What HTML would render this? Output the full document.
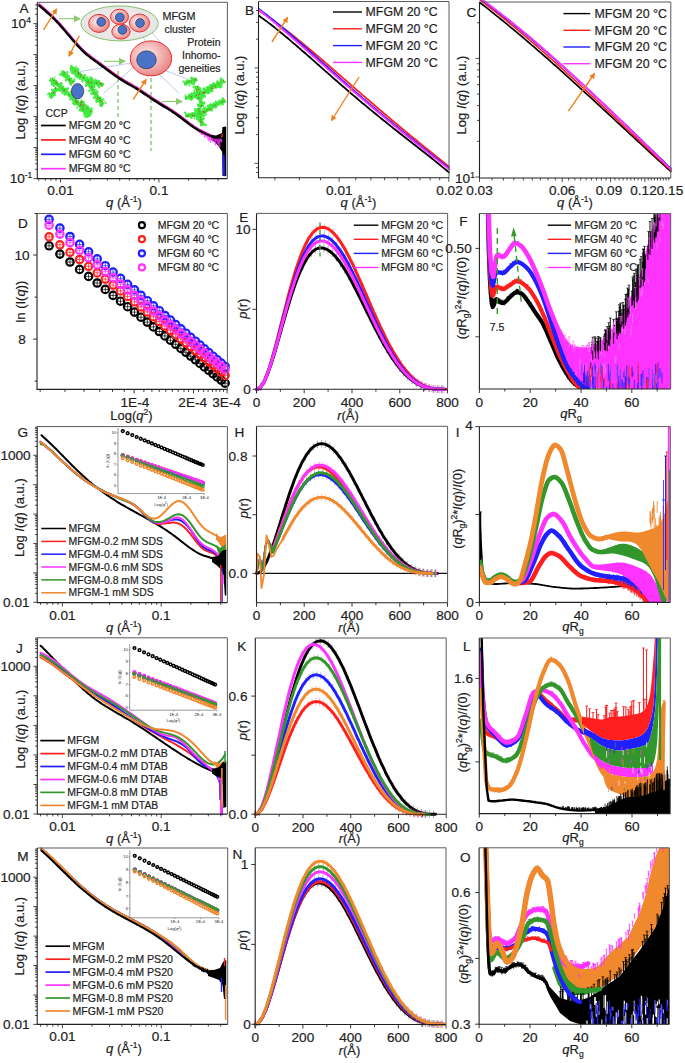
<!DOCTYPE html>
<html><head><meta charset="utf-8"><title>Figure</title>
<style>html,body{margin:0;padding:0;background:#fff;}svg{display:block;}
text{font-family:"Liberation Sans",sans-serif;stroke:#1e1e1e;stroke-width:0.2px;}</style></head>
<body><svg width="685" height="1063" viewBox="0 0 685 1063" font-family="Liberation Sans, sans-serif">
<rect width="685" height="1063" fill="#fff"/>
<defs>
<radialGradient id="cellg" cx="0.4" cy="0.4" r="0.65"><stop offset="0" stop-color="#fdf0f0"/><stop offset="0.5" stop-color="#f4b8b8"/><stop offset="1" stop-color="#e98080"/></radialGradient>
<radialGradient id="ellg" cx="0.5" cy="0.5" r="0.6"><stop offset="0" stop-color="#f4f4f4"/><stop offset="1" stop-color="#e2e2e2"/></radialGradient>
<marker id="ahO" markerWidth="6" markerHeight="6" refX="5" refY="3" orient="auto" markerUnits="userSpaceOnUse"><path d="M0,0 L6,3 L0,6 z" fill="#f0821e"/></marker>
<marker id="ahG" markerWidth="7" markerHeight="7" refX="6" refY="3.5" orient="auto" markerUnits="userSpaceOnUse"><path d="M0,0 L7,3.5 L0,7 z" fill="#8cc86e"/></marker>
</defs>
<line x1="140" y1="30" x2="147" y2="45" stroke="#8ea6d6" stroke-width="0.6"/>
<line x1="150" y1="31" x2="166" y2="48" stroke="#8ea6d6" stroke-width="0.6"/>
<line x1="80" y1="71.5" x2="137" y2="62" stroke="#8ea6d6" stroke-width="0.6"/>
<line x1="103.4" y1="93.4" x2="137" y2="64.2" stroke="#8ea6d6" stroke-width="0.6"/>
<line x1="164" y1="70" x2="186.6" y2="78.8" stroke="#8ea6d6" stroke-width="0.6"/>
<line x1="158" y1="73" x2="178.8" y2="93.2" stroke="#8ea6d6" stroke-width="0.6"/>
<ellipse cx="119.6" cy="23.4" rx="38.7" ry="17.5" fill="url(#ellg)" stroke="#86c06c" stroke-width="1"/>
<ellipse cx="99" cy="23.4" rx="10.4" ry="9" fill="url(#cellg)" stroke="#e83030" stroke-width="1"/>
<ellipse cx="101.2" cy="21.9" rx="4.4" ry="4.4" fill="#4a72c8" stroke="#223" stroke-width="0.6"/>
<ellipse cx="119.5" cy="16.8" rx="9" ry="7.6" fill="url(#cellg)" stroke="#e83030" stroke-width="1"/>
<ellipse cx="119.8" cy="17.3" rx="4.4" ry="4.4" fill="#4a72c8" stroke="#223" stroke-width="0.6"/>
<ellipse cx="121" cy="31.6" rx="9.2" ry="7.5" fill="url(#cellg)" stroke="#e83030" stroke-width="1"/>
<ellipse cx="122.4" cy="29.9" rx="4.4" ry="4.4" fill="#4a72c8" stroke="#223" stroke-width="0.6"/>
<ellipse cx="139.5" cy="23" rx="10" ry="9" fill="url(#cellg)" stroke="#e83030" stroke-width="1"/>
<ellipse cx="140" cy="23" rx="4.4" ry="4.4" fill="#4a72c8" stroke="#223" stroke-width="0.6"/>
<ellipse cx="151" cy="58.4" rx="20.7" ry="17.5" fill="url(#cellg)" stroke="#e83030" stroke-width="1"/>
<ellipse cx="146.5" cy="59.8" rx="9.8" ry="9" fill="#4a72c8" stroke="#223" stroke-width="0.6"/>
<path d="M50.6 82.6a1.3 1.3 0 1 0 2.6 0a1.3 1.3 0 1 0 -2.6 0M54.8 82.8a1.1 1.1 0 1 0 2.1 0a1.1 1.1 0 1 0 -2.1 0M61.2 91.1a0.8 0.8 0 1 0 1.6 0a0.8 0.8 0 1 0 -1.6 0M48.9 80.8a1 1 0 1 0 2.1 0a1 1 0 1 0 -2.1 0M66.8 88.8a1.1 1.1 0 1 0 2.1 0a1.1 1.1 0 1 0 -2.1 0M64.6 89.3a1.5 1.5 0 1 0 2.9 0a1.5 1.5 0 1 0 -2.9 0M69.7 91.3a0.7 0.7 0 1 0 1.4 0a0.7 0.7 0 1 0 -1.4 0M58.2 90.1a1 1 0 1 0 2 0a1 1 0 1 0 -2 0M54.8 81.8a0.7 0.7 0 1 0 1.4 0a0.7 0.7 0 1 0 -1.4 0M54.4 81.9a1.1 1.1 0 1 0 2.2 0a1.1 1.1 0 1 0 -2.2 0M55.8 81a0.9 0.9 0 1 0 1.8 0a0.9 0.9 0 1 0 -1.8 0M60 85.2a0.7 0.7 0 1 0 1.4 0a0.7 0.7 0 1 0 -1.4 0M65.4 93a1.2 1.2 0 1 0 2.4 0a1.2 1.2 0 1 0 -2.4 0M50.8 84.3a1.4 1.4 0 1 0 2.8 0a1.4 1.4 0 1 0 -2.8 0M52.8 79.7a1.3 1.3 0 1 0 2.6 0a1.3 1.3 0 1 0 -2.6 0M61.4 92.9a1 1 0 1 0 2.1 0a1 1 0 1 0 -2.1 0M65 93.5a0.9 0.9 0 1 0 1.9 0a0.9 0.9 0 1 0 -1.9 0M59 90.5a1.4 1.4 0 1 0 2.8 0a1.4 1.4 0 1 0 -2.8 0M59.4 87.6a0.7 0.7 0 1 0 1.5 0a0.7 0.7 0 1 0 -1.5 0M53.2 84.2a1 1 0 1 0 2.1 0a1 1 0 1 0 -2.1 0M52.8 81.7a1.3 1.3 0 1 0 2.5 0a1.3 1.3 0 1 0 -2.5 0M63.4 89.3a1.1 1.1 0 1 0 2.1 0a1.1 1.1 0 1 0 -2.1 0M58.2 88.6a1.1 1.1 0 1 0 2.2 0a1.1 1.1 0 1 0 -2.2 0M57.8 85.1a0.7 0.7 0 1 0 1.4 0a0.7 0.7 0 1 0 -1.4 0M49.4 80.3a1.5 1.5 0 1 0 3 0a1.5 1.5 0 1 0 -3 0M61.9 88a0.8 0.8 0 1 0 1.7 0a0.8 0.8 0 1 0 -1.7 0M56.9 89.6a1.3 1.3 0 1 0 2.6 0a1.3 1.3 0 1 0 -2.6 0M58.6 89.6a0.9 0.9 0 1 0 1.8 0a0.9 0.9 0 1 0 -1.8 0M57.4 89.7a1.2 1.2 0 1 0 2.3 0a1.2 1.2 0 1 0 -2.3 0M59.7 85.1a1.1 1.1 0 1 0 2.3 0a1.1 1.1 0 1 0 -2.3 0M70.2 92.1a1.3 1.3 0 1 0 2.7 0a1.3 1.3 0 1 0 -2.7 0M63.4 94.5a1.3 1.3 0 1 0 2.6 0a1.3 1.3 0 1 0 -2.6 0M65.1 92.4a1.1 1.1 0 1 0 2.3 0a1.1 1.1 0 1 0 -2.3 0M59.8 83.4a1.4 1.4 0 1 0 2.8 0a1.4 1.4 0 1 0 -2.8 0M62.2 86.6a1.1 1.1 0 1 0 2.2 0a1.1 1.1 0 1 0 -2.2 0M59.9 86a1 1 0 1 0 2 0a1 1 0 1 0 -2 0M59.4 88.3a1.2 1.2 0 1 0 2.4 0a1.2 1.2 0 1 0 -2.4 0M61.1 83.8a0.9 0.9 0 1 0 1.8 0a0.9 0.9 0 1 0 -1.8 0M52.6 82a1.4 1.4 0 1 0 2.8 0a1.4 1.4 0 1 0 -2.8 0M63.4 93.7a1.4 1.4 0 1 0 2.7 0a1.4 1.4 0 1 0 -2.7 0M53 84.7a1.2 1.2 0 1 0 2.5 0a1.2 1.2 0 1 0 -2.5 0M54.2 77.3a0.7 0.7 0 1 0 1.4 0a0.7 0.7 0 1 0 -1.4 0M86.9 116.5a1.1 1.1 0 1 0 2.2 0a1.1 1.1 0 1 0 -2.2 0M72.7 100.7a1 1 0 1 0 2 0a1 1 0 1 0 -2 0M81.2 106.1a1.2 1.2 0 1 0 2.4 0a1.2 1.2 0 1 0 -2.4 0M70.7 95.7a1.5 1.5 0 1 0 2.9 0a1.5 1.5 0 1 0 -2.9 0M87.1 112a1.4 1.4 0 1 0 2.8 0a1.4 1.4 0 1 0 -2.8 0M72.7 103.9a1.3 1.3 0 1 0 2.6 0a1.3 1.3 0 1 0 -2.6 0M78.9 102.6a0.7 0.7 0 1 0 1.4 0a0.7 0.7 0 1 0 -1.4 0M88.6 110.7a1.4 1.4 0 1 0 2.7 0a1.4 1.4 0 1 0 -2.7 0M88 115.1a0.8 0.8 0 1 0 1.7 0a0.8 0.8 0 1 0 -1.7 0M83.7 115.3a1.3 1.3 0 1 0 2.5 0a1.3 1.3 0 1 0 -2.5 0M79.8 105.1a1 1 0 1 0 2 0a1 1 0 1 0 -2 0M72.2 100.5a1 1 0 1 0 2.1 0a1 1 0 1 0 -2.1 0M74.7 97.4a1.2 1.2 0 1 0 2.5 0a1.2 1.2 0 1 0 -2.5 0M75 101.4a1 1 0 1 0 1.9 0a1 1 0 1 0 -1.9 0M84.7 115a0.7 0.7 0 1 0 1.4 0a0.7 0.7 0 1 0 -1.4 0M73.4 98.6a1.5 1.5 0 1 0 3 0a1.5 1.5 0 1 0 -3 0M85.6 110.3a0.9 0.9 0 1 0 1.7 0a0.9 0.9 0 1 0 -1.7 0M80.3 110.7a1.4 1.4 0 1 0 2.9 0a1.4 1.4 0 1 0 -2.9 0M73.7 104.3a1.2 1.2 0 1 0 2.5 0a1.2 1.2 0 1 0 -2.5 0M76.3 107.7a0.9 0.9 0 1 0 1.8 0a0.9 0.9 0 1 0 -1.8 0M85.8 107.9a0.8 0.8 0 1 0 1.7 0a0.8 0.8 0 1 0 -1.7 0M88.4 112.3a1.3 1.3 0 1 0 2.6 0a1.3 1.3 0 1 0 -2.6 0M79.3 109.2a1 1 0 1 0 2 0a1 1 0 1 0 -2 0M76.5 101.2a1.4 1.4 0 1 0 2.8 0a1.4 1.4 0 1 0 -2.8 0M78.4 109.9a1.4 1.4 0 1 0 2.8 0a1.4 1.4 0 1 0 -2.8 0M71.7 98.5a0.8 0.8 0 1 0 1.6 0a0.8 0.8 0 1 0 -1.6 0M71.6 94.1a1.4 1.4 0 1 0 2.8 0a1.4 1.4 0 1 0 -2.8 0M83.1 112.9a1 1 0 1 0 1.9 0a1 1 0 1 0 -1.9 0M79.9 109.2a1 1 0 1 0 2 0a1 1 0 1 0 -2 0M82.1 105.5a0.8 0.8 0 1 0 1.5 0a0.8 0.8 0 1 0 -1.5 0M72.2 102.8a1.2 1.2 0 1 0 2.3 0a1.2 1.2 0 1 0 -2.3 0M87.8 113.8a0.9 0.9 0 1 0 1.8 0a0.9 0.9 0 1 0 -1.8 0M83.4 112.9a0.7 0.7 0 1 0 1.4 0a0.7 0.7 0 1 0 -1.4 0M84.7 106.8a0.8 0.8 0 1 0 1.6 0a0.8 0.8 0 1 0 -1.6 0M89.2 110.9a0.9 0.9 0 1 0 1.8 0a0.9 0.9 0 1 0 -1.8 0M89.4 114.9a0.8 0.8 0 1 0 1.6 0a0.8 0.8 0 1 0 -1.6 0M73.4 97.5a1.3 1.3 0 1 0 2.6 0a1.3 1.3 0 1 0 -2.6 0M69 99.6a1 1 0 1 0 2 0a1 1 0 1 0 -2 0M86.4 117a0.9 0.9 0 1 0 1.9 0a0.9 0.9 0 1 0 -1.9 0M74.4 100.5a0.8 0.8 0 1 0 1.6 0a0.8 0.8 0 1 0 -1.6 0M84.7 106.2a0.7 0.7 0 1 0 1.4 0a0.7 0.7 0 1 0 -1.4 0M89.5 114.1a1.2 1.2 0 1 0 2.4 0a1.2 1.2 0 1 0 -2.4 0M79.2 103.5a0.8 0.8 0 1 0 1.5 0a0.8 0.8 0 1 0 -1.5 0M84.4 116.2a1.5 1.5 0 1 0 3 0a1.5 1.5 0 1 0 -3 0M72.5 96.3a1.2 1.2 0 1 0 2.4 0a1.2 1.2 0 1 0 -2.4 0M88.1 115.3a1.3 1.3 0 1 0 2.5 0a1.3 1.3 0 1 0 -2.5 0M83.3 107.5a1.1 1.1 0 1 0 2.3 0a1.1 1.1 0 1 0 -2.3 0M72.8 80.8a1.3 1.3 0 1 0 2.6 0a1.3 1.3 0 1 0 -2.6 0M70.2 84.4a1 1 0 1 0 1.9 0a1 1 0 1 0 -1.9 0M61.7 72.8a1.4 1.4 0 1 0 2.9 0a1.4 1.4 0 1 0 -2.9 0M62.4 76.8a0.8 0.8 0 1 0 1.6 0a0.8 0.8 0 1 0 -1.6 0M73.5 79.6a1 1 0 1 0 1.9 0a1 1 0 1 0 -1.9 0M68.9 83.4a1.4 1.4 0 1 0 2.9 0a1.4 1.4 0 1 0 -2.9 0M68.7 82.4a1.3 1.3 0 1 0 2.5 0a1.3 1.3 0 1 0 -2.5 0M63.5 73.2a0.8 0.8 0 1 0 1.7 0a0.8 0.8 0 1 0 -1.7 0M68.1 80.6a0.9 0.9 0 1 0 1.8 0a0.9 0.9 0 1 0 -1.8 0M59 74.5a1.3 1.3 0 1 0 2.7 0a1.3 1.3 0 1 0 -2.7 0M66.4 78a1.4 1.4 0 1 0 2.8 0a1.4 1.4 0 1 0 -2.8 0M66.6 76.2a1 1 0 1 0 1.9 0a1 1 0 1 0 -1.9 0M66.1 72.1a1.2 1.2 0 1 0 2.4 0a1.2 1.2 0 1 0 -2.4 0M65.5 76.6a0.7 0.7 0 1 0 1.5 0a0.7 0.7 0 1 0 -1.5 0M67 73.8a0.8 0.8 0 1 0 1.6 0a0.8 0.8 0 1 0 -1.6 0M62.1 76.1a1 1 0 1 0 2 0a1 1 0 1 0 -2 0M64.9 76.7a0.9 0.9 0 1 0 1.8 0a0.9 0.9 0 1 0 -1.8 0M60.8 71.7a1.1 1.1 0 1 0 2.2 0a1.1 1.1 0 1 0 -2.2 0M68.2 78.7a1.2 1.2 0 1 0 2.5 0a1.2 1.2 0 1 0 -2.5 0M70.3 78.6a1.1 1.1 0 1 0 2.2 0a1.1 1.1 0 1 0 -2.2 0M67.7 75.6a1 1 0 1 0 2.1 0a1 1 0 1 0 -2.1 0M64.6 80a1.4 1.4 0 1 0 2.9 0a1.4 1.4 0 1 0 -2.9 0M63.5 75.4a0.7 0.7 0 1 0 1.5 0a0.7 0.7 0 1 0 -1.5 0M61.3 72.4a1.4 1.4 0 1 0 2.8 0a1.4 1.4 0 1 0 -2.8 0M61 74.7a1.4 1.4 0 1 0 2.8 0a1.4 1.4 0 1 0 -2.8 0M63 76a1.4 1.4 0 1 0 2.8 0a1.4 1.4 0 1 0 -2.8 0M63.8 76.8a1.3 1.3 0 1 0 2.6 0a1.3 1.3 0 1 0 -2.6 0M71.2 72.5a1.5 1.5 0 1 0 2.9 0a1.5 1.5 0 1 0 -2.9 0M70 70.1a1.4 1.4 0 1 0 2.7 0a1.4 1.4 0 1 0 -2.7 0M78.7 76.6a1.1 1.1 0 1 0 2.1 0a1.1 1.1 0 1 0 -2.1 0M81.6 81.6a1 1 0 1 0 2 0a1 1 0 1 0 -2 0M82.4 77a0.8 0.8 0 1 0 1.7 0a0.8 0.8 0 1 0 -1.7 0M75.9 69a1.4 1.4 0 1 0 2.9 0a1.4 1.4 0 1 0 -2.9 0M86 77.4a1.2 1.2 0 1 0 2.4 0a1.2 1.2 0 1 0 -2.4 0M77.7 70a0.9 0.9 0 1 0 1.9 0a0.9 0.9 0 1 0 -1.9 0M72.5 71.4a0.7 0.7 0 1 0 1.4 0a0.7 0.7 0 1 0 -1.4 0M73 68.9a0.7 0.7 0 1 0 1.4 0a0.7 0.7 0 1 0 -1.4 0M78.4 75.6a1.4 1.4 0 1 0 2.7 0a1.4 1.4 0 1 0 -2.7 0M73.6 68.3a1.1 1.1 0 1 0 2.3 0a1.1 1.1 0 1 0 -2.3 0M73.4 70.8a0.9 0.9 0 1 0 1.8 0a0.9 0.9 0 1 0 -1.8 0M78.4 77.4a1.3 1.3 0 1 0 2.7 0a1.3 1.3 0 1 0 -2.7 0M84.3 79.9a1.1 1.1 0 1 0 2.2 0a1.1 1.1 0 1 0 -2.2 0M81.3 79.6a1.2 1.2 0 1 0 2.3 0a1.2 1.2 0 1 0 -2.3 0M76.7 70.6a0.8 0.8 0 1 0 1.6 0a0.8 0.8 0 1 0 -1.6 0M83.5 75.4a1.3 1.3 0 1 0 2.6 0a1.3 1.3 0 1 0 -2.6 0M75.5 76.5a1.3 1.3 0 1 0 2.6 0a1.3 1.3 0 1 0 -2.6 0M86.2 77.7a1.1 1.1 0 1 0 2.2 0a1.1 1.1 0 1 0 -2.2 0M79.2 73.3a1.1 1.1 0 1 0 2.2 0a1.1 1.1 0 1 0 -2.2 0M75.2 71.6a0.7 0.7 0 1 0 1.4 0a0.7 0.7 0 1 0 -1.4 0M76.6 72.3a0.9 0.9 0 1 0 1.9 0a0.9 0.9 0 1 0 -1.9 0M74.1 73.6a1.2 1.2 0 1 0 2.5 0a1.2 1.2 0 1 0 -2.5 0M76.4 74.1a1 1 0 1 0 2 0a1 1 0 1 0 -2 0M75.1 66.7a0.9 0.9 0 1 0 1.8 0a0.9 0.9 0 1 0 -1.8 0M76.6 76.7a1.4 1.4 0 1 0 2.7 0a1.4 1.4 0 1 0 -2.7 0M75.1 76.2a1.1 1.1 0 1 0 2.1 0a1.1 1.1 0 1 0 -2.1 0M82.6 77.3a1.3 1.3 0 1 0 2.6 0a1.3 1.3 0 1 0 -2.6 0M85.9 78.8a0.8 0.8 0 1 0 1.7 0a0.8 0.8 0 1 0 -1.7 0M79 75.1a1 1 0 1 0 2 0a1 1 0 1 0 -2 0M70 66.1a1 1 0 1 0 2.1 0a1 1 0 1 0 -2.1 0M73.9 74.1a1.2 1.2 0 1 0 2.3 0a1.2 1.2 0 1 0 -2.3 0M78.7 78.6a1.3 1.3 0 1 0 2.6 0a1.3 1.3 0 1 0 -2.6 0M91 82.9a0.7 0.7 0 1 0 1.4 0a0.7 0.7 0 1 0 -1.4 0M92.5 85.6a1.3 1.3 0 1 0 2.5 0a1.3 1.3 0 1 0 -2.5 0M91.3 83.3a1.2 1.2 0 1 0 2.4 0a1.2 1.2 0 1 0 -2.4 0M88.7 79a1.4 1.4 0 1 0 2.8 0a1.4 1.4 0 1 0 -2.8 0M90.1 78.4a1.4 1.4 0 1 0 2.7 0a1.4 1.4 0 1 0 -2.7 0M94.1 81.7a1.1 1.1 0 1 0 2.2 0a1.1 1.1 0 1 0 -2.2 0M98 81.4a1.2 1.2 0 1 0 2.4 0a1.2 1.2 0 1 0 -2.4 0M96.6 85.7a0.9 0.9 0 1 0 1.8 0a0.9 0.9 0 1 0 -1.8 0M95.8 81.2a1.1 1.1 0 1 0 2.3 0a1.1 1.1 0 1 0 -2.3 0M86.9 82.9a1.4 1.4 0 1 0 2.8 0a1.4 1.4 0 1 0 -2.8 0M90.7 79.7a1.5 1.5 0 1 0 2.9 0a1.5 1.5 0 1 0 -2.9 0M96.6 85.9a0.7 0.7 0 1 0 1.4 0a0.7 0.7 0 1 0 -1.4 0M100.1 85.3a1 1 0 1 0 1.9 0a1 1 0 1 0 -1.9 0M91.5 84a1.3 1.3 0 1 0 2.7 0a1.3 1.3 0 1 0 -2.7 0M88.1 81.8a0.8 0.8 0 1 0 1.7 0a0.8 0.8 0 1 0 -1.7 0M101.2 84.5a1.4 1.4 0 1 0 2.9 0a1.4 1.4 0 1 0 -2.9 0M97.3 84.4a0.9 0.9 0 1 0 1.8 0a0.9 0.9 0 1 0 -1.8 0M94.9 80.1a0.8 0.8 0 1 0 1.6 0a0.8 0.8 0 1 0 -1.6 0M97.1 82.6a1.3 1.3 0 1 0 2.6 0a1.3 1.3 0 1 0 -2.6 0M88.4 82.7a1.3 1.3 0 1 0 2.5 0a1.3 1.3 0 1 0 -2.5 0M91 78.8a1 1 0 1 0 2 0a1 1 0 1 0 -2 0M94.3 79.7a0.8 0.8 0 1 0 1.7 0a0.8 0.8 0 1 0 -1.7 0M85.3 81a1.4 1.4 0 1 0 2.8 0a1.4 1.4 0 1 0 -2.8 0M89.4 77.9a1.3 1.3 0 1 0 2.5 0a1.3 1.3 0 1 0 -2.5 0M97.7 87.3a1.2 1.2 0 1 0 2.4 0a1.2 1.2 0 1 0 -2.4 0M90.3 84a0.8 0.8 0 1 0 1.6 0a0.8 0.8 0 1 0 -1.6 0M97.6 80.7a1 1 0 1 0 2 0a1 1 0 1 0 -2 0M93.8 81.6a0.8 0.8 0 1 0 1.7 0a0.8 0.8 0 1 0 -1.7 0M88.2 83.4a1.1 1.1 0 1 0 2.1 0a1.1 1.1 0 1 0 -2.1 0M95.2 80.9a1.3 1.3 0 1 0 2.5 0a1.3 1.3 0 1 0 -2.5 0M103.4 100.8a0.7 0.7 0 1 0 1.5 0a0.7 0.7 0 1 0 -1.5 0M102.1 99.2a0.9 0.9 0 1 0 1.8 0a0.9 0.9 0 1 0 -1.8 0M89.7 81.3a0.7 0.7 0 1 0 1.4 0a0.7 0.7 0 1 0 -1.4 0M94.1 96.9a1.2 1.2 0 1 0 2.5 0a1.2 1.2 0 1 0 -2.5 0M98.4 101.8a1 1 0 1 0 2 0a1 1 0 1 0 -2 0M92.7 97.7a1.2 1.2 0 1 0 2.4 0a1.2 1.2 0 1 0 -2.4 0M91.3 84.3a1.4 1.4 0 1 0 2.9 0a1.4 1.4 0 1 0 -2.9 0M95.7 94.2a1.2 1.2 0 1 0 2.4 0a1.2 1.2 0 1 0 -2.4 0M94.6 94.1a0.7 0.7 0 1 0 1.5 0a0.7 0.7 0 1 0 -1.5 0M91.7 88.5a0.9 0.9 0 1 0 1.7 0a0.9 0.9 0 1 0 -1.7 0M100.2 101.7a1.2 1.2 0 1 0 2.5 0a1.2 1.2 0 1 0 -2.5 0M95.4 98.8a1.3 1.3 0 1 0 2.6 0a1.3 1.3 0 1 0 -2.6 0M98.8 97.8a1.5 1.5 0 1 0 3 0a1.5 1.5 0 1 0 -3 0M84.7 85.5a1.4 1.4 0 1 0 2.8 0a1.4 1.4 0 1 0 -2.8 0M102.4 99.5a0.8 0.8 0 1 0 1.5 0a0.8 0.8 0 1 0 -1.5 0M99 100.2a1 1 0 1 0 2 0a1 1 0 1 0 -2 0M104.4 102.8a1.1 1.1 0 1 0 2.3 0a1.1 1.1 0 1 0 -2.3 0M94.7 89.6a1 1 0 1 0 2 0a1 1 0 1 0 -2 0M95 99.2a0.7 0.7 0 1 0 1.4 0a0.7 0.7 0 1 0 -1.4 0M96 91.5a1.3 1.3 0 1 0 2.7 0a1.3 1.3 0 1 0 -2.7 0M89.2 80.3a1 1 0 1 0 2 0a1 1 0 1 0 -2 0M98.8 97.6a0.8 0.8 0 1 0 1.6 0a0.8 0.8 0 1 0 -1.6 0M96.3 101.1a1.4 1.4 0 1 0 2.8 0a1.4 1.4 0 1 0 -2.8 0M90.7 87.3a0.9 0.9 0 1 0 1.8 0a0.9 0.9 0 1 0 -1.8 0M95.5 93.2a1 1 0 1 0 1.9 0a1 1 0 1 0 -1.9 0M95.4 101.4a1.2 1.2 0 1 0 2.3 0a1.2 1.2 0 1 0 -2.3 0M85.8 83.2a1.1 1.1 0 1 0 2.1 0a1.1 1.1 0 1 0 -2.1 0M100.1 105.6a1.4 1.4 0 1 0 2.7 0a1.4 1.4 0 1 0 -2.7 0M96.3 97.7a1.4 1.4 0 1 0 2.8 0a1.4 1.4 0 1 0 -2.8 0M100.6 99.9a0.8 0.8 0 1 0 1.7 0a0.8 0.8 0 1 0 -1.7 0M91.4 89.3a0.8 0.8 0 1 0 1.6 0a0.8 0.8 0 1 0 -1.6 0M90.7 88.9a0.7 0.7 0 1 0 1.5 0a0.7 0.7 0 1 0 -1.5 0M98 101a1 1 0 1 0 1.9 0a1 1 0 1 0 -1.9 0M91 86.9a1 1 0 1 0 1.9 0a1 1 0 1 0 -1.9 0M97.6 98.7a1.1 1.1 0 1 0 2.2 0a1.1 1.1 0 1 0 -2.2 0M85.1 85.4a1 1 0 1 0 1.9 0a1 1 0 1 0 -1.9 0M92.7 86.4a1.5 1.5 0 1 0 3 0a1.5 1.5 0 1 0 -3 0M90.3 93.7a1.4 1.4 0 1 0 2.9 0a1.4 1.4 0 1 0 -2.9 0M99.2 105.5a1.4 1.4 0 1 0 2.9 0a1.4 1.4 0 1 0 -2.9 0M99.1 104.3a0.8 0.8 0 1 0 1.6 0a0.8 0.8 0 1 0 -1.6 0M93 93.4a1.5 1.5 0 1 0 3 0a1.5 1.5 0 1 0 -3 0M96.8 100.4a1.3 1.3 0 1 0 2.6 0a1.3 1.3 0 1 0 -2.6 0M88.3 90.8a1.2 1.2 0 1 0 2.4 0a1.2 1.2 0 1 0 -2.4 0M91.6 89.9a1.5 1.5 0 1 0 3 0a1.5 1.5 0 1 0 -3 0M96.2 92a0.8 0.8 0 1 0 1.6 0a0.8 0.8 0 1 0 -1.6 0M95.9 97.4a1.4 1.4 0 1 0 2.9 0a1.4 1.4 0 1 0 -2.9 0M88.4 84.3a1.3 1.3 0 1 0 2.6 0a1.3 1.3 0 1 0 -2.6 0M88.1 79.6a1.1 1.1 0 1 0 2.3 0a1.1 1.1 0 1 0 -2.3 0M91.9 85.1a0.9 0.9 0 1 0 1.8 0a0.9 0.9 0 1 0 -1.8 0M95.8 95.9a0.8 0.8 0 1 0 1.5 0a0.8 0.8 0 1 0 -1.5 0M81 101.8a1.4 1.4 0 1 0 2.8 0a1.4 1.4 0 1 0 -2.8 0M85.1 112.2a1.1 1.1 0 1 0 2.3 0a1.1 1.1 0 1 0 -2.3 0M85.2 108.1a1.1 1.1 0 1 0 2.2 0a1.1 1.1 0 1 0 -2.2 0M83.2 109.1a1.5 1.5 0 1 0 2.9 0a1.5 1.5 0 1 0 -2.9 0M83.1 106.7a0.9 0.9 0 1 0 1.9 0a0.9 0.9 0 1 0 -1.9 0M82.3 104.9a1.2 1.2 0 1 0 2.3 0a1.2 1.2 0 1 0 -2.3 0M83.1 110a0.8 0.8 0 1 0 1.7 0a0.8 0.8 0 1 0 -1.7 0M83.6 111.1a1.3 1.3 0 1 0 2.6 0a1.3 1.3 0 1 0 -2.6 0M86.1 107a1 1 0 1 0 2 0a1 1 0 1 0 -2 0M87.6 113.9a1.2 1.2 0 1 0 2.5 0a1.2 1.2 0 1 0 -2.5 0M86.8 113.6a1.4 1.4 0 1 0 2.8 0a1.4 1.4 0 1 0 -2.8 0M83.2 105.5a1.3 1.3 0 1 0 2.7 0a1.3 1.3 0 1 0 -2.7 0M82 106.9a1.1 1.1 0 1 0 2.2 0a1.1 1.1 0 1 0 -2.2 0M83.3 105a0.8 0.8 0 1 0 1.6 0a0.8 0.8 0 1 0 -1.6 0M83.8 105a0.7 0.7 0 1 0 1.4 0a0.7 0.7 0 1 0 -1.4 0M81.8 102.1a1.4 1.4 0 1 0 2.8 0a1.4 1.4 0 1 0 -2.8 0M86.3 106.9a1.5 1.5 0 1 0 3 0a1.5 1.5 0 1 0 -3 0M81.6 104.4a1.3 1.3 0 1 0 2.6 0a1.3 1.3 0 1 0 -2.6 0M87 108.8a1.3 1.3 0 1 0 2.6 0a1.3 1.3 0 1 0 -2.6 0M83.4 108a1.1 1.1 0 1 0 2.2 0a1.1 1.1 0 1 0 -2.2 0M89.3 113.3a0.8 0.8 0 1 0 1.5 0a0.8 0.8 0 1 0 -1.5 0M78.3 105.4a0.9 0.9 0 1 0 1.8 0a0.9 0.9 0 1 0 -1.8 0M80.4 100.5a1.1 1.1 0 1 0 2.2 0a1.1 1.1 0 1 0 -2.2 0M90.2 111.4a1.3 1.3 0 1 0 2.6 0a1.3 1.3 0 1 0 -2.6 0M90.5 108.5a1.2 1.2 0 1 0 2.4 0a1.2 1.2 0 1 0 -2.4 0M90.1 112.7a1.1 1.1 0 1 0 2.3 0a1.1 1.1 0 1 0 -2.3 0M80.3 107.6a1.5 1.5 0 1 0 3 0a1.5 1.5 0 1 0 -3 0M51.1 89.7a0.9 0.9 0 1 0 1.7 0a0.9 0.9 0 1 0 -1.7 0M52.4 93.1a1.4 1.4 0 1 0 2.8 0a1.4 1.4 0 1 0 -2.8 0M50.2 97.9a1.1 1.1 0 1 0 2.2 0a1.1 1.1 0 1 0 -2.2 0M49.6 95.9a0.9 0.9 0 1 0 1.7 0a0.9 0.9 0 1 0 -1.7 0M51.5 95.6a1.1 1.1 0 1 0 2.2 0a1.1 1.1 0 1 0 -2.2 0M52.9 85.9a1.2 1.2 0 1 0 2.5 0a1.2 1.2 0 1 0 -2.5 0M46.9 94.3a0.9 0.9 0 1 0 1.8 0a0.9 0.9 0 1 0 -1.8 0M52.2 93.1a1.3 1.3 0 1 0 2.6 0a1.3 1.3 0 1 0 -2.6 0M51.7 96.8a0.9 0.9 0 1 0 1.8 0a0.9 0.9 0 1 0 -1.8 0M51.8 94.7a0.8 0.8 0 1 0 1.6 0a0.8 0.8 0 1 0 -1.6 0M54.1 89.5a1.2 1.2 0 1 0 2.4 0a1.2 1.2 0 1 0 -2.4 0M48.9 96.5a1.2 1.2 0 1 0 2.4 0a1.2 1.2 0 1 0 -2.4 0M55.5 89.7a0.9 0.9 0 1 0 1.8 0a0.9 0.9 0 1 0 -1.8 0M52.6 95.3a0.9 0.9 0 1 0 1.7 0a0.9 0.9 0 1 0 -1.7 0M53.6 91.4a1 1 0 1 0 1.9 0a1 1 0 1 0 -1.9 0M53.2 94.9a1.4 1.4 0 1 0 2.8 0a1.4 1.4 0 1 0 -2.8 0M51.2 94.1a0.7 0.7 0 1 0 1.5 0a0.7 0.7 0 1 0 -1.5 0M52.4 90.1a1.2 1.2 0 1 0 2.4 0a1.2 1.2 0 1 0 -2.4 0M48.1 93.6a1 1 0 1 0 1.9 0a1 1 0 1 0 -1.9 0M53.7 93.2a0.8 0.8 0 1 0 1.6 0a0.8 0.8 0 1 0 -1.6 0" fill="#3ef03e"/>
<path d="M51 78.5L70 95.5M70 95.5L90 115.5M62 71.5L73 83M70.5 66.7L86 80M86 80L103 85M86 80L103 105M80 101.5L91.5 112.5M57 88L50 97" stroke="#3ee83e" stroke-width="4.0" fill="none"/>
<path d="M64.3 90.4L65.2 90.4M62 88.1L62.9 88.1M53.6 80.4L54.5 80.4M56.2 83L57.1 83M56.6 82.8L57.5 82.8M57.7 84.3L58.6 84.3M53.6 80.4L54.5 80.4M54.8 82.8L55.7 82.8M49.8 78L50.7 78M63.4 91.2L64.3 91.2M63.5 89.4L64.4 89.4M75.1 100.6L76 100.6M76.3 101L77.2 101M82.9 109.6L83.8 109.6M76.9 102.9L77.8 102.9M76.7 102.8L77.6 102.8M75.2 101.7L76.1 101.7M81.4 106.5L82.3 106.5M69.3 94.9L70.2 94.9M79.5 105.5L80.4 105.5M81.8 108.9L82.7 108.9M80.3 104.5L81.2 104.5M80.3 104.5L81.2 104.5M68.9 79.3L69.8 79.3M72.3 81.8L73.2 81.8M63.6 74.5L64.5 74.5M68.8 80.7L69.7 80.7M69.1 79.8L70 79.8M63.9 72.3L64.8 72.3M73.1 83.1L74 83.1M78.3 73.6L79.2 73.6M80.4 75.1L81.3 75.1M80.1 76.1L81 76.1M83 77.7L83.9 77.7M82.9 77.2L83.8 77.2M74.7 71.1L75.6 71.1M77.7 74.7L78.6 74.7M77.5 72.1L78.4 72.1M78.5 73.3L79.4 73.3M91.4 82.6L92.3 82.6M101.4 85.7L102.3 85.7M99.7 84L100.6 84M96.4 82.7L97.3 82.7M101.1 83.6L102 83.6M99.9 83.7L100.8 83.7M95.8 83L96.7 83M87.7 81.5L88.6 81.5M87.6 82.2L88.5 82.2M89.4 83.2L90.3 83.2M92.6 89.7L93.5 89.7M91.3 87.3L92.2 87.3M101.2 101.5L102.1 101.5M97.1 98L98 98M99.7 100.7L100.6 100.7M101.9 104.2L102.8 104.2M98.9 98.7L99.8 98.7M93.6 93.1L94.5 93.1M99.3 98.8L100.2 98.8M99.9 100.5L100.8 100.5M91.1 86.3L92 86.3M80.9 102.4L81.8 102.4M86.4 108.3L87.3 108.3M82.7 105.3L83.6 105.3M90.1 111.4L91 111.4M80.3 102.9L81.2 102.9M83 105.7L83.9 105.7M81.7 101.8L82.6 101.8M55 88.3L55.9 88.3M53.3 93L54.2 93M51.1 93.4L52 93.4M53.5 92.9L54.4 92.9M55.4 87.6L56.3 87.6" stroke="#b8401c" stroke-width="0.9" fill="none"/>
<ellipse cx="77.6" cy="91.2" rx="6.2" ry="7.7" fill="#4a72c8" stroke="#223" stroke-width="0.6"/>
<path d="M190 78.1a0.9 0.9 0 1 0 1.8 0a0.9 0.9 0 1 0 -1.8 0M193.1 83.9a1 1 0 1 0 1.9 0a1 1 0 1 0 -1.9 0M191.1 81.1a0.7 0.7 0 1 0 1.4 0a0.7 0.7 0 1 0 -1.4 0M186.5 79.9a0.9 0.9 0 1 0 1.8 0a0.9 0.9 0 1 0 -1.8 0M193.7 81.4a0.7 0.7 0 1 0 1.5 0a0.7 0.7 0 1 0 -1.5 0M184.8 85.1a0.8 0.8 0 1 0 1.6 0a0.8 0.8 0 1 0 -1.6 0M186.8 80.9a0.7 0.7 0 1 0 1.5 0a0.7 0.7 0 1 0 -1.5 0M182.5 81.4a1 1 0 1 0 2 0a1 1 0 1 0 -2 0M195.6 80.3a0.9 0.9 0 1 0 1.8 0a0.9 0.9 0 1 0 -1.8 0M191.1 79.1a1.1 1.1 0 1 0 2.2 0a1.1 1.1 0 1 0 -2.2 0M188.4 85.4a1 1 0 1 0 2 0a1 1 0 1 0 -2 0M193.4 80.9a1.4 1.4 0 1 0 2.7 0a1.4 1.4 0 1 0 -2.7 0M191.8 83.5a1 1 0 1 0 2 0a1 1 0 1 0 -2 0M192 81.4a1.1 1.1 0 1 0 2.2 0a1.1 1.1 0 1 0 -2.2 0M190.4 81.4a1 1 0 1 0 2 0a1 1 0 1 0 -2 0M194.9 80.4a1.1 1.1 0 1 0 2.3 0a1.1 1.1 0 1 0 -2.3 0M183.9 83.8a0.8 0.8 0 1 0 1.7 0a0.8 0.8 0 1 0 -1.7 0M185.5 82.5a1.1 1.1 0 1 0 2.3 0a1.1 1.1 0 1 0 -2.3 0M185.5 81.2a1.1 1.1 0 1 0 2.2 0a1.1 1.1 0 1 0 -2.2 0M189.1 81a0.8 0.8 0 1 0 1.6 0a0.8 0.8 0 1 0 -1.6 0M188.1 83.2a1.1 1.1 0 1 0 2.3 0a1.1 1.1 0 1 0 -2.3 0M190.7 83.6a1.3 1.3 0 1 0 2.6 0a1.3 1.3 0 1 0 -2.6 0M190.7 77.4a0.9 0.9 0 1 0 1.9 0a0.9 0.9 0 1 0 -1.9 0M190.6 78.3a1.4 1.4 0 1 0 2.9 0a1.4 1.4 0 1 0 -2.9 0M197.7 98.5a1.2 1.2 0 1 0 2.4 0a1.2 1.2 0 1 0 -2.4 0M189 97.5a1.4 1.4 0 1 0 2.8 0a1.4 1.4 0 1 0 -2.8 0M190.6 98.8a1.2 1.2 0 1 0 2.4 0a1.2 1.2 0 1 0 -2.4 0M190.5 100a1 1 0 1 0 2.1 0a1 1 0 1 0 -2.1 0M191.8 93.3a1.1 1.1 0 1 0 2.2 0a1.1 1.1 0 1 0 -2.2 0M185.1 99.3a0.7 0.7 0 1 0 1.4 0a0.7 0.7 0 1 0 -1.4 0M184.3 95.1a0.8 0.8 0 1 0 1.6 0a0.8 0.8 0 1 0 -1.6 0M191 95.7a0.9 0.9 0 1 0 1.8 0a0.9 0.9 0 1 0 -1.8 0M198.1 98.3a1.2 1.2 0 1 0 2.4 0a1.2 1.2 0 1 0 -2.4 0M195.8 98.2a0.9 0.9 0 1 0 1.8 0a0.9 0.9 0 1 0 -1.8 0M194.8 94.1a1.1 1.1 0 1 0 2.3 0a1.1 1.1 0 1 0 -2.3 0M188.2 94.7a1.3 1.3 0 1 0 2.6 0a1.3 1.3 0 1 0 -2.6 0M196.2 94.3a1.4 1.4 0 1 0 2.8 0a1.4 1.4 0 1 0 -2.8 0M188.6 98.2a1.5 1.5 0 1 0 3 0a1.5 1.5 0 1 0 -3 0M194.2 92.8a1 1 0 1 0 2.1 0a1 1 0 1 0 -2.1 0M188.6 95.6a1.4 1.4 0 1 0 2.7 0a1.4 1.4 0 1 0 -2.7 0M190.2 98.3a1.2 1.2 0 1 0 2.4 0a1.2 1.2 0 1 0 -2.4 0M190.4 93.5a1.2 1.2 0 1 0 2.5 0a1.2 1.2 0 1 0 -2.5 0M195.8 93.4a1.2 1.2 0 1 0 2.4 0a1.2 1.2 0 1 0 -2.4 0M190.3 95.6a1.3 1.3 0 1 0 2.5 0a1.3 1.3 0 1 0 -2.5 0M196.6 92.1a1.4 1.4 0 1 0 2.8 0a1.4 1.4 0 1 0 -2.8 0M190 99.4a0.8 0.8 0 1 0 1.7 0a0.8 0.8 0 1 0 -1.7 0M193.5 93.3a1 1 0 1 0 1.9 0a1 1 0 1 0 -1.9 0M197.5 96.6a1.3 1.3 0 1 0 2.7 0a1.3 1.3 0 1 0 -2.7 0M216 87.3a0.9 0.9 0 1 0 1.9 0a0.9 0.9 0 1 0 -1.9 0M203.3 96a1.4 1.4 0 1 0 2.7 0a1.4 1.4 0 1 0 -2.7 0M220.2 78.3a1 1 0 1 0 2 0a1 1 0 1 0 -2 0M214.5 87.4a1.4 1.4 0 1 0 2.9 0a1.4 1.4 0 1 0 -2.9 0M211.5 86.7a0.7 0.7 0 1 0 1.4 0a0.7 0.7 0 1 0 -1.4 0M219.7 86.4a1.4 1.4 0 1 0 2.9 0a1.4 1.4 0 1 0 -2.9 0M214.3 84.6a0.9 0.9 0 1 0 1.8 0a0.9 0.9 0 1 0 -1.8 0M218.7 86.6a1.5 1.5 0 1 0 2.9 0a1.5 1.5 0 1 0 -2.9 0M202.6 93.3a1.1 1.1 0 1 0 2.2 0a1.1 1.1 0 1 0 -2.2 0M209.4 90.9a1.4 1.4 0 1 0 2.9 0a1.4 1.4 0 1 0 -2.9 0M216.8 85.8a1.3 1.3 0 1 0 2.5 0a1.3 1.3 0 1 0 -2.5 0M214.8 85.9a0.9 0.9 0 1 0 1.8 0a0.9 0.9 0 1 0 -1.8 0M216.1 81.4a1.2 1.2 0 1 0 2.4 0a1.2 1.2 0 1 0 -2.4 0M207.8 90a1.2 1.2 0 1 0 2.4 0a1.2 1.2 0 1 0 -2.4 0M212 91.2a0.9 0.9 0 1 0 1.8 0a0.9 0.9 0 1 0 -1.8 0M200 98a0.9 0.9 0 1 0 1.9 0a0.9 0.9 0 1 0 -1.9 0M204.6 90.7a1.2 1.2 0 1 0 2.4 0a1.2 1.2 0 1 0 -2.4 0M223.8 82a1 1 0 1 0 1.9 0a1 1 0 1 0 -1.9 0M211.2 87.1a1.1 1.1 0 1 0 2.2 0a1.1 1.1 0 1 0 -2.2 0M207.3 87.1a1 1 0 1 0 2 0a1 1 0 1 0 -2 0M206.4 87.7a1.4 1.4 0 1 0 2.7 0a1.4 1.4 0 1 0 -2.7 0M205.7 87.9a1.2 1.2 0 1 0 2.3 0a1.2 1.2 0 1 0 -2.3 0M220.2 84.6a1.2 1.2 0 1 0 2.4 0a1.2 1.2 0 1 0 -2.4 0M216.1 83.5a0.8 0.8 0 1 0 1.6 0a0.8 0.8 0 1 0 -1.6 0M204 90.7a0.9 0.9 0 1 0 1.8 0a0.9 0.9 0 1 0 -1.8 0M208.7 86.3a0.8 0.8 0 1 0 1.6 0a0.8 0.8 0 1 0 -1.6 0M202.9 89.8a1.3 1.3 0 1 0 2.7 0a1.3 1.3 0 1 0 -2.7 0M210.5 85.5a1 1 0 1 0 2.1 0a1 1 0 1 0 -2.1 0M220.2 82.9a1.1 1.1 0 1 0 2.3 0a1.1 1.1 0 1 0 -2.3 0M206.6 87.7a1.2 1.2 0 1 0 2.4 0a1.2 1.2 0 1 0 -2.4 0M201.3 96a0.7 0.7 0 1 0 1.5 0a0.7 0.7 0 1 0 -1.5 0M216.2 83.6a1.2 1.2 0 1 0 2.5 0a1.2 1.2 0 1 0 -2.5 0M211.5 84.3a1.1 1.1 0 1 0 2.3 0a1.1 1.1 0 1 0 -2.3 0M198.9 92.7a1 1 0 1 0 2 0a1 1 0 1 0 -2 0M205.3 92.1a1.5 1.5 0 1 0 3 0a1.5 1.5 0 1 0 -3 0M208.4 92.2a0.9 0.9 0 1 0 1.8 0a0.9 0.9 0 1 0 -1.8 0M215.3 83.9a1.1 1.1 0 1 0 2.3 0a1.1 1.1 0 1 0 -2.3 0M201.6 96.1a0.9 0.9 0 1 0 1.7 0a0.9 0.9 0 1 0 -1.7 0M208.6 87.2a1.3 1.3 0 1 0 2.7 0a1.3 1.3 0 1 0 -2.7 0M213.1 87.3a1.3 1.3 0 1 0 2.6 0a1.3 1.3 0 1 0 -2.6 0M202.5 88.9a1.4 1.4 0 1 0 2.7 0a1.4 1.4 0 1 0 -2.7 0M206.7 92.6a1.5 1.5 0 1 0 2.9 0a1.5 1.5 0 1 0 -2.9 0M212.1 83.6a1.4 1.4 0 1 0 2.8 0a1.4 1.4 0 1 0 -2.8 0M213.2 84.4a0.9 0.9 0 1 0 1.7 0a0.9 0.9 0 1 0 -1.7 0M209 85.5a1.4 1.4 0 1 0 2.8 0a1.4 1.4 0 1 0 -2.8 0M217.1 86.8a1 1 0 1 0 2 0a1 1 0 1 0 -2 0M219.7 79.4a1.3 1.3 0 1 0 2.5 0a1.3 1.3 0 1 0 -2.5 0M202.8 88.5a0.8 0.8 0 1 0 1.6 0a0.8 0.8 0 1 0 -1.6 0M199.6 107.2a0.8 0.8 0 1 0 1.5 0a0.8 0.8 0 1 0 -1.5 0M200.7 104.9a1.4 1.4 0 1 0 2.7 0a1.4 1.4 0 1 0 -2.7 0M198.4 89a1.4 1.4 0 1 0 2.9 0a1.4 1.4 0 1 0 -2.9 0M200.1 91.1a1.1 1.1 0 1 0 2.2 0a1.1 1.1 0 1 0 -2.2 0M199 107.5a1 1 0 1 0 2 0a1 1 0 1 0 -2 0M198.9 107.5a1.4 1.4 0 1 0 2.7 0a1.4 1.4 0 1 0 -2.7 0M199.5 99.4a1.4 1.4 0 1 0 2.8 0a1.4 1.4 0 1 0 -2.8 0M195 96.8a1.1 1.1 0 1 0 2.3 0a1.1 1.1 0 1 0 -2.3 0M201 105.1a1 1 0 1 0 2.1 0a1 1 0 1 0 -2.1 0M200.3 98a0.8 0.8 0 1 0 1.6 0a0.8 0.8 0 1 0 -1.6 0M196.5 99.1a0.9 0.9 0 1 0 1.8 0a0.9 0.9 0 1 0 -1.8 0M198.3 104.7a1.3 1.3 0 1 0 2.6 0a1.3 1.3 0 1 0 -2.6 0M194.1 95.7a1.3 1.3 0 1 0 2.7 0a1.3 1.3 0 1 0 -2.7 0M201.3 97.3a1.2 1.2 0 1 0 2.3 0a1.2 1.2 0 1 0 -2.3 0M192.6 87.1a1 1 0 1 0 1.9 0a1 1 0 1 0 -1.9 0M197 93.8a1.2 1.2 0 1 0 2.4 0a1.2 1.2 0 1 0 -2.4 0M198.8 98.2a1.2 1.2 0 1 0 2.4 0a1.2 1.2 0 1 0 -2.4 0M200.7 103.7a1.1 1.1 0 1 0 2.2 0a1.1 1.1 0 1 0 -2.2 0M203.8 102a0.8 0.8 0 1 0 1.7 0a0.8 0.8 0 1 0 -1.7 0M198.8 92.3a1.4 1.4 0 1 0 2.8 0a1.4 1.4 0 1 0 -2.8 0M199 88.3a1 1 0 1 0 1.9 0a1 1 0 1 0 -1.9 0M195.7 97.3a1.5 1.5 0 1 0 3 0a1.5 1.5 0 1 0 -3 0M200 104.1a0.7 0.7 0 1 0 1.5 0a0.7 0.7 0 1 0 -1.5 0M194.4 87.6a1.4 1.4 0 1 0 2.7 0a1.4 1.4 0 1 0 -2.7 0M193.5 92.5a1.1 1.1 0 1 0 2.3 0a1.1 1.1 0 1 0 -2.3 0M198.2 98.3a0.8 0.8 0 1 0 1.5 0a0.8 0.8 0 1 0 -1.5 0M193.4 90.5a0.9 0.9 0 1 0 1.8 0a0.9 0.9 0 1 0 -1.8 0M197 87.3a1.3 1.3 0 1 0 2.6 0a1.3 1.3 0 1 0 -2.6 0M199 90.9a0.9 0.9 0 1 0 1.8 0a0.9 0.9 0 1 0 -1.8 0M196.6 96.6a0.9 0.9 0 1 0 1.9 0a0.9 0.9 0 1 0 -1.9 0M197 105.3a1.4 1.4 0 1 0 2.7 0a1.4 1.4 0 1 0 -2.7 0M196.6 87.2a1.4 1.4 0 1 0 2.9 0a1.4 1.4 0 1 0 -2.9 0M203 103.3a1.1 1.1 0 1 0 2.1 0a1.1 1.1 0 1 0 -2.1 0M196.1 94.1a0.7 0.7 0 1 0 1.4 0a0.7 0.7 0 1 0 -1.4 0M195.1 93.1a1.4 1.4 0 1 0 2.8 0a1.4 1.4 0 1 0 -2.8 0M194.7 87a1.2 1.2 0 1 0 2.5 0a1.2 1.2 0 1 0 -2.5 0M191.3 113a0.9 0.9 0 1 0 1.9 0a0.9 0.9 0 1 0 -1.9 0M190.8 114.2a1 1 0 1 0 2 0a1 1 0 1 0 -2 0M193.2 112.8a0.8 0.8 0 1 0 1.7 0a0.8 0.8 0 1 0 -1.7 0M193.1 113.5a1.4 1.4 0 1 0 2.9 0a1.4 1.4 0 1 0 -2.9 0M190.2 115a0.7 0.7 0 1 0 1.4 0a0.7 0.7 0 1 0 -1.4 0M183.9 112.6a1.2 1.2 0 1 0 2.4 0a1.2 1.2 0 1 0 -2.4 0M193.4 118.2a1 1 0 1 0 2.1 0a1 1 0 1 0 -2.1 0M194.1 113.8a0.8 0.8 0 1 0 1.5 0a0.8 0.8 0 1 0 -1.5 0M189.6 116.6a1.3 1.3 0 1 0 2.7 0a1.3 1.3 0 1 0 -2.7 0M197.3 117.1a1.2 1.2 0 1 0 2.3 0a1.2 1.2 0 1 0 -2.3 0M191.6 115.1a1.1 1.1 0 1 0 2.2 0a1.1 1.1 0 1 0 -2.2 0M193.2 115.5a1.4 1.4 0 1 0 2.8 0a1.4 1.4 0 1 0 -2.8 0M189.9 114.9a1.4 1.4 0 1 0 2.7 0a1.4 1.4 0 1 0 -2.7 0M193.3 115.1a1.2 1.2 0 1 0 2.3 0a1.2 1.2 0 1 0 -2.3 0M195.4 115.6a0.9 0.9 0 1 0 1.8 0a0.9 0.9 0 1 0 -1.8 0M188.6 116a0.7 0.7 0 1 0 1.5 0a0.7 0.7 0 1 0 -1.5 0M190.7 118a0.9 0.9 0 1 0 1.8 0a0.9 0.9 0 1 0 -1.8 0M189.9 116.6a1.4 1.4 0 1 0 2.9 0a1.4 1.4 0 1 0 -2.9 0M193.8 115.8a1 1 0 1 0 2 0a1 1 0 1 0 -2 0M190.2 116.2a1 1 0 1 0 2 0a1 1 0 1 0 -2 0M194.5 111.3a1.3 1.3 0 1 0 2.6 0a1.3 1.3 0 1 0 -2.6 0M194.6 113.5a0.7 0.7 0 1 0 1.4 0a0.7 0.7 0 1 0 -1.4 0M188.4 115.9a1.3 1.3 0 1 0 2.7 0a1.3 1.3 0 1 0 -2.7 0M196.3 112.7a0.8 0.8 0 1 0 1.5 0a0.8 0.8 0 1 0 -1.5 0M211.3 110.1a0.8 0.8 0 1 0 1.5 0a0.8 0.8 0 1 0 -1.5 0M204.4 114.4a1.2 1.2 0 1 0 2.4 0a1.2 1.2 0 1 0 -2.4 0M214.2 106.3a0.9 0.9 0 1 0 1.8 0a0.9 0.9 0 1 0 -1.8 0M207.1 107a0.8 0.8 0 1 0 1.6 0a0.8 0.8 0 1 0 -1.6 0M223.5 101.5a1.4 1.4 0 1 0 2.8 0a1.4 1.4 0 1 0 -2.8 0M198.8 115.9a0.9 0.9 0 1 0 1.9 0a0.9 0.9 0 1 0 -1.9 0M211.5 108.4a0.7 0.7 0 1 0 1.4 0a0.7 0.7 0 1 0 -1.4 0M207.2 109.5a1.4 1.4 0 1 0 2.8 0a1.4 1.4 0 1 0 -2.8 0M210.1 105.9a1.2 1.2 0 1 0 2.4 0a1.2 1.2 0 1 0 -2.4 0M211.9 104.7a1.1 1.1 0 1 0 2.3 0a1.1 1.1 0 1 0 -2.3 0M203.3 107.6a0.9 0.9 0 1 0 1.9 0a0.9 0.9 0 1 0 -1.9 0M200.1 113.4a1.1 1.1 0 1 0 2.2 0a1.1 1.1 0 1 0 -2.2 0M220.6 103.3a1.3 1.3 0 1 0 2.6 0a1.3 1.3 0 1 0 -2.6 0M222.2 98.5a1 1 0 1 0 2 0a1 1 0 1 0 -2 0M202.3 108.8a1.1 1.1 0 1 0 2.2 0a1.1 1.1 0 1 0 -2.2 0M209.1 104.8a1.4 1.4 0 1 0 2.9 0a1.4 1.4 0 1 0 -2.9 0M221.5 97.4a0.7 0.7 0 1 0 1.4 0a0.7 0.7 0 1 0 -1.4 0M200 115.2a1.4 1.4 0 1 0 2.8 0a1.4 1.4 0 1 0 -2.8 0M197.7 110.7a1.1 1.1 0 1 0 2.3 0a1.1 1.1 0 1 0 -2.3 0M205 106.8a0.7 0.7 0 1 0 1.4 0a0.7 0.7 0 1 0 -1.4 0M202.3 109.7a0.9 0.9 0 1 0 1.9 0a0.9 0.9 0 1 0 -1.9 0M211.1 105a0.9 0.9 0 1 0 1.8 0a0.9 0.9 0 1 0 -1.8 0M204.9 114a0.9 0.9 0 1 0 1.8 0a0.9 0.9 0 1 0 -1.8 0M211.9 106.1a1 1 0 1 0 1.9 0a1 1 0 1 0 -1.9 0M206.7 105.6a0.8 0.8 0 1 0 1.7 0a0.8 0.8 0 1 0 -1.7 0M215.3 106.8a0.9 0.9 0 1 0 1.7 0a0.9 0.9 0 1 0 -1.7 0M204.2 114.6a0.8 0.8 0 1 0 1.6 0a0.8 0.8 0 1 0 -1.6 0M219.7 105.2a0.8 0.8 0 1 0 1.6 0a0.8 0.8 0 1 0 -1.6 0M218.1 100.1a0.7 0.7 0 1 0 1.5 0a0.7 0.7 0 1 0 -1.5 0M204.5 109.5a1.2 1.2 0 1 0 2.3 0a1.2 1.2 0 1 0 -2.3 0M210 109.9a1.2 1.2 0 1 0 2.5 0a1.2 1.2 0 1 0 -2.5 0M199.6 111.1a1.3 1.3 0 1 0 2.6 0a1.3 1.3 0 1 0 -2.6 0M202.2 115.8a1.3 1.3 0 1 0 2.7 0a1.3 1.3 0 1 0 -2.7 0M202.9 110.1a0.9 0.9 0 1 0 1.8 0a0.9 0.9 0 1 0 -1.8 0M208.1 106.8a0.7 0.7 0 1 0 1.5 0a0.7 0.7 0 1 0 -1.5 0M203.3 109.1a1 1 0 1 0 2 0a1 1 0 1 0 -2 0M210.6 110.3a1.2 1.2 0 1 0 2.5 0a1.2 1.2 0 1 0 -2.5 0M214.9 107.8a1 1 0 1 0 2 0a1 1 0 1 0 -2 0M207.5 106.8a1.4 1.4 0 1 0 2.7 0a1.4 1.4 0 1 0 -2.7 0M221.5 104.2a1.2 1.2 0 1 0 2.4 0a1.2 1.2 0 1 0 -2.4 0M199 110.4a1.3 1.3 0 1 0 2.7 0a1.3 1.3 0 1 0 -2.7 0M220.1 101.7a1.4 1.4 0 1 0 2.9 0a1.4 1.4 0 1 0 -2.9 0M222.5 102.4a1 1 0 1 0 2 0a1 1 0 1 0 -2 0M209 107a1 1 0 1 0 2 0a1 1 0 1 0 -2 0M208.4 104.7a0.8 0.8 0 1 0 1.6 0a0.8 0.8 0 1 0 -1.6 0M202.1 112.6a1.4 1.4 0 1 0 2.8 0a1.4 1.4 0 1 0 -2.8 0M214.7 101.9a1.1 1.1 0 1 0 2.1 0a1.1 1.1 0 1 0 -2.1 0M212.8 103.1a0.8 0.8 0 1 0 1.5 0a0.8 0.8 0 1 0 -1.5 0M193.9 109.6a1.3 1.3 0 1 0 2.5 0a1.3 1.3 0 1 0 -2.5 0M200 107.4a0.8 0.8 0 1 0 1.6 0a0.8 0.8 0 1 0 -1.6 0M196.1 115.3a0.8 0.8 0 1 0 1.6 0a0.8 0.8 0 1 0 -1.6 0M199.2 111.8a1.1 1.1 0 1 0 2.2 0a1.1 1.1 0 1 0 -2.2 0M200.3 124.3a1.4 1.4 0 1 0 2.8 0a1.4 1.4 0 1 0 -2.8 0M199.5 117.6a1.4 1.4 0 1 0 2.8 0a1.4 1.4 0 1 0 -2.8 0M199.6 118.4a1.1 1.1 0 1 0 2.2 0a1.1 1.1 0 1 0 -2.2 0M199.3 114.3a0.8 0.8 0 1 0 1.5 0a0.8 0.8 0 1 0 -1.5 0M196.3 112.1a0.8 0.8 0 1 0 1.6 0a0.8 0.8 0 1 0 -1.6 0M200.3 111.2a1 1 0 1 0 2 0a1 1 0 1 0 -2 0M198 108.6a1.2 1.2 0 1 0 2.4 0a1.2 1.2 0 1 0 -2.4 0M197.6 120.8a0.8 0.8 0 1 0 1.5 0a0.8 0.8 0 1 0 -1.5 0M202 119.1a1 1 0 1 0 1.9 0a1 1 0 1 0 -1.9 0M196.9 118.9a1.2 1.2 0 1 0 2.5 0a1.2 1.2 0 1 0 -2.5 0M204.8 124.9a1 1 0 1 0 1.9 0a1 1 0 1 0 -1.9 0M202.6 115.9a0.7 0.7 0 1 0 1.5 0a0.7 0.7 0 1 0 -1.5 0M198.4 114.7a0.8 0.8 0 1 0 1.6 0a0.8 0.8 0 1 0 -1.6 0M198.3 108.9a1.3 1.3 0 1 0 2.6 0a1.3 1.3 0 1 0 -2.6 0M195.8 119.1a1.2 1.2 0 1 0 2.4 0a1.2 1.2 0 1 0 -2.4 0M200.3 124.2a1.1 1.1 0 1 0 2.2 0a1.1 1.1 0 1 0 -2.2 0M202.1 114.7a0.8 0.8 0 1 0 1.5 0a0.8 0.8 0 1 0 -1.5 0M197.7 120.5a0.7 0.7 0 1 0 1.4 0a0.7 0.7 0 1 0 -1.4 0M199 110.9a1 1 0 1 0 1.9 0a1 1 0 1 0 -1.9 0M202.5 122.6a0.9 0.9 0 1 0 1.9 0a0.9 0.9 0 1 0 -1.9 0M196.1 117.5a0.9 0.9 0 1 0 1.9 0a0.9 0.9 0 1 0 -1.9 0M202.9 118.6a1 1 0 1 0 2.1 0a1 1 0 1 0 -2.1 0M203.1 124.2a1 1 0 1 0 2 0a1 1 0 1 0 -2 0M199.3 119.9a1.2 1.2 0 1 0 2.3 0a1.2 1.2 0 1 0 -2.3 0M198.5 119.3a1 1 0 1 0 1.9 0a1 1 0 1 0 -1.9 0M199.2 114.2a1.1 1.1 0 1 0 2.2 0a1.1 1.1 0 1 0 -2.2 0M196.9 118.8a1 1 0 1 0 2 0a1 1 0 1 0 -2 0" fill="#3ef03e"/>
<path d="M184 84L197 79M185 98L199 95.4M199 95.4L224.3 80.5M196.3 86L202.4 107M185 115.5L199 114.7M199 114.7L224.3 99.8M198 108L202.4 126" stroke="#3ee83e" stroke-width="4.0" fill="none"/>
<path d="M186.3 82.6L187.2 82.6M195.3 79.4L196.2 79.4M194.3 80.4L195.2 80.4M188.4 81.2L189.3 81.2M190.8 81.4L191.7 81.4M194.2 78.8L195.1 78.8M190.9 96.8L191.8 96.8M195.9 95.3L196.8 95.3M190.8 97L191.7 97M198.3 94.8L199.2 94.8M188.9 95.9L189.8 95.9M184.8 98.4L185.7 98.4M204.3 92.1L205.2 92.1M211 87.7L211.9 87.7M215.1 86.9L216 86.9M212.1 89L213 89M217.8 83.4L218.7 83.4M201.8 93.1L202.7 93.1M212.6 86L213.5 86M204.7 92.3L205.6 92.3M222.9 80.7L223.8 80.7M214.6 85.1L215.5 85.1M210.8 89L211.7 89M203.4 92.6L204.3 92.6M203.2 93.4L204.1 93.4M201 105.5L201.9 105.5M196.1 89.3L197 89.3M198.5 97.8L199.4 97.8M196 91.2L196.9 91.2M199 93.6L199.9 93.6M198.2 89.4L199.1 89.4M200.7 106L201.6 106M198 98.2L198.9 98.2M197.1 86.7L198 86.7M187.4 115.8L188.3 115.8M186.8 116.5L187.7 116.5M192.4 116.1L193.3 116.1M193.6 115.6L194.5 115.6M191.8 114.8L192.7 114.8M188.5 115.3L189.4 115.3M213.4 105.9L214.3 105.9M203.7 111.7L204.6 111.7M209.5 109.2L210.4 109.2M222.6 101.5L223.5 101.5M199.5 113.8L200.4 113.8M224 99.3L224.9 99.3M208.7 109.4L209.6 109.4M221.4 102.4L222.3 102.4M214.8 105L215.7 105M202.7 111.8L203.6 111.8M205.7 111.8L206.6 111.8M203.3 112.4L204.2 112.4M206.6 109.5L207.5 109.5M200.3 117.2L201.2 117.2M199.2 111.8L200.1 111.8M199.7 121.4L200.6 121.4M200.5 119.3L201.4 119.3M201.2 122.3L202.1 122.3M197.7 108.4L198.6 108.4M200 121.6L200.9 121.6M198.3 109.7L199.2 109.7" stroke="#b8401c" stroke-width="0.9" fill="none"/>
<line x1="118" y1="71" x2="118" y2="118" stroke="#7ab85a" stroke-width="1.2" stroke-dasharray="4,3"/>
<line x1="151" y1="78" x2="151" y2="151" stroke="#7ab85a" stroke-width="1.2" stroke-dasharray="4,3"/>
<line x1="59" y1="18.7" x2="80" y2="18.7" stroke="#8cc86e" stroke-width="1.1" marker-end="url(#ahG)"/>
<line x1="104" y1="61.3" x2="125" y2="61.3" stroke="#8cc86e" stroke-width="1.1" marker-end="url(#ahG)"/>
<line x1="162" y1="101.5" x2="182" y2="101.5" stroke="#8cc86e" stroke-width="1.1" marker-end="url(#ahG)"/>
<polyline points="39.2,4.2 40.8,5.6 42.4,6.9 44,8.3 45.6,9.7 47.2,11.2 48.8,12.6 50.5,14.1 52.1,15.6 53.7,17.2 55.3,18.9 56.9,20.5 58.5,22.2 60.1,24 61.7,25.8 63.3,27.6 64.9,29.5 66.5,31.4 68.1,33.3 69.8,35.2 71.4,37.2 73,39.1 74.6,40.9 76.2,42.7 77.8,44.5 79.4,46.2 81,47.9 82.6,49.5 84.2,51 85.8,52.4 87.4,53.8 89.1,55.1 90.7,56.4 92.3,57.6 93.9,58.7 95.5,59.9 97.1,61 98.7,62.2 100.3,63.4 101.9,64.6 103.5,65.8 105.1,67 106.7,68.2 108.4,69.4 110,70.6 111.6,71.8 113.2,72.9 114.8,74.1 116.4,75.2 118,76.3 119.6,77.4 121.2,78.4 122.8,79.4 124.4,80.4 126,81.3 127.7,82.3 129.3,83.2 130.9,84.1 132.5,85 134.1,86 135.7,86.9 137.3,87.9 138.9,88.9 140.5,89.9 142.1,91 143.7,92.1 145.3,93.1 147,94.2 148.6,95.3 150.2,96.4 151.8,97.5 153.4,98.6 155,99.6 156.6,100.6 158.2,101.6 159.8,102.6 161.4,103.6 163,104.6 164.6,105.6 166.3,106.5 167.9,107.5 169.5,108.5 171.1,109.5 172.7,110.6 174.3,111.7 175.9,112.8 177.5,113.9 179.1,115.1 180.7,116.3 182.3,117.5 183.9,118.8 185.6,120 187.2,121.2 188.8,122.5 190.4,123.7 192,124.8 193.6,126 195.2,127 196.8,128 198.4,129 200,129.9 201.6,130.7 203.2,131.5 204.9,132.3 206.5,133.1 208.1,133.8 209.7,134.6 211.3,135.3 212.9,136 214.5,136.7" fill="none" stroke="#ff33ff" stroke-width="2.0" stroke-linejoin="round" stroke-linecap="round"/>
<polyline points="39.2,4.6 40.8,6 42.4,7.3 44,8.7 45.6,10.1 47.2,11.6 48.8,13 50.5,14.5 52.1,16 53.7,17.6 55.3,19.3 56.9,20.9 58.5,22.6 60.1,24.4 61.7,26.2 63.3,28 64.9,29.9 66.5,31.8 68.1,33.7 69.8,35.6 71.4,37.6 73,39.5 74.6,41.3 76.2,43.1 77.8,44.9 79.4,46.6 81,48.3 82.6,49.9 84.2,51.4 85.8,52.8 87.4,54.2 89.1,55.5 90.7,56.8 92.3,58 93.9,59.1 95.5,60.3 97.1,61.4 98.7,62.6 100.3,63.8 101.9,65 103.5,66.2 105.1,67.4 106.7,68.6 108.4,69.8 110,71 111.6,72.2 113.2,73.3 114.8,74.5 116.4,75.6 118,76.7 119.6,77.8 121.2,78.8 122.8,79.8 124.4,80.8 126,81.7 127.7,82.7 129.3,83.6 130.9,84.5 132.5,85.4 134.1,86.4 135.7,87.3 137.3,88.3 138.9,89.3 140.5,90.3 142.1,91.4 143.7,92.5 145.3,93.5 147,94.6 148.6,95.7 150.2,96.8 151.8,97.9 153.4,99 155,100 156.6,101 158.2,102 159.8,103 161.4,104 163,105 164.6,106 166.3,106.9 167.9,107.9 169.5,108.9 171.1,109.9 172.7,111 174.3,112.1 175.9,113.2 177.5,114.3 179.1,115.5 180.7,116.7 182.3,117.9 183.9,119.2 185.6,120.4 187.2,121.6 188.8,122.9 190.4,124.1 192,125.2 193.6,126.4 195.2,127.4 196.8,128.4 198.4,129.4 200,130.3 201.6,131.1 203.2,131.9 204.9,132.7 206.5,133.5 208.1,134.2 209.7,135 211.3,135.7 212.9,136.4 214.5,137.1" fill="none" stroke="#1f1fff" stroke-width="1.6" stroke-linejoin="round" stroke-linecap="round"/>
<polyline points="39.2,4.8 40.8,6.2 42.4,7.5 44,8.9 45.6,10.3 47.2,11.8 48.8,13.2 50.5,14.7 52.1,16.2 53.7,17.8 55.3,19.5 56.9,21.1 58.5,22.8 60.1,24.6 61.7,26.4 63.3,28.2 64.9,30.1 66.5,32 68.1,33.9 69.8,35.8 71.4,37.8 73,39.7 74.6,41.5 76.2,43.3 77.8,45.1 79.4,46.8 81,48.5 82.6,50.1 84.2,51.6 85.8,53 87.4,54.4 89.1,55.7 90.7,57 92.3,58.2 93.9,59.3 95.5,60.5 97.1,61.6 98.7,62.8 100.3,64 101.9,65.2 103.5,66.4 105.1,67.6 106.7,68.8 108.4,70 110,71.2 111.6,72.4 113.2,73.5 114.8,74.7 116.4,75.8 118,76.9 119.6,78 121.2,79 122.8,80 124.4,81 126,81.9 127.7,82.9 129.3,83.8 130.9,84.7 132.5,85.6 134.1,86.6 135.7,87.5 137.3,88.5 138.9,89.5 140.5,90.5 142.1,91.6 143.7,92.7 145.3,93.7 147,94.8 148.6,95.9 150.2,97 151.8,98.1 153.4,99.2 155,100.2 156.6,101.2 158.2,102.2 159.8,103.2 161.4,104.2 163,105.2 164.6,106.2 166.3,107.1 167.9,108.1 169.5,109.1 171.1,110.1 172.7,111.2 174.3,112.3 175.9,113.4 177.5,114.5 179.1,115.7 180.7,116.9 182.3,118.1 183.9,119.4 185.6,120.6 187.2,121.8 188.8,123.1 190.4,124.3 192,125.4 193.6,126.6 195.2,127.6 196.8,128.6 198.4,129.6 200,130.5 201.6,131.3 203.2,132.1 204.9,132.9 206.5,133.7 208.1,134.4 209.7,135.2 211.3,135.9 212.9,136.6 214.5,137.3" fill="none" stroke="#ff1f1f" stroke-width="1.6" stroke-linejoin="round" stroke-linecap="round"/>
<polyline points="39.2,5.6 40.8,7 42.4,8.3 44,9.7 45.6,11.1 47.2,12.6 48.8,14 50.5,15.5 52.1,17 53.7,18.6 55.3,20.3 56.9,21.9 58.5,23.6 60.1,25.4 61.7,27.2 63.3,29 64.9,30.9 66.5,32.8 68.1,34.7 69.8,36.6 71.4,38.6 73,40.5 74.6,42.3 76.2,44.1 77.8,45.9 79.4,47.6 81,49.3 82.6,50.9 84.2,52.4 85.8,53.8 87.4,55.2 89.1,56.5 90.7,57.8 92.3,59 93.9,60.1 95.5,61.3 97.1,62.4 98.7,63.6 100.3,64.8 101.9,66 103.5,67.2 105.1,68.4 106.7,69.6 108.4,70.8 110,72 111.6,73.2 113.2,74.3 114.8,75.5 116.4,76.6 118,77.7 119.6,78.8 121.2,79.8 122.8,80.8 124.4,81.8 126,82.7 127.7,83.7 129.3,84.6 130.9,85.5 132.5,86.4 134.1,87.4 135.7,88.3 137.3,89.3 138.9,90.3 140.5,91.3 142.1,92.4 143.7,93.5 145.3,94.5 147,95.6 148.6,96.7 150.2,97.8 151.8,98.9 153.4,100 155,101 156.6,102 158.2,103 159.8,104 161.4,105 163,106 164.6,107 166.3,107.9 167.9,108.9 169.5,109.9 171.1,110.9 172.7,112 174.3,113.1 175.9,114.2 177.5,115.3 179.1,116.5 180.7,117.7 182.3,118.9 183.9,120.2 185.6,121.4 187.2,122.6 188.8,123.9 190.4,125.1 192,126.2 193.6,127.4 195.2,128.4 196.8,129.4 198.4,130.4 200,131.3 201.6,132.1 203.2,132.9 204.9,133.7 206.5,134.5 208.1,135.2 209.7,136 211.3,136.7 212.9,137.4 214.5,138.1" fill="none" stroke="#000" stroke-width="2.2" stroke-linejoin="round" stroke-linecap="round"/>
<polygon points="211,135 216,135.5 222,133 222.4,127 226.2,126.6 226.3,176.2 222.5,176 222.2,152 218.5,146 214,141.5 211,139.5" fill="#000"/>
<polygon points="222.4,155 224.6,155 225,175.5 222.8,175.5" fill="#1f1fff"/>
<polygon points="221.2,134.5 222.6,133.5 222.6,137 221,137.5" fill="#ff1f1f"/>
<path d="M200 132V133.3M200.9 132.4V134.5M201.8 132.9V135.1M202.7 133.4V134.9M203.6 133.8V134.8M204.5 134.3V137.4M205.4 134.7V136.7M206.3 135.1V136.6M207.2 135.5V138.2M208.1 135.9V140.3M209 136.4V141.5M209.9 136.8V140.4M210.8 137.2V142.9M211.7 137.6V139.7M212.6 138V141.8M213.5 138.4V139.7M214.4 138.8V141.5M215.3 138.8V145.4M216.2 138.8V140.7M217.1 138.8V144.5M218 138.8V143.7M218.9 138.8V147.1M219.8 138.8V147.4M220.7 138.8V141.5M221.6 138.8V142.6" stroke="#ff33ff" stroke-width="0.9" fill="none"/>
<line x1="43.6" y1="29.9" x2="56.5" y2="9" stroke="#f0821e" stroke-width="1.4" marker-end="url(#ahO)"/>
<line x1="79.3" y1="35.8" x2="69" y2="56" stroke="#f0821e" stroke-width="1.4" marker-end="url(#ahO)"/>
<line x1="133.3" y1="99.4" x2="146" y2="79.5" stroke="#f0821e" stroke-width="1.4" marker-end="url(#ahO)"/>
<text x="162.5" y="20" font-size="10.5" text-anchor="start" fill="#1e1e1e" textLength="33" lengthAdjust="spacingAndGlyphs">MFGM</text>
<text x="180" y="33" font-size="10.5" text-anchor="middle" fill="#1e1e1e">cluster</text>
<text x="220.5" y="45.5" font-size="10.5" text-anchor="end" fill="#1e1e1e">Protein</text>
<text x="220.5" y="59" font-size="10.5" text-anchor="end" fill="#1e1e1e">Inhomo-</text>
<text x="220.5" y="71.5" font-size="10.5" text-anchor="end" fill="#1e1e1e">geneities</text>
<text x="45.5" y="116.5" font-size="10.5" text-anchor="start" fill="#1e1e1e">CCP</text>
<line x1="41" y1="125.5" x2="65.7" y2="125.5" stroke="#000" stroke-width="1.7"/>
<text x="68.7" y="129.1" font-size="10.5" text-anchor="start" fill="#1e1e1e" textLength="62" lengthAdjust="spacingAndGlyphs">MFGM 20 °C</text>
<line x1="41" y1="139.9" x2="65.7" y2="139.9" stroke="#ff1f1f" stroke-width="1.7"/>
<text x="68.7" y="143.5" font-size="10.5" text-anchor="start" fill="#1e1e1e" textLength="62" lengthAdjust="spacingAndGlyphs">MFGM 40 °C</text>
<line x1="41" y1="154.3" x2="65.7" y2="154.3" stroke="#1f1fff" stroke-width="1.7"/>
<text x="68.7" y="157.9" font-size="10.5" text-anchor="start" fill="#1e1e1e" textLength="62" lengthAdjust="spacingAndGlyphs">MFGM 60 °C</text>
<line x1="41" y1="168.7" x2="65.7" y2="168.7" stroke="#ff33ff" stroke-width="1.7"/>
<text x="68.7" y="172.3" font-size="10.5" text-anchor="start" fill="#1e1e1e" textLength="62" lengthAdjust="spacingAndGlyphs">MFGM 80 °C</text>
<line x1="37.3" y1="2.3" x2="227.4" y2="2.3" stroke="#5a5a5a" stroke-width="1"/>
<line x1="227.4" y1="2.3" x2="227.4" y2="178.6" stroke="#5a5a5a" stroke-width="1"/>
<line x1="37.3" y1="2.3" x2="37.3" y2="178.6" stroke="#222" stroke-width="1.1"/>
<line x1="36.8" y1="178.6" x2="227.4" y2="178.6" stroke="#222" stroke-width="1.1"/>
<line x1="33.3" y1="178.6" x2="37.3" y2="178.6" stroke="#222" stroke-width="0.8"/>
<line x1="35.1" y1="169.3" x2="37.3" y2="169.3" stroke="#222" stroke-width="0.8"/>
<line x1="35.1" y1="163.8" x2="37.3" y2="163.8" stroke="#222" stroke-width="0.8"/>
<line x1="35.1" y1="159.9" x2="37.3" y2="159.9" stroke="#222" stroke-width="0.8"/>
<line x1="35.1" y1="156.9" x2="37.3" y2="156.9" stroke="#222" stroke-width="0.8"/>
<line x1="35.1" y1="154.5" x2="37.3" y2="154.5" stroke="#222" stroke-width="0.8"/>
<line x1="35.1" y1="152.4" x2="37.3" y2="152.4" stroke="#222" stroke-width="0.8"/>
<line x1="35.1" y1="150.6" x2="37.3" y2="150.6" stroke="#222" stroke-width="0.8"/>
<line x1="35.1" y1="149" x2="37.3" y2="149" stroke="#222" stroke-width="0.8"/>
<line x1="33.3" y1="147.6" x2="37.3" y2="147.6" stroke="#222" stroke-width="0.8"/>
<line x1="35.1" y1="138.3" x2="37.3" y2="138.3" stroke="#222" stroke-width="0.8"/>
<line x1="35.1" y1="132.8" x2="37.3" y2="132.8" stroke="#222" stroke-width="0.8"/>
<line x1="35.1" y1="128.9" x2="37.3" y2="128.9" stroke="#222" stroke-width="0.8"/>
<line x1="35.1" y1="125.9" x2="37.3" y2="125.9" stroke="#222" stroke-width="0.8"/>
<line x1="35.1" y1="123.5" x2="37.3" y2="123.5" stroke="#222" stroke-width="0.8"/>
<line x1="35.1" y1="121.4" x2="37.3" y2="121.4" stroke="#222" stroke-width="0.8"/>
<line x1="35.1" y1="119.6" x2="37.3" y2="119.6" stroke="#222" stroke-width="0.8"/>
<line x1="35.1" y1="118" x2="37.3" y2="118" stroke="#222" stroke-width="0.8"/>
<line x1="33.3" y1="116.6" x2="37.3" y2="116.6" stroke="#222" stroke-width="0.8"/>
<line x1="35.1" y1="107.3" x2="37.3" y2="107.3" stroke="#222" stroke-width="0.8"/>
<line x1="35.1" y1="101.8" x2="37.3" y2="101.8" stroke="#222" stroke-width="0.8"/>
<line x1="35.1" y1="97.9" x2="37.3" y2="97.9" stroke="#222" stroke-width="0.8"/>
<line x1="35.1" y1="94.9" x2="37.3" y2="94.9" stroke="#222" stroke-width="0.8"/>
<line x1="35.1" y1="92.5" x2="37.3" y2="92.5" stroke="#222" stroke-width="0.8"/>
<line x1="35.1" y1="90.4" x2="37.3" y2="90.4" stroke="#222" stroke-width="0.8"/>
<line x1="35.1" y1="88.6" x2="37.3" y2="88.6" stroke="#222" stroke-width="0.8"/>
<line x1="35.1" y1="87" x2="37.3" y2="87" stroke="#222" stroke-width="0.8"/>
<line x1="33.3" y1="85.6" x2="37.3" y2="85.6" stroke="#222" stroke-width="0.8"/>
<line x1="35.1" y1="76.3" x2="37.3" y2="76.3" stroke="#222" stroke-width="0.8"/>
<line x1="35.1" y1="70.8" x2="37.3" y2="70.8" stroke="#222" stroke-width="0.8"/>
<line x1="35.1" y1="66.9" x2="37.3" y2="66.9" stroke="#222" stroke-width="0.8"/>
<line x1="35.1" y1="63.9" x2="37.3" y2="63.9" stroke="#222" stroke-width="0.8"/>
<line x1="35.1" y1="61.5" x2="37.3" y2="61.5" stroke="#222" stroke-width="0.8"/>
<line x1="35.1" y1="59.4" x2="37.3" y2="59.4" stroke="#222" stroke-width="0.8"/>
<line x1="35.1" y1="57.6" x2="37.3" y2="57.6" stroke="#222" stroke-width="0.8"/>
<line x1="35.1" y1="56" x2="37.3" y2="56" stroke="#222" stroke-width="0.8"/>
<line x1="33.3" y1="54.6" x2="37.3" y2="54.6" stroke="#222" stroke-width="0.8"/>
<line x1="35.1" y1="45.3" x2="37.3" y2="45.3" stroke="#222" stroke-width="0.8"/>
<line x1="35.1" y1="39.8" x2="37.3" y2="39.8" stroke="#222" stroke-width="0.8"/>
<line x1="35.1" y1="35.9" x2="37.3" y2="35.9" stroke="#222" stroke-width="0.8"/>
<line x1="35.1" y1="32.9" x2="37.3" y2="32.9" stroke="#222" stroke-width="0.8"/>
<line x1="35.1" y1="30.5" x2="37.3" y2="30.5" stroke="#222" stroke-width="0.8"/>
<line x1="35.1" y1="28.4" x2="37.3" y2="28.4" stroke="#222" stroke-width="0.8"/>
<line x1="35.1" y1="26.6" x2="37.3" y2="26.6" stroke="#222" stroke-width="0.8"/>
<line x1="35.1" y1="25" x2="37.3" y2="25" stroke="#222" stroke-width="0.8"/>
<line x1="33.3" y1="23.6" x2="37.3" y2="23.6" stroke="#222" stroke-width="0.8"/>
<line x1="35.1" y1="14.3" x2="37.3" y2="14.3" stroke="#222" stroke-width="0.8"/>
<line x1="35.1" y1="8.8" x2="37.3" y2="8.8" stroke="#222" stroke-width="0.8"/>
<line x1="35.1" y1="4.9" x2="37.3" y2="4.9" stroke="#222" stroke-width="0.8"/>
<line x1="38.7" y1="178.6" x2="38.7" y2="180.8" stroke="#222" stroke-width="0.8"/>
<line x1="45.3" y1="178.6" x2="45.3" y2="180.8" stroke="#222" stroke-width="0.8"/>
<line x1="51" y1="178.6" x2="51" y2="180.8" stroke="#222" stroke-width="0.8"/>
<line x1="56" y1="178.6" x2="56" y2="180.8" stroke="#222" stroke-width="0.8"/>
<line x1="60.5" y1="178.6" x2="60.5" y2="182.6" stroke="#222" stroke-width="0.8"/>
<line x1="90.1" y1="178.6" x2="90.1" y2="180.8" stroke="#222" stroke-width="0.8"/>
<line x1="107.4" y1="178.6" x2="107.4" y2="180.8" stroke="#222" stroke-width="0.8"/>
<line x1="119.7" y1="178.6" x2="119.7" y2="180.8" stroke="#222" stroke-width="0.8"/>
<line x1="129.3" y1="178.6" x2="129.3" y2="180.8" stroke="#222" stroke-width="0.8"/>
<line x1="137.1" y1="178.6" x2="137.1" y2="180.8" stroke="#222" stroke-width="0.8"/>
<line x1="143.7" y1="178.6" x2="143.7" y2="180.8" stroke="#222" stroke-width="0.8"/>
<line x1="149.4" y1="178.6" x2="149.4" y2="180.8" stroke="#222" stroke-width="0.8"/>
<line x1="154.4" y1="178.6" x2="154.4" y2="180.8" stroke="#222" stroke-width="0.8"/>
<line x1="158.9" y1="178.6" x2="158.9" y2="182.6" stroke="#222" stroke-width="0.8"/>
<line x1="188.5" y1="178.6" x2="188.5" y2="180.8" stroke="#222" stroke-width="0.8"/>
<line x1="205.8" y1="178.6" x2="205.8" y2="180.8" stroke="#222" stroke-width="0.8"/>
<line x1="218.1" y1="178.6" x2="218.1" y2="180.8" stroke="#222" stroke-width="0.8"/>
<text x="24" y="13" font-size="13.6" text-anchor="middle" fill="#1e1e1e">A</text>
<text x="21" y="27.5" font-size="13.6" text-anchor="middle" fill="#1e1e1e">10<tspan dy="-5" font-size="8.5">4</tspan></text>
<text x="21" y="183" font-size="13.6" text-anchor="middle" fill="#1e1e1e">10<tspan dy="-5" font-size="8.5">-1</tspan></text>
<text x="60.5" y="195" font-size="13.6" text-anchor="middle" fill="#1e1e1e">0.01</text>
<text x="159" y="195" font-size="13.6" text-anchor="middle" fill="#1e1e1e">0.1</text>
<text x="24.5" y="100" font-size="13" text-anchor="middle" fill="#1e1e1e" transform="rotate(-90 24.5 100)">Log <tspan font-style="italic">I</tspan>(<tspan font-style="italic">q</tspan>) (a.u.)</text>
<text x="124" y="207" font-size="13" text-anchor="middle" fill="#1e1e1e"><tspan font-style="italic">q</tspan> (Å<tspan dy="-5" font-size="8.5">-1</tspan><tspan dy="5">)</tspan></text>
<polyline points="259,15.8 260.9,17.2 262.8,18.6 264.8,20 266.7,21.4 268.6,22.9 270.5,24.3 272.4,25.8 274.4,27.3 276.3,28.9 278.2,30.4 280.1,32 282,33.5 283.9,35.1 285.9,36.7 287.8,38.3 289.7,39.9 291.6,41.6 293.5,43.2 295.5,44.8 297.4,46.5 299.3,48.2 301.2,49.8 303.1,51.5 305.1,53.2 307,54.9 308.9,56.5 310.8,58.2 312.7,59.9 314.7,61.6 316.6,63.3 318.5,65 320.4,66.7 322.3,68.4 324.3,70.1 326.2,71.8 328.1,73.4 330,75.1 331.9,76.8 333.8,78.5 335.8,80.2 337.7,81.8 339.6,83.5 341.5,85.2 343.4,86.8 345.4,88.5 347.3,90.2 349.2,91.8 351.1,93.5 353,95.1 355,96.7 356.9,98.3 358.8,100 360.7,101.6 362.6,103.2 364.6,104.8 366.5,106.4 368.4,108 370.3,109.6 372.2,111.1 374.2,112.7 376.1,114.3 378,115.9 379.9,117.4 381.8,119 383.7,120.5 385.7,122 387.6,123.6 389.5,125.1 391.4,126.6 393.3,128.2 395.3,129.7 397.2,131.2 399.1,132.7 401,134.2 402.9,135.7 404.9,137.2 406.8,138.7 408.7,140.2 410.6,141.7 412.5,143.2 414.5,144.7 416.4,146.2 418.3,147.7 420.2,149.2 422.1,150.8 424.1,152.3 426,153.8 427.9,155.3 429.8,156.8 431.7,158.3 433.6,159.9 435.6,161.4 437.5,163 439.4,164.5 441.3,166.1 443.2,167.6 445.2,169.2 447.1,170.8 449,172.4" fill="none" stroke="#000" stroke-width="1.8" stroke-linejoin="round" stroke-linecap="round"/>
<polyline points="259,10.6 260.9,11.9 262.8,13.1 264.8,14.4 266.7,15.7 268.6,17.1 270.5,18.4 272.4,19.8 274.4,21.2 276.3,22.6 278.2,24 280.1,25.5 282,26.9 283.9,28.4 285.9,29.9 287.8,31.4 289.7,32.9 291.6,34.4 293.5,35.9 295.5,37.5 297.4,39.1 299.3,40.6 301.2,42.2 303.1,43.8 305.1,45.4 307,47 308.9,48.6 310.8,50.2 312.7,51.8 314.7,53.5 316.6,55.1 318.5,56.7 320.4,58.4 322.3,60 324.3,61.7 326.2,63.4 328.1,65 330,66.7 331.9,68.3 333.8,70 335.8,71.7 337.7,73.4 339.6,75 341.5,76.7 343.4,78.4 345.4,80 347.3,81.7 349.2,83.4 351.1,85.1 353,86.7 355,88.4 356.9,90.1 358.8,91.7 360.7,93.4 362.6,95.1 364.6,96.7 366.5,98.4 368.4,100 370.3,101.7 372.2,103.3 374.2,105 376.1,106.6 378,108.3 379.9,109.9 381.8,111.5 383.7,113.2 385.7,114.8 387.6,116.4 389.5,118 391.4,119.7 393.3,121.3 395.3,122.9 397.2,124.5 399.1,126.1 401,127.7 402.9,129.3 404.9,130.9 406.8,132.4 408.7,134 410.6,135.6 412.5,137.2 414.5,138.8 416.4,140.3 418.3,141.9 420.2,143.4 422.1,145 424.1,146.6 426,148.1 427.9,149.7 429.8,151.2 431.7,152.8 433.6,154.3 435.6,155.9 437.5,157.4 439.4,158.9 441.3,160.5 443.2,162 445.2,163.6 447.1,165.1 449,166.6" fill="none" stroke="#ff1f1f" stroke-width="1.8" stroke-linejoin="round" stroke-linecap="round"/>
<polyline points="259,9 260.9,10.4 262.8,11.9 264.8,13.4 266.7,14.8 268.6,16.4 270.5,17.9 272.4,19.4 274.4,21 276.3,22.6 278.2,24.1 280.1,25.7 282,27.3 283.9,28.9 285.9,30.6 287.8,32.2 289.7,33.8 291.6,35.5 293.5,37.1 295.5,38.8 297.4,40.5 299.3,42.2 301.2,43.8 303.1,45.5 305.1,47.2 307,48.9 308.9,50.6 310.8,52.3 312.7,54 314.7,55.7 316.6,57.4 318.5,59.1 320.4,60.8 322.3,62.5 324.3,64.3 326.2,66 328.1,67.7 330,69.4 331.9,71.1 333.8,72.8 335.8,74.5 337.7,76.2 339.6,77.9 341.5,79.6 343.4,81.3 345.4,83 347.3,84.7 349.2,86.4 351.1,88 353,89.7 355,91.4 356.9,93.1 358.8,94.7 360.7,96.4 362.6,98.1 364.6,99.7 366.5,101.4 368.4,103 370.3,104.6 372.2,106.3 374.2,107.9 376.1,109.5 378,111.1 379.9,112.8 381.8,114.4 383.7,116 385.7,117.6 387.6,119.2 389.5,120.7 391.4,122.3 393.3,123.9 395.3,125.5 397.2,127 399.1,128.6 401,130.2 402.9,131.7 404.9,133.3 406.8,134.8 408.7,136.4 410.6,137.9 412.5,139.4 414.5,141 416.4,142.5 418.3,144 420.2,145.6 422.1,147.1 424.1,148.6 426,150.1 427.9,151.6 429.8,153.2 431.7,154.7 433.6,156.2 435.6,157.7 437.5,159.2 439.4,160.7 441.3,162.2 443.2,163.8 445.2,165.3 447.1,166.8 449,168.3" fill="none" stroke="#1f1fff" stroke-width="1.8" stroke-linejoin="round" stroke-linecap="round"/>
<polyline points="259,9.8 260.9,11.4 262.8,12.9 264.8,14.5 266.7,16.1 268.6,17.7 270.5,19.3 272.4,20.9 274.4,22.5 276.3,24.1 278.2,25.8 280.1,27.4 282,29 283.9,30.7 285.9,32.3 287.8,34 289.7,35.6 291.6,37.3 293.5,39 295.5,40.6 297.4,42.3 299.3,44 301.2,45.7 303.1,47.4 305.1,49 307,50.7 308.9,52.4 310.8,54.1 312.7,55.8 314.7,57.5 316.6,59.2 318.5,60.8 320.4,62.5 322.3,64.2 324.3,65.9 326.2,67.6 328.1,69.3 330,71 331.9,72.6 333.8,74.3 335.8,76 337.7,77.7 339.6,79.4 341.5,81 343.4,82.7 345.4,84.4 347.3,86 349.2,87.7 351.1,89.4 353,91 355,92.7 356.9,94.3 358.8,96 360.7,97.6 362.6,99.2 364.6,100.9 366.5,102.5 368.4,104.1 370.3,105.8 372.2,107.4 374.2,109 376.1,110.6 378,112.2 379.9,113.8 381.8,115.4 383.7,117 385.7,118.6 387.6,120.2 389.5,121.8 391.4,123.4 393.3,125 395.3,126.5 397.2,128.1 399.1,129.7 401,131.2 402.9,132.8 404.9,134.3 406.8,135.9 408.7,137.4 410.6,139 412.5,140.5 414.5,142 416.4,143.6 418.3,145.1 420.2,146.6 422.1,148.1 424.1,149.6 426,151.1 427.9,152.6 429.8,154.2 431.7,155.7 433.6,157.2 435.6,158.6 437.5,160.1 439.4,161.6 441.3,163.1 443.2,164.6 445.2,166.1 447.1,167.6 449,169.1" fill="none" stroke="#ff33ff" stroke-width="1.8" stroke-linejoin="round" stroke-linecap="round"/>
<line x1="271.9" y1="42" x2="287.5" y2="17.5" stroke="#f0821e" stroke-width="1.4" marker-end="url(#ahO)"/>
<line x1="359" y1="77" x2="331.5" y2="120.5" stroke="#f0821e" stroke-width="1.4" marker-end="url(#ahO)"/>
<line x1="333" y1="12" x2="362" y2="12" stroke="#000" stroke-width="1.4"/>
<text x="365.6" y="16.3" font-size="12.3" text-anchor="start" fill="#1e1e1e" textLength="72" lengthAdjust="spacingAndGlyphs">MFGM 20 °C</text>
<line x1="333" y1="28.8" x2="362" y2="28.8" stroke="#ff1f1f" stroke-width="1.4"/>
<text x="365.6" y="33.1" font-size="12.3" text-anchor="start" fill="#1e1e1e" textLength="72" lengthAdjust="spacingAndGlyphs">MFGM 20 °C</text>
<line x1="333" y1="45.6" x2="362" y2="45.6" stroke="#1f1fff" stroke-width="1.4"/>
<text x="365.6" y="49.9" font-size="12.3" text-anchor="start" fill="#1e1e1e" textLength="72" lengthAdjust="spacingAndGlyphs">MFGM 20 °C</text>
<line x1="333" y1="62.4" x2="362" y2="62.4" stroke="#ff33ff" stroke-width="1.4"/>
<text x="365.6" y="66.7" font-size="12.3" text-anchor="start" fill="#1e1e1e" textLength="72" lengthAdjust="spacingAndGlyphs">MFGM 20 °C</text>
<line x1="258.5" y1="1.5" x2="449" y2="1.5" stroke="#5a5a5a" stroke-width="1"/>
<line x1="449" y1="1.5" x2="449" y2="177.8" stroke="#5a5a5a" stroke-width="1"/>
<line x1="258.5" y1="1.5" x2="258.5" y2="177.8" stroke="#222" stroke-width="1.1"/>
<line x1="258" y1="177.8" x2="449" y2="177.8" stroke="#222" stroke-width="1.1"/>
<line x1="256" y1="172.5" x2="258.5" y2="172.5" stroke="#222" stroke-width="0.8"/>
<line x1="256" y1="167.7" x2="258.5" y2="167.7" stroke="#222" stroke-width="0.8"/>
<line x1="254.5" y1="163.3" x2="258.5" y2="163.3" stroke="#222" stroke-width="0.8"/>
<line x1="256" y1="134.6" x2="258.5" y2="134.6" stroke="#222" stroke-width="0.8"/>
<line x1="256" y1="117.8" x2="258.5" y2="117.8" stroke="#222" stroke-width="0.8"/>
<line x1="256" y1="105.9" x2="258.5" y2="105.9" stroke="#222" stroke-width="0.8"/>
<line x1="256" y1="96.6" x2="258.5" y2="96.6" stroke="#222" stroke-width="0.8"/>
<line x1="256" y1="89.1" x2="258.5" y2="89.1" stroke="#222" stroke-width="0.8"/>
<line x1="256" y1="82.7" x2="258.5" y2="82.7" stroke="#222" stroke-width="0.8"/>
<line x1="256" y1="77.1" x2="258.5" y2="77.1" stroke="#222" stroke-width="0.8"/>
<line x1="256" y1="72.3" x2="258.5" y2="72.3" stroke="#222" stroke-width="0.8"/>
<line x1="254.5" y1="67.9" x2="258.5" y2="67.9" stroke="#222" stroke-width="0.8"/>
<line x1="256" y1="39.2" x2="258.5" y2="39.2" stroke="#222" stroke-width="0.8"/>
<line x1="256" y1="22.4" x2="258.5" y2="22.4" stroke="#222" stroke-width="0.8"/>
<line x1="256" y1="10.5" x2="258.5" y2="10.5" stroke="#222" stroke-width="0.8"/>
<line x1="274.9" y1="177.8" x2="274.9" y2="180.3" stroke="#222" stroke-width="0.8"/>
<line x1="299.3" y1="177.8" x2="299.3" y2="180.3" stroke="#222" stroke-width="0.8"/>
<line x1="320.5" y1="177.8" x2="320.5" y2="180.3" stroke="#222" stroke-width="0.8"/>
<line x1="339.1" y1="177.8" x2="339.1" y2="181.8" stroke="#222" stroke-width="0.8"/>
<line x1="355.8" y1="177.8" x2="355.8" y2="180.3" stroke="#222" stroke-width="0.8"/>
<line x1="370.9" y1="177.8" x2="370.9" y2="180.3" stroke="#222" stroke-width="0.8"/>
<line x1="384.6" y1="177.8" x2="384.6" y2="180.3" stroke="#222" stroke-width="0.8"/>
<line x1="397.3" y1="177.8" x2="397.3" y2="180.3" stroke="#222" stroke-width="0.8"/>
<line x1="409" y1="177.8" x2="409" y2="180.3" stroke="#222" stroke-width="0.8"/>
<line x1="419.9" y1="177.8" x2="419.9" y2="180.3" stroke="#222" stroke-width="0.8"/>
<line x1="430.2" y1="177.8" x2="430.2" y2="180.3" stroke="#222" stroke-width="0.8"/>
<line x1="439.7" y1="177.8" x2="439.7" y2="180.3" stroke="#222" stroke-width="0.8"/>
<line x1="448.8" y1="177.8" x2="448.8" y2="181.8" stroke="#222" stroke-width="0.8"/>
<text x="249.5" y="15" font-size="13.6" text-anchor="middle" fill="#1e1e1e">B</text>
<text x="339.3" y="195" font-size="13.6" text-anchor="middle" fill="#1e1e1e">0.01</text>
<text x="449.5" y="195" font-size="13.6" text-anchor="middle" fill="#1e1e1e">0.02</text>
<text x="243.5" y="95" font-size="13" text-anchor="middle" fill="#1e1e1e" transform="rotate(-90 243.5 95)">Log <tspan font-style="italic">I</tspan>(<tspan font-style="italic">q</tspan>) (a.u.)</text>
<text x="358.5" y="207" font-size="13" text-anchor="middle" fill="#1e1e1e"><tspan font-style="italic">q</tspan> (Å<tspan dy="-5" font-size="8.5">-1</tspan><tspan dy="5">)</tspan></text>
<polyline points="480,2.8 481.9,4.2 483.9,5.7 485.8,7.2 487.7,8.7 489.6,10.2 491.6,11.8 493.5,13.3 495.4,14.8 497.3,16.4 499.3,17.9 501.2,19.5 503.1,21 505.1,22.6 507,24.2 508.9,25.8 510.8,27.4 512.8,29 514.7,30.6 516.6,32.2 518.5,33.8 520.5,35.4 522.4,37 524.3,38.7 526.3,40.3 528.2,42 530.1,43.6 532,45.3 534,46.9 535.9,48.6 537.8,50.3 539.7,51.9 541.7,53.6 543.6,55.3 545.5,57 547.5,58.7 549.4,60.4 551.3,62.1 553.2,63.8 555.2,65.5 557.1,67.2 559,68.9 560.9,70.7 562.9,72.4 564.8,74.1 566.7,75.9 568.7,77.6 570.6,79.3 572.5,81.1 574.4,82.8 576.4,84.6 578.3,86.3 580.2,88.1 582.1,89.8 584.1,91.6 586,93.4 587.9,95.1 589.9,96.9 591.8,98.7 593.7,100.4 595.6,102.2 597.6,104 599.5,105.7 601.4,107.5 603.3,109.3 605.3,111.1 607.2,112.9 609.1,114.6 611.1,116.4 613,118.2 614.9,120 616.8,121.8 618.8,123.6 620.7,125.3 622.6,127.1 624.5,128.9 626.5,130.7 628.4,132.5 630.3,134.3 632.3,136 634.2,137.8 636.1,139.6 638,141.4 640,143.2 641.9,144.9 643.8,146.7 645.7,148.5 647.7,150.3 649.6,152.1 651.5,153.8 653.5,155.6 655.4,157.4 657.3,159.1 659.2,160.9 661.2,162.7 663.1,164.4 665,166.2 666.9,168 668.9,169.7 670.8,171.5" fill="none" stroke="#000" stroke-width="1.7" stroke-linejoin="round" stroke-linecap="round"/>
<polyline points="480,-0.1 481.9,1.4 483.9,2.9 485.8,4.3 487.7,5.8 489.6,7.3 491.6,8.8 493.5,10.3 495.4,11.8 497.3,13.4 499.3,14.9 501.2,16.4 503.1,18 505.1,19.5 507,21.1 508.9,22.7 510.8,24.3 512.8,25.8 514.7,27.4 516.6,29 518.5,30.6 520.5,32.3 522.4,33.9 524.3,35.5 526.3,37.2 528.2,38.8 530.1,40.5 532,42.1 534,43.8 535.9,45.4 537.8,47.1 539.7,48.8 541.7,50.5 543.6,52.2 545.5,53.9 547.5,55.6 549.4,57.3 551.3,59 553.2,60.7 555.2,62.4 557.1,64.2 559,65.9 560.9,67.6 562.9,69.4 564.8,71.1 566.7,72.9 568.7,74.6 570.6,76.4 572.5,78.1 574.4,79.9 576.4,81.7 578.3,83.4 580.2,85.2 582.1,87 584.1,88.8 586,90.6 587.9,92.4 589.9,94.1 591.8,95.9 593.7,97.7 595.6,99.5 597.6,101.3 599.5,103.1 601.4,104.9 603.3,106.7 605.3,108.6 607.2,110.4 609.1,112.2 611.1,114 613,115.8 614.9,117.6 616.8,119.4 618.8,121.2 620.7,123.1 622.6,124.9 624.5,126.7 626.5,128.5 628.4,130.3 630.3,132.2 632.3,134 634.2,135.8 636.1,137.6 638,139.4 640,141.3 641.9,143.1 643.8,144.9 645.7,146.7 647.7,148.5 649.6,150.3 651.5,152.2 653.5,154 655.4,155.8 657.3,157.6 659.2,159.4 661.2,161.2 663.1,163 665,164.8 666.9,166.6 668.9,168.4 670.8,170.2" fill="none" stroke="#ff1f1f" stroke-width="1.6" stroke-linejoin="round" stroke-linecap="round"/>
<polyline points="480,-1.5 481.9,-0.1 483.9,1.3 485.8,2.7 487.7,4.2 489.6,5.6 491.6,7.1 493.5,8.5 495.4,10 497.3,11.5 499.3,13 501.2,14.5 503.1,16 505.1,17.5 507,19 508.9,20.5 510.8,22.1 512.8,23.6 514.7,25.2 516.6,26.8 518.5,28.3 520.5,29.9 522.4,31.5 524.3,33.1 526.3,34.7 528.2,36.3 530.1,37.9 532,39.5 534,41.2 535.9,42.8 537.8,44.5 539.7,46.1 541.7,47.8 543.6,49.4 545.5,51.1 547.5,52.8 549.4,54.5 551.3,56.2 553.2,57.9 555.2,59.6 557.1,61.3 559,63 560.9,64.7 562.9,66.4 564.8,68.1 566.7,69.9 568.7,71.6 570.6,73.4 572.5,75.1 574.4,76.9 576.4,78.6 578.3,80.4 580.2,82.2 582.1,83.9 584.1,85.7 586,87.5 587.9,89.3 589.9,91.1 591.8,92.9 593.7,94.7 595.6,96.5 597.6,98.3 599.5,100.1 601.4,101.9 603.3,103.7 605.3,105.5 607.2,107.3 609.1,109.2 611.1,111 613,112.8 614.9,114.6 616.8,116.5 618.8,118.3 620.7,120.2 622.6,122 624.5,123.8 626.5,125.7 628.4,127.5 630.3,129.4 632.3,131.2 634.2,133.1 636.1,135 638,136.8 640,138.7 641.9,140.5 643.8,142.4 645.7,144.3 647.7,146.1 649.6,148 651.5,149.8 653.5,151.7 655.4,153.6 657.3,155.4 659.2,157.3 661.2,159.2 663.1,161 665,162.9 666.9,164.8 668.9,166.6 670.8,168.5" fill="none" stroke="#1f1fff" stroke-width="1.8" stroke-linejoin="round" stroke-linecap="round"/>
<polyline points="480,-1.9 481.9,-0.6 483.9,0.8 485.8,2.3 487.7,3.7 489.6,5.1 491.6,6.5 493.5,8 495.4,9.4 497.3,10.9 499.3,12.4 501.2,13.9 503.1,15.4 505.1,16.9 507,18.4 508.9,19.9 510.8,21.5 512.8,23 514.7,24.6 516.6,26.1 518.5,27.7 520.5,29.3 522.4,30.9 524.3,32.5 526.3,34.1 528.2,35.7 530.1,37.3 532,38.9 534,40.6 535.9,42.2 537.8,43.9 539.7,45.5 541.7,47.2 543.6,48.9 545.5,50.6 547.5,52.3 549.4,53.9 551.3,55.6 553.2,57.4 555.2,59.1 557.1,60.8 559,62.5 560.9,64.3 562.9,66 564.8,67.7 566.7,69.5 568.7,71.3 570.6,73 572.5,74.8 574.4,76.6 576.4,78.3 578.3,80.1 580.2,81.9 582.1,83.7 584.1,85.5 586,87.3 587.9,89.1 589.9,90.9 591.8,92.7 593.7,94.6 595.6,96.4 597.6,98.2 599.5,100 601.4,101.9 603.3,103.7 605.3,105.5 607.2,107.4 609.1,109.2 611.1,111.1 613,112.9 614.9,114.8 616.8,116.6 618.8,118.5 620.7,120.4 622.6,122.2 624.5,124.1 626.5,126 628.4,127.8 630.3,129.7 632.3,131.6 634.2,133.5 636.1,135.3 638,137.2 640,139.1 641.9,141 643.8,142.9 645.7,144.7 647.7,146.6 649.6,148.5 651.5,150.4 653.5,152.3 655.4,154.1 657.3,156 659.2,157.9 661.2,159.8 663.1,161.7 665,163.6 666.9,165.4 668.9,167.3 670.8,169.2" fill="none" stroke="#ff33ff" stroke-width="1.8" stroke-linejoin="round" stroke-linecap="round"/>
<line x1="568.4" y1="111.2" x2="594.5" y2="73.5" stroke="#f0821e" stroke-width="1.4" marker-end="url(#ahO)"/>
<line x1="563.4" y1="13.6" x2="590.2" y2="13.6" stroke="#000" stroke-width="1.4"/>
<text x="594.5" y="17.8" font-size="12.3" text-anchor="start" fill="#1e1e1e" textLength="72.5" lengthAdjust="spacingAndGlyphs">MFGM 20 °C</text>
<line x1="563.4" y1="30.3" x2="590.2" y2="30.3" stroke="#ff1f1f" stroke-width="1.4"/>
<text x="594.5" y="34.5" font-size="12.3" text-anchor="start" fill="#1e1e1e" textLength="72.5" lengthAdjust="spacingAndGlyphs">MFGM 20 °C</text>
<line x1="563.4" y1="47" x2="590.2" y2="47" stroke="#1f1fff" stroke-width="1.4"/>
<text x="594.5" y="51.2" font-size="12.3" text-anchor="start" fill="#1e1e1e" textLength="72.5" lengthAdjust="spacingAndGlyphs">MFGM 20 °C</text>
<line x1="563.4" y1="63.7" x2="590.2" y2="63.7" stroke="#ff33ff" stroke-width="1.4"/>
<text x="594.5" y="67.9" font-size="12.3" text-anchor="start" fill="#1e1e1e" textLength="72.5" lengthAdjust="spacingAndGlyphs">MFGM 20 °C</text>
<line x1="479.5" y1="2" x2="670.8" y2="2" stroke="#5a5a5a" stroke-width="1"/>
<line x1="670.8" y1="2" x2="670.8" y2="178" stroke="#5a5a5a" stroke-width="1"/>
<line x1="479.5" y1="2" x2="479.5" y2="178" stroke="#222" stroke-width="1.1"/>
<line x1="479" y1="178" x2="670.8" y2="178" stroke="#222" stroke-width="1.1"/>
<line x1="475.5" y1="177" x2="479.5" y2="177" stroke="#222" stroke-width="0.8"/>
<line x1="477" y1="141.3" x2="479.5" y2="141.3" stroke="#222" stroke-width="0.8"/>
<line x1="477" y1="120.4" x2="479.5" y2="120.4" stroke="#222" stroke-width="0.8"/>
<line x1="477" y1="105.6" x2="479.5" y2="105.6" stroke="#222" stroke-width="0.8"/>
<line x1="477" y1="94.1" x2="479.5" y2="94.1" stroke="#222" stroke-width="0.8"/>
<line x1="477" y1="84.7" x2="479.5" y2="84.7" stroke="#222" stroke-width="0.8"/>
<line x1="477" y1="76.8" x2="479.5" y2="76.8" stroke="#222" stroke-width="0.8"/>
<line x1="477" y1="69.9" x2="479.5" y2="69.9" stroke="#222" stroke-width="0.8"/>
<line x1="477" y1="63.8" x2="479.5" y2="63.8" stroke="#222" stroke-width="0.8"/>
<line x1="475.5" y1="58.4" x2="479.5" y2="58.4" stroke="#222" stroke-width="0.8"/>
<line x1="477" y1="22.7" x2="479.5" y2="22.7" stroke="#222" stroke-width="0.8"/>
<line x1="479.5" y1="178" x2="479.5" y2="182" stroke="#222" stroke-width="0.8"/>
<line x1="492.1" y1="178" x2="492.1" y2="180.5" stroke="#222" stroke-width="0.8"/>
<line x1="503.4" y1="178" x2="503.4" y2="180.5" stroke="#222" stroke-width="0.8"/>
<line x1="513.8" y1="178" x2="513.8" y2="180.5" stroke="#222" stroke-width="0.8"/>
<line x1="523.4" y1="178" x2="523.4" y2="180.5" stroke="#222" stroke-width="0.8"/>
<line x1="532.2" y1="178" x2="532.2" y2="180.5" stroke="#222" stroke-width="0.8"/>
<line x1="540.4" y1="178" x2="540.4" y2="180.5" stroke="#222" stroke-width="0.8"/>
<line x1="548.1" y1="178" x2="548.1" y2="180.5" stroke="#222" stroke-width="0.8"/>
<line x1="555.4" y1="178" x2="555.4" y2="180.5" stroke="#222" stroke-width="0.8"/>
<line x1="562.2" y1="178" x2="562.2" y2="182" stroke="#222" stroke-width="0.8"/>
<line x1="568.6" y1="178" x2="568.6" y2="180.5" stroke="#222" stroke-width="0.8"/>
<line x1="574.8" y1="178" x2="574.8" y2="180.5" stroke="#222" stroke-width="0.8"/>
<line x1="580.6" y1="178" x2="580.6" y2="180.5" stroke="#222" stroke-width="0.8"/>
<line x1="586.1" y1="178" x2="586.1" y2="180.5" stroke="#222" stroke-width="0.8"/>
<line x1="591.4" y1="178" x2="591.4" y2="180.5" stroke="#222" stroke-width="0.8"/>
<line x1="596.5" y1="178" x2="596.5" y2="180.5" stroke="#222" stroke-width="0.8"/>
<line x1="601.4" y1="178" x2="601.4" y2="180.5" stroke="#222" stroke-width="0.8"/>
<line x1="606.1" y1="178" x2="606.1" y2="180.5" stroke="#222" stroke-width="0.8"/>
<line x1="610.6" y1="178" x2="610.6" y2="182" stroke="#222" stroke-width="0.8"/>
<line x1="614.9" y1="178" x2="614.9" y2="180.5" stroke="#222" stroke-width="0.8"/>
<line x1="619.1" y1="178" x2="619.1" y2="180.5" stroke="#222" stroke-width="0.8"/>
<line x1="623.1" y1="178" x2="623.1" y2="180.5" stroke="#222" stroke-width="0.8"/>
<line x1="627" y1="178" x2="627" y2="180.5" stroke="#222" stroke-width="0.8"/>
<line x1="630.8" y1="178" x2="630.8" y2="180.5" stroke="#222" stroke-width="0.8"/>
<line x1="634.5" y1="178" x2="634.5" y2="180.5" stroke="#222" stroke-width="0.8"/>
<line x1="638.1" y1="178" x2="638.1" y2="180.5" stroke="#222" stroke-width="0.8"/>
<line x1="641.5" y1="178" x2="641.5" y2="180.5" stroke="#222" stroke-width="0.8"/>
<line x1="644.9" y1="178" x2="644.9" y2="182" stroke="#222" stroke-width="0.8"/>
<line x1="648.2" y1="178" x2="648.2" y2="180.5" stroke="#222" stroke-width="0.8"/>
<line x1="651.3" y1="178" x2="651.3" y2="180.5" stroke="#222" stroke-width="0.8"/>
<line x1="654.4" y1="178" x2="654.4" y2="180.5" stroke="#222" stroke-width="0.8"/>
<line x1="657.5" y1="178" x2="657.5" y2="180.5" stroke="#222" stroke-width="0.8"/>
<line x1="660.4" y1="178" x2="660.4" y2="180.5" stroke="#222" stroke-width="0.8"/>
<line x1="663.3" y1="178" x2="663.3" y2="180.5" stroke="#222" stroke-width="0.8"/>
<line x1="666.1" y1="178" x2="666.1" y2="180.5" stroke="#222" stroke-width="0.8"/>
<line x1="668.8" y1="178" x2="668.8" y2="180.5" stroke="#222" stroke-width="0.8"/>
<text x="471.5" y="16.5" font-size="13.6" text-anchor="middle" fill="#1e1e1e">C</text>
<text x="465" y="183" font-size="13.6" text-anchor="middle" fill="#1e1e1e">10<tspan dy="-5" font-size="8.5">1</tspan></text>
<text x="479.5" y="195" font-size="13.6" text-anchor="middle" fill="#1e1e1e">0.03</text>
<text x="562.2" y="195" font-size="13.6" text-anchor="middle" fill="#1e1e1e">0.06</text>
<text x="609" y="195" font-size="13.6" text-anchor="middle" fill="#1e1e1e">0.09</text>
<text x="643.5" y="195" font-size="13.6" text-anchor="middle" fill="#1e1e1e">0.12</text>
<text x="670" y="195" font-size="13.6" text-anchor="middle" fill="#1e1e1e">0.15</text>
<text x="466" y="95" font-size="13" text-anchor="middle" fill="#1e1e1e" transform="rotate(-90 466 95)">Log <tspan font-style="italic">I</tspan>(<tspan font-style="italic">q</tspan>) (a.u.)</text>
<text x="575" y="207" font-size="13" text-anchor="middle" fill="#1e1e1e"><tspan font-style="italic">q</tspan> (Å<tspan dy="-5" font-size="8.5">-1</tspan><tspan dy="5">)</tspan></text>
<circle cx="49.1" cy="245.8" r="3.7" fill="none" stroke="#000" stroke-width="2.2"/>
<path d="M46.2,245.8h5.8M49.1,242.9v5.8" stroke="#000" stroke-width="0.7"/>
<circle cx="59.9" cy="254.1" r="3.7" fill="none" stroke="#000" stroke-width="2.2"/>
<path d="M57.0,254.1h5.8M59.9,251.2v5.8" stroke="#000" stroke-width="0.7"/>
<circle cx="70.0" cy="262.0" r="3.7" fill="none" stroke="#000" stroke-width="2.2"/>
<path d="M67.1,262.0h5.8M70.0,259.1v5.8" stroke="#000" stroke-width="0.7"/>
<circle cx="79.6" cy="269.4" r="3.7" fill="none" stroke="#000" stroke-width="2.2"/>
<path d="M76.7,269.4h5.8M79.6,266.5v5.8" stroke="#000" stroke-width="0.7"/>
<circle cx="88.6" cy="276.4" r="3.7" fill="none" stroke="#000" stroke-width="2.2"/>
<path d="M85.7,276.4h5.8M88.6,273.5v5.8" stroke="#000" stroke-width="0.7"/>
<circle cx="97.2" cy="283.0" r="3.7" fill="none" stroke="#000" stroke-width="2.2"/>
<path d="M94.3,283.0h5.8M97.2,280.1v5.8" stroke="#000" stroke-width="0.7"/>
<circle cx="105.3" cy="289.4" r="3.7" fill="none" stroke="#000" stroke-width="2.2"/>
<path d="M102.4,289.4h5.8M105.3,286.5v5.8" stroke="#000" stroke-width="0.7"/>
<circle cx="113.1" cy="295.4" r="3.7" fill="none" stroke="#000" stroke-width="2.2"/>
<path d="M110.2,295.4h5.8M113.1,292.5v5.8" stroke="#000" stroke-width="0.7"/>
<circle cx="120.5" cy="301.2" r="3.7" fill="none" stroke="#000" stroke-width="2.2"/>
<path d="M117.6,301.2h5.8M120.5,298.3v5.8" stroke="#000" stroke-width="0.7"/>
<circle cx="127.6" cy="306.7" r="3.7" fill="none" stroke="#000" stroke-width="2.2"/>
<path d="M124.7,306.7h5.8M127.6,303.8v5.8" stroke="#000" stroke-width="0.7"/>
<circle cx="134.5" cy="312.1" r="3.7" fill="none" stroke="#000" stroke-width="2.2"/>
<path d="M131.6,312.1h5.8M134.5,309.2v5.8" stroke="#000" stroke-width="0.7"/>
<circle cx="141.0" cy="317.2" r="3.7" fill="none" stroke="#000" stroke-width="2.2"/>
<path d="M138.1,317.2h5.8M141.0,314.3v5.8" stroke="#000" stroke-width="0.7"/>
<circle cx="147.3" cy="322.1" r="3.7" fill="none" stroke="#000" stroke-width="2.2"/>
<path d="M144.4,322.1h5.8M147.3,319.2v5.8" stroke="#000" stroke-width="0.7"/>
<circle cx="153.4" cy="326.9" r="3.7" fill="none" stroke="#000" stroke-width="2.2"/>
<path d="M150.5,326.9h5.8M153.4,324.0v5.8" stroke="#000" stroke-width="0.7"/>
<circle cx="159.3" cy="331.5" r="3.7" fill="none" stroke="#000" stroke-width="2.2"/>
<path d="M156.4,331.5h5.8M159.3,328.6v5.8" stroke="#000" stroke-width="0.7"/>
<circle cx="164.9" cy="335.9" r="3.7" fill="none" stroke="#000" stroke-width="2.2"/>
<path d="M162.0,335.9h5.8M164.9,333.0v5.8" stroke="#000" stroke-width="0.7"/>
<circle cx="170.4" cy="340.2" r="3.7" fill="none" stroke="#000" stroke-width="2.2"/>
<path d="M167.5,340.2h5.8M170.4,337.3v5.8" stroke="#000" stroke-width="0.7"/>
<circle cx="175.7" cy="344.3" r="3.7" fill="none" stroke="#000" stroke-width="2.2"/>
<path d="M172.8,344.3h5.8M175.7,341.4v5.8" stroke="#000" stroke-width="0.7"/>
<circle cx="180.9" cy="348.4" r="3.7" fill="none" stroke="#000" stroke-width="2.2"/>
<path d="M178.0,348.4h5.8M180.9,345.5v5.8" stroke="#000" stroke-width="0.7"/>
<circle cx="185.9" cy="352.3" r="3.7" fill="none" stroke="#000" stroke-width="2.2"/>
<path d="M183.0,352.3h5.8M185.9,349.4v5.8" stroke="#000" stroke-width="0.7"/>
<circle cx="190.7" cy="356.1" r="3.7" fill="none" stroke="#000" stroke-width="2.2"/>
<path d="M187.8,356.1h5.8M190.7,353.2v5.8" stroke="#000" stroke-width="0.7"/>
<circle cx="195.4" cy="359.8" r="3.7" fill="none" stroke="#000" stroke-width="2.2"/>
<path d="M192.5,359.8h5.8M195.4,356.9v5.8" stroke="#000" stroke-width="0.7"/>
<circle cx="200.0" cy="363.4" r="3.7" fill="none" stroke="#000" stroke-width="2.2"/>
<path d="M197.1,363.4h5.8M200.0,360.5v5.8" stroke="#000" stroke-width="0.7"/>
<circle cx="204.4" cy="366.9" r="3.7" fill="none" stroke="#000" stroke-width="2.2"/>
<path d="M201.5,366.9h5.8M204.4,364.0v5.8" stroke="#000" stroke-width="0.7"/>
<circle cx="208.8" cy="370.3" r="3.7" fill="none" stroke="#000" stroke-width="2.2"/>
<path d="M205.9,370.3h5.8M208.8,367.4v5.8" stroke="#000" stroke-width="0.7"/>
<circle cx="213.0" cy="373.7" r="3.7" fill="none" stroke="#000" stroke-width="2.2"/>
<path d="M210.1,373.7h5.8M213.0,370.8v5.8" stroke="#000" stroke-width="0.7"/>
<circle cx="217.1" cy="376.9" r="3.7" fill="none" stroke="#000" stroke-width="2.2"/>
<path d="M214.2,376.9h5.8M217.1,374.0v5.8" stroke="#000" stroke-width="0.7"/>
<circle cx="221.2" cy="380.1" r="3.7" fill="none" stroke="#000" stroke-width="2.2"/>
<path d="M218.3,380.1h5.8M221.2,377.2v5.8" stroke="#000" stroke-width="0.7"/>
<circle cx="225.1" cy="383.2" r="3.7" fill="none" stroke="#000" stroke-width="2.2"/>
<path d="M222.2,383.2h5.8M225.1,380.3v5.8" stroke="#000" stroke-width="0.7"/>
<circle cx="49.1" cy="236.8" r="3.7" fill="none" stroke="#ff1f1f" stroke-width="2.2"/>
<path d="M46.2,236.8h5.8M49.1,233.9v5.8" stroke="#ff1f1f" stroke-width="0.7"/>
<circle cx="59.9" cy="244.8" r="3.7" fill="none" stroke="#ff1f1f" stroke-width="2.2"/>
<path d="M57.0,244.8h5.8M59.9,241.9v5.8" stroke="#ff1f1f" stroke-width="0.7"/>
<circle cx="70.0" cy="252.3" r="3.7" fill="none" stroke="#ff1f1f" stroke-width="2.2"/>
<path d="M67.1,252.3h5.8M70.0,249.4v5.8" stroke="#ff1f1f" stroke-width="0.7"/>
<circle cx="79.6" cy="259.5" r="3.7" fill="none" stroke="#ff1f1f" stroke-width="2.2"/>
<path d="M76.7,259.5h5.8M79.6,256.6v5.8" stroke="#ff1f1f" stroke-width="0.7"/>
<circle cx="88.6" cy="266.3" r="3.7" fill="none" stroke="#ff1f1f" stroke-width="2.2"/>
<path d="M85.7,266.3h5.8M88.6,263.4v5.8" stroke="#ff1f1f" stroke-width="0.7"/>
<circle cx="97.2" cy="272.9" r="3.7" fill="none" stroke="#ff1f1f" stroke-width="2.2"/>
<path d="M94.3,272.9h5.8M97.2,270.0v5.8" stroke="#ff1f1f" stroke-width="0.7"/>
<circle cx="105.3" cy="279.1" r="3.7" fill="none" stroke="#ff1f1f" stroke-width="2.2"/>
<path d="M102.4,279.1h5.8M105.3,276.2v5.8" stroke="#ff1f1f" stroke-width="0.7"/>
<circle cx="113.1" cy="285.1" r="3.7" fill="none" stroke="#ff1f1f" stroke-width="2.2"/>
<path d="M110.2,285.1h5.8M113.1,282.2v5.8" stroke="#ff1f1f" stroke-width="0.7"/>
<circle cx="120.5" cy="290.9" r="3.7" fill="none" stroke="#ff1f1f" stroke-width="2.2"/>
<path d="M117.6,290.9h5.8M120.5,288.0v5.8" stroke="#ff1f1f" stroke-width="0.7"/>
<circle cx="127.6" cy="296.4" r="3.7" fill="none" stroke="#ff1f1f" stroke-width="2.2"/>
<path d="M124.7,296.4h5.8M127.6,293.5v5.8" stroke="#ff1f1f" stroke-width="0.7"/>
<circle cx="134.5" cy="301.8" r="3.7" fill="none" stroke="#ff1f1f" stroke-width="2.2"/>
<path d="M131.6,301.8h5.8M134.5,298.9v5.8" stroke="#ff1f1f" stroke-width="0.7"/>
<circle cx="141.0" cy="306.9" r="3.7" fill="none" stroke="#ff1f1f" stroke-width="2.2"/>
<path d="M138.1,306.9h5.8M141.0,304.0v5.8" stroke="#ff1f1f" stroke-width="0.7"/>
<circle cx="147.3" cy="311.9" r="3.7" fill="none" stroke="#ff1f1f" stroke-width="2.2"/>
<path d="M144.4,311.9h5.8M147.3,309.0v5.8" stroke="#ff1f1f" stroke-width="0.7"/>
<circle cx="153.4" cy="316.8" r="3.7" fill="none" stroke="#ff1f1f" stroke-width="2.2"/>
<path d="M150.5,316.8h5.8M153.4,313.9v5.8" stroke="#ff1f1f" stroke-width="0.7"/>
<circle cx="159.3" cy="321.5" r="3.7" fill="none" stroke="#ff1f1f" stroke-width="2.2"/>
<path d="M156.4,321.5h5.8M159.3,318.6v5.8" stroke="#ff1f1f" stroke-width="0.7"/>
<circle cx="164.9" cy="326.0" r="3.7" fill="none" stroke="#ff1f1f" stroke-width="2.2"/>
<path d="M162.0,326.0h5.8M164.9,323.1v5.8" stroke="#ff1f1f" stroke-width="0.7"/>
<circle cx="170.4" cy="330.4" r="3.7" fill="none" stroke="#ff1f1f" stroke-width="2.2"/>
<path d="M167.5,330.4h5.8M170.4,327.5v5.8" stroke="#ff1f1f" stroke-width="0.7"/>
<circle cx="175.7" cy="334.7" r="3.7" fill="none" stroke="#ff1f1f" stroke-width="2.2"/>
<path d="M172.8,334.7h5.8M175.7,331.8v5.8" stroke="#ff1f1f" stroke-width="0.7"/>
<circle cx="180.9" cy="338.9" r="3.7" fill="none" stroke="#ff1f1f" stroke-width="2.2"/>
<path d="M178.0,338.9h5.8M180.9,336.0v5.8" stroke="#ff1f1f" stroke-width="0.7"/>
<circle cx="185.9" cy="342.9" r="3.7" fill="none" stroke="#ff1f1f" stroke-width="2.2"/>
<path d="M183.0,342.9h5.8M185.9,340.0v5.8" stroke="#ff1f1f" stroke-width="0.7"/>
<circle cx="190.7" cy="346.9" r="3.7" fill="none" stroke="#ff1f1f" stroke-width="2.2"/>
<path d="M187.8,346.9h5.8M190.7,344.0v5.8" stroke="#ff1f1f" stroke-width="0.7"/>
<circle cx="195.4" cy="350.8" r="3.7" fill="none" stroke="#ff1f1f" stroke-width="2.2"/>
<path d="M192.5,350.8h5.8M195.4,347.9v5.8" stroke="#ff1f1f" stroke-width="0.7"/>
<circle cx="200.0" cy="354.5" r="3.7" fill="none" stroke="#ff1f1f" stroke-width="2.2"/>
<path d="M197.1,354.5h5.8M200.0,351.6v5.8" stroke="#ff1f1f" stroke-width="0.7"/>
<circle cx="204.4" cy="358.2" r="3.7" fill="none" stroke="#ff1f1f" stroke-width="2.2"/>
<path d="M201.5,358.2h5.8M204.4,355.3v5.8" stroke="#ff1f1f" stroke-width="0.7"/>
<circle cx="208.8" cy="361.8" r="3.7" fill="none" stroke="#ff1f1f" stroke-width="2.2"/>
<path d="M205.9,361.8h5.8M208.8,358.9v5.8" stroke="#ff1f1f" stroke-width="0.7"/>
<circle cx="213.0" cy="365.3" r="3.7" fill="none" stroke="#ff1f1f" stroke-width="2.2"/>
<path d="M210.1,365.3h5.8M213.0,362.4v5.8" stroke="#ff1f1f" stroke-width="0.7"/>
<circle cx="217.1" cy="368.7" r="3.7" fill="none" stroke="#ff1f1f" stroke-width="2.2"/>
<path d="M214.2,368.7h5.8M217.1,365.8v5.8" stroke="#ff1f1f" stroke-width="0.7"/>
<circle cx="221.2" cy="372.1" r="3.7" fill="none" stroke="#ff1f1f" stroke-width="2.2"/>
<path d="M218.3,372.1h5.8M221.2,369.2v5.8" stroke="#ff1f1f" stroke-width="0.7"/>
<circle cx="225.1" cy="375.4" r="3.7" fill="none" stroke="#ff1f1f" stroke-width="2.2"/>
<path d="M222.2,375.4h5.8M225.1,372.5v5.8" stroke="#ff1f1f" stroke-width="0.7"/>
<circle cx="49.1" cy="219.3" r="3.7" fill="none" stroke="#1f1fff" stroke-width="2.2"/>
<path d="M46.2,219.3h5.8M49.1,216.4v5.8" stroke="#1f1fff" stroke-width="0.7"/>
<circle cx="59.9" cy="228.1" r="3.7" fill="none" stroke="#1f1fff" stroke-width="2.2"/>
<path d="M57.0,228.1h5.8M59.9,225.2v5.8" stroke="#1f1fff" stroke-width="0.7"/>
<circle cx="70.0" cy="236.5" r="3.7" fill="none" stroke="#1f1fff" stroke-width="2.2"/>
<path d="M67.1,236.5h5.8M70.0,233.6v5.8" stroke="#1f1fff" stroke-width="0.7"/>
<circle cx="79.6" cy="244.4" r="3.7" fill="none" stroke="#1f1fff" stroke-width="2.2"/>
<path d="M76.7,244.4h5.8M79.6,241.5v5.8" stroke="#1f1fff" stroke-width="0.7"/>
<circle cx="88.6" cy="251.8" r="3.7" fill="none" stroke="#1f1fff" stroke-width="2.2"/>
<path d="M85.7,251.8h5.8M88.6,248.9v5.8" stroke="#1f1fff" stroke-width="0.7"/>
<circle cx="97.2" cy="258.9" r="3.7" fill="none" stroke="#1f1fff" stroke-width="2.2"/>
<path d="M94.3,258.9h5.8M97.2,256.0v5.8" stroke="#1f1fff" stroke-width="0.7"/>
<circle cx="105.3" cy="265.7" r="3.7" fill="none" stroke="#1f1fff" stroke-width="2.2"/>
<path d="M102.4,265.7h5.8M105.3,262.8v5.8" stroke="#1f1fff" stroke-width="0.7"/>
<circle cx="113.1" cy="272.1" r="3.7" fill="none" stroke="#1f1fff" stroke-width="2.2"/>
<path d="M110.2,272.1h5.8M113.1,269.2v5.8" stroke="#1f1fff" stroke-width="0.7"/>
<circle cx="120.5" cy="278.3" r="3.7" fill="none" stroke="#1f1fff" stroke-width="2.2"/>
<path d="M117.6,278.3h5.8M120.5,275.4v5.8" stroke="#1f1fff" stroke-width="0.7"/>
<circle cx="127.6" cy="284.3" r="3.7" fill="none" stroke="#1f1fff" stroke-width="2.2"/>
<path d="M124.7,284.3h5.8M127.6,281.4v5.8" stroke="#1f1fff" stroke-width="0.7"/>
<circle cx="134.5" cy="289.9" r="3.7" fill="none" stroke="#1f1fff" stroke-width="2.2"/>
<path d="M131.6,289.9h5.8M134.5,287.0v5.8" stroke="#1f1fff" stroke-width="0.7"/>
<circle cx="141.0" cy="295.4" r="3.7" fill="none" stroke="#1f1fff" stroke-width="2.2"/>
<path d="M138.1,295.4h5.8M141.0,292.5v5.8" stroke="#1f1fff" stroke-width="0.7"/>
<circle cx="147.3" cy="300.7" r="3.7" fill="none" stroke="#1f1fff" stroke-width="2.2"/>
<path d="M144.4,300.7h5.8M147.3,297.8v5.8" stroke="#1f1fff" stroke-width="0.7"/>
<circle cx="153.4" cy="305.8" r="3.7" fill="none" stroke="#1f1fff" stroke-width="2.2"/>
<path d="M150.5,305.8h5.8M153.4,302.9v5.8" stroke="#1f1fff" stroke-width="0.7"/>
<circle cx="159.3" cy="310.7" r="3.7" fill="none" stroke="#1f1fff" stroke-width="2.2"/>
<path d="M156.4,310.7h5.8M159.3,307.8v5.8" stroke="#1f1fff" stroke-width="0.7"/>
<circle cx="164.9" cy="315.5" r="3.7" fill="none" stroke="#1f1fff" stroke-width="2.2"/>
<path d="M162.0,315.5h5.8M164.9,312.6v5.8" stroke="#1f1fff" stroke-width="0.7"/>
<circle cx="170.4" cy="320.1" r="3.7" fill="none" stroke="#1f1fff" stroke-width="2.2"/>
<path d="M167.5,320.1h5.8M170.4,317.2v5.8" stroke="#1f1fff" stroke-width="0.7"/>
<circle cx="175.7" cy="324.6" r="3.7" fill="none" stroke="#1f1fff" stroke-width="2.2"/>
<path d="M172.8,324.6h5.8M175.7,321.7v5.8" stroke="#1f1fff" stroke-width="0.7"/>
<circle cx="180.9" cy="328.9" r="3.7" fill="none" stroke="#1f1fff" stroke-width="2.2"/>
<path d="M178.0,328.9h5.8M180.9,326.0v5.8" stroke="#1f1fff" stroke-width="0.7"/>
<circle cx="185.9" cy="333.2" r="3.7" fill="none" stroke="#1f1fff" stroke-width="2.2"/>
<path d="M183.0,333.2h5.8M185.9,330.3v5.8" stroke="#1f1fff" stroke-width="0.7"/>
<circle cx="190.7" cy="337.3" r="3.7" fill="none" stroke="#1f1fff" stroke-width="2.2"/>
<path d="M187.8,337.3h5.8M190.7,334.4v5.8" stroke="#1f1fff" stroke-width="0.7"/>
<circle cx="195.4" cy="341.2" r="3.7" fill="none" stroke="#1f1fff" stroke-width="2.2"/>
<path d="M192.5,341.2h5.8M195.4,338.3v5.8" stroke="#1f1fff" stroke-width="0.7"/>
<circle cx="200.0" cy="345.1" r="3.7" fill="none" stroke="#1f1fff" stroke-width="2.2"/>
<path d="M197.1,345.1h5.8M200.0,342.2v5.8" stroke="#1f1fff" stroke-width="0.7"/>
<circle cx="204.4" cy="348.9" r="3.7" fill="none" stroke="#1f1fff" stroke-width="2.2"/>
<path d="M201.5,348.9h5.8M204.4,346.0v5.8" stroke="#1f1fff" stroke-width="0.7"/>
<circle cx="208.8" cy="352.6" r="3.7" fill="none" stroke="#1f1fff" stroke-width="2.2"/>
<path d="M205.9,352.6h5.8M208.8,349.7v5.8" stroke="#1f1fff" stroke-width="0.7"/>
<circle cx="213.0" cy="356.2" r="3.7" fill="none" stroke="#1f1fff" stroke-width="2.2"/>
<path d="M210.1,356.2h5.8M213.0,353.3v5.8" stroke="#1f1fff" stroke-width="0.7"/>
<circle cx="217.1" cy="359.7" r="3.7" fill="none" stroke="#1f1fff" stroke-width="2.2"/>
<path d="M214.2,359.7h5.8M217.1,356.8v5.8" stroke="#1f1fff" stroke-width="0.7"/>
<circle cx="221.2" cy="363.1" r="3.7" fill="none" stroke="#1f1fff" stroke-width="2.2"/>
<path d="M218.3,363.1h5.8M221.2,360.2v5.8" stroke="#1f1fff" stroke-width="0.7"/>
<circle cx="225.1" cy="366.5" r="3.7" fill="none" stroke="#1f1fff" stroke-width="2.2"/>
<path d="M222.2,366.5h5.8M225.1,363.6v5.8" stroke="#1f1fff" stroke-width="0.7"/>
<circle cx="49.1" cy="225.2" r="3.7" fill="none" stroke="#ff33ff" stroke-width="2.2"/>
<path d="M46.2,225.2h5.8M49.1,222.3v5.8" stroke="#ff33ff" stroke-width="0.7"/>
<circle cx="59.9" cy="234.1" r="3.7" fill="none" stroke="#ff33ff" stroke-width="2.2"/>
<path d="M57.0,234.1h5.8M59.9,231.2v5.8" stroke="#ff33ff" stroke-width="0.7"/>
<circle cx="70.0" cy="242.5" r="3.7" fill="none" stroke="#ff33ff" stroke-width="2.2"/>
<path d="M67.1,242.5h5.8M70.0,239.6v5.8" stroke="#ff33ff" stroke-width="0.7"/>
<circle cx="79.6" cy="250.3" r="3.7" fill="none" stroke="#ff33ff" stroke-width="2.2"/>
<path d="M76.7,250.3h5.8M79.6,247.4v5.8" stroke="#ff33ff" stroke-width="0.7"/>
<circle cx="88.6" cy="257.8" r="3.7" fill="none" stroke="#ff33ff" stroke-width="2.2"/>
<path d="M85.7,257.8h5.8M88.6,254.9v5.8" stroke="#ff33ff" stroke-width="0.7"/>
<circle cx="97.2" cy="264.8" r="3.7" fill="none" stroke="#ff33ff" stroke-width="2.2"/>
<path d="M94.3,264.8h5.8M97.2,261.9v5.8" stroke="#ff33ff" stroke-width="0.7"/>
<circle cx="105.3" cy="271.6" r="3.7" fill="none" stroke="#ff33ff" stroke-width="2.2"/>
<path d="M102.4,271.6h5.8M105.3,268.7v5.8" stroke="#ff33ff" stroke-width="0.7"/>
<circle cx="113.1" cy="277.9" r="3.7" fill="none" stroke="#ff33ff" stroke-width="2.2"/>
<path d="M110.2,277.9h5.8M113.1,275.0v5.8" stroke="#ff33ff" stroke-width="0.7"/>
<circle cx="120.5" cy="284.0" r="3.7" fill="none" stroke="#ff33ff" stroke-width="2.2"/>
<path d="M117.6,284.0h5.8M120.5,281.1v5.8" stroke="#ff33ff" stroke-width="0.7"/>
<circle cx="127.6" cy="289.9" r="3.7" fill="none" stroke="#ff33ff" stroke-width="2.2"/>
<path d="M124.7,289.9h5.8M127.6,287.0v5.8" stroke="#ff33ff" stroke-width="0.7"/>
<circle cx="134.5" cy="295.5" r="3.7" fill="none" stroke="#ff33ff" stroke-width="2.2"/>
<path d="M131.6,295.5h5.8M134.5,292.6v5.8" stroke="#ff33ff" stroke-width="0.7"/>
<circle cx="141.0" cy="300.9" r="3.7" fill="none" stroke="#ff33ff" stroke-width="2.2"/>
<path d="M138.1,300.9h5.8M141.0,298.0v5.8" stroke="#ff33ff" stroke-width="0.7"/>
<circle cx="147.3" cy="306.0" r="3.7" fill="none" stroke="#ff33ff" stroke-width="2.2"/>
<path d="M144.4,306.0h5.8M147.3,303.1v5.8" stroke="#ff33ff" stroke-width="0.7"/>
<circle cx="153.4" cy="311.0" r="3.7" fill="none" stroke="#ff33ff" stroke-width="2.2"/>
<path d="M150.5,311.0h5.8M153.4,308.1v5.8" stroke="#ff33ff" stroke-width="0.7"/>
<circle cx="159.3" cy="315.8" r="3.7" fill="none" stroke="#ff33ff" stroke-width="2.2"/>
<path d="M156.4,315.8h5.8M159.3,312.9v5.8" stroke="#ff33ff" stroke-width="0.7"/>
<circle cx="164.9" cy="320.5" r="3.7" fill="none" stroke="#ff33ff" stroke-width="2.2"/>
<path d="M162.0,320.5h5.8M164.9,317.6v5.8" stroke="#ff33ff" stroke-width="0.7"/>
<circle cx="170.4" cy="324.9" r="3.7" fill="none" stroke="#ff33ff" stroke-width="2.2"/>
<path d="M167.5,324.9h5.8M170.4,322.0v5.8" stroke="#ff33ff" stroke-width="0.7"/>
<circle cx="175.7" cy="329.3" r="3.7" fill="none" stroke="#ff33ff" stroke-width="2.2"/>
<path d="M172.8,329.3h5.8M175.7,326.4v5.8" stroke="#ff33ff" stroke-width="0.7"/>
<circle cx="180.9" cy="333.5" r="3.7" fill="none" stroke="#ff33ff" stroke-width="2.2"/>
<path d="M178.0,333.5h5.8M180.9,330.6v5.8" stroke="#ff33ff" stroke-width="0.7"/>
<circle cx="185.9" cy="337.6" r="3.7" fill="none" stroke="#ff33ff" stroke-width="2.2"/>
<path d="M183.0,337.6h5.8M185.9,334.7v5.8" stroke="#ff33ff" stroke-width="0.7"/>
<circle cx="190.7" cy="341.5" r="3.7" fill="none" stroke="#ff33ff" stroke-width="2.2"/>
<path d="M187.8,341.5h5.8M190.7,338.6v5.8" stroke="#ff33ff" stroke-width="0.7"/>
<circle cx="195.4" cy="345.4" r="3.7" fill="none" stroke="#ff33ff" stroke-width="2.2"/>
<path d="M192.5,345.4h5.8M195.4,342.5v5.8" stroke="#ff33ff" stroke-width="0.7"/>
<circle cx="200.0" cy="349.1" r="3.7" fill="none" stroke="#ff33ff" stroke-width="2.2"/>
<path d="M197.1,349.1h5.8M200.0,346.2v5.8" stroke="#ff33ff" stroke-width="0.7"/>
<circle cx="204.4" cy="352.8" r="3.7" fill="none" stroke="#ff33ff" stroke-width="2.2"/>
<path d="M201.5,352.8h5.8M204.4,349.9v5.8" stroke="#ff33ff" stroke-width="0.7"/>
<circle cx="208.8" cy="356.3" r="3.7" fill="none" stroke="#ff33ff" stroke-width="2.2"/>
<path d="M205.9,356.3h5.8M208.8,353.4v5.8" stroke="#ff33ff" stroke-width="0.7"/>
<circle cx="213.0" cy="359.7" r="3.7" fill="none" stroke="#ff33ff" stroke-width="2.2"/>
<path d="M210.1,359.7h5.8M213.0,356.8v5.8" stroke="#ff33ff" stroke-width="0.7"/>
<circle cx="217.1" cy="363.1" r="3.7" fill="none" stroke="#ff33ff" stroke-width="2.2"/>
<path d="M214.2,363.1h5.8M217.1,360.2v5.8" stroke="#ff33ff" stroke-width="0.7"/>
<circle cx="221.2" cy="366.4" r="3.7" fill="none" stroke="#ff33ff" stroke-width="2.2"/>
<path d="M218.3,366.4h5.8M221.2,363.5v5.8" stroke="#ff33ff" stroke-width="0.7"/>
<circle cx="225.1" cy="369.6" r="3.7" fill="none" stroke="#ff33ff" stroke-width="2.2"/>
<path d="M222.2,369.6h5.8M225.1,366.7v5.8" stroke="#ff33ff" stroke-width="0.7"/>
<circle cx="141.9" cy="225.2" r="3.0" fill="none" stroke="#000" stroke-width="2.2"/>
<text x="157.7" y="228.7" font-size="10" text-anchor="start" fill="#1e1e1e" textLength="61.5" lengthAdjust="spacingAndGlyphs">MFGM 20 °C</text>
<circle cx="141.9" cy="239.2" r="3.0" fill="none" stroke="#ff1f1f" stroke-width="2.2"/>
<text x="157.7" y="242.8" font-size="10" text-anchor="start" fill="#1e1e1e" textLength="61.5" lengthAdjust="spacingAndGlyphs">MFGM 40 °C</text>
<circle cx="141.9" cy="253.3" r="3.0" fill="none" stroke="#1f1fff" stroke-width="2.2"/>
<text x="157.7" y="256.8" font-size="10" text-anchor="start" fill="#1e1e1e" textLength="61.5" lengthAdjust="spacingAndGlyphs">MFGM 60 °C</text>
<circle cx="141.9" cy="267.4" r="3.0" fill="none" stroke="#ff33ff" stroke-width="2.2"/>
<text x="157.7" y="270.9" font-size="10" text-anchor="start" fill="#1e1e1e" textLength="61.5" lengthAdjust="spacingAndGlyphs">MFGM 80 °C</text>
<line x1="37" y1="213.5" x2="227.4" y2="213.5" stroke="#5a5a5a" stroke-width="1"/>
<line x1="227.4" y1="213.5" x2="227.4" y2="389.4" stroke="#5a5a5a" stroke-width="1"/>
<line x1="37" y1="213.5" x2="37" y2="389.4" stroke="#222" stroke-width="1.1"/>
<line x1="36.5" y1="389.4" x2="227.4" y2="389.4" stroke="#222" stroke-width="1.1"/>
<line x1="33" y1="255" x2="37" y2="255" stroke="#222" stroke-width="0.9"/>
<line x1="33" y1="339.1" x2="37" y2="339.1" stroke="#222" stroke-width="0.9"/>
<line x1="34.5" y1="213.5" x2="37" y2="213.5" stroke="#222" stroke-width="0.9"/>
<line x1="34.5" y1="297.1" x2="37" y2="297.1" stroke="#222" stroke-width="0.9"/>
<line x1="34.5" y1="381.1" x2="37" y2="381.1" stroke="#222" stroke-width="0.9"/>
<line x1="134.1" y1="389.4" x2="134.1" y2="393.4" stroke="#222" stroke-width="0.9"/>
<line x1="193.5" y1="389.4" x2="193.5" y2="393.4" stroke="#222" stroke-width="0.9"/>
<line x1="227.1" y1="389.4" x2="227.1" y2="393.4" stroke="#222" stroke-width="0.9"/>
<line x1="40.2" y1="389.4" x2="40.2" y2="391.9" stroke="#222" stroke-width="0.9"/>
<line x1="65" y1="389.4" x2="65" y2="391.9" stroke="#222" stroke-width="0.9"/>
<line x1="84" y1="389.4" x2="84" y2="391.9" stroke="#222" stroke-width="0.9"/>
<line x1="99.8" y1="389.4" x2="99.8" y2="391.9" stroke="#222" stroke-width="0.9"/>
<line x1="112.5" y1="389.4" x2="112.5" y2="391.9" stroke="#222" stroke-width="0.9"/>
<line x1="124.2" y1="389.4" x2="124.2" y2="391.9" stroke="#222" stroke-width="0.9"/>
<line x1="143.9" y1="389.4" x2="143.9" y2="391.9" stroke="#222" stroke-width="0.9"/>
<line x1="151.9" y1="389.4" x2="151.9" y2="391.9" stroke="#222" stroke-width="0.9"/>
<line x1="159.2" y1="389.4" x2="159.2" y2="391.9" stroke="#222" stroke-width="0.9"/>
<line x1="165.8" y1="389.4" x2="165.8" y2="391.9" stroke="#222" stroke-width="0.9"/>
<line x1="172.3" y1="389.4" x2="172.3" y2="391.9" stroke="#222" stroke-width="0.9"/>
<line x1="178.2" y1="389.4" x2="178.2" y2="391.9" stroke="#222" stroke-width="0.9"/>
<line x1="184" y1="389.4" x2="184" y2="391.9" stroke="#222" stroke-width="0.9"/>
<line x1="188.5" y1="389.4" x2="188.5" y2="391.9" stroke="#222" stroke-width="0.9"/>
<line x1="198.6" y1="389.4" x2="198.6" y2="391.9" stroke="#222" stroke-width="0.9"/>
<line x1="203.7" y1="389.4" x2="203.7" y2="391.9" stroke="#222" stroke-width="0.9"/>
<line x1="208.1" y1="389.4" x2="208.1" y2="391.9" stroke="#222" stroke-width="0.9"/>
<line x1="212.5" y1="389.4" x2="212.5" y2="391.9" stroke="#222" stroke-width="0.9"/>
<line x1="216.1" y1="389.4" x2="216.1" y2="391.9" stroke="#222" stroke-width="0.9"/>
<line x1="219.8" y1="389.4" x2="219.8" y2="391.9" stroke="#222" stroke-width="0.9"/>
<line x1="223.4" y1="389.4" x2="223.4" y2="391.9" stroke="#222" stroke-width="0.9"/>
<text x="22.8" y="227.5" font-size="13.6" text-anchor="middle" fill="#1e1e1e">D</text>
<text x="22" y="259.5" font-size="13.6" text-anchor="middle" fill="#1e1e1e">10</text>
<text x="22" y="343.6" font-size="13.6" text-anchor="middle" fill="#1e1e1e">8</text>
<text x="134.9" y="407" font-size="13.6" text-anchor="middle" fill="#1e1e1e">1E-4</text>
<text x="192.7" y="407" font-size="13.6" text-anchor="middle" fill="#1e1e1e">2E-4</text>
<text x="226.5" y="407" font-size="13.6" text-anchor="middle" fill="#1e1e1e">3E-4</text>
<text x="25" y="301.6" font-size="13" text-anchor="middle" fill="#1e1e1e" transform="rotate(-90 25 301.6)">ln (I(<tspan font-style="italic">q</tspan>))</text>
<text x="131.4" y="420" font-size="13" text-anchor="middle" fill="#1e1e1e">Log(<tspan font-style="italic">q</tspan><tspan dy="-5" font-size="8.5">2</tspan><tspan dy="5">)</tspan></text>
<path d="M256.6 385.4V393.2M260.8 383.1V390.9M265 376.3V384.1M269.2 365.9V373.7M273.4 353.1V360.9M277.6 338.8V346.6M281.8 324V331.8M286 309.3V317.1M290.2 295.4V303.2M294.4 282.7V290.5M298.6 271.5V279.3M302.8 262.1V269.9M307 254.6V262.4M311.2 249.1V256.9M315.4 245.6V253.4M319.6 244.1V251.9M323.8 244.4V252.2M328 246.1V253.9M332.2 249.3V257.1M336.4 253.8V261.6M340.6 259.3V267.1M344.8 265.7V273.5M349 272.9V280.7M353.2 280.6V288.4M357.4 288.8V296.6M361.6 297.2V305M365.8 305.7V313.5M370 314.3V322.1M374.2 322.6V330.4M378.4 330.7V338.5M382.6 338.4V346.2M386.8 345.6V353.4M391 352.4V360.2M395.2 358.5V366.3M399.4 364V371.8M403.6 368.8V376.6M407.8 373V380.8M412 376.4V384.2M416.2 379.3V387.1M420.4 381.5V389.3M424.6 383.1V390.9M428.8 384.3V392.1M433 385V392.8M437.2 385.3V393.1M441.4 385.4V393.2" stroke="#000" stroke-width="0.6" fill="none" opacity="0.55"/>
<polyline points="256.6,389.3 258.7,388.7 260.8,387 262.9,384.1 265,380.2 267.1,375.3 269.2,369.8 271.3,363.6 273.4,357 275.5,350 277.6,342.7 279.7,335.3 281.8,327.9 283.9,320.5 286,313.2 288.1,306.2 290.2,299.3 292.3,292.8 294.4,286.6 296.5,280.8 298.6,275.4 300.7,270.5 302.8,266 304.9,262 307,258.5 309.1,255.5 311.2,253 313.3,251 315.4,249.5 317.5,248.5 319.6,248 321.7,247.9 323.8,248.3 325.9,249 328,250 330.1,251.5 332.2,253.2 334.3,255.3 336.4,257.7 338.5,260.3 340.6,263.2 342.7,266.3 344.8,269.6 346.9,273.1 349,276.8 351.1,280.6 353.2,284.5 355.3,288.6 357.4,292.7 359.5,296.9 361.6,301.1 363.7,305.4 365.8,309.6 367.9,313.9 370,318.2 372.1,322.4 374.2,326.5 376.3,330.6 378.4,334.6 380.5,338.5 382.6,342.3 384.7,346 386.8,349.5 388.9,353 391,356.3 393.1,359.4 395.2,362.4 397.3,365.2 399.4,367.9 401.5,370.4 403.6,372.7 405.7,374.9 407.8,376.9 409.9,378.7 412,380.3 414.1,381.8 416.2,383.2 418.3,384.4 420.4,385.4 422.5,386.3 424.6,387 426.7,387.7 428.8,388.2 430.9,388.6 433,388.9 435.1,389.1 437.2,389.2 439.3,389.3 441.4,389.3 443.5,389.3" fill="none" stroke="#000" stroke-width="3.0" stroke-linejoin="round" stroke-linecap="round"/>
<path d="M256.6 385.4V393.2M260.9 382.8V390.6M265.1 375.1V382.9M269.4 363.4V371.2M273.6 349V356.8M277.9 332.9V340.7M282.1 316.1V323.9M286.4 299.4V307.2M290.6 283.5V291.3M294.9 268.9V276.7M299.2 256.1V263.9M303.4 245.2V253M307.7 236.4V244.2M311.9 229.9V237.7M316.2 225.7V233.5M320.4 223.6V231.4M324.7 223.6V231.4M329 225.5V233.3M333.2 228.9V236.7M337.5 233.8V241.6M341.7 240V247.8M346 247.3V255.1M350.2 255.5V263.3M354.5 264.3V272.1M358.7 273.7V281.5M363 283.4V291.2M367.3 293.2V301M371.5 303V310.8M375.8 312.7V320.5M380 322V329.8M384.3 330.9V338.7M388.5 339.3V347.1M392.8 347.1V354.9M397.1 354.2V362M401.3 360.5V368.3M405.6 366.1V373.9M409.8 371V378.8M414.1 375V382.8M418.3 378.3V386.1M422.6 380.9V388.7M426.8 382.8V390.6M431.1 384.1V391.9M435.4 384.9V392.7M439.6 385.3V393.1M443.9 385.4V393.2" stroke="#ff1f1f" stroke-width="0.6" fill="none" opacity="0.55"/>
<polyline points="256.6,389.3 258.7,388.7 260.9,386.7 263,383.4 265.1,379 267.2,373.6 269.4,367.3 271.5,360.4 273.6,352.9 275.8,345 277.9,336.8 280,328.4 282.1,320 284.3,311.6 286.4,303.3 288.5,295.2 290.6,287.4 292.8,279.9 294.9,272.8 297,266.2 299.2,260 301.3,254.3 303.4,249.1 305.5,244.4 307.7,240.3 309.8,236.8 311.9,233.8 314.1,231.4 316.2,229.6 318.3,228.3 320.4,227.5 322.6,227.3 324.7,227.5 326.8,228.2 329,229.4 331.1,230.9 333.2,232.8 335.3,235.1 337.5,237.7 339.6,240.7 341.7,243.9 343.9,247.4 346,251.2 348.1,255.2 350.2,259.4 352.4,263.7 354.5,268.2 356.6,272.9 358.7,277.6 360.9,282.4 363,287.3 365.1,292.2 367.3,297.1 369.4,302 371.5,306.9 373.6,311.8 375.8,316.6 377.9,321.3 380,325.9 382.2,330.4 384.3,334.8 386.4,339.1 388.5,343.2 390.7,347.2 392.8,351 394.9,354.6 397.1,358.1 399.2,361.3 401.3,364.4 403.4,367.3 405.6,370 407.7,372.5 409.8,374.9 412,377 414.1,378.9 416.2,380.6 418.3,382.2 420.5,383.6 422.6,384.8 424.7,385.8 426.8,386.7 429,387.4 431.1,388 433.2,388.4 435.4,388.8 437.5,389 439.6,389.2 441.7,389.3 443.9,389.3 446,389.3" fill="none" stroke="#ff1f1f" stroke-width="3.0" stroke-linejoin="round" stroke-linecap="round"/>
<path d="M256.6 385.4V393.2M260.8 382.9V390.7M265 375.7V383.5M269.3 364.6V372.4M273.5 350.9V358.7M277.7 335.7V343.5M281.9 319.8V327.6M286.2 304V311.8M290.4 288.9V296.7M294.6 275.2V283M298.8 263V270.8M303 252.7V260.5M307.3 244.4V252.2M311.5 238.2V246M315.7 234.2V242M319.9 232.2V240M324.2 232.2V240M328.4 233.9V241.7M332.6 237.2V245M336.8 241.9V249.7M341 247.7V255.5M345.3 254.6V262.4M349.5 262.3V270.1M353.7 270.7V278.5M357.9 279.6V287.4M362.2 288.8V296.6M366.4 298.1V305.9M370.6 307.4V315.2M374.8 316.5V324.3M379.1 325.3V333.1M383.3 333.8V341.6M387.5 341.7V349.5M391.7 349.1V356.9M395.9 355.8V363.6M400.2 361.8V369.6M404.4 367.1V374.9M408.6 371.7V379.5M412.8 375.5V383.3M417.1 378.7V386.5M421.3 381.1V388.9M425.5 382.9V390.7M429.7 384.1V391.9M433.9 384.9V392.7M438.2 385.3V393.1M442.4 385.4V393.2" stroke="#1f1fff" stroke-width="0.6" fill="none" opacity="0.55"/>
<polyline points="256.6,389.3 258.7,388.7 260.8,386.8 262.9,383.7 265,379.6 267.2,374.4 269.3,368.5 271.4,361.9 273.5,354.8 275.6,347.3 277.7,339.6 279.8,331.7 281.9,323.7 284,315.7 286.2,307.9 288.3,300.2 290.4,292.8 292.5,285.8 294.6,279.1 296.7,272.7 298.8,266.9 300.9,261.5 303,256.6 305.2,252.2 307.3,248.3 309.4,244.9 311.5,242.1 313.6,239.8 315.7,238.1 317.8,236.9 319.9,236.1 322,235.9 324.2,236.1 326.3,236.8 328.4,237.8 330.5,239.3 332.6,241.1 334.7,243.3 336.8,245.8 338.9,248.5 341,251.6 343.2,254.9 345.3,258.5 347.4,262.3 349.5,266.2 351.6,270.4 353.7,274.6 355.8,279 357.9,283.5 360.1,288.1 362.2,292.7 364.3,297.3 366.4,302 368.5,306.6 370.6,311.3 372.7,315.9 374.8,320.4 376.9,324.9 379.1,329.2 381.2,333.5 383.3,337.7 385.4,341.7 387.5,345.6 389.6,349.4 391.7,353 393.8,356.4 395.9,359.7 398.1,362.8 400.2,365.7 402.3,368.5 404.4,371 406.5,373.4 408.6,375.6 410.7,377.6 412.8,379.4 414.9,381.1 417.1,382.6 419.2,383.9 421.3,385 423.4,386 425.5,386.8 427.6,387.5 429.7,388 431.8,388.5 433.9,388.8 436.1,389 438.2,389.2 440.3,389.3 442.4,389.3 444.5,389.3" fill="none" stroke="#1f1fff" stroke-width="3.0" stroke-linejoin="round" stroke-linecap="round"/>
<path d="M256.6 385.4V393.2M260.8 383V390.8M265 375.9V383.7M269.2 365.1V372.9M273.4 351.8V359.6M277.7 336.9V344.7M281.9 321.4V329.2M286.1 306.1V313.9M290.3 291.5V299.3M294.5 278.2V286M298.7 266.4V274.2M302.9 256.5V264.3M307.1 248.6V256.4M311.3 242.7V250.5M315.6 238.9V246.7M319.8 237.2V245M324 237.3V245.1M328.2 239.1V246.9M332.4 242.3V250.1M336.6 246.9V254.7M340.8 252.6V260.4M345 259.3V267.1M349.2 266.8V274.6M353.5 274.9V282.7M357.7 283.5V291.3M361.9 292.4V300.2M366.1 301.4V309.2M370.3 310.3V318.1M374.5 319.1V326.9M378.7 327.6V335.4M382.9 335.8V343.6M387.1 343.4V351.2M391.4 350.5V358.3M395.6 357V364.8M399.8 362.8V370.6M404 367.9V375.7M408.2 372.3V380.1M412.4 375.9V383.7M416.6 378.9V386.7M420.8 381.3V389.1M425 383V390.8M429.3 384.2V392M433.5 384.9V392.7M437.7 385.3V393.1M441.9 385.4V393.2" stroke="#ff33ff" stroke-width="0.6" fill="none" opacity="0.55"/>
<polyline points="256.6,389.3 258.7,388.7 260.8,386.9 262.9,383.9 265,379.8 267.1,374.8 269.2,369 271.3,362.6 273.4,355.7 275.6,348.4 277.7,340.8 279.8,333.1 281.9,325.3 284,317.6 286.1,310 288.2,302.6 290.3,295.4 292.4,288.6 294.5,282.1 296.6,276 298.7,270.3 300.8,265.1 302.9,260.4 305,256.2 307.1,252.5 309.2,249.3 311.3,246.6 313.5,244.5 315.6,242.8 317.7,241.7 319.8,241.1 321.9,240.9 324,241.2 326.1,241.9 328.2,243 330.3,244.4 332.4,246.2 334.5,248.3 336.6,250.8 338.7,253.5 340.8,256.5 342.9,259.7 345,263.2 347.1,266.9 349.2,270.7 351.4,274.7 353.5,278.8 355.6,283.1 357.7,287.4 359.8,291.8 361.9,296.3 364,300.8 366.1,305.3 368.2,309.8 370.3,314.2 372.4,318.6 374.5,323 376.6,327.3 378.7,331.5 380.8,335.7 382.9,339.7 385,343.6 387.1,347.3 389.3,350.9 391.4,354.4 393.5,357.7 395.6,360.9 397.7,363.8 399.8,366.7 401.9,369.3 404,371.8 406.1,374 408.2,376.2 410.3,378.1 412.4,379.8 414.5,381.4 416.6,382.8 418.7,384.1 420.8,385.2 422.9,386.1 425,386.9 427.2,387.6 429.3,388.1 431.4,388.5 433.5,388.8 435.6,389 437.7,389.2 439.8,389.3 441.9,389.3 444,389.3" fill="none" stroke="#ff33ff" stroke-width="3.0" stroke-linejoin="round" stroke-linecap="round"/>
<line x1="320" y1="222.5" x2="320" y2="260" stroke="#3a9a2a" stroke-width="1.3" stroke-dasharray="4,3.5"/>
<line x1="353.8" y1="225.2" x2="378.4" y2="225.2" stroke="#000" stroke-width="1.4"/>
<text x="381.2" y="228.8" font-size="10.5" text-anchor="start" fill="#1e1e1e" textLength="62" lengthAdjust="spacingAndGlyphs">MFGM 20 °C</text>
<line x1="353.8" y1="239.3" x2="378.4" y2="239.3" stroke="#ff1f1f" stroke-width="1.4"/>
<text x="381.2" y="242.9" font-size="10.5" text-anchor="start" fill="#1e1e1e" textLength="62" lengthAdjust="spacingAndGlyphs">MFGM 40 °C</text>
<line x1="353.8" y1="253.4" x2="378.4" y2="253.4" stroke="#1f1fff" stroke-width="1.4"/>
<text x="381.2" y="257" font-size="10.5" text-anchor="start" fill="#1e1e1e" textLength="62" lengthAdjust="spacingAndGlyphs">MFGM 60 °C</text>
<line x1="353.8" y1="267.5" x2="378.4" y2="267.5" stroke="#ff33ff" stroke-width="1.4"/>
<text x="381.2" y="271.1" font-size="10.5" text-anchor="start" fill="#1e1e1e" textLength="62" lengthAdjust="spacingAndGlyphs">MFGM 80 °C</text>
<line x1="256.5" y1="213.4" x2="447.6" y2="213.4" stroke="#5a5a5a" stroke-width="1"/>
<line x1="447.6" y1="213.4" x2="447.6" y2="389.3" stroke="#5a5a5a" stroke-width="1"/>
<line x1="256.5" y1="213.4" x2="256.5" y2="389.3" stroke="#222" stroke-width="1.1"/>
<line x1="256" y1="389.3" x2="447.6" y2="389.3" stroke="#222" stroke-width="1.1"/>
<line x1="252.5" y1="229.4" x2="256.5" y2="229.4" stroke="#222" stroke-width="0.9"/>
<line x1="252.5" y1="309.3" x2="256.5" y2="309.3" stroke="#222" stroke-width="0.9"/>
<line x1="252.5" y1="389.3" x2="256.5" y2="389.3" stroke="#222" stroke-width="0.9"/>
<line x1="256.5" y1="389.3" x2="256.5" y2="393.3" stroke="#222" stroke-width="0.9"/>
<line x1="304.2" y1="389.3" x2="304.2" y2="393.3" stroke="#222" stroke-width="0.9"/>
<line x1="352" y1="389.3" x2="352" y2="393.3" stroke="#222" stroke-width="0.9"/>
<line x1="399.8" y1="389.3" x2="399.8" y2="393.3" stroke="#222" stroke-width="0.9"/>
<line x1="447.5" y1="389.3" x2="447.5" y2="393.3" stroke="#222" stroke-width="0.9"/>
<line x1="280.4" y1="389.3" x2="280.4" y2="391.8" stroke="#222" stroke-width="0.9"/>
<line x1="328.1" y1="389.3" x2="328.1" y2="391.8" stroke="#222" stroke-width="0.9"/>
<line x1="375.9" y1="389.3" x2="375.9" y2="391.8" stroke="#222" stroke-width="0.9"/>
<line x1="423.6" y1="389.3" x2="423.6" y2="391.8" stroke="#222" stroke-width="0.9"/>
<text x="243.8" y="222" font-size="13.6" text-anchor="middle" fill="#1e1e1e">E</text>
<text x="243" y="233.9" font-size="13.6" text-anchor="middle" fill="#1e1e1e">10</text>
<text x="247" y="393.8" font-size="13.6" text-anchor="middle" fill="#1e1e1e">0</text>
<text x="256.5" y="407" font-size="13.6" text-anchor="middle" fill="#1e1e1e">0</text>
<text x="304.2" y="407" font-size="13.6" text-anchor="middle" fill="#1e1e1e">200</text>
<text x="352" y="407" font-size="13.6" text-anchor="middle" fill="#1e1e1e">400</text>
<text x="399.8" y="407" font-size="13.6" text-anchor="middle" fill="#1e1e1e">600</text>
<text x="447.5" y="407" font-size="13.6" text-anchor="middle" fill="#1e1e1e">800</text>
<text x="247.5" y="308.6" font-size="13" text-anchor="middle" fill="#1e1e1e" transform="rotate(-90 247.5 308.6)"><tspan font-style="italic">p</tspan>(r)</text>
<text x="348" y="420" font-size="13" text-anchor="middle" fill="#1e1e1e"><tspan font-style="italic">r</tspan>(Å)</text>
<clipPath id="clipF"><rect x="479.4" y="213.5" width="191.30000000000007" height="175.5"/></clipPath>
<g clip-path="url(#clipF)">
<polygon points="541.6,284.7 543.2,289 544.8,293.3 546.4,297.9 548,302.4 549.6,306.9 551.2,311.1 552.8,315.2 554.5,319.3 556.1,323.2 557.7,326.8 559.3,330 560.9,333.1 562.5,336.1 564.1,338.8 565.7,341.1 567.3,342.8 569,344.4 570.6,345.8 572.2,347 573.8,347.7 575.4,348 577,348.1 578.6,348.2 580.2,348.3 581.8,348.4 583.4,348.4 585.1,348.5 586.7,348.5 588.3,348.5 589.9,348.3 591.5,347.8 593.1,347.1 594.7,346.3 596.3,345.4 597.9,344.5 599.6,343.5 601.2,342.2 602.8,340.8 604.4,339.2 606,337.5 607.6,335.9 609.2,334.3 610.8,332.7 612.4,331.1 614.1,329.4 615.7,327.5 617.3,325.5 618.9,323.2 620.5,320.5 622.1,317.5 623.7,314.2 625.3,310.9 626.9,307.6 628.6,304.4 630.2,301.4 631.8,298.4 633.4,295.3 635,292.1 636.6,288.7 638.2,285 639.8,281 641.4,276.6 643.1,271.7 644.7,265.9 646.3,258.4 647.9,250.9 649.5,244.8 651.1,239.1 652.7,233.7 654.3,228.4 655.9,223.5 657.6,218.8 659.2,214.1 660.8,209 662.4,203.8 664,198.5 672,200 672,392 585.3,387.4 584.4,386.7 583.5,385.9 582.5,385.1 581.6,384.2 580.7,383.2 579.7,382.2 578.8,381.2 577.9,380.1 576.9,378.9 576,377.8 575.1,376.6 574.1,375.4 573.2,374.1 572.3,372.9 571.3,371.6 570.4,370.2 569.5,368.7 568.5,367.2 567.6,365.6 566.7,363.8 565.7,361.9 564.8,359.8 563.8,357.5 562.9,355.1 562,352.7 561,350.1 560.1,347.6 559.2,345 558.2,342.4 557.3,339.7 556.4,337 555.4,334.1 554.5,331.3 553.6,328.4 552.6,325.5 551.7,322.6 550.8,319.8 549.8,317 548.9,314 548,311.1 547,308.2 546.1,305.3 545.2,302.5 544.2,299.8 543.3,297.3 542.4,294.9 541.4,292.5" fill="#ff33ff"/>
<path d="M667.2 212.6V216.8M596.8 369.1V375.3M601.3 351.6V354.7M632.5 313.9V322.6M663.1 222.5V228.9M659.9 237.5V241.7M665.7 218.3V224.4M644.5 279.3V285.1M622.2 327.1V333.8M595.9 372.2V376.8M635.4 300.8V308.7M579.9 357.8V363.4M662.2 220.3V226M603.1 364.5V372M604.1 364.5V368.7M624.9 325.6V334.4M642.3 287.8V295M605.5 368V373.4M575.8 370.5V380.3M641.1 290.7V296.7M645.1 273.3V279.3M615.1 355.7V363" stroke="#ff99ff" stroke-width="0.6" fill="none"/>
<path d="M590.8 369.5V379.2M586.1 363.9V371.5M608.8 345.6V349.1M584 364V370.1M619.2 341.8V348.9M591.8 373.4V380.3M616.1 355.6V359.3M657.2 241.4V250.4M604.7 353.4V357.4M591.7 357.2V360.9M605.1 361.9V370.7M590.4 367.6V376.6M579.8 362.1V369.5M630.8 328.5V337.7M648.2 277.6V282.6M604.2 370.8V376.5M631.2 325.2V334.1M596.8 372.1V377.3M583.7 364.5V368.6M662.6 214V218.1M664.7 207.8V213.9M630.3 307.2V315.6M596.9 363.6V370" stroke="#ff77ff" stroke-width="0.6" fill="none"/>
<path d="M590 374.7V389M657.9 381.4V388.7M643 370.2V378.5M584.5 364.9V381.7M661.9 372.4V383.3M595.6 365.9V373.7M638.3 374.3V388.2M582.9 384V389M582 385.1V389M589.6 386.8V389M609.4 384.7V389M617.3 366V370.3M586.3 376.7V388.7M587.4 371.6V389M660 368.3V377.2M629.6 377.1V387.4M647.7 387.6V389M621 379V387.9M667.4 375.3V389M626.8 365.4V385M603.5 379.5V389M586.2 375.5V385M594.9 363.5V369.4M588.6 376.3V389M592.6 366.1V383.9M602 365.6V378.9M584.3 378.1V383M617.3 383.8V389M609.9 371.6V389M584 374.1V389M587.6 380.5V389M637.6 383.3V389M641.1 373.8V386M614 388.2V389M634.3 387.5V389M583.5 372.5V383.4M623.8 382.7V389M628.5 376.5V384.7M618.9 382.3V389M614.6 388.2V389M647.8 377.1V387.4M623.8 372.2V377.1M633 371.4V376.1M652.5 377.8V387.5M626.4 378.8V389M632.3 388.7V389M656.6 383.2V389M655.5 364.3V374.7M592.8 376.9V389M606.5 386.5V389M608.3 363.9V381M625.1 381.3V389M632.1 366.5V377.4M588.3 380.2V385.9M595.5 386.5V389M593.6 376.4V389M590.5 362.4V368.6M625.7 376.4V384.9M646.4 377.2V383.3M625.3 376V389M652.9 385.7V389M595.2 376.1V388.6M658 362.4V379.2M641.7 373.6V389M622.4 379.8V389M612.8 383.7V389M584.8 373.3V386.7M666 374.4V380.2M618.9 375.8V389M634.3 379.9V387.4" stroke="#1f1fff" stroke-width="0.8" fill="none"/>
<path d="M610.4 365.7V384M638 365.9V375.8M599.8 388.9V389M617.4 363.8V377.3M617.4 369.3V389M652.4 369V386.4M654.6 374V389M649 368.2V387.3M620.5 369.1V385.8M589.9 385.1V389M596.1 369.3V382.9M628.5 381.8V387.4M600.5 363.1V374.3M657.9 371.6V384M606 388.8V389M642.3 377.9V389M618.1 372.8V378.6M595.3 368.6V376M659.8 369.1V378.7M581.8 364.1V375.3M624.6 369V379.4M589.8 373.1V383.3M664.2 386.6V389M654.2 374V389M594.3 385.4V389M602.9 377.9V389M643.7 375.2V385.3M588.8 369V382.1" stroke="#5050ff" stroke-width="0.8" fill="none"/>
<path d="M666.5 372.4V376.8M656 371V382.1M655.4 380.8V389M648.1 377.8V382.6M591.5 362.7V376.9M584 383.5V389M626.5 380.2V389M588 379.7V385.1M638.3 362.8V381.3M602.2 366.7V382M604.6 377.9V387.1M646.4 380V389M590.5 375.5V381.8M647.3 378.8V383.8M628.9 365V380M623.3 386.3V389M616.9 388.1V389M661.8 388.5V389M601.2 380.7V389M667.6 386.3V389M600.4 375.3V381.1M610.3 379.4V389M647.5 381.5V389M582.3 385.6V389M617.6 381.7V389M609.7 388.6V389M597.7 372.7V389M631.3 367.9V376.7M598.7 367.7V374.3M629 383.9V389M656.6 363.7V373.1M589.7 366.5V381.5" stroke="#ff1f1f" stroke-width="0.8" fill="none"/>
</g>
<g clip-path="url(#clipF)">
<path d="M488 203.7V206.7M489.4 264V268.4M490.6 287.8V292.5M492.1 303.8V305.7M493 304.5V308.7M493.5 302.9V307M494.4 300.7V305.8M495.4 298.3V303M496.4 297.9V300M497.5 298.6V302.5M499.1 299V304.3M500.5 300.1V304.6M501.5 301.2V304.3M502.1 300.2V305.3M503.1 300.3V304.9M504.2 301.4V305.6M505 300.5V304.5M506.1 299.6V302.8M507.6 297.1V300.9M508.8 296.7V300.9M510.4 294.1V298.1M511.8 294.3V296.6M512.5 293.7V296.8M513.8 292.5V294.6M515.1 291.2V294.7M516.6 289.3V294.9M517.2 289.4V293.9M518.2 289.8V294.6M519 291.2V293.4M520.6 292.1V295.3M521.7 290.9V295M523.1 293.8V296.3M523.9 293.6V298.6M525.2 296V300.2M526.2 296.9V301.2M526.7 298V300.9M527.7 298.9V302.8M529.3 300.4V304.2M530.6 302.4V307.3M531.3 305.4V307.2M532.6 306.6V310.3M534.2 307.9V312.2M534.8 309.9V313.1M535.6 310.6V313.9M536.8 313.1V317.2M538.3 314.4V318.6M539.7 317.1V321.4M540.9 318.1V321.6M541.9 319.8V324.4M543.2 321.7V327.4M544.7 324.9V329.6M545.6 327.6V330.3M547 330.6V334.7M547.7 332.1V336.6M549.3 336.5V340.3M550.2 337.3V341.9M550.9 340V344.7M552.4 342.8V347.1M553.5 344.9V349.6M554.8 348.3V353.3M556 352.2V355.1M556.5 353.6V357.1M557.2 353.3V358M557.7 356.3V359.9M558.2 356.2V359.5M559.6 360.1V363.9M561.2 361V368.2M562.3 362.2V370.4M563.8 366.2V371.8M565 368.5V374.9M566.4 371.6V374.5M567 372.4V378.1M567.8 372.9V379.4M569.2 374.3V378.8M569.9 374.8V382M571.4 375.8V382.6M572 378.2V384.3M572.9 378.2V383.9M573.6 380.6V385.9M575 381.5V385.7M575.9 381.4V386.5M576.8 382.4V387.3M578.2 384.2V388.8M579.8 383.5V389.1M580.4 383.8V389.8M581.4 386.4V391.6M582.6 384.9V390.6M584 387.1V393.2M584.7 387.8V394.1M585.8 389V391.8M587.2 387.4V393.1M587.8 387.7V394.7M589.2 389.8V396.1" stroke="#000" stroke-width="0.7" fill="none"/>
<path d="M488.2 264H490.6M490.9 303.8H493.3M493.2 300.7H495.6M494.2 298.3H496.6M496.3 298.6H498.7M497.9 299H500.3M499.3 300.1H501.7M500.9 300.2H503.3M506.4 297.1H508.8M507.6 296.7H510M509.2 294.1H511.6M510.6 294.3H513M512.6 292.5H515M513.9 291.2H516.3M515.4 289.3H517.8M516 289.4H518.4M517 289.8H519.4M524 296H526.4M525 296.9H527.4M529.4 302.4H531.8M530.1 305.4H532.5M531.4 306.6H533.8M533 307.9H535.4M540.7 319.8H543.1M542 321.7H544.4M549 337.3H551.4M552.3 344.9H554.7M553.6 348.3H556M554.8 352.2H557.2M556.5 356.3H558.9M557 356.2H559.4M560 361H562.4M561.1 362.2H563.5M565.8 372.4H568.2M570.8 378.2H573.2M572.4 380.6H574.8M574.7 381.4H577.1M575.6 382.4H578M579.2 383.8H581.6M581.4 384.9H583.8M586.6 387.7H589" stroke="#000" stroke-width="0.6" fill="none"/>
<polyline points="488,205 488.9,254.6 489.9,279.7 490.8,293.7 491.7,303.4 492.7,307 493.6,305.4 494.6,302.9 495.5,299.8 496.4,299.1 497.4,299.7 498.3,300.6 499.2,301.5 500.2,302.1 501.1,302.5 502,302.9 503,303 503.9,302.8 504.8,302.2 505.8,301.4 506.7,300.4 507.7,299.4 508.6,298.3 509.5,297.4 510.5,296.6 511.4,295.8 512.3,294.9 513.3,294 514.2,293.2 515.1,292.6 516.1,292.2 517,292 517.9,292.1 518.9,292.4 519.8,292.8 520.8,293.3 521.7,293.8 522.6,294.5 523.6,295.4 524.5,296.5 525.4,297.8 526.4,299.1 527.3,300.4 528.2,301.7 529.2,303.1 530.1,304.5 531,305.9 532,307.3 532.9,308.8 533.9,310.3 534.8,311.7 535.7,313.1 536.7,314.4 537.6,315.7 538.5,317 539.5,318.4 540.4,319.8 541.3,321.2 542.3,322.7 543.2,324.4 544.1,326.2 545.1,328.2 546,330.3 547,332.4 547.9,334.7 548.8,336.9 549.8,339.1 550.7,341.3 551.6,343.4 552.6,345.6 553.5,347.8 554.4,350 555.4,352.2 556.3,354.3 557.2,356.4 558.2,358.3 559.1,360.2 560.1,362.1 561,363.8 561.9,365.6 562.9,367.3 563.8,368.9 564.7,370.5 565.7,372 566.6,373.4 567.5,374.8 568.5,376.1 569.4,377.5 570.3,378.8 571.3,380 572.2,381.1 573.2,382.2 574.1,383.2 575,384 576,384.8 576.9,385.5 577.8,386.1 578.8,386.7 579.7,387.2 580.6,387.8 581.6,388.3 582.5,388.8 583.4,389.2 584.4,389.7 585.3,390.1 586.3,390.5 587.2,390.9 588.1,391.3 589.1,391.7 590,392" fill="none" stroke="#000" stroke-width="4.2" stroke-linejoin="round" stroke-linecap="round"/>
</g>
<g clip-path="url(#clipF)">
<path d="M488 203.4V207.6M489.1 251.5V256.7M490 269.7V272.4M491.4 288.7V291.9M492.2 293.9V297M492.9 292.9V297.9M494.3 289.7V293.7M495 286.8V291.6M496.5 285.1V288.8M498 284.6V289.7M498.9 285.7V288.7M500.2 286.9V290.6M500.9 287V290.1M501.7 286V290.9M502.5 287.4V291.5M503.2 287.3V291.3M504.6 286.7V289.9M505.1 286.2V291.3M506.2 286.2V289.5M507.4 284.5V288M508.1 284.6V288.1M509.2 284.5V286.4M509.9 282.5V287.5M511.1 283V286.9M511.8 282.8V285.5M513 280.6V284.6M514.5 278.8V283.4M515.6 280V283.3M516.9 279.3V283.3M517.7 278.2V284M518.3 278.9V283.5M519.6 280.1V283M520.8 279.7V284.6M521.6 281.7V284M522.4 282.2V284.9M523.4 283.1V285.7M524.1 282.2V285.6M525.3 283.3V287.6M526.1 284.5V287.2M527 284.8V290M527.6 284.7V289.3M528.3 287.2V290.1M529.7 287.7V291.3M531.1 290.5V293.4M532.7 293.1V296.5M534 294.4V297.7M535.1 297.2V299.5M535.9 298.3V301.8M536.9 299.8V303.5M538.2 301.1V306.2M539 302.8V307.2M540.2 306.4V309.4M541.2 308.9V312.3M541.8 309.9V313.9M543.3 313.6V316.2M544.5 315.3V320.1M546 319.4V322.9M547 322.5V325.7M548.5 326.6V330.1M550 329.5V333.9M551.5 334.2V337.4M552.2 334.8V338.9M553 338V340.7M554.4 340V344.4M555.5 344.3V347.5M556.8 347.8V351.9M557.3 348.6V352.8M558.2 349.8V353.3M559.3 353.3V357.3M560 352.5V359.5M561 354.3V360.2M562 358.5V364M562.7 358.6V366.3M564.3 360.5V368.7M565.2 365.1V369.7M566.3 366.1V371.9M567.4 366.5V373.9M568.9 369.8V376M570 372.9V378.9M570.6 372.2V380.9M571.6 374.7V381M572.3 377.3V382.1M573 377.1V382.6M573.6 379.2V383.9M575 380.1V384.6M576.3 382.1V386.7M576.8 381.2V387.4M577.4 382.7V389.3M578.9 385.7V390M580.1 385.3V392.3M581 384.4V391.8M582.2 385.2V393" stroke="#ff1f1f" stroke-width="0.7" fill="none"/>
<path d="M486.8 203.4H489.2M490.2 288.7H492.6M493.1 289.7H495.5M493.8 286.8H496.2M496.8 284.6H499.2M497.7 285.7H500.1M499 286.9H501.4M499.7 287H502.1M500.5 286H502.9M501.3 287.4H503.7M503.9 286.2H506.3M505 286.2H507.4M506.2 284.5H508.6M508 284.5H510.4M509.9 283H512.3M511.8 280.6H514.2M514.4 280H516.8M516.5 278.2H518.9M517.1 278.9H519.5M518.4 280.1H520.8M519.6 279.7H522M520.4 281.7H522.8M521.2 282.2H523.6M522.2 283.1H524.6M524.9 284.5H527.3M526.4 284.7H528.8M529.9 290.5H532.3M531.5 293.1H533.9M533.9 297.2H536.3M535.7 299.8H538.1M540 308.9H542.4M540.6 309.9H543M542.1 313.6H544.5M545.8 322.5H548.2M548.8 329.5H551.2M550.3 334.2H552.7M556.1 348.6H558.5M558.1 353.3H560.5M558.8 352.5H561.2M559.8 354.3H562.2M560.8 358.5H563.2M564 365.1H566.4M566.2 366.5H568.6M567.7 369.8H570.1M570.4 374.7H572.8M571.1 377.3H573.5M572.4 379.2H574.8M573.8 380.1H576.2M575.1 382.1H577.5M575.6 381.2H578M577.7 385.7H580.1M579.8 384.4H582.2M581 385.2H583.4" stroke="#ff1f1f" stroke-width="0.6" fill="none"/>
<polyline points="488,205 488.9,247.2 489.7,268.1 490.6,281.6 491.5,291.2 492.4,295.8 493.2,295.2 494.1,292.3 495,289 495.8,287.1 496.7,287.1 497.6,287.3 498.5,287.6 499.3,287.9 500.2,288.3 501.1,288.6 501.9,288.9 502.8,289 503.7,288.9 504.6,288.6 505.4,288.2 506.3,287.6 507.2,287 508,286.3 508.9,285.7 509.8,285.1 510.7,284.6 511.5,284 512.4,283.3 513.3,282.7 514.1,282.1 515,281.6 515.9,281.2 516.8,281 517.6,281 518.5,281.2 519.4,281.5 520.2,281.9 521.1,282.4 522,282.9 522.9,283.6 523.7,284.2 524.6,285 525.5,285.7 526.3,286.4 527.2,287.2 528.1,288 529,289 529.8,290.1 530.7,291.3 531.6,292.6 532.4,293.9 533.3,295.3 534.2,296.7 535.1,298.1 535.9,299.6 536.8,301.1 537.7,302.8 538.6,304.5 539.4,306.3 540.3,308.1 541.2,310 542,311.9 542.9,313.8 543.8,315.8 544.7,317.8 545.5,320 546.4,322.2 547.3,324.4 548.1,326.7 549,328.9 549.9,331.2 550.8,333.4 551.6,335.6 552.5,337.8 553.4,340.1 554.2,342.3 555.1,344.6 556,346.8 556.9,349 557.7,351.1 558.6,353.1 559.5,355 560.3,356.9 561.2,358.8 562.1,360.6 563,362.3 563.8,364.1 564.7,365.7 565.6,367.4 566.4,369 567.3,370.6 568.2,372.1 569.1,373.7 569.9,375.3 570.8,376.8 571.7,378.3 572.5,379.7 573.4,381 574.3,382.1 575.2,383.2 576,384.1 576.9,385.1 577.8,386 578.6,386.8 579.5,387.6 580.4,388.3 581.3,389 582.1,389.5 583,390" fill="none" stroke="#ff1f1f" stroke-width="4.2" stroke-linejoin="round" stroke-linecap="round"/>
</g>
<g clip-path="url(#clipF)">
<path d="M488.2 204V207.7M489.6 254V256.4M490.7 269.7V274M492.2 282V286.4M493.2 281.6V287.4M493.9 278.5V283.1M495.4 270.8V276.1M496.8 270.6V274.8M497.4 269.6V275.1M498.6 271.2V274.3M499.7 270.8V273.7M501.1 270.4V274M502.6 271.3V275.9M503.6 270.2V274M504.1 271.4V274.4M505.2 270.8V274.5M506.1 269.9V273.6M506.8 268.7V271.9M507.4 268.7V271M508.9 267V270.5M510.4 263.7V269.1M511.9 264.4V268.3M512.7 261.8V266.5M513.6 262V265.2M514.5 261.5V263.9M515.9 259.9V265.1M517.4 259.3V263.7M519 259.7V264.4M519.7 261.4V263.8M521.2 262.1V264.6M522.7 263.2V265.4M523.5 264.1V266.2M524.1 263.6V267.9M524.9 265V268M525.9 265.5V268.9M526.4 266.1V270.2M527.8 267.7V271.7M529.1 268.9V272.8M530.4 269.3V273.6M531.6 272.8V275.4M533.1 275V278.3M534.5 277V280.4M535.6 278.5V283.5M536.5 280V284.1M537.9 283.5V288.7M539.5 287.6V290.5M540.3 289.6V292.9M541.4 291.7V294.9M542.2 293.6V297.7M543.1 296.9V299.8M544.4 300.4V304.1M545 301.5V304.6M545.8 303.8V308.9M546.9 307.3V310.8M547.5 309.2V314.1M548.8 312.5V317.4M550.4 318.2V322M551.7 321.5V326.1M553 326.8V329.7M554.1 329.1V333.5M554.8 332.4V335.7M556 334.7V338.5M557.1 339.3V342.3M557.7 339.7V344.2M558.3 343V346.3M559.5 345.8V348.9M560.9 349V353.9M561.6 348.7V356.4M562.5 353.6V359M564 355.2V363.9M564.9 357.4V364.3M566.2 362.3V367.1M566.7 361V369M567.4 364.5V371M568.6 364.6V371.5M569.9 368.9V375.2M570.7 369.3V376.5M571.3 369.4V376.5M572.6 372.3V377.5M574 372.3V380.3M574.9 376.1V379.5M575.6 375.6V380.8M577.1 377.8V384.9M577.7 377.8V384.1M578.9 380V385.3M580.5 382.5V387.3M581.9 381.5V389.3M583.3 385.7V391.6M584.6 384.1V391.3M586 386.5V393.6M586.7 386.3V393.9M587.2 387.6V392.4M587.9 387.5V393.3M588.6 388V393.4M589.3 387.9V393.8" stroke="#1f1fff" stroke-width="0.7" fill="none"/>
<path d="M487 204H489.4M488.4 254H490.8M489.5 269.7H491.9M491 282H493.4M492 281.6H494.4M495.6 270.6H498M497.4 271.2H499.8M501.4 271.3H503.8M502.4 270.2H504.8M506.2 268.7H508.6M509.2 263.7H511.6M510.7 264.4H513.1M511.5 261.8H513.9M513.3 261.5H515.7M514.7 259.9H517.1M521.5 263.2H523.9M523.7 265H526.1M525.2 266.1H527.6M526.6 267.7H529M530.4 272.8H532.8M531.9 275H534.3M534.4 278.5H536.8M535.3 280H537.7M539.1 289.6H541.5M541 293.6H543.4M545.7 307.3H548.1M547.6 312.5H550M549.2 318.2H551.6M550.5 321.5H552.9M551.8 326.8H554.2M552.9 329.1H555.3M554.8 334.7H557.2M557.1 343H559.5M559.7 349H562.1M561.3 353.6H563.7M562.8 355.2H565.2M565 362.3H567.4M568.7 368.9H571.1M569.5 369.3H571.9M570.1 369.4H572.5M572.8 372.3H575.2M575.9 377.8H578.3M577.7 380H580.1M580.7 381.5H583.1M582.1 385.7H584.5M584.8 386.5H587.2M585.5 386.3H587.9M586 387.6H588.4M587.4 388H589.8" stroke="#1f1fff" stroke-width="0.6" fill="none"/>
<polyline points="488.2,205 489.1,246 490.1,263.6 491,276.5 491.9,284.2 492.9,285.7 493.8,282 494.7,276.4 495.7,272.4 496.6,272 497.5,272.1 498.5,272.3 499.4,272.5 500.3,272.7 501.3,272.8 502.2,273 503.1,273 504.1,272.7 505,272.1 505.9,271.3 506.9,270.3 507.8,269.2 508.7,268.2 509.7,267.3 510.6,266.5 511.5,265.6 512.5,264.8 513.4,263.9 514.4,263.1 515.3,262.5 516.2,262.1 517.2,262 518.1,262.1 519,262.4 520,262.7 520.9,263.2 521.8,263.8 522.8,264.5 523.7,265.2 524.6,265.9 525.6,266.7 526.5,267.6 527.4,268.4 528.4,269.4 529.3,270.6 530.2,271.9 531.2,273.3 532.1,274.9 533,276.5 534,278.1 534.9,279.8 535.8,281.5 536.8,283.4 537.7,285.3 538.6,287.4 539.6,289.5 540.5,291.8 541.4,294 542.4,296.4 543.3,298.8 544.2,301.3 545.2,304 546.1,306.8 547,309.7 548,312.6 548.9,315.5 549.8,318.5 550.8,321.3 551.7,324.1 552.6,327 553.6,329.9 554.5,332.8 555.4,335.6 556.4,338.5 557.3,341.2 558.2,343.9 559.2,346.5 560.1,349.1 561,351.6 562,354.2 562.9,356.6 563.8,359 564.8,361.3 565.7,363.4 566.7,365.3 567.6,367.1 568.5,368.7 569.5,370.2 570.4,371.7 571.3,373.1 572.3,374.4 573.2,375.6 574.1,376.9 575.1,378.1 576,379.3 576.9,380.4 577.9,381.6 578.8,382.7 579.7,383.7 580.7,384.7 581.6,385.7 582.5,386.6 583.5,387.4 584.4,388.2 585.3,388.9 586.3,389.6 587.2,390.3 588.1,390.9 589.1,391.5 590,392" fill="none" stroke="#1f1fff" stroke-width="4.2" stroke-linejoin="round" stroke-linecap="round"/>
</g>
<g clip-path="url(#clipF)">
<path d="M488.4 202.9V207.3M489 220.5V225M489.6 240.5V243.8M491.2 265.2V268.5M492.3 272.4V276.7M493.8 270.2V274.8M495.3 263V266.9M496.2 255.3V259.1M497.8 254.4V257.6M498.7 252.8V258.1M499.9 253.2V257.7M501 255.6V258.2M501.8 254.6V259.4M502.9 255.7V257.9M503.6 254.4V257.8M504.7 253.4V257M505.4 252.3V257.7M506.9 251.9V254.7M507.8 249.4V254.4M508.6 247.8V252.1M509.9 247.2V250.8M511.1 244.5V248.9M512.4 243.1V247M513.7 241.1V244.7M514.9 242V245.9M515.6 241.2V244.3M516.7 241.7V245.6M517.8 241.6V246.2M518.6 243.2V246.6M520.1 243.9V247.9M520.8 244.2V248.1M521.7 245.3V247.9M522.9 245.2V249.9M524.3 247.6V252.3M525.7 250.3V254.3M526.2 251.8V253.8M527.7 253.1V256.2M528.7 254.5V259.1M530.1 256.6V261.3M531 258.8V263.4M531.5 260.2V263.7M532.7 263.6V266M533.4 263.5V268.4M534.8 267.3V271.8M535.8 270.8V273M536.9 273.6V275.7M537.7 274.2V279.3M538.8 276.2V280.2M540 280.7V284.6M541.1 283.2V286.2M541.8 285.3V289.2M542.5 287V290.3M543.6 288.6V292.7M545.1 292.9V297.3M546.5 297.8V301.8M548 302.3V306.9M548.9 304.4V307.9M550.4 308.5V313.4M551.8 311.8V315.2M553.1 315V319.4M554.5 318V322M555.5 320.9V325.2M557 324.6V328.9M557.9 327.4V331.5M559.3 329.6V334M560.8 330.4V336.8M562.2 333.7V339.1M563.6 336.9V341.7M564.8 338.8V345.5M566.1 339V346.2M567.5 340.9V348.6M569 342.4V349.6M570 342.8V350.9M571.1 346.2V349.8M571.8 345.6V351.4M572.4 344.2V351.6M573.8 346.8V352.8M574.7 345.1V353.5M576.1 347V353.9M577.5 346.7V351.9M579 347.1V352.5M580.4 347.8V352.8M581.1 347.9V351.6M582.1 347.7V353.5M582.8 345.5V353.1M584.2 348.6V352.3M585.2 347.2V354.2M586.7 345.6V351.5M588.1 347.7V352.8M589 345.8V351.3M589.6 347.7V354.3M590.7 347.5V353.2M592 346.1V353.5M593.1 344.4V351.6M594.6 343.9V351.7M595.5 345.2V351.8M596.1 343.7V351.2M597.3 342.3V348.9M598.6 343.7V349.2M599.2 342.8V348.9M600.4 340.7V346.8M601.4 340.8V345.9M602.6 340.6V344.2M603.8 337.7V343.9M605 337.8V343.9M605.6 337.6V342.8M607.1 333.8V340M608.3 333.6V341.2M609.3 333.1V337.9M610.7 331.5V335.9M612 330.2V334.5M613.1 329.5V333.9M613.7 327.1V333.6M614.8 327.2V334.3M615.8 327V330.3M616.7 324V330.6M617.3 325.5V330.1M618.1 323.5V328.5M619.6 319.5V327.2M620.5 318V324M621.1 316.9V323M622.7 316.1V322M623.5 314.4V317.7M624.5 311.8V315.5M625.9 307.9V313M626.9 307.2V311.3M628.3 303V308.4M629.5 300.4V307.7M630.5 299.6V303.9M631.4 299.1V302.3M632.6 295.3V300.6M633.2 294.9V301.3M634.2 293.5V298.4M635.6 290.5V295.4M637.1 287.3V290.8M638.1 284.2V290.5M638.7 282.1V288.6M639.3 280.4V285.5M640.5 277.9V283.2M641.9 272.6V279.4M642.9 270.9V276.9M643.9 267.2V274.2M645.1 263.5V269.8M646.5 257.1V262.4M647.3 253.6V257.7M647.8 249.6V255.3M648.8 247.6V251.1M649.8 242.6V247.5M650.5 239.7V244.6M651.1 238.4V244.7M651.7 234.4V241.6M653 231.3V236.9M654 228.9V233.6M655.2 223.1V231.1M655.8 222.5V229.4M657.2 218.7V223.1M658.3 214.3V220.6M659.8 209.9V217.3M660.4 209.3V214.5M661.6 205.1V210.3M662.2 203.1V208.4M662.7 202.7V206.2M663.5 199V205.5" stroke="#ff33ff" stroke-width="0.7" fill="none"/>
<path d="M488.4 240.5H490.8M490 265.2H492.4M491.1 272.4H493.5M494.1 263H496.5M495 255.3H497.4M497.5 252.8H499.9M498.7 253.2H501.1M499.8 255.6H502.2M500.6 254.6H503M501.7 255.7H504.1M502.4 254.4H504.8M506.6 249.4H509M507.4 247.8H509.8M508.7 247.2H511.1M509.9 244.5H512.3M511.2 243.1H513.6M512.5 241.1H514.9M513.7 242H516.1M516.6 241.6H519M517.4 243.2H519.8M518.9 243.9H521.3M521.7 245.2H524.1M523.1 247.6H525.5M524.5 250.3H526.9M525 251.8H527.4M527.5 254.5H529.9M528.9 256.6H531.3M529.8 258.8H532.2M532.2 263.5H534.6M535.7 273.6H538.1M538.8 280.7H541.2M540.6 285.3H543M543.9 292.9H546.3M545.3 297.8H547.7M546.8 302.3H549.2M547.7 304.4H550.1M551.9 315H554.3M553.3 318H555.7M556.7 327.4H559.1M564.9 339H567.3M566.3 340.9H568.7M569.9 346.2H572.3M573.5 345.1H575.9M574.9 347H577.3M576.3 346.7H578.7M579.2 347.8H581.6M579.9 347.9H582.3M580.9 347.7H583.3M581.6 345.5H584M583 348.6H585.4M584 347.2H586.4M585.5 345.6H587.9M587.8 345.8H590.2M588.4 347.7H590.8M589.5 347.5H591.9M590.8 346.1H593.2M591.9 344.4H594.3M593.4 343.9H595.8M594.3 345.2H596.7M597.4 343.7H599.8M599.2 340.7H601.6M601.4 340.6H603.8M603.8 337.8H606.2M604.4 337.6H606.8M607.1 333.6H609.5M609.5 331.5H611.9M610.8 330.2H613.2M611.9 329.5H614.3M612.5 327.1H614.9M613.6 327.2H616M615.5 324H617.9M616.1 325.5H618.5M618.4 319.5H620.8M619.9 316.9H622.3M621.5 316.1H623.9M622.3 314.4H624.7M624.7 307.9H627.1M625.7 307.2H628.1M628.3 300.4H630.7M630.2 299.1H632.6M632 294.9H634.4M636.9 284.2H639.3M639.3 277.9H641.7M642.7 267.2H645.1M643.9 263.5H646.3M645.3 257.1H647.7M648.6 242.6H651M649.3 239.7H651.7M649.9 238.4H652.3M651.8 231.3H654.2M659.2 209.3H661.6M660.4 205.1H662.8M661 203.1H663.4M661.5 202.7H663.9M662.3 199H664.7" stroke="#ff33ff" stroke-width="0.6" fill="none"/>
<polyline points="488.4,205 490,252.9 491.6,271.4 493.2,276.8 494.8,267.3 496.5,256.1 498.1,255.2 499.7,255.8 501.3,256.6 502.9,257 504.5,256.2 506.1,254.2 507.7,251.7 509.3,249.6 511,247.2 512.6,244.8 514.2,243.2 515.8,243.1 517.4,243.6 519,244.6 520.6,245.7 522.2,247.1 523.8,249.1 525.5,251.5 527.1,254.1 528.7,256.9 530.3,259.9 531.9,263.2 533.5,266.7 535.1,270.3 536.7,274 538.3,277.9 540,282 541.6,286.2 543.2,290.5 544.8,294.8 546.4,299.4 548,303.9 549.6,308.4 551.2,312.6 552.8,316.7 554.5,320.8 556.1,324.7 557.7,328.3 559.3,331.5 560.9,334.6 562.5,337.6 564.1,340.3 565.7,342.6 567.3,344.3 569,345.9 570.6,347.3 572.2,348.5 573.8,349.2 575.4,349.5 577,349.6 578.6,349.7 580.2,349.8 581.8,349.9 583.4,349.9 585.1,350 586.7,350 588.3,350 589.9,349.8 591.5,349.3 593.1,348.6 594.7,347.8 596.3,346.9 597.9,346 599.6,345 601.2,343.7 602.8,342.3 604.4,340.7 606,339 607.6,337.4 609.2,335.8 610.8,334.2 612.4,332.6 614.1,330.9 615.7,329 617.3,327 618.9,324.7 620.5,322 622.1,319 623.7,315.7 625.3,312.4 626.9,309.1 628.6,305.9 630.2,302.9 631.8,299.9 633.4,296.8 635,293.6 636.6,290.2 638.2,286.5 639.8,282.5 641.4,278.1 643.1,273.2 644.7,267.4 646.3,259.9 647.9,252.4 649.5,246.3 651.1,240.6 652.7,235.2 654.3,229.9 655.9,225 657.6,220.3 659.2,215.6 660.8,210.5 662.4,205.3 664,200" fill="none" stroke="#ff33ff" stroke-width="4.6" stroke-linejoin="round" stroke-linecap="round"/>
</g>
<g clip-path="url(#clipF)">
<path d="M643.4 249V285.7M604.7 336.1V350.1M629 285.2V314.3M647.9 246.2V260M605.5 333.5V342.4M656.3 209.4V235.5M644.6 246.4V273.2M644.2 254.7V282.3M638.3 264.7V299.8M616.3 318.8V330.2M648.6 231.5V253.6M634.3 273.3V308M659.4 201.1V219.9M592.2 344.4V354.1M634.6 289V307.5M636.1 270.8V296.7M627.6 288.1V311.1M597.3 341.3V350.8M604.1 336.8V344.8M621.9 309.8V326.7M626.1 294.6V319.7M658 192.4V231.7M627.5 299.2V315.5M625.4 299.3V325.5M637.6 265.8V291.7M635.5 282.6V294.7M592.3 342V353.2M614.3 325.8V333M608.8 322.7V344M641.1 256.6V287.1M631.9 291.1V305.8M642.9 253.2V277.4M605.2 330.3V347.2M633.8 275.9V301M598.5 341.3V351.4M617.1 321V339.1M616.5 320V333.4M652.1 218.4V249M600.5 338.8V351.2M623.5 309.3V320.4M597.4 342.2V350.2M608.6 328.5V345.6M659.9 194.3V221M618.3 319.6V335.5M622.9 302.5V324.1M606.4 330.5V342.4M610.3 318V339.1M632.7 277.2V305M613.9 325.3V334.6M655.1 211.5V233.4M594.9 336.8V351.3M625.9 294.3V322.8M650.4 231.9V247M600.1 337.4V350.7M605.4 334.4V346.7M620.6 315.3V333.7M598 338.2V352.6M618.8 311.2V333M632.9 279.9V300.7M657.7 202.5V231.1M605.6 329.7V350.7M613.6 319.4V343.8M627.9 293.7V317.5M654.7 217.3V242.6M642.4 262.4V279.4M609.7 326V345.9M619.5 318.4V326.7M655.9 217.3V238.1M654.1 211.7V240.5M650 221.6V254.9M643.3 249.4V277.3M619.9 307.3V333.2M619.3 304.7V326.6M604.8 334.7V346.3M655.8 198.3V236.7M620.6 303.2V327.8M628.5 289.3V312.2M640.1 259.4V288M644.7 260.3V280.3M623.8 305.2V329M598.3 336.5V359.3M617.7 318.2V333.9M637.2 278.7V302.1M654.3 207.7V238.5M620.8 313.3V327.6M623.7 306V324.1M592.8 337.2V359.9M645.5 255.8V268.8M607.2 326.6V351.3M616.3 311.8V330.6M637.6 275.5V294.1M637 268.9V302.5M619.8 311.1V330.7M595.6 338V358.2M654.5 218.7V238" stroke="#000" stroke-width="0.9" fill="none"/>
<path d="M642.1 249H644.7M603.4 336.1H606M627.7 285.2H630.3M646.6 246.2H649.2M604.2 333.5H606.8M655 209.4H657.6M643.3 246.4H645.9M642.9 254.7H645.5M637 264.7H639.6M615 318.8H617.6M647.3 231.5H649.9M633 273.3H635.6M658.1 201.1H660.7M590.9 344.4H593.5M633.3 289H635.9M634.8 270.8H637.4M626.3 288.1H628.9M596 341.3H598.6M602.8 336.8H605.4M620.6 309.8H623.2M624.8 294.6H627.4M656.7 192.4H659.3M626.2 299.2H628.8M624.1 299.3H626.7M636.3 265.8H638.9M634.2 282.6H636.8M591 342H593.6M613 325.8H615.6M607.5 322.7H610.1M639.8 256.6H642.4M630.6 291.1H633.2M641.6 253.2H644.2M603.9 330.3H606.5M632.5 275.9H635.1M597.2 341.3H599.8M615.8 321H618.4M615.2 320H617.8M650.8 218.4H653.4M599.2 338.8H601.8M622.2 309.3H624.8M596.1 342.2H598.7M607.3 328.5H609.9M658.6 194.3H661.2M617 319.6H619.6M621.6 302.5H624.2M605.1 330.5H607.7M609 318H611.6M631.4 277.2H634M612.6 325.3H615.2M653.8 211.5H656.4M593.6 336.8H596.2M624.6 294.3H627.2M649.1 231.9H651.7M598.8 337.4H601.4M604.1 334.4H606.7M619.3 315.3H621.9M596.7 338.2H599.3M617.5 311.2H620.1M631.6 279.9H634.2M656.4 202.5H659M604.3 329.7H606.9M612.3 319.4H614.9M626.6 293.7H629.2M653.4 217.3H656M641.1 262.4H643.7M608.4 326H611M618.2 318.4H620.8M654.6 217.3H657.2M652.8 211.7H655.4M648.7 221.6H651.3M642 249.4H644.6M618.6 307.3H621.2M618 304.7H620.6M603.5 334.7H606.1M654.5 198.3H657.1M619.3 303.2H621.9M627.2 289.3H629.8M638.8 259.4H641.4M643.4 260.3H646M622.5 305.2H625.1M597 336.5H599.6M616.4 318.2H619M635.9 278.7H638.5M653 207.7H655.6M619.5 313.3H622.1M622.4 306H625M591.5 337.2H594.1M644.2 255.8H646.8M605.9 326.6H608.5M615 311.8H617.6M636.3 275.5H638.9M635.7 268.9H638.3M618.5 311.1H621.1M594.3 338H596.9M653.2 218.7H655.8" stroke="#000" stroke-width="0.7" fill="none"/>
<path d="M639.6 278.8V285.2M587.9 344.1V352M628 298V309M589.2 342.6V351.9M656.2 214.7V226.4M642.5 268.9V276.8M630 296.8V305.1M611.5 328.1V335.6M659.2 207.1V217.3M614.4 327.3V332.5M592.3 339.9V351M569.1 336.8V348M604.1 337.3V342.9M607.1 329.4V339.9M565 335.1V343.5M628.9 299.1V307.2M589.4 342.6V351.8M614.4 326.6V332.4M649.3 238.2V249.2M613.4 322.1V333.6M621.7 316.4V321.6M654.2 222.8V232.4M575.2 346.3V351.5M635.2 287.5V295.2M573.2 341.3V351M615.5 320.4V331.2M620.2 316.3V324.5M592.8 338.8V350.8M655.1 224V229.5M659.1 207.3V217.6" stroke="#ff66ff" stroke-width="0.7" fill="none"/>
<path d="M638.4 278.8H640.8M586.7 344.1H589.1M626.8 298H629.2M588 342.6H590.4M655 214.7H657.4M641.3 268.9H643.7M628.8 296.8H631.2M610.3 328.1H612.7M658 207.1H660.4M613.2 327.3H615.6M591.1 339.9H593.5M567.9 336.8H570.3M602.9 337.3H605.3M605.9 329.4H608.3M563.8 335.1H566.2M627.7 299.1H630.1M588.2 342.6H590.6M613.2 326.6H615.6M648.1 238.2H650.5M612.2 322.1H614.6M620.5 316.4H622.9M653 222.8H655.4M574 346.3H576.4M634 287.5H636.4M572 341.3H574.4M614.3 320.4H616.7M619 316.3H621.4M591.6 338.8H594M653.9 224H656.3M657.9 207.3H660.3" stroke="#ff66ff" stroke-width="0.6" fill="none"/>
<path d="M667 213V389" stroke="#ff33ff" stroke-width="5" fill="none"/>
</g>
<line x1="497.3" y1="228" x2="497.3" y2="316" stroke="#3a9a2a" stroke-width="1.4" stroke-dasharray="6,4"/>
<line x1="514.2" y1="236" x2="521.4" y2="303" stroke="#3a9a2a" stroke-width="1.4" stroke-dasharray="6,4"/>
<path d="M513.6,227.3 L511,236.6 L516.6,236 z" fill="#3a9a2a"/>
<text x="497" y="331" font-size="10.5" text-anchor="middle" fill="#1e1e1e">7.5</text>
<line x1="547.7" y1="225.2" x2="571.1" y2="225.2" stroke="#000" stroke-width="1.4"/>
<text x="574.6" y="228.8" font-size="10.5" text-anchor="start" fill="#1e1e1e" textLength="62.5" lengthAdjust="spacingAndGlyphs">MFGM 20 °C</text>
<line x1="547.7" y1="239.3" x2="571.1" y2="239.3" stroke="#ff1f1f" stroke-width="1.4"/>
<text x="574.6" y="242.9" font-size="10.5" text-anchor="start" fill="#1e1e1e" textLength="62.5" lengthAdjust="spacingAndGlyphs">MFGM 40 °C</text>
<line x1="547.7" y1="253.4" x2="571.1" y2="253.4" stroke="#1f1fff" stroke-width="1.4"/>
<text x="574.6" y="257" font-size="10.5" text-anchor="start" fill="#1e1e1e" textLength="62.5" lengthAdjust="spacingAndGlyphs">MFGM 60 °C</text>
<line x1="547.7" y1="267.5" x2="571.1" y2="267.5" stroke="#ff33ff" stroke-width="1.4"/>
<text x="574.6" y="271.1" font-size="10.5" text-anchor="start" fill="#1e1e1e" textLength="62.5" lengthAdjust="spacingAndGlyphs">MFGM 80 °C</text>
<line x1="479.4" y1="213.5" x2="670.7" y2="213.5" stroke="#5a5a5a" stroke-width="1"/>
<line x1="670.7" y1="213.5" x2="670.7" y2="389" stroke="#5a5a5a" stroke-width="1"/>
<line x1="479.4" y1="213.5" x2="479.4" y2="389" stroke="#222" stroke-width="1.1"/>
<line x1="478.9" y1="389" x2="670.7" y2="389" stroke="#222" stroke-width="1.1"/>
<line x1="475.4" y1="248.4" x2="479.4" y2="248.4" stroke="#222" stroke-width="0.9"/>
<line x1="475.4" y1="336.8" x2="479.4" y2="336.8" stroke="#222" stroke-width="0.9"/>
<line x1="479.4" y1="389" x2="479.4" y2="393" stroke="#222" stroke-width="0.9"/>
<line x1="530.2" y1="389" x2="530.2" y2="393" stroke="#222" stroke-width="0.9"/>
<line x1="581" y1="389" x2="581" y2="393" stroke="#222" stroke-width="0.9"/>
<line x1="631.8" y1="389" x2="631.8" y2="393" stroke="#222" stroke-width="0.9"/>
<line x1="504.8" y1="389" x2="504.8" y2="391.5" stroke="#222" stroke-width="0.9"/>
<line x1="555.6" y1="389" x2="555.6" y2="391.5" stroke="#222" stroke-width="0.9"/>
<line x1="606.4" y1="389" x2="606.4" y2="391.5" stroke="#222" stroke-width="0.9"/>
<line x1="657.2" y1="389" x2="657.2" y2="391.5" stroke="#222" stroke-width="0.9"/>
<text x="463.3" y="226" font-size="13.6" text-anchor="middle" fill="#1e1e1e">F</text>
<text x="458.5" y="252.5" font-size="13.6" text-anchor="middle" fill="#1e1e1e">0.50</text>
<text x="479.4" y="407" font-size="13.6" text-anchor="middle" fill="#1e1e1e">0</text>
<text x="530.2" y="407" font-size="13.6" text-anchor="middle" fill="#1e1e1e">20</text>
<text x="581" y="407" font-size="13.6" text-anchor="middle" fill="#1e1e1e">40</text>
<text x="631.8" y="407" font-size="13.6" text-anchor="middle" fill="#1e1e1e">60</text>
<text x="466" y="298" font-size="13" text-anchor="middle" fill="#1e1e1e" transform="rotate(-90 466 298)">(<tspan font-style="italic">q</tspan>R<tspan dy="3" font-size="8.5">g</tspan><tspan dy="-3">)</tspan><tspan dy="-5" font-size="8.5">2</tspan><tspan dy="5">*</tspan><tspan font-style="italic">I</tspan>(<tspan font-style="italic">q</tspan>)/<tspan font-style="italic">I</tspan>(0)</text>
<text x="571" y="418" font-size="13" text-anchor="middle" fill="#1e1e1e"><tspan font-style="italic">q</tspan>R<tspan dy="3" font-size="8.5">g</tspan></text>
<line x1="118" y1="428" x2="118" y2="493.6" stroke="#333" stroke-width="0.5"/>
<line x1="118" y1="493.6" x2="204.5" y2="493.6" stroke="#333" stroke-width="0.5"/>
<line x1="116.8" y1="432.6" x2="118" y2="432.6" stroke="#333" stroke-width="0.4"/>
<text x="116.2" y="434" font-size="4.2" text-anchor="end" fill="#1e1e1e" style="stroke:none">10</text>
<line x1="116.8" y1="443.2" x2="118" y2="443.2" stroke="#333" stroke-width="0.4"/>
<text x="116.2" y="444.6" font-size="4.2" text-anchor="end" fill="#1e1e1e" style="stroke:none">9</text>
<line x1="116.8" y1="454" x2="118" y2="454" stroke="#333" stroke-width="0.4"/>
<text x="116.2" y="455.4" font-size="4.2" text-anchor="end" fill="#1e1e1e" style="stroke:none">8</text>
<line x1="116.8" y1="464.7" x2="118" y2="464.7" stroke="#333" stroke-width="0.4"/>
<text x="116.2" y="466.1" font-size="4.2" text-anchor="end" fill="#1e1e1e" style="stroke:none">7</text>
<line x1="116.8" y1="474.9" x2="118" y2="474.9" stroke="#333" stroke-width="0.4"/>
<text x="116.2" y="476.3" font-size="4.2" text-anchor="end" fill="#1e1e1e" style="stroke:none">6</text>
<line x1="116.8" y1="485.6" x2="118" y2="485.6" stroke="#333" stroke-width="0.4"/>
<text x="116.2" y="487" font-size="4.2" text-anchor="end" fill="#1e1e1e" style="stroke:none">5</text>
<line x1="161.7" y1="493.6" x2="161.7" y2="494.8" stroke="#333" stroke-width="0.4"/>
<text x="161.7" y="499.2" font-size="4.2" text-anchor="middle" fill="#1e1e1e" style="stroke:none">1E-4</text>
<line x1="186.6" y1="493.6" x2="186.6" y2="494.8" stroke="#333" stroke-width="0.4"/>
<text x="186.6" y="499.2" font-size="4.2" text-anchor="middle" fill="#1e1e1e" style="stroke:none">2E-4</text>
<line x1="204.5" y1="493.6" x2="204.5" y2="494.8" stroke="#333" stroke-width="0.4"/>
<text x="204.5" y="499.2" font-size="4.2" text-anchor="middle" fill="#1e1e1e" style="stroke:none">3E-4</text>
<text x="161.2" y="505.8" font-size="4.2" text-anchor="middle" fill="#1e1e1e" style="stroke:none">Log(<tspan font-style="italic">q</tspan><tspan dy="-1.5" font-size="3">2</tspan><tspan dy="1.5">)</tspan></text>
<text x="109.5" y="460.8" font-size="4.2" text-anchor="middle" fill="#1e1e1e" transform="rotate(-90 109.5 460.8)" style="stroke:none">ln (I(<tspan font-style="italic">q</tspan>))</text>
<path d="M121.4 431.1a1.35 1.35 0 1 0 2.7 0a1.35 1.35 0 1 0-2.7 0M126.3 433.2a1.35 1.35 0 1 0 2.7 0a1.35 1.35 0 1 0-2.7 0M130.9 435.1a1.35 1.35 0 1 0 2.7 0a1.35 1.35 0 1 0-2.7 0M135.3 437a1.35 1.35 0 1 0 2.7 0a1.35 1.35 0 1 0-2.7 0M139.4 438.7a1.35 1.35 0 1 0 2.7 0a1.35 1.35 0 1 0-2.7 0M143.3 440.4a1.35 1.35 0 1 0 2.7 0a1.35 1.35 0 1 0-2.7 0M147 441.9a1.35 1.35 0 1 0 2.7 0a1.35 1.35 0 1 0-2.7 0M150.5 443.4a1.35 1.35 0 1 0 2.7 0a1.35 1.35 0 1 0-2.7 0M153.9 444.9a1.35 1.35 0 1 0 2.7 0a1.35 1.35 0 1 0-2.7 0M157.1 446.2a1.35 1.35 0 1 0 2.7 0a1.35 1.35 0 1 0-2.7 0M160.2 447.5a1.35 1.35 0 1 0 2.7 0a1.35 1.35 0 1 0-2.7 0M163.2 448.8a1.35 1.35 0 1 0 2.7 0a1.35 1.35 0 1 0-2.7 0M166.1 450a1.35 1.35 0 1 0 2.7 0a1.35 1.35 0 1 0-2.7 0M168.8 451.2a1.35 1.35 0 1 0 2.7 0a1.35 1.35 0 1 0-2.7 0M171.5 452.3a1.35 1.35 0 1 0 2.7 0a1.35 1.35 0 1 0-2.7 0M174.1 453.4a1.35 1.35 0 1 0 2.7 0a1.35 1.35 0 1 0-2.7 0M176.6 454.5a1.35 1.35 0 1 0 2.7 0a1.35 1.35 0 1 0-2.7 0M179 455.5a1.35 1.35 0 1 0 2.7 0a1.35 1.35 0 1 0-2.7 0M181.3 456.5a1.35 1.35 0 1 0 2.7 0a1.35 1.35 0 1 0-2.7 0M183.6 457.4a1.35 1.35 0 1 0 2.7 0a1.35 1.35 0 1 0-2.7 0M185.8 458.4a1.35 1.35 0 1 0 2.7 0a1.35 1.35 0 1 0-2.7 0M187.9 459.3a1.35 1.35 0 1 0 2.7 0a1.35 1.35 0 1 0-2.7 0M190 460.2a1.35 1.35 0 1 0 2.7 0a1.35 1.35 0 1 0-2.7 0M192 461a1.35 1.35 0 1 0 2.7 0a1.35 1.35 0 1 0-2.7 0M194 461.9a1.35 1.35 0 1 0 2.7 0a1.35 1.35 0 1 0-2.7 0M195.9 462.7a1.35 1.35 0 1 0 2.7 0a1.35 1.35 0 1 0-2.7 0M197.8 463.5a1.35 1.35 0 1 0 2.7 0a1.35 1.35 0 1 0-2.7 0M199.6 464.2a1.35 1.35 0 1 0 2.7 0a1.35 1.35 0 1 0-2.7 0M201.4 465a1.35 1.35 0 1 0 2.7 0a1.35 1.35 0 1 0-2.7 0" fill="none" stroke="#000" stroke-width="1.5"/>
<path d="M121.4 455a1.35 1.35 0 1 0 2.7 0a1.35 1.35 0 1 0-2.7 0M126.3 456.7a1.35 1.35 0 1 0 2.7 0a1.35 1.35 0 1 0-2.7 0M130.9 458.3a1.35 1.35 0 1 0 2.7 0a1.35 1.35 0 1 0-2.7 0M135.3 459.8a1.35 1.35 0 1 0 2.7 0a1.35 1.35 0 1 0-2.7 0M139.4 461.2a1.35 1.35 0 1 0 2.7 0a1.35 1.35 0 1 0-2.7 0M143.3 462.6a1.35 1.35 0 1 0 2.7 0a1.35 1.35 0 1 0-2.7 0M147 463.9a1.35 1.35 0 1 0 2.7 0a1.35 1.35 0 1 0-2.7 0M150.5 465.1a1.35 1.35 0 1 0 2.7 0a1.35 1.35 0 1 0-2.7 0M153.9 466.3a1.35 1.35 0 1 0 2.7 0a1.35 1.35 0 1 0-2.7 0M157.1 467.4a1.35 1.35 0 1 0 2.7 0a1.35 1.35 0 1 0-2.7 0M160.2 468.5a1.35 1.35 0 1 0 2.7 0a1.35 1.35 0 1 0-2.7 0M163.2 469.5a1.35 1.35 0 1 0 2.7 0a1.35 1.35 0 1 0-2.7 0M166.1 470.5a1.35 1.35 0 1 0 2.7 0a1.35 1.35 0 1 0-2.7 0M168.8 471.5a1.35 1.35 0 1 0 2.7 0a1.35 1.35 0 1 0-2.7 0M171.5 472.4a1.35 1.35 0 1 0 2.7 0a1.35 1.35 0 1 0-2.7 0M174.1 473.3a1.35 1.35 0 1 0 2.7 0a1.35 1.35 0 1 0-2.7 0M176.6 474.2a1.35 1.35 0 1 0 2.7 0a1.35 1.35 0 1 0-2.7 0M179 475a1.35 1.35 0 1 0 2.7 0a1.35 1.35 0 1 0-2.7 0M181.3 475.8a1.35 1.35 0 1 0 2.7 0a1.35 1.35 0 1 0-2.7 0M183.6 476.6a1.35 1.35 0 1 0 2.7 0a1.35 1.35 0 1 0-2.7 0M185.8 477.4a1.35 1.35 0 1 0 2.7 0a1.35 1.35 0 1 0-2.7 0M187.9 478.1a1.35 1.35 0 1 0 2.7 0a1.35 1.35 0 1 0-2.7 0M190 478.8a1.35 1.35 0 1 0 2.7 0a1.35 1.35 0 1 0-2.7 0M192 479.5a1.35 1.35 0 1 0 2.7 0a1.35 1.35 0 1 0-2.7 0M194 480.2a1.35 1.35 0 1 0 2.7 0a1.35 1.35 0 1 0-2.7 0M195.9 480.9a1.35 1.35 0 1 0 2.7 0a1.35 1.35 0 1 0-2.7 0M197.8 481.5a1.35 1.35 0 1 0 2.7 0a1.35 1.35 0 1 0-2.7 0M199.6 482.2a1.35 1.35 0 1 0 2.7 0a1.35 1.35 0 1 0-2.7 0M201.4 482.8a1.35 1.35 0 1 0 2.7 0a1.35 1.35 0 1 0-2.7 0" fill="none" stroke="#ff1f1f" stroke-width="1.5"/>
<path d="M121.4 455.5a1.35 1.35 0 1 0 2.7 0a1.35 1.35 0 1 0-2.7 0M126.3 457.2a1.35 1.35 0 1 0 2.7 0a1.35 1.35 0 1 0-2.7 0M130.9 458.8a1.35 1.35 0 1 0 2.7 0a1.35 1.35 0 1 0-2.7 0M135.3 460.3a1.35 1.35 0 1 0 2.7 0a1.35 1.35 0 1 0-2.7 0M139.4 461.8a1.35 1.35 0 1 0 2.7 0a1.35 1.35 0 1 0-2.7 0M143.3 463.1a1.35 1.35 0 1 0 2.7 0a1.35 1.35 0 1 0-2.7 0M147 464.4a1.35 1.35 0 1 0 2.7 0a1.35 1.35 0 1 0-2.7 0M150.5 465.7a1.35 1.35 0 1 0 2.7 0a1.35 1.35 0 1 0-2.7 0M153.9 466.9a1.35 1.35 0 1 0 2.7 0a1.35 1.35 0 1 0-2.7 0M157.1 468a1.35 1.35 0 1 0 2.7 0a1.35 1.35 0 1 0-2.7 0M160.2 469.1a1.35 1.35 0 1 0 2.7 0a1.35 1.35 0 1 0-2.7 0M163.2 470.1a1.35 1.35 0 1 0 2.7 0a1.35 1.35 0 1 0-2.7 0M166.1 471.1a1.35 1.35 0 1 0 2.7 0a1.35 1.35 0 1 0-2.7 0M168.8 472.1a1.35 1.35 0 1 0 2.7 0a1.35 1.35 0 1 0-2.7 0M171.5 473a1.35 1.35 0 1 0 2.7 0a1.35 1.35 0 1 0-2.7 0M174.1 473.9a1.35 1.35 0 1 0 2.7 0a1.35 1.35 0 1 0-2.7 0M176.6 474.8a1.35 1.35 0 1 0 2.7 0a1.35 1.35 0 1 0-2.7 0M179 475.6a1.35 1.35 0 1 0 2.7 0a1.35 1.35 0 1 0-2.7 0M181.3 476.5a1.35 1.35 0 1 0 2.7 0a1.35 1.35 0 1 0-2.7 0M183.6 477.3a1.35 1.35 0 1 0 2.7 0a1.35 1.35 0 1 0-2.7 0M185.8 478a1.35 1.35 0 1 0 2.7 0a1.35 1.35 0 1 0-2.7 0M187.9 478.8a1.35 1.35 0 1 0 2.7 0a1.35 1.35 0 1 0-2.7 0M190 479.5a1.35 1.35 0 1 0 2.7 0a1.35 1.35 0 1 0-2.7 0M192 480.2a1.35 1.35 0 1 0 2.7 0a1.35 1.35 0 1 0-2.7 0M194 480.9a1.35 1.35 0 1 0 2.7 0a1.35 1.35 0 1 0-2.7 0M195.9 481.6a1.35 1.35 0 1 0 2.7 0a1.35 1.35 0 1 0-2.7 0M197.8 482.2a1.35 1.35 0 1 0 2.7 0a1.35 1.35 0 1 0-2.7 0M199.6 482.9a1.35 1.35 0 1 0 2.7 0a1.35 1.35 0 1 0-2.7 0M201.4 483.5a1.35 1.35 0 1 0 2.7 0a1.35 1.35 0 1 0-2.7 0" fill="none" stroke="#1f1fff" stroke-width="1.5"/>
<path d="M121.4 455.3a1.35 1.35 0 1 0 2.7 0a1.35 1.35 0 1 0-2.7 0M126.3 457a1.35 1.35 0 1 0 2.7 0a1.35 1.35 0 1 0-2.7 0M130.9 458.5a1.35 1.35 0 1 0 2.7 0a1.35 1.35 0 1 0-2.7 0M135.3 460a1.35 1.35 0 1 0 2.7 0a1.35 1.35 0 1 0-2.7 0M139.4 461.4a1.35 1.35 0 1 0 2.7 0a1.35 1.35 0 1 0-2.7 0M143.3 462.7a1.35 1.35 0 1 0 2.7 0a1.35 1.35 0 1 0-2.7 0M147 464a1.35 1.35 0 1 0 2.7 0a1.35 1.35 0 1 0-2.7 0M150.5 465.2a1.35 1.35 0 1 0 2.7 0a1.35 1.35 0 1 0-2.7 0M153.9 466.3a1.35 1.35 0 1 0 2.7 0a1.35 1.35 0 1 0-2.7 0M157.1 467.4a1.35 1.35 0 1 0 2.7 0a1.35 1.35 0 1 0-2.7 0M160.2 468.5a1.35 1.35 0 1 0 2.7 0a1.35 1.35 0 1 0-2.7 0M163.2 469.5a1.35 1.35 0 1 0 2.7 0a1.35 1.35 0 1 0-2.7 0M166.1 470.5a1.35 1.35 0 1 0 2.7 0a1.35 1.35 0 1 0-2.7 0M168.8 471.4a1.35 1.35 0 1 0 2.7 0a1.35 1.35 0 1 0-2.7 0M171.5 472.3a1.35 1.35 0 1 0 2.7 0a1.35 1.35 0 1 0-2.7 0M174.1 473.2a1.35 1.35 0 1 0 2.7 0a1.35 1.35 0 1 0-2.7 0M176.6 474a1.35 1.35 0 1 0 2.7 0a1.35 1.35 0 1 0-2.7 0M179 474.9a1.35 1.35 0 1 0 2.7 0a1.35 1.35 0 1 0-2.7 0M181.3 475.7a1.35 1.35 0 1 0 2.7 0a1.35 1.35 0 1 0-2.7 0M183.6 476.4a1.35 1.35 0 1 0 2.7 0a1.35 1.35 0 1 0-2.7 0M185.8 477.2a1.35 1.35 0 1 0 2.7 0a1.35 1.35 0 1 0-2.7 0M187.9 477.9a1.35 1.35 0 1 0 2.7 0a1.35 1.35 0 1 0-2.7 0M190 478.6a1.35 1.35 0 1 0 2.7 0a1.35 1.35 0 1 0-2.7 0M192 479.3a1.35 1.35 0 1 0 2.7 0a1.35 1.35 0 1 0-2.7 0M194 480a1.35 1.35 0 1 0 2.7 0a1.35 1.35 0 1 0-2.7 0M195.9 480.6a1.35 1.35 0 1 0 2.7 0a1.35 1.35 0 1 0-2.7 0M197.8 481.3a1.35 1.35 0 1 0 2.7 0a1.35 1.35 0 1 0-2.7 0M199.6 481.9a1.35 1.35 0 1 0 2.7 0a1.35 1.35 0 1 0-2.7 0M201.4 482.5a1.35 1.35 0 1 0 2.7 0a1.35 1.35 0 1 0-2.7 0" fill="none" stroke="#ff33ff" stroke-width="1.5"/>
<path d="M121.4 455.8a1.35 1.35 0 1 0 2.7 0a1.35 1.35 0 1 0-2.7 0M126.3 457.7a1.35 1.35 0 1 0 2.7 0a1.35 1.35 0 1 0-2.7 0M130.9 459.4a1.35 1.35 0 1 0 2.7 0a1.35 1.35 0 1 0-2.7 0M135.3 461.1a1.35 1.35 0 1 0 2.7 0a1.35 1.35 0 1 0-2.7 0M139.4 462.6a1.35 1.35 0 1 0 2.7 0a1.35 1.35 0 1 0-2.7 0M143.3 464.1a1.35 1.35 0 1 0 2.7 0a1.35 1.35 0 1 0-2.7 0M147 465.5a1.35 1.35 0 1 0 2.7 0a1.35 1.35 0 1 0-2.7 0M150.5 466.9a1.35 1.35 0 1 0 2.7 0a1.35 1.35 0 1 0-2.7 0M153.9 468.2a1.35 1.35 0 1 0 2.7 0a1.35 1.35 0 1 0-2.7 0M157.1 469.4a1.35 1.35 0 1 0 2.7 0a1.35 1.35 0 1 0-2.7 0M160.2 470.6a1.35 1.35 0 1 0 2.7 0a1.35 1.35 0 1 0-2.7 0M163.2 471.7a1.35 1.35 0 1 0 2.7 0a1.35 1.35 0 1 0-2.7 0M166.1 472.8a1.35 1.35 0 1 0 2.7 0a1.35 1.35 0 1 0-2.7 0M168.8 473.9a1.35 1.35 0 1 0 2.7 0a1.35 1.35 0 1 0-2.7 0M171.5 474.9a1.35 1.35 0 1 0 2.7 0a1.35 1.35 0 1 0-2.7 0M174.1 475.9a1.35 1.35 0 1 0 2.7 0a1.35 1.35 0 1 0-2.7 0M176.6 476.8a1.35 1.35 0 1 0 2.7 0a1.35 1.35 0 1 0-2.7 0M179 477.7a1.35 1.35 0 1 0 2.7 0a1.35 1.35 0 1 0-2.7 0M181.3 478.6a1.35 1.35 0 1 0 2.7 0a1.35 1.35 0 1 0-2.7 0M183.6 479.5a1.35 1.35 0 1 0 2.7 0a1.35 1.35 0 1 0-2.7 0M185.8 480.3a1.35 1.35 0 1 0 2.7 0a1.35 1.35 0 1 0-2.7 0M187.9 481.2a1.35 1.35 0 1 0 2.7 0a1.35 1.35 0 1 0-2.7 0M190 481.9a1.35 1.35 0 1 0 2.7 0a1.35 1.35 0 1 0-2.7 0M192 482.7a1.35 1.35 0 1 0 2.7 0a1.35 1.35 0 1 0-2.7 0M194 483.5a1.35 1.35 0 1 0 2.7 0a1.35 1.35 0 1 0-2.7 0M195.9 484.2a1.35 1.35 0 1 0 2.7 0a1.35 1.35 0 1 0-2.7 0M197.8 484.9a1.35 1.35 0 1 0 2.7 0a1.35 1.35 0 1 0-2.7 0M199.6 485.6a1.35 1.35 0 1 0 2.7 0a1.35 1.35 0 1 0-2.7 0M201.4 486.3a1.35 1.35 0 1 0 2.7 0a1.35 1.35 0 1 0-2.7 0" fill="none" stroke="#33962d" stroke-width="1.5"/>
<path d="M121.4 458.3a1.35 1.35 0 1 0 2.7 0a1.35 1.35 0 1 0-2.7 0M126.3 460.2a1.35 1.35 0 1 0 2.7 0a1.35 1.35 0 1 0-2.7 0M130.9 462a1.35 1.35 0 1 0 2.7 0a1.35 1.35 0 1 0-2.7 0M135.3 463.8a1.35 1.35 0 1 0 2.7 0a1.35 1.35 0 1 0-2.7 0M139.4 465.4a1.35 1.35 0 1 0 2.7 0a1.35 1.35 0 1 0-2.7 0M143.3 466.9a1.35 1.35 0 1 0 2.7 0a1.35 1.35 0 1 0-2.7 0M147 468.4a1.35 1.35 0 1 0 2.7 0a1.35 1.35 0 1 0-2.7 0M150.5 469.8a1.35 1.35 0 1 0 2.7 0a1.35 1.35 0 1 0-2.7 0M153.9 471.1a1.35 1.35 0 1 0 2.7 0a1.35 1.35 0 1 0-2.7 0M157.1 472.4a1.35 1.35 0 1 0 2.7 0a1.35 1.35 0 1 0-2.7 0M160.2 473.6a1.35 1.35 0 1 0 2.7 0a1.35 1.35 0 1 0-2.7 0M163.2 474.8a1.35 1.35 0 1 0 2.7 0a1.35 1.35 0 1 0-2.7 0M166.1 475.9a1.35 1.35 0 1 0 2.7 0a1.35 1.35 0 1 0-2.7 0M168.8 477a1.35 1.35 0 1 0 2.7 0a1.35 1.35 0 1 0-2.7 0M171.5 478a1.35 1.35 0 1 0 2.7 0a1.35 1.35 0 1 0-2.7 0M174.1 479a1.35 1.35 0 1 0 2.7 0a1.35 1.35 0 1 0-2.7 0M176.6 480a1.35 1.35 0 1 0 2.7 0a1.35 1.35 0 1 0-2.7 0M179 481a1.35 1.35 0 1 0 2.7 0a1.35 1.35 0 1 0-2.7 0M181.3 481.9a1.35 1.35 0 1 0 2.7 0a1.35 1.35 0 1 0-2.7 0M183.6 482.8a1.35 1.35 0 1 0 2.7 0a1.35 1.35 0 1 0-2.7 0M185.8 483.6a1.35 1.35 0 1 0 2.7 0a1.35 1.35 0 1 0-2.7 0M187.9 484.5a1.35 1.35 0 1 0 2.7 0a1.35 1.35 0 1 0-2.7 0M190 485.3a1.35 1.35 0 1 0 2.7 0a1.35 1.35 0 1 0-2.7 0M192 486.1a1.35 1.35 0 1 0 2.7 0a1.35 1.35 0 1 0-2.7 0M194 486.9a1.35 1.35 0 1 0 2.7 0a1.35 1.35 0 1 0-2.7 0M195.9 487.6a1.35 1.35 0 1 0 2.7 0a1.35 1.35 0 1 0-2.7 0M197.8 488.4a1.35 1.35 0 1 0 2.7 0a1.35 1.35 0 1 0-2.7 0M199.6 489.1a1.35 1.35 0 1 0 2.7 0a1.35 1.35 0 1 0-2.7 0M201.4 489.8a1.35 1.35 0 1 0 2.7 0a1.35 1.35 0 1 0-2.7 0" fill="none" stroke="#f0882e" stroke-width="1.5"/>
<polyline points="41.5,435.3 43.1,436.8 44.8,438.2 46.4,439.7 48,441.2 49.6,442.7 51.3,444.3 52.9,445.9 54.5,447.5 56.2,449.1 57.8,450.8 59.4,452.4 61,454.1 62.7,455.7 64.3,457.4 65.9,459.1 67.6,460.7 69.2,462.4 70.8,464 72.4,465.7 74.1,467.3 75.7,468.9 77.3,470.5 79,472.1 80.6,473.6 82.2,475.1 83.8,476.6 85.5,478.1 87.1,479.5 88.7,480.9 90.4,482.3 92,483.7 93.6,485 95.2,486.3 96.9,487.6 98.5,488.8 100.1,490.1 101.8,491.3 103.4,492.5 105,493.7 106.6,494.8 108.3,495.9 109.9,497 111.5,498.1 113.2,499.2 114.8,500.2 116.4,501.3 118,502.3 119.7,503.3 121.3,504.3 122.9,505.2 124.6,506.2 126.2,507.1 127.8,508 129.4,508.9 131.1,509.8 132.7,510.7 134.3,511.6 135.9,512.5 137.6,513.4 139.2,514.3 140.8,515.2 142.5,516.1 144.1,517 145.7,517.9 147.3,518.8 149,519.7 150.6,520.6 152.2,521.5 153.9,522.5 155.5,523.4 157.1,524.4 158.7,525.4 160.4,526.4 162,527.4 163.6,528.5 165.3,529.5 166.9,530.6 168.5,531.7 170.1,532.9 171.8,534 173.4,535.2 175,536.4 176.7,537.7 178.3,538.9 179.9,540.2 181.5,541.5 183.2,542.8 184.8,544 186.4,545.3 188.1,546.5 189.7,547.7 191.3,548.8 192.9,549.9 194.6,551 196.2,552 197.8,552.9 199.5,553.8 201.1,554.5 202.7,555.2 204.3,555.8 206,556.3 207.6,556.8 209.2,557.3 210.9,557.8 212.5,558.3 214.1,559 215.7,559.7 217.4,560.6 219,561.7" fill="none" stroke="#000" stroke-width="2.0" stroke-linejoin="round" stroke-linecap="round"/>
<polyline points="40.5,441.9 42.1,443.2 43.8,444.6 45.4,446 47.1,447.4 48.7,448.8 50.4,450.3 52,451.8 53.7,453.3 55.3,454.8 56.9,456.3 58.6,457.8 60.2,459.3 61.9,460.9 63.5,462.4 65.2,463.9 66.8,465.4 68.5,466.9 70.1,468.4 71.8,469.8 73.4,471.3 75,472.7 76.7,474 78.3,475.4 80,476.7 81.6,477.9 83.3,479.1 84.9,480.3 86.6,481.4 88.2,482.5 89.8,483.6 91.5,484.6 93.1,485.6 94.8,486.5 96.4,487.5 98.1,488.4 99.7,489.2 101.4,490.1 103,490.9 104.7,491.7 106.3,492.5 107.9,493.3 109.6,494 111.2,494.7 112.9,495.5 114.5,496.2 116.2,496.9 117.8,497.5 119.5,498.2 121.1,498.9 122.7,499.6 124.4,500.2 126,500.9 127.7,501.6 129.3,502.3 131,503.2 132.6,504.1 134.3,505.1 135.9,506.3 137.6,507.7 139.2,509.2 140.8,510.9 142.5,512.7 144.1,514.5 145.8,516.3 147.4,518 149.1,519.5 150.7,520.9 152.4,522 154,522.8 155.6,523.4 157.3,523.7 158.9,523.9 160.6,523.9 162.2,523.8 163.9,523.6 165.5,523.4 167.2,523.1 168.8,522.9 170.5,522.7 172.1,522.6 173.7,522.6 175.4,522.7 177,523.1 178.7,523.6 180.3,524.4 182,525.5 183.6,526.8 185.3,528.2 186.9,529.9 188.5,531.8 190.2,533.7 191.8,535.8 193.5,538 195.1,540.2 196.8,542.3 198.4,544.3 200.1,546.2 201.7,547.8 203.4,549.1 205,550.1 206.6,550.9 208.3,551.5 209.9,552.1 211.6,552.7 213.2,553.4 214.9,554.3 216.5,555.6 218.2,557.3 219.8,559.4" fill="none" stroke="#ff1f1f" stroke-width="2.0" stroke-linejoin="round" stroke-linecap="round"/>
<polyline points="40.5,441.9 42.2,443.2 43.8,444.6 45.5,446 47.1,447.4 48.8,448.9 50.4,450.3 52.1,451.8 53.7,453.3 55.4,454.8 57,456.4 58.7,457.9 60.3,459.4 62,461 63.6,462.5 65.3,464 66.9,465.5 68.6,467 70.2,468.5 71.9,469.9 73.5,471.4 75.2,472.8 76.8,474.1 78.5,475.5 80.1,476.8 81.8,478 83.4,479.2 85.1,480.4 86.7,481.5 88.4,482.6 90,483.7 91.7,484.7 93.3,485.7 95,486.7 96.6,487.6 98.3,488.5 99.9,489.4 101.6,490.2 103.3,491.1 104.9,491.9 106.6,492.7 108.2,493.4 109.9,494.2 111.5,494.9 113.2,495.6 114.8,496.3 116.5,497 118.1,497.7 119.8,498.3 121.4,499 123.1,499.7 124.7,500.3 126.4,501 128,501.6 129.7,502.4 131.3,503.2 133,504.1 134.6,505.2 136.3,506.4 137.9,507.9 139.6,509.5 141.2,511.2 142.9,513.1 144.5,514.9 146.2,516.7 147.8,518.3 149.5,519.8 151.1,521 152.8,522 154.4,522.6 156.1,523 157.7,523.1 159.4,523 161.1,522.8 162.7,522.4 164.4,522 166,521.5 167.7,521 169.3,520.5 171,520 172.6,519.7 174.3,519.5 175.9,519.4 177.6,519.6 179.2,520 180.9,520.7 182.5,521.6 184.2,522.9 185.8,524.3 187.5,526.1 189.1,528 190.8,530.2 192.4,532.7 194.1,535.2 195.7,537.8 197.4,540.2 199,542.4 200.7,544.4 202.3,546 204,547.4 205.6,548.4 207.3,549.3 208.9,550 210.6,550.7 212.2,551.4 213.9,552.3 215.5,553.4 217.2,554.7 218.8,556.5 220.5,558.7" fill="none" stroke="#1f1fff" stroke-width="2.0" stroke-linejoin="round" stroke-linecap="round"/>
<polyline points="40.5,441.9 42.2,443.2 43.8,444.6 45.5,446 47.1,447.4 48.8,448.8 50.4,450.3 52.1,451.8 53.7,453.3 55.4,454.8 57,456.3 58.7,457.9 60.3,459.4 62,460.9 63.6,462.5 65.3,464 66.9,465.5 68.6,467 70.2,468.5 71.9,470 73.5,471.4 75.2,472.8 76.8,474.2 78.5,475.5 80.1,476.8 81.8,478.1 83.4,479.3 85.1,480.4 86.7,481.6 88.4,482.7 90,483.7 91.7,484.7 93.3,485.7 95,486.6 96.6,487.6 98.3,488.5 99.9,489.3 101.6,490.2 103.3,491 104.9,491.8 106.6,492.6 108.2,493.3 109.9,494.1 111.5,494.8 113.2,495.5 114.8,496.2 116.5,496.9 118.1,497.6 119.8,498.3 121.4,499 123.1,499.7 124.7,500.4 126.4,501.1 128,501.9 129.7,502.7 131.3,503.5 133,504.4 134.6,505.5 136.3,506.7 137.9,508 139.6,509.5 141.2,511.1 142.9,512.7 144.5,514.4 146.2,516 147.8,517.6 149.5,519 151.1,520.2 152.8,521.2 154.4,522 156.1,522.6 157.7,522.9 159.4,523.1 161.1,523 162.7,522.8 164.4,522.4 166,521.8 167.7,521.1 169.3,520.2 171,519.4 172.6,518.6 174.3,518 175.9,517.6 177.6,517.4 179.2,517.7 180.9,518.4 182.5,519.5 184.2,521.1 185.8,522.9 187.5,524.9 189.1,527.2 190.8,529.5 192.4,531.9 194.1,534.4 195.7,536.7 197.4,539 199,541 200.7,542.8 202.3,544.3 204,545.5 205.6,546.5 207.3,547.4 208.9,548.1 210.6,548.9 212.2,549.8 213.9,550.9 215.5,552.2 217.2,553.8 218.8,555.8 220.5,558.3" fill="none" stroke="#ff33ff" stroke-width="2.0" stroke-linejoin="round" stroke-linecap="round"/>
<polyline points="40.6,444 42.3,444.5 43.9,445.2 45.6,446.1 47.3,447.2 48.9,448.5 50.6,449.9 52.2,451.5 53.9,453.1 55.6,454.7 57.2,456.4 58.9,458.1 60.6,459.8 62.2,461.4 63.9,463 65.6,464.6 67.2,466.2 68.9,467.6 70.6,469.1 72.2,470.5 73.9,471.9 75.5,473.2 77.2,474.6 78.9,475.8 80.5,477.1 82.2,478.3 83.9,479.4 85.5,480.6 87.2,481.7 88.9,482.8 90.5,483.8 92.2,484.8 93.9,485.8 95.5,486.8 97.2,487.7 98.8,488.6 100.5,489.5 102.2,490.4 103.8,491.3 105.5,492.1 107.2,492.9 108.8,493.7 110.5,494.4 112.2,495.2 113.8,495.9 115.5,496.7 117.2,497.4 118.8,498.1 120.5,498.8 122.1,499.5 123.8,500.1 125.5,500.8 127.1,501.5 128.8,502.2 130.5,502.9 132.1,503.8 133.8,504.7 135.5,505.8 137.1,507.1 138.8,508.6 140.5,510.2 142.1,511.8 143.8,513.5 145.4,515.2 147.1,516.8 148.8,518.3 150.4,519.6 152.1,520.6 153.8,521.4 155.4,521.9 157.1,522.1 158.8,522.1 160.4,521.9 162.1,521.4 163.8,520.9 165.4,520.1 167.1,519.2 168.7,518.3 170.4,517.3 172.1,516.3 173.7,515.5 175.4,514.8 177.1,514.4 178.7,514.3 180.4,514.5 182.1,515.2 183.7,516.2 185.4,517.6 187.1,519.2 188.7,521.1 190.4,523.2 192,525.4 193.7,527.8 195.4,530.3 197,532.6 198.7,534.9 200.4,536.9 202,538.6 203.7,540 205.4,541.2 207,542.1 208.7,542.9 210.4,543.6 212,544.3 213.7,545 215.3,545.9 217,546.9 218.7,548.1 220.3,549.7 222,551.6" fill="none" stroke="#33962d" stroke-width="2.0" stroke-linejoin="round" stroke-linecap="round"/>
<polyline points="40.5,441.7 42.2,443.2 43.8,444.6 45.5,446.1 47.2,447.6 48.8,449.1 50.5,450.6 52.2,452.1 53.8,453.6 55.5,455.1 57.2,456.6 58.8,458.1 60.5,459.7 62.1,461.2 63.8,462.7 65.5,464.1 67.1,465.6 68.8,467.1 70.5,468.5 72.1,470 73.8,471.4 75.5,472.8 77.1,474.1 78.8,475.5 80.5,476.8 82.1,478.1 83.8,479.3 85.5,480.6 87.1,481.7 88.8,482.9 90.5,484 92.1,485.1 93.8,486.1 95.4,487.1 97.1,488.1 98.8,489 100.4,489.9 102.1,490.8 103.8,491.6 105.4,492.4 107.1,493.1 108.8,493.8 110.4,494.5 112.1,495.1 113.8,495.7 115.4,496.3 117.1,496.9 118.8,497.5 120.4,498.1 122.1,498.7 123.8,499.4 125.4,500.1 127.1,500.8 128.8,501.6 130.4,502.5 132.1,503.5 133.7,504.6 135.4,505.8 137.1,507.1 138.7,508.5 140.4,510 142.1,511.5 143.7,513 145.4,514.4 147.1,515.7 148.7,516.9 150.4,517.8 152.1,518.4 153.7,518.6 155.4,518.5 157.1,518 158.7,517.1 160.4,515.9 162.1,514.4 163.7,512.8 165.4,511.1 167.1,509.3 168.7,507.6 170.4,505.9 172,504.4 173.7,503.1 175.4,502 177,501.3 178.7,501 180.4,501.2 182,501.8 183.7,502.8 185.4,504.2 187,505.9 188.7,507.8 190.4,510 192,512.4 193.7,514.8 195.4,517.3 197,519.8 198.7,522.2 200.4,524.3 202,526.2 203.7,527.9 205.3,529.3 207,530.5 208.7,531.5 210.3,532.4 212,533.3 213.7,534.2 215.3,535.1 217,536.1 218.7,537.2 220.3,538.5 222,540" fill="none" stroke="#f0882e" stroke-width="2.0" stroke-linejoin="round" stroke-linecap="round"/>
<polygon points="216,533 220,537.5 226,534.5 226.4,551 222,548 219,543 216,539.5" fill="#f0882e"/>
<polygon points="216,545 220,548 224,545.5 225.5,543.5 225.5,557 222,558.5 218,552.5" fill="#33962d"/>
<polygon points="212,557 218,556 222,551 226.3,549.6 226.3,595.5 224.8,595.5 223.5,575 221,569.5 217,565.5 212,562" fill="#000"/>
<path d="M220.8 565V602.5" stroke="#ff1f1f" stroke-width="1.5" fill="none"/>
<path d="M222.2 568V602.5" stroke="#1f1fff" stroke-width="1.2" fill="none"/>
<path d="M223 575V584" stroke="#ff33ff" stroke-width="1.3" fill="none"/>
<line x1="41.3" y1="528.5" x2="66" y2="528.5" stroke="#000" stroke-width="1.5"/>
<text x="68.6" y="532.1" font-size="10.4" text-anchor="start" fill="#1e1e1e" textLength="32" lengthAdjust="spacingAndGlyphs">MFGM</text>
<line x1="41.3" y1="541.4" x2="66" y2="541.4" stroke="#ff1f1f" stroke-width="1.5"/>
<text x="68.6" y="545" font-size="10.4" text-anchor="start" fill="#1e1e1e" textLength="94.5" lengthAdjust="spacingAndGlyphs">MFGM-0.2 mM SDS</text>
<line x1="41.3" y1="554.2" x2="66" y2="554.2" stroke="#1f1fff" stroke-width="1.5"/>
<text x="68.6" y="557.8" font-size="10.4" text-anchor="start" fill="#1e1e1e" textLength="94.5" lengthAdjust="spacingAndGlyphs">MFGM-0.4 mM SDS</text>
<line x1="41.3" y1="567" x2="66" y2="567" stroke="#ff33ff" stroke-width="1.5"/>
<text x="68.6" y="570.6" font-size="10.4" text-anchor="start" fill="#1e1e1e" textLength="94.5" lengthAdjust="spacingAndGlyphs">MFGM-0.6 mM SDS</text>
<line x1="41.3" y1="579.9" x2="66" y2="579.9" stroke="#33962d" stroke-width="1.5"/>
<text x="68.6" y="583.5" font-size="10.4" text-anchor="start" fill="#1e1e1e" textLength="94.5" lengthAdjust="spacingAndGlyphs">MFGM-0.8 mM SDS</text>
<line x1="41.3" y1="592.8" x2="66" y2="592.8" stroke="#f0882e" stroke-width="1.5"/>
<text x="68.6" y="596.4" font-size="10.4" text-anchor="start" fill="#1e1e1e" textLength="85" lengthAdjust="spacingAndGlyphs">MFGM-1 mM SDS</text>
<line x1="37.2" y1="426.6" x2="227.4" y2="426.6" stroke="#5a5a5a" stroke-width="1"/>
<line x1="227.4" y1="426.6" x2="227.4" y2="602.6" stroke="#5a5a5a" stroke-width="1"/>
<line x1="37.2" y1="426.6" x2="37.2" y2="602.6" stroke="#222" stroke-width="1.1"/>
<line x1="36.7" y1="602.6" x2="227.4" y2="602.6" stroke="#222" stroke-width="1.1"/>
<line x1="33.2" y1="602.3" x2="37.2" y2="602.3" stroke="#222" stroke-width="0.8"/>
<line x1="34.9" y1="593.4" x2="37.2" y2="593.4" stroke="#222" stroke-width="0.8"/>
<line x1="34.9" y1="588.3" x2="37.2" y2="588.3" stroke="#222" stroke-width="0.8"/>
<line x1="34.9" y1="584.6" x2="37.2" y2="584.6" stroke="#222" stroke-width="0.8"/>
<line x1="34.9" y1="581.8" x2="37.2" y2="581.8" stroke="#222" stroke-width="0.8"/>
<line x1="34.9" y1="579.4" x2="37.2" y2="579.4" stroke="#222" stroke-width="0.8"/>
<line x1="34.9" y1="577.5" x2="37.2" y2="577.5" stroke="#222" stroke-width="0.8"/>
<line x1="34.9" y1="575.7" x2="37.2" y2="575.7" stroke="#222" stroke-width="0.8"/>
<line x1="34.9" y1="574.2" x2="37.2" y2="574.2" stroke="#222" stroke-width="0.8"/>
<line x1="33.2" y1="572.9" x2="37.2" y2="572.9" stroke="#222" stroke-width="0.8"/>
<line x1="34.9" y1="564" x2="37.2" y2="564" stroke="#222" stroke-width="0.8"/>
<line x1="34.9" y1="558.9" x2="37.2" y2="558.9" stroke="#222" stroke-width="0.8"/>
<line x1="34.9" y1="555.2" x2="37.2" y2="555.2" stroke="#222" stroke-width="0.8"/>
<line x1="34.9" y1="552.4" x2="37.2" y2="552.4" stroke="#222" stroke-width="0.8"/>
<line x1="34.9" y1="550" x2="37.2" y2="550" stroke="#222" stroke-width="0.8"/>
<line x1="34.9" y1="548.1" x2="37.2" y2="548.1" stroke="#222" stroke-width="0.8"/>
<line x1="34.9" y1="546.3" x2="37.2" y2="546.3" stroke="#222" stroke-width="0.8"/>
<line x1="34.9" y1="544.8" x2="37.2" y2="544.8" stroke="#222" stroke-width="0.8"/>
<line x1="33.2" y1="543.5" x2="37.2" y2="543.5" stroke="#222" stroke-width="0.8"/>
<line x1="34.9" y1="534.6" x2="37.2" y2="534.6" stroke="#222" stroke-width="0.8"/>
<line x1="34.9" y1="529.5" x2="37.2" y2="529.5" stroke="#222" stroke-width="0.8"/>
<line x1="34.9" y1="525.8" x2="37.2" y2="525.8" stroke="#222" stroke-width="0.8"/>
<line x1="34.9" y1="523" x2="37.2" y2="523" stroke="#222" stroke-width="0.8"/>
<line x1="34.9" y1="520.6" x2="37.2" y2="520.6" stroke="#222" stroke-width="0.8"/>
<line x1="34.9" y1="518.7" x2="37.2" y2="518.7" stroke="#222" stroke-width="0.8"/>
<line x1="34.9" y1="516.9" x2="37.2" y2="516.9" stroke="#222" stroke-width="0.8"/>
<line x1="34.9" y1="515.4" x2="37.2" y2="515.4" stroke="#222" stroke-width="0.8"/>
<line x1="33.2" y1="514.1" x2="37.2" y2="514.1" stroke="#222" stroke-width="0.8"/>
<line x1="34.9" y1="505.2" x2="37.2" y2="505.2" stroke="#222" stroke-width="0.8"/>
<line x1="34.9" y1="500.1" x2="37.2" y2="500.1" stroke="#222" stroke-width="0.8"/>
<line x1="34.9" y1="496.4" x2="37.2" y2="496.4" stroke="#222" stroke-width="0.8"/>
<line x1="34.9" y1="493.6" x2="37.2" y2="493.6" stroke="#222" stroke-width="0.8"/>
<line x1="34.9" y1="491.2" x2="37.2" y2="491.2" stroke="#222" stroke-width="0.8"/>
<line x1="34.9" y1="489.3" x2="37.2" y2="489.3" stroke="#222" stroke-width="0.8"/>
<line x1="34.9" y1="487.5" x2="37.2" y2="487.5" stroke="#222" stroke-width="0.8"/>
<line x1="34.9" y1="486" x2="37.2" y2="486" stroke="#222" stroke-width="0.8"/>
<line x1="33.2" y1="484.7" x2="37.2" y2="484.7" stroke="#222" stroke-width="0.8"/>
<line x1="34.9" y1="475.8" x2="37.2" y2="475.8" stroke="#222" stroke-width="0.8"/>
<line x1="34.9" y1="470.7" x2="37.2" y2="470.7" stroke="#222" stroke-width="0.8"/>
<line x1="34.9" y1="467" x2="37.2" y2="467" stroke="#222" stroke-width="0.8"/>
<line x1="34.9" y1="464.2" x2="37.2" y2="464.2" stroke="#222" stroke-width="0.8"/>
<line x1="34.9" y1="461.8" x2="37.2" y2="461.8" stroke="#222" stroke-width="0.8"/>
<line x1="34.9" y1="459.9" x2="37.2" y2="459.9" stroke="#222" stroke-width="0.8"/>
<line x1="34.9" y1="458.1" x2="37.2" y2="458.1" stroke="#222" stroke-width="0.8"/>
<line x1="34.9" y1="456.6" x2="37.2" y2="456.6" stroke="#222" stroke-width="0.8"/>
<line x1="33.2" y1="455.3" x2="37.2" y2="455.3" stroke="#222" stroke-width="0.8"/>
<line x1="34.9" y1="446.4" x2="37.2" y2="446.4" stroke="#222" stroke-width="0.8"/>
<line x1="34.9" y1="441.3" x2="37.2" y2="441.3" stroke="#222" stroke-width="0.8"/>
<line x1="34.9" y1="437.6" x2="37.2" y2="437.6" stroke="#222" stroke-width="0.8"/>
<line x1="34.9" y1="434.8" x2="37.2" y2="434.8" stroke="#222" stroke-width="0.8"/>
<line x1="34.9" y1="432.4" x2="37.2" y2="432.4" stroke="#222" stroke-width="0.8"/>
<line x1="34.9" y1="430.5" x2="37.2" y2="430.5" stroke="#222" stroke-width="0.8"/>
<line x1="34.9" y1="428.7" x2="37.2" y2="428.7" stroke="#222" stroke-width="0.8"/>
<line x1="34.9" y1="427.2" x2="37.2" y2="427.2" stroke="#222" stroke-width="0.8"/>
<line x1="40.5" y1="602.6" x2="40.5" y2="604.9" stroke="#222" stroke-width="0.8"/>
<line x1="47.1" y1="602.6" x2="47.1" y2="604.9" stroke="#222" stroke-width="0.8"/>
<line x1="52.8" y1="602.6" x2="52.8" y2="604.9" stroke="#222" stroke-width="0.8"/>
<line x1="57.9" y1="602.6" x2="57.9" y2="604.9" stroke="#222" stroke-width="0.8"/>
<line x1="62.4" y1="602.6" x2="62.4" y2="606.6" stroke="#222" stroke-width="0.8"/>
<line x1="92.1" y1="602.6" x2="92.1" y2="604.9" stroke="#222" stroke-width="0.8"/>
<line x1="109.5" y1="602.6" x2="109.5" y2="604.9" stroke="#222" stroke-width="0.8"/>
<line x1="121.9" y1="602.6" x2="121.9" y2="604.9" stroke="#222" stroke-width="0.8"/>
<line x1="131.5" y1="602.6" x2="131.5" y2="604.9" stroke="#222" stroke-width="0.8"/>
<line x1="139.3" y1="602.6" x2="139.3" y2="604.9" stroke="#222" stroke-width="0.8"/>
<line x1="145.9" y1="602.6" x2="145.9" y2="604.9" stroke="#222" stroke-width="0.8"/>
<line x1="151.6" y1="602.6" x2="151.6" y2="604.9" stroke="#222" stroke-width="0.8"/>
<line x1="156.7" y1="602.6" x2="156.7" y2="604.9" stroke="#222" stroke-width="0.8"/>
<line x1="161.2" y1="602.6" x2="161.2" y2="606.6" stroke="#222" stroke-width="0.8"/>
<line x1="190.9" y1="602.6" x2="190.9" y2="604.9" stroke="#222" stroke-width="0.8"/>
<line x1="208.3" y1="602.6" x2="208.3" y2="604.9" stroke="#222" stroke-width="0.8"/>
<line x1="220.7" y1="602.6" x2="220.7" y2="604.9" stroke="#222" stroke-width="0.8"/>
<text x="22.8" y="436.5" font-size="13.6" text-anchor="middle" fill="#1e1e1e">G</text>
<text x="15.5" y="459.9" font-size="13.6" text-anchor="middle" fill="#1e1e1e">1000</text>
<text x="16.3" y="607.2" font-size="13.6" text-anchor="middle" fill="#1e1e1e">0.01</text>
<text x="62.4" y="619.6" font-size="13.6" text-anchor="middle" fill="#1e1e1e">0.01</text>
<text x="161.2" y="619.6" font-size="13.6" text-anchor="middle" fill="#1e1e1e">0.1</text>
<text x="24.5" y="517.6" font-size="13" text-anchor="middle" fill="#1e1e1e" transform="rotate(-90 24.5 517.6)">Log <tspan font-style="italic">I</tspan>(<tspan font-style="italic">q</tspan>) (a.u.)</text>
<text x="124" y="631.6" font-size="13" text-anchor="middle" fill="#1e1e1e"><tspan font-style="italic">q</tspan> (Å<tspan dy="-5" font-size="8.5">-1</tspan><tspan dy="5">)</tspan></text>
<line x1="256.5" y1="573.4" x2="447.6" y2="573.4" stroke="#111" stroke-width="1.1"/>
<path d="M256.5 569.6V577.1M260.6 567.7V575.2M264.6 561.9V569.4M268.7 553.1V560.6M272.8 542.1V549.6M276.8 529.7V537.2M280.9 516.8V524.3M285 503.8V511.3M289 491.3V498.8M293.1 479.7V487.2M297.2 469.3V476.8M301.2 460.3V467.8M305.3 452.9V460.4M309.4 447.2V454.7M313.4 443.1V450.6M317.5 440.7V448.2M321.6 439.9V447.4M325.6 440.7V448.2M329.7 442.9V450.4M333.8 446.3V453.8M337.8 450.9V458.4M341.9 456.5V464M346 462.9V470.4M350.1 469.9V477.4M354.1 477.4V484.9M358.2 485.2V492.7M362.3 493.2V500.7M366.3 501.2V508.7M370.4 509.1V516.6M374.5 516.8V524.3M378.5 524.2V531.7M382.6 531.1V538.6M386.7 537.6V545.1M390.7 543.5V551M394.8 548.8V556.3M398.9 553.5V561M402.9 557.5V565M407 560.9V568.4M411.1 563.7V571.2M415.1 565.8V573.3M419.2 567.4V574.9M423.3 568.5V576M427.3 569.2V576.7M431.4 569.5V577M435.5 569.6V577.1" stroke="#000" stroke-width="0.6" fill="none" opacity="0.55"/>
<polyline points="256.5,573.4 258.5,572.9 260.6,571.4 262.6,569 264.6,565.7 266.7,561.6 268.7,556.8 270.7,551.6 272.8,545.8 274.8,539.8 276.8,533.5 278.9,527 280.9,520.5 282.9,514 285,507.5 287,501.2 289,495 291.1,489.1 293.1,483.4 295.1,478.1 297.2,473 299.2,468.4 301.2,464.1 303.3,460.2 305.3,456.7 307.3,453.6 309.4,450.9 311.4,448.7 313.4,446.9 315.5,445.5 317.5,444.5 319.5,443.9 321.6,443.7 323.6,443.9 325.6,444.4 327.7,445.4 329.7,446.6 331.7,448.2 333.8,450.1 335.8,452.2 337.8,454.7 339.9,457.3 341.9,460.2 343.9,463.3 346,466.6 348,470 350.1,473.6 352.1,477.3 354.1,481.1 356.2,485 358.2,488.9 360.2,492.9 362.3,496.9 364.3,500.9 366.3,504.9 368.4,508.9 370.4,512.9 372.4,516.7 374.5,520.5 376.5,524.3 378.5,527.9 380.6,531.4 382.6,534.9 384.6,538.2 386.7,541.3 388.7,544.4 390.7,547.2 392.8,550 394.8,552.6 396.8,555 398.9,557.2 400.9,559.3 402.9,561.3 405,563.1 407,564.7 409,566.1 411.1,567.4 413.1,568.6 415.1,569.6 417.2,570.5 419.2,571.2 421.2,571.8 423.3,572.3 425.3,572.7 427.3,573 429.4,573.2 431.4,573.3 433.4,573.4 435.5,573.4 437.5,573.4" fill="none" stroke="#000" stroke-width="2.9" stroke-linejoin="round" stroke-linecap="round"/>
<polyline points="256.6,571.7 259.9,558.5 262.4,570 265.6,545.3 268.1,540 271.4,547.5" fill="none" stroke="#ff1f1f" stroke-width="1.8" stroke-linejoin="round" stroke-linecap="round"/>
<path d="M271.4 543.8V551.2M274.7 540.2V547.7M278.7 529.2V536.7M282.7 518V525.5M286.8 507.2V514.7M290.8 497.1V504.6M294.8 488.1V495.6M298.9 480.3V487.8M302.9 473.9V481.4M306.9 469V476.5M311 465.6V473.1M315 463.7V471.2M319 463.2V470.7M323.1 463.9V471.4M327.1 465.8V473.3M331.1 468.6V476.1M335.2 472.3V479.8M339.2 476.8V484.3M343.2 482V489.5M347.3 487.6V495.1M351.3 493.6V501.1M355.3 499.9V507.4M359.4 506.3V513.8M363.4 512.7V520.2M367.4 519.1V526.6M371.5 525.3V532.8M375.5 531.3V538.8M379.5 536.9V544.4M383.6 542.2V549.7M387.6 547.1V554.6M391.6 551.4V558.9M395.7 555.3V562.8M399.7 558.7V566.2M403.7 561.6V569.1M407.8 564V571.5M411.8 565.9V573.4M415.8 567.4V574.9M419.9 568.4V575.9M423.9 569.1V576.6M427.9 569.5V577M432 569.6V577.1M436 569.6V577.1" stroke="#ff1f1f" stroke-width="0.6" fill="none" opacity="0.55"/>
<polyline points="271.4,547.5 272.6,549.2 274.7,543.9 276.7,538.5 278.7,532.9 280.7,527.3 282.7,521.8 284.7,516.3 286.8,511 288.8,505.8 290.8,500.9 292.8,496.2 294.8,491.9 296.8,487.8 298.9,484.1 300.9,480.7 302.9,477.7 304.9,475 306.9,472.8 308.9,470.9 311,469.4 313,468.2 315,467.4 317,467 319,466.9 321,467.1 323.1,467.7 325.1,468.5 327.1,469.5 329.1,470.8 331.1,472.4 333.1,474.1 335.2,476.1 337.2,478.3 339.2,480.6 341.2,483.1 343.2,485.7 345.2,488.5 347.3,491.3 349.3,494.3 351.3,497.4 353.3,500.5 355.3,503.6 357.3,506.8 359.4,510 361.4,513.3 363.4,516.5 365.4,519.7 367.4,522.8 369.4,526 371.5,529.1 373.5,532.1 375.5,535 377.5,537.9 379.5,540.7 381.5,543.4 383.6,546 385.6,548.4 387.6,550.8 389.6,553.1 391.6,555.2 393.6,557.2 395.7,559.1 397.7,560.9 399.7,562.5 401.7,564 403.7,565.4 405.7,566.6 407.8,567.8 409.8,568.8 411.8,569.7 413.8,570.5 415.8,571.1 417.8,571.7 419.9,572.2 421.9,572.5 423.9,572.8 425.9,573.1 427.9,573.2 429.9,573.3 432,573.4 434,573.4 436,573.4" fill="none" stroke="#ff1f1f" stroke-width="2.9" stroke-linejoin="round" stroke-linecap="round"/>
<polyline points="256.6,571.7 259.9,558.5 262.4,570 265.6,545.3 268.1,540 271.4,547.5" fill="none" stroke="#1f1fff" stroke-width="1.8" stroke-linejoin="round" stroke-linecap="round"/>
<path d="M271.4 543.8V551.2M274.6 543.6V551.1M278.6 533.7V541.2M282.6 523.7V531.2M286.6 513.9V521.4M290.6 504.6V512.1M294.6 496.2V503.7M298.6 488.9V496.4M302.6 482.7V490.2M306.6 477.8V485.3M310.7 474.2V481.7M314.7 471.9V479.4M318.7 470.9V478.4M322.7 471.1V478.6M326.7 472.4V479.9M330.7 474.7V482.2M334.7 477.9V485.4M338.7 481.9V489.4M342.7 486.5V494M346.8 491.6V499.1M350.8 497.2V504.7M354.8 503V510.5M358.8 509V516.5M362.8 515.1V522.6M366.8 521.2V528.7M370.8 527.1V534.6M374.8 532.7V540.2M378.8 538.1V545.6M382.9 543.2V550.7M386.9 547.9V555.4M390.9 552.1V559.6M394.9 555.8V563.3M398.9 559.1V566.6M402.9 561.9V569.4M406.9 564.2V571.7M410.9 566V573.5M414.9 567.4V574.9M419 568.4V575.9M423 569.1V576.6M427 569.5V577M431 569.6V577.1M435 569.6V577.1" stroke="#1f1fff" stroke-width="0.6" fill="none" opacity="0.55"/>
<polyline points="271.4,547.5 272.5,552 274.6,547.3 276.6,542.5 278.6,537.5 280.6,532.5 282.6,527.4 284.6,522.5 286.6,517.6 288.6,512.9 290.6,508.4 292.6,504 294.6,500 296.6,496.1 298.6,492.6 300.6,489.4 302.6,486.4 304.6,483.8 306.6,481.5 308.6,479.6 310.7,478 312.7,476.7 314.7,475.7 316.7,475 318.7,474.7 320.7,474.6 322.7,474.9 324.7,475.4 326.7,476.2 328.7,477.2 330.7,478.5 332.7,479.9 334.7,481.6 336.7,483.5 338.7,485.6 340.7,487.9 342.7,490.2 344.7,492.8 346.8,495.4 348.8,498.1 350.8,500.9 352.8,503.8 354.8,506.8 356.8,509.8 358.8,512.8 360.8,515.8 362.8,518.9 364.8,521.9 366.8,524.9 368.8,527.9 370.8,530.8 372.8,533.7 374.8,536.5 376.8,539.2 378.8,541.9 380.8,544.5 382.9,546.9 384.9,549.3 386.9,551.6 388.9,553.8 390.9,555.8 392.9,557.8 394.9,559.6 396.9,561.3 398.9,562.9 400.9,564.3 402.9,565.6 404.9,566.9 406.9,567.9 408.9,568.9 410.9,569.8 412.9,570.5 414.9,571.2 416.9,571.7 419,572.2 421,572.6 423,572.9 425,573.1 427,573.2 429,573.3 431,573.4 433,573.4 435,573.4" fill="none" stroke="#1f1fff" stroke-width="2.9" stroke-linejoin="round" stroke-linecap="round"/>
<polyline points="256.6,571.7 259.9,558.5 262.4,570 265.6,545.3 268.1,540 271.4,547.5" fill="none" stroke="#ff33ff" stroke-width="1.8" stroke-linejoin="round" stroke-linecap="round"/>
<path d="M271.4 543.8V551.2M274.7 540.8V548.3M278.7 529.9V537.4M282.7 518.9V526.4M286.8 508.1V515.6M290.8 497.9V505.4M294.8 488.7V496.2M298.9 480.7V488.2M302.9 473.9V481.4M306.9 468.6V476.1M311 464.8V472.3M315 462.4V469.9M319 461.4V468.9M323.1 461.7V469.2M327.1 463.2V470.7M331.1 465.8V473.3M335.2 469.4V476.9M339.2 473.8V481.3M343.2 478.9V486.4M347.3 484.5V492M351.3 490.6V498.1M355.3 497V504.5M359.4 503.6V511.1M363.4 510.2V517.7M367.4 516.8V524.3M371.5 523.3V530.8M375.5 529.5V537M379.5 535.4V542.9M383.6 540.9V548.4M387.6 545.9V553.4M391.6 550.5V558M395.7 554.6V562.1M399.7 558.2V565.7M403.7 561.2V568.7M407.8 563.7V571.2M411.8 565.7V573.2M415.8 567.3V574.8M419.9 568.3V575.8M423.9 569.1V576.6M427.9 569.5V577M432 569.6V577.1M436 569.6V577.1" stroke="#ff33ff" stroke-width="0.6" fill="none" opacity="0.55"/>
<polyline points="271.4,547.5 272.6,549.7 274.7,544.6 276.7,539.2 278.7,533.7 280.7,528.2 282.7,522.6 284.7,517.2 286.8,511.8 288.8,506.6 290.8,501.7 292.8,496.9 294.8,492.4 296.8,488.3 298.9,484.4 300.9,480.9 302.9,477.7 304.9,474.9 306.9,472.4 308.9,470.3 311,468.5 313,467.2 315,466.1 317,465.5 319,465.1 321,465.1 323.1,465.5 325.1,466.1 327.1,467 329.1,468.1 331.1,469.6 333.1,471.2 335.2,473.1 337.2,475.2 339.2,477.5 341.2,480 343.2,482.6 345.2,485.4 347.3,488.3 349.3,491.3 351.3,494.4 353.3,497.5 355.3,500.8 357.3,504.1 359.4,507.4 361.4,510.7 363.4,514 365.4,517.3 367.4,520.6 369.4,523.8 371.5,527 373.5,530.2 375.5,533.2 377.5,536.2 379.5,539.1 381.5,541.9 383.6,544.6 385.6,547.2 387.6,549.7 389.6,552 391.6,554.3 393.6,556.4 395.7,558.4 397.7,560.2 399.7,561.9 401.7,563.5 403.7,565 405.7,566.3 407.8,567.5 409.8,568.5 411.8,569.5 413.8,570.3 415.8,571 417.8,571.6 419.9,572.1 421.9,572.5 423.9,572.8 425.9,573 427.9,573.2 429.9,573.3 432,573.4 434,573.4 436,573.4" fill="none" stroke="#ff33ff" stroke-width="2.9" stroke-linejoin="round" stroke-linecap="round"/>
<polyline points="256.6,571.7 259.9,558.5 262.4,570 265.6,545.3 268.1,540 271.4,547.5" fill="none" stroke="#33962d" stroke-width="1.8" stroke-linejoin="round" stroke-linecap="round"/>
<path d="M271.4 543.8V551.2M274.5 543.9V551.4M278.5 534.1V541.6M282.5 524.1V531.6M286.5 514.2V521.7M290.5 504.8V512.3M294.5 496.3V503.8M298.5 488.7V496.2M302.5 482.3V489.8M306.5 477.1V484.6M310.5 473.2V480.7M314.5 470.6V478.1M318.5 469.3V476.8M322.5 469.1V476.6M326.5 470.2V477.7M330.5 472.2V479.7M334.5 475.3V482.8M338.5 479.2V486.7M342.5 483.8V491.3M346.5 489V496.5M350.5 494.6V502.1M354.5 500.6V508.1M358.5 506.7V514.2M362.5 513V520.5M366.5 519.2V526.7M370.5 525.3V532.8M374.5 531.2V538.7M378.5 536.8V544.3M382.5 542V549.5M386.5 546.9V554.4M390.5 551.3V558.8M394.5 555.2V562.7M398.5 558.6V566.1M402.5 561.5V569M406.5 563.9V571.4M410.5 565.9V573.4M414.5 567.3V574.8M418.5 568.4V575.9M422.5 569.1V576.6M426.5 569.5V577M430.5 569.6V577.1M434.5 569.6V577.1" stroke="#33962d" stroke-width="0.6" fill="none" opacity="0.55"/>
<polyline points="271.4,547.5 272.5,552.3 274.5,547.7 276.5,542.8 278.5,537.9 280.5,532.8 282.5,527.8 284.5,522.8 286.5,517.9 288.5,513.2 290.5,508.6 292.5,504.2 294.5,500 296.5,496.1 298.5,492.5 300.5,489.1 302.5,486.1 304.5,483.3 306.5,480.9 308.5,478.8 310.5,477 312.5,475.5 314.5,474.4 316.5,473.5 318.5,473 320.5,472.8 322.5,472.9 324.5,473.3 326.5,473.9 328.5,474.8 330.5,476 332.5,477.4 334.5,479.1 336.5,480.9 338.5,482.9 340.5,485.2 342.5,487.5 344.5,490.1 346.5,492.7 348.5,495.5 350.5,498.4 352.5,501.3 354.5,504.3 356.5,507.4 358.5,510.5 360.5,513.6 362.5,516.7 364.5,519.8 366.5,522.9 368.5,526 370.5,529 372.5,532 374.5,534.9 376.5,537.8 378.5,540.5 380.5,543.2 382.5,545.8 384.5,548.3 386.5,550.6 388.5,552.9 390.5,555 392.5,557.1 394.5,559 396.5,560.7 398.5,562.4 400.5,563.9 402.5,565.3 404.5,566.6 406.5,567.7 408.5,568.7 410.5,569.6 412.5,570.4 414.5,571.1 416.5,571.7 418.5,572.1 420.5,572.5 422.5,572.8 424.5,573.1 426.5,573.2 428.5,573.3 430.5,573.4 432.5,573.4 434.5,573.4" fill="none" stroke="#33962d" stroke-width="2.9" stroke-linejoin="round" stroke-linecap="round"/>
<polyline points="256.6,572.5 257.4,553.6 259.9,556.9 261.5,588.2 264,575 266.5,535.4 269,545.3 271.4,556.9 273.9,555.2 276.4,549.5 283,539" fill="none" stroke="#f0882e" stroke-width="1.8" stroke-linejoin="round" stroke-linecap="round"/>
<path d="M283 535.2V542.8M286.1 529V536.5M290 522V529.5M294 515.5V523M297.9 509.7V517.2M301.9 504.8V512.3M305.8 500.7V508.2M309.7 497.5V505M313.7 495.3V502.8M317.6 494V501.5M321.6 493.5V501M325.5 494V501.5M329.5 495.3V502.8M333.4 497.4V504.9M337.3 500.2V507.7M341.3 503.6V511.1M345.2 507.4V514.9M349.2 511.6V519.1M353.1 516.1V523.6M357.1 520.8V528.3M361 525.6V533.1M365 530.4V537.9M368.9 535.1V542.6M372.8 539.7V547.2M376.8 544V551.5M380.7 548.1V555.6M384.7 551.9V559.4M388.6 555.3V562.8M392.6 558.3V565.8M396.5 561V568.5M400.4 563.3V570.8M404.4 565.2V572.7M408.3 566.7V574.2M412.3 567.8V575.3M416.2 568.7V576.2M420.2 569.2V576.7M424.1 569.5V577M428.1 569.6V577.1M432 569.6V577.1" stroke="#f0882e" stroke-width="0.6" fill="none" opacity="0.55"/>
<polyline points="283,539 284.1,536.4 286.1,532.7 288.1,529.2 290,525.7 292,522.4 294,519.3 295.9,516.3 297.9,513.5 299.9,510.9 301.9,508.5 303.8,506.4 305.8,504.5 307.8,502.8 309.7,501.3 311.7,500.1 313.7,499 315.7,498.3 317.6,497.7 319.6,497.4 321.6,497.3 323.5,497.4 325.5,497.8 327.5,498.3 329.5,499.1 331.4,500 333.4,501.2 335.4,502.5 337.3,503.9 339.3,505.6 341.3,507.3 343.3,509.2 345.2,511.2 347.2,513.2 349.2,515.4 351.2,517.6 353.1,519.9 355.1,522.2 357.1,524.6 359,527 361,529.4 363,531.8 365,534.1 366.9,536.5 368.9,538.8 370.9,541.2 372.8,543.4 374.8,545.6 376.8,547.8 378.8,549.8 380.7,551.8 382.7,553.8 384.7,555.6 386.6,557.4 388.6,559 390.6,560.6 392.6,562.1 394.5,563.5 396.5,564.8 398.5,565.9 400.4,567 402.4,568 404.4,568.9 406.4,569.7 408.3,570.4 410.3,571.1 412.3,571.6 414.3,572 416.2,572.4 418.2,572.7 420.2,573 422.1,573.1 424.1,573.3 426.1,573.3 428.1,573.4 430,573.4 432,573.4" fill="none" stroke="#f0882e" stroke-width="2.9" stroke-linejoin="round" stroke-linecap="round"/>
<line x1="256.5" y1="426.3" x2="447.6" y2="426.3" stroke="#5a5a5a" stroke-width="1"/>
<line x1="447.6" y1="426.3" x2="447.6" y2="602.8" stroke="#5a5a5a" stroke-width="1"/>
<line x1="256.5" y1="426.3" x2="256.5" y2="602.8" stroke="#222" stroke-width="1.1"/>
<line x1="256" y1="602.8" x2="447.6" y2="602.8" stroke="#222" stroke-width="1.1"/>
<line x1="252.5" y1="456" x2="256.5" y2="456" stroke="#222" stroke-width="0.9"/>
<line x1="252.5" y1="514.7" x2="256.5" y2="514.7" stroke="#222" stroke-width="0.9"/>
<line x1="252.5" y1="573.4" x2="256.5" y2="573.4" stroke="#222" stroke-width="0.9"/>
<line x1="256.5" y1="602.8" x2="256.5" y2="606.8" stroke="#222" stroke-width="0.9"/>
<line x1="304.2" y1="602.8" x2="304.2" y2="606.8" stroke="#222" stroke-width="0.9"/>
<line x1="352" y1="602.8" x2="352" y2="606.8" stroke="#222" stroke-width="0.9"/>
<line x1="399.8" y1="602.8" x2="399.8" y2="606.8" stroke="#222" stroke-width="0.9"/>
<line x1="447.5" y1="602.8" x2="447.5" y2="606.8" stroke="#222" stroke-width="0.9"/>
<line x1="280.4" y1="602.8" x2="280.4" y2="605.3" stroke="#222" stroke-width="0.9"/>
<line x1="328.1" y1="602.8" x2="328.1" y2="605.3" stroke="#222" stroke-width="0.9"/>
<line x1="375.9" y1="602.8" x2="375.9" y2="605.3" stroke="#222" stroke-width="0.9"/>
<line x1="423.6" y1="602.8" x2="423.6" y2="605.3" stroke="#222" stroke-width="0.9"/>
<text x="239.3" y="437" font-size="13.6" text-anchor="middle" fill="#1e1e1e">H</text>
<text x="238" y="460.5" font-size="13.6" text-anchor="middle" fill="#1e1e1e">0.8</text>
<text x="238" y="577.9" font-size="13.6" text-anchor="middle" fill="#1e1e1e">0.0</text>
<text x="256.5" y="620" font-size="13.6" text-anchor="middle" fill="#1e1e1e">0</text>
<text x="304.2" y="620" font-size="13.6" text-anchor="middle" fill="#1e1e1e">200</text>
<text x="352" y="620" font-size="13.6" text-anchor="middle" fill="#1e1e1e">400</text>
<text x="399.8" y="620" font-size="13.6" text-anchor="middle" fill="#1e1e1e">600</text>
<text x="447.5" y="620" font-size="13.6" text-anchor="middle" fill="#1e1e1e">800</text>
<text x="247.5" y="508" font-size="13" text-anchor="middle" fill="#1e1e1e" transform="rotate(-90 247.5 508)"><tspan font-style="italic">p</tspan>(r)</text>
<text x="349" y="632" font-size="13" text-anchor="middle" fill="#1e1e1e"><tspan font-style="italic">r</tspan>(Å)</text>
<clipPath id="clipI"><rect x="479.4" y="426.6" width="190.9" height="175.8"/></clipPath>
<g clip-path="url(#clipI)">
<polyline points="479.6,512 481.1,545.3 482.5,568.4 484,577 485.5,581 487,583 488.4,583.4 489.9,583.6 491.4,583.8 492.8,583.9 494.3,584 495.8,584 497.3,584 498.7,583.9 500.2,583.8 501.7,583.7 503.1,583.6 504.6,583.5 506.1,583.4 507.6,583.3 509,583.2 510.5,583.1 512,583.1 513.4,583 514.9,583 516.4,583 517.9,583 519.3,583.1 520.8,583.1 522.3,583.2 523.7,583.2 525.2,583.3 526.7,583.4 528.2,583.5 529.6,583.6 531.1,583.7 532.6,583.8 534,583.9 535.5,584 537,584.2 538.5,584.4 539.9,584.6 541.4,584.8 542.9,585.1 544.3,585.3 545.8,585.6 547.3,585.8 548.8,586.1 550.2,586.3 551.7,586.6 553.2,586.8 554.6,587 556.1,587.1 557.6,587.3 559.1,587.4 560.5,587.6 562,587.8 563.5,587.9 565,588.1 566.4,588.2 567.9,588.3 569.4,588.4 570.8,588.5 572.3,588.6 573.8,588.6 575.3,588.6 576.7,588.6 578.2,588.6 579.7,588.6 581.1,588.5 582.6,588.5 584.1,588.4 585.6,588.4 587,588.3 588.5,588.3 590,588.2 591.4,588.1 592.9,588.1 594.4,588 595.9,588 597.3,587.9 598.8,587.8 600.3,587.7 601.7,587.7 603.2,587.6 604.7,587.5 606.2,587.4 607.6,587.3 609.1,587.2 610.6,587.1 612,587 613.5,586.9 615,586.8 616.5,586.7 617.9,586.5 619.4,586.4 620.9,586.3 622.3,586.2 623.8,586.1 625.3,586.1 626.8,586 628.2,586 629.7,586 631.2,586 632.6,586 634.1,586 635.6,586 637.1,586 638.5,586 640,586" fill="none" stroke="#000" stroke-width="1.8" stroke-linejoin="round" stroke-linecap="round"/>
<path d="M480 571V573.9M481 571.5V575.1M481.7 572V575.5M482.5 573V575.9M483.4 574.9V577.6M484.6 578.3V581.3M485.3 578.7V581.4M486.2 580.3V583M486.8 580V582.2M487.8 579.9V582.4M488.5 580.2V583.4M489.8 579.9V583.3M490.6 579.3V583.5M491.9 578.9V581.3M492.5 579.1V581.7M493.3 578.1V581.2M493.8 578.2V579.9M494.8 577.2V580.3M495.7 576.1V579.1M496.1 575.7V578.9M497.2 575.6V578.8M498 574.5V577M499 573.9V576.9M499.4 575.1V577M500.6 574.6V577.3M501.7 574.5V577.6M502.7 574.5V577.1M503.2 574.1V577.9M503.8 575.5V577.2M504.6 575.4V578.8M505.7 576.4V579.3M507 575.9V579.5M508 576.7V579.7M509.4 578.9V581.2M510 578.8V582.3M510.6 580.1V583.3M511.8 580.8V583.7M512.9 581V584.4M513.9 581.6V584.7M514.7 581V584.2M515.5 582V584.4M516.4 581.8V584M517.3 581.7V584.5M518.4 580.9V584.4M519.4 582.2V584M520.2 581.5V584M521.1 581.2V584.8M522.3 581.4V584.8M523.3 582.1V584.5M524.3 581.7V584.7M525 580.7V584.7M525.8 580.7V583.6M526.4 580.5V583.3M527.5 580.5V583.7M528.1 581.5V583.4M528.9 580.6V583M529.6 580.7V582.6M530.3 579.1V583.1M531.2 578.5V581.8M532.2 577.5V580.6M532.9 576.4V578.6M533.7 574.4V576.9M534.9 572V575.6M535.9 571V573.1M536.4 569.3V572.1M537.2 567V570.5M538.4 565.8V568M539.2 564.4V567.1M539.7 563.2V567M540.2 562.1V565.3M540.7 561.3V565.3M541.8 559.5V563.3M543 558.1V560.9M543.5 557V560.9M544.8 555.1V558.6M545.9 554.9V558.2M546.5 554.9V556.6M547.1 554.1V556.5M548.2 552.7V556.2M548.8 553.1V554.9M549.8 552.4V554M550.5 551.1V554.2M551.1 551.9V554.5M552.2 551.4V555.1M553.1 552.3V554.3M553.5 551.8V554.6M554.3 552.4V554.4M555.1 553.1V554.9M556.3 553.6V556.3M557.1 553.8V557.2M558 553.4V556.5M558.9 555V557.9M559.4 555.3V558.4M560.3 555.5V558.1M561.6 555.9V559.4M562.5 558V560.2M563.1 558V560.8M564.3 559.2V562.8M565.4 561.1V563.5M566.1 561.6V563.7M567.3 562.1V566.4M567.8 564.1V566.3M569 564.4V567.7M569.5 565.8V568.6M570.4 565.9V568.7M571.2 566.8V568.9M571.8 567.7V569.5M572.7 567.8V571.6M573.8 568.7V571.7M574.8 570.6V572.6M575.5 570.6V574.3M575.9 571.6V573.9M577 571.5V574.4M577.4 571.7V574.6M578.2 573.3V575.2M579.3 573.6V576.3M580 573.4V577.5M580.5 573.8V576.7M581.1 574.6V577.6M582 575.6V578.6M583.1 575.3V579M584.5 575.8V578.7M585.5 575.9V578.4M586.5 576.7V579.7M587.1 577.5V579.7M587.8 576.6V580.6M588.7 576.7V579.8M589.4 577.8V580.2M589.9 577.7V580.5M591.2 578.1V580.4M592.5 577.8V580.4M593.1 578.6V581.6M593.8 577.8V581.6M595 578V581.7M595.9 578V581.1M596.9 578.7V581.3M597.8 579.3V581.9M598.4 578.5V581.9M599.7 578.8V582.2M600.6 578.5V582.2M601.9 578.3V582.6M602.4 579.7V582.7M603.6 579.5V583M604.1 579.1V581.9M605.3 579.7V582.3M606.5 578.7V583.5M607.4 579.8V582.6M608.4 579V584.2M609.3 579.2V583.6M610.1 579.4V583M610.9 578V583.3M612 579.5V583.8M613.3 578.8V583.8M613.9 578.3V583.9M615 578.5V584.4M615.7 580.9V585.7M616.3 579.3V583.8M616.8 579.1V584.6M617.3 581V584.7M618.6 581V584.8M619.2 580.6V585.5M620.1 580.6V586.7M621.2 580.2V585.3M621.8 580.2V587.1M622.4 579.6V587.6M623.3 581.1V589.1M624.4 580.6V588.7M625.3 581.8V588.7M626.5 581.7V587.5M627.2 581.1V588.3M627.8 583.6V590.5M628.9 581.2V590.6M630.1 584.2V591.3M631 582.7V592.9M631.5 581.8V592.1M632.1 584.2V592.6M633.3 583.4V593.3M634.5 586.4V595.3M635 585.2V592.1M636.3 588.3V596.5M637.3 587V594.9M638.3 587.6V597.4M639 590.1V597.3M640.1 590.9V599.7M641.1 592.6V597.3M642 588.9V598.1M643.2 591.5V602M644 592.8V605.4M644.5 594.4V601.2M645 595.9V604.4M645.9 596.9V606.2M647.2 596.9V606.2" stroke="#ff1f1f" stroke-width="0.8" fill="none"/>
<polyline points="480,572 481.5,573.7 483.1,576.1 484.6,579.7 486.2,581.5 487.7,581.5 489.2,581.5 490.8,581.3 492.3,580.2 493.9,578.8 495.4,577.8 497,576.9 498.5,576.1 500,575.6 501.6,575.5 503.1,575.9 504.7,576.7 506.2,577.5 507.7,578.5 509.3,579.9 510.8,581.3 512.4,582.1 513.9,582.7 515.4,583 517,583 518.5,583 520.1,583 521.6,583 523.2,582.9 524.7,582.8 526.2,582.5 527.8,582.3 529.3,581.9 530.9,580.7 532.4,578.5 533.9,575.8 535.5,572.6 537,569.5 538.6,566.7 540.1,564.2 541.7,561.6 543.2,559.2 544.7,557.3 546.3,555.8 547.8,554.5 549.4,553.4 550.9,553 552.4,553.1 554,553.6 555.5,554.2 557.1,555 558.6,555.8 560.1,556.7 561.7,558.1 563.2,559.7 564.8,561.4 566.3,563.2 567.9,564.9 569.4,566.4 570.9,567.8 572.5,569.3 574,570.8 575.6,572.2 577.1,573.5 578.6,574.7 580.2,575.6 581.7,576.3 583.3,576.9 584.8,577.5 586.3,578 587.9,578.5 589.4,578.9 591,579.3 592.5,579.6 594.1,579.9 595.6,580.1 597.1,580.2 598.7,580.3 600.2,580.4 601.8,580.5 603.3,580.6 604.8,580.7 606.4,580.8 607.9,581 609.5,581.2 611,581.4 612.6,581.7 614.1,582 615.6,582.3 617.2,582.7 618.7,583 620.3,583.5 621.8,583.9 623.3,584.4 624.9,584.9 626.4,585.4 628,586 629.5,586.6 631,587.4 632.6,588.2 634.1,589.2 635.7,590.3 637.2,591.4 638.8,592.6 640.3,594 641.8,595.5 643.4,597.2 644.9,599 646.5,601 648,603" fill="none" stroke="#ff1f1f" stroke-width="4.6" stroke-linejoin="round" stroke-linecap="round"/>
<path d="M480 567.9V571.4M480.5 569V572.5M481.1 570.1V573M481.8 571.6V575.2M482.7 574.1V577.1M483.7 576.3V579.5M484.5 577.7V581M485.4 579.6V581.8M486.6 579.6V583.7M487.1 579.5V583.3M487.9 579.4V583.4M489 579.7V583.2M490.3 579.8V582.7M491 579.7V581.9M492 579.4V582.2M493.1 578.3V581.6M493.9 578V581M494.6 577V579.1M495.5 575.6V579M496.3 575.7V579.1M497.3 574.9V577.6M498.5 574V576.8M499.5 575V577.1M500.2 573.7V576.8M501.4 573.8V577.7M502.5 574.1V576.7M503.1 574.7V577.8M504.1 575.3V577.3M505.2 575.1V578.6M505.7 575.6V578.8M506.6 576.7V579.2M507.4 576.8V579.1M508.7 578.2V581.1M509.5 579.1V580.9M510.3 580V582.7M511.6 580.7V583.2M512.3 581.4V583.7M513.4 581.2V583.8M514.2 581.4V584.1M514.9 581.1V584.7M515.8 582.2V583.8M516.6 582.1V584M517.8 582.1V584M518.6 581V584.8M519.7 580.9V584.2M520.5 581.2V584M521.2 581.4V583.8M522.1 581V583M522.7 579.7V583.6M523.9 579.6V582.2M524.7 579.8V581.6M525.9 577.7V580.5M527 576.4V578.3M527.8 574.9V578.1M529 571.7V574.5M529.6 569.8V573.1M530.6 568V570.2M531.5 566.3V568.8M532.8 562.7V566.3M533.9 560.7V563.7M534.8 557.9V561.6M535.6 556.6V559.7M536.3 554.6V556.8M537.6 550.3V553.1M538.1 549.7V552.4M539.5 546.1V548.7M540.4 544.3V546.8M541.3 541.3V544.7M542.1 539.8V542.6M543.3 538.1V541.2M544 536.5V540.4M545.2 534.7V537.4M546 534.3V536.8M547.1 532.8V535.9M547.9 531.2V534.5M549.2 529.8V533.5M549.8 530.5V533.3M550.5 529.2V532.5M551.1 528.9V531.7M552.3 530V532M553.5 529.6V532.4M554 530.2V533.7M555.1 531.4V533.8M556.2 531.6V534.8M557.3 533.2V535.3M558.3 533.9V537.2M559.5 534.7V537.8M560.1 535.1V538.4M561.4 537.5V540.5M562.2 538.1V541.5M563.2 540.6V542.8M564.5 541.7V544.5M565 543.3V544.6M565.6 544.1V546.1M566.5 545V547.6M567.4 546.3V548.8M568.3 548V550.6M569.6 549.2V551.6M570.9 551.8V553.7M571.6 551.7V555.8M572 552.8V555.1M573.1 555.3V558M573.9 556.3V558.5M574.5 556.8V559.6M575 556.9V560.4M575.7 558.5V561.6M576.3 559.2V562M577.5 561.5V563.3M578.5 562.5V564.5M579.1 562.2V565.4M580 563.5V566M580.4 564.7V566.8M581.6 564.6V567.9M582.3 566.3V567.9M583.4 566.2V569.2M584.3 567.4V570.3M585.6 567.5V570.8M586.3 568.8V571.3M587 568.7V572.1M587.8 569.2V572.3M589 569.6V572.9M589.5 570.3V572.6M590 570.6V573.6M591.2 571.1V574M592.3 571.7V574.7M592.9 571.4V574.9M593.9 572V575.6M594.4 571.9V575.5M595.1 572.1V575.5M595.8 572.7V576.1M596.7 573.1V575.7M597.5 573.9V575.4M598.2 573.1V576.2M599.1 574.3V577.2M599.7 574V577.2M600.4 573.2V577.1M601 573.6V576.4M602.3 573.9V577.6M603.5 574.4V576.9M604.5 574.5V577.7M605.7 575V577.5M606.7 574.2V578.3M607.2 574.7V579.3M608.3 575.3V579.1M609.2 573.6V578.6M610.2 574.6V579.9M611.1 575.4V579M612.1 575.4V578.7M613.4 574.1V579M614.1 575.7V581.3M614.8 575.9V581M615.8 576.3V579.6M616.4 574.7V580.7M617.3 576.1V581M617.9 574.7V581.6M619 574.8V579.9M620 576.2V582.7M621.2 576.6V581.8M622.5 576.3V580.1M623.5 574.9V583.5M624.2 575.6V582M624.9 577.2V584M625.9 577.4V582.9M626.6 577.8V583.1M627.2 577.7V585.3M628.4 575.7V585.1M629.1 577.7V585.3M630.1 576.2V586.2M631 577.4V587M631.8 579.4V586.3M633.1 578.4V585.9M634.1 578.2V588.4M635.2 582.1V589.6M636.5 579.1V590.3M637 580.3V587.6M638.3 584V589.9M639.5 584V589.9M640.1 581.2V592.6M640.5 582.5V592.8M641.5 581.8V593.9M642.4 583.6V593.9M643 582.2V592.9M643.6 585.9V593M644.8 585.9V595.2M645.5 584.3V595.7M646.4 587.4V598.6M646.9 590.2V599.1M647.6 588.1V596.2M648.2 590.8V601.3M649.2 590.4V599.2M649.7 590.3V599.6M650.5 591.7V605.1M650.9 595.4V604.3M651.4 592.4V603.9M652.6 594V608M653.8 598.9V606.8" stroke="#1f1fff" stroke-width="0.8" fill="none"/>
<polyline points="480,570 481.6,573.2 483.2,576.5 484.8,580.2 486.4,581.5 488,581.5 489.6,581.5 491.2,581.1 492.8,579.8 494.4,578.4 496,577.5 497.6,576.6 499.2,575.9 500.8,575.5 502.3,575.7 503.9,576.3 505.5,577.2 507.1,578.1 508.7,579.4 510.3,580.9 511.9,582 513.5,582.5 515.1,582.9 516.7,583 518.3,582.8 519.9,582.5 521.5,582 523.1,581.4 524.7,580.6 526.3,578.6 527.9,575.7 529.5,572.2 531.1,568.4 532.7,564.7 534.3,561 535.9,556.9 537.5,552.6 539.1,548.4 540.7,544.7 542.3,541.5 543.9,538.5 545.4,536 547,534 548.6,532.3 550.2,531 551.8,530.6 553.4,531.2 555,532.3 556.6,533.7 558.2,535.3 559.8,536.8 561.4,538.7 563,541 564.6,543.4 566.2,545.9 567.8,548.3 569.4,550.5 571,552.8 572.6,555.2 574.2,557.6 575.8,560 577.4,562.1 579,564 580.6,565.6 582.2,566.9 583.8,568.1 585.4,569.2 587,570.2 588.6,571.2 590.1,572 591.7,572.8 593.3,573.4 594.9,574 596.5,574.4 598.1,574.8 599.7,575.2 601.3,575.5 602.9,575.8 604.5,576.1 606.1,576.4 607.7,576.6 609.3,576.8 610.9,577 612.5,577.2 614.1,577.4 615.7,577.6 617.3,577.8 618.9,578 620.5,578.3 622.1,578.6 623.7,578.9 625.3,579.3 626.9,579.9 628.5,580.6 630.1,581.3 631.7,582.2 633.2,583.1 634.8,584 636.4,585 638,586 639.6,587 641.2,588.1 642.8,589.3 644.4,590.5 646,592 647.6,593.6 649.2,595.5 650.8,598 652.4,600.9 654,604" fill="none" stroke="#1f1fff" stroke-width="4.6" stroke-linejoin="round" stroke-linecap="round"/>
<polygon points="596,564.8 596.9,564.7 597.8,564.7 598.7,564.6 599.6,564.5 600.6,564.5 601.5,564.4 602.4,564.3 603.3,564.3 604.2,564.2 605.1,564.1 606,564 606.9,563.9 607.8,563.8 608.8,563.7 609.7,563.5 610.6,563.4 611.5,563.3 612.4,563.1 613.3,563 614.2,562.9 615.1,562.7 616.1,562.6 617,562.5 617.9,562.5 618.8,562.4 619.7,562.4 620.6,562.4 621.5,562.5 622.4,562.5 623.3,562.7 624.3,562.8 625.2,563 626.1,563.2 627,563.4 627.9,563.6 628.8,563.9 629.7,564.2 630.6,564.5 631.5,564.8 632.5,565.1 633.4,565.4 634.3,565.8 635.2,566.2 636.1,566.5 637,566.9 637.9,567.3 638.8,567.7 639.7,568.1 640.7,568.5 641.6,568.9 642.5,569.3 643.4,569.7 644.3,570.2 645.2,570.7 646.1,571.3 647,572 647.9,572.7 648.9,573.5 649.8,574.3 650.7,575.3 651.6,576.4 652.5,577.6 653.4,578.9 654.3,580.4 655.2,582 656.2,583.8 657.1,585.7 658,587.6 658.9,589.6 659.8,591.7 660.7,593.7 661.6,595.6 662.5,597.5 663.4,599.3 664.4,600.9 665.3,602.4 666.2,603.7 667.1,604.9 668,606 652,606 651.3,604.9 650.6,603.9 649.9,602.8 649.2,601.8 648.5,600.8 647.7,599.8 647,598.8 646.3,597.8 645.6,596.9 644.9,596 644.2,595.1 643.5,594.2 642.8,593.3 642.1,592.4 641.4,591.6 640.7,590.8 639.9,589.9 639.2,589.1 638.5,588.4 637.8,587.6 637.1,586.8 636.4,586.1 635.7,585.4 635,584.7 634.3,584 633.6,583.3 632.9,582.6 632.2,582 631.4,581.4 630.7,580.8 630,580.2 629.3,579.6 628.6,579.1 627.9,578.5 627.2,578 626.5,577.5 625.8,577.1 625.1,576.6 624.4,576.2 623.6,575.8 622.9,575.4 622.2,575 621.5,574.7 620.8,574.3 620.1,574 619.4,573.8 618.7,573.5 618,573.3 617.3,573 616.6,572.8 615.8,572.7 615.1,572.5 614.4,572.3 613.7,572.2 613,572 612.3,571.9 611.6,571.8 610.9,571.6 610.2,571.5 609.5,571.4 608.8,571.3 608.1,571.2 607.3,571.1 606.6,571 605.9,570.9 605.2,570.8 604.5,570.7 603.8,570.6 603.1,570.5 602.4,570.4 601.7,570.3 601,570.2 600.3,570.1 599.5,570 598.8,569.9 598.1,569.8 597.4,569.7 596.7,569.6 596,569.5" fill="#ff33ff"/>
<path d="M480 562.7V565.7M480.6 564.6V569.3M481.7 569.7V573.2M482.4 572.8V575.6M482.9 574.6V577.8M483.9 576.1V579.8M484.8 578.5V582M486.1 580.1V582.5M487 579.4V582.5M488.1 579.2V583.1M489 580V583.4M490.1 578.8V582.2M491.4 579.5V581.3M491.9 578.4V581.4M493.1 578.1V581.2M493.6 577.3V580.1M494.7 576.2V578.6M495.6 576.2V578.9M496.9 575.6V577.9M497.8 575.1V577.3M499.1 574.4V577.1M500 573.3V577.3M500.8 573V577.3M501.9 573.6V576.2M503.1 574.4V576.3M503.7 575V577.2M504.6 574.3V577.2M505.8 575.6V577.7M507 575.9V579.3M507.5 576.9V579M508.3 577.4V580.6M508.9 577.4V581.3M509.6 577.7V582M510.8 578.7V581.8M511.7 580.5V582.5M512.8 580.4V582.5M513.2 580.1V583.7M514.4 580.8V584.2M515.7 581.5V583.8M516.9 580.4V584.1M518 579.8V583.8M518.7 580.3V583.1M519.4 579.9V582.4M519.9 580V582.2M520.7 579.6V582.7M521.2 578.1V581.8M521.9 578V582.4M522.8 577.2V580M523.6 576.7V580.3M524.4 575.3V578.3M525.3 574.1V576.5M526 572.2V575M526.5 571.1V574.5M527.2 568.1V572.6M528.4 564.9V567.8M529.6 562.5V566M530.1 560.6V563.9M530.7 559.4V562.6M531.2 557.4V560.5M532 554.9V559.6M533.2 551.6V555M534.2 548.6V551.7M535.3 546.2V549M536.6 540.7V545.2M537.1 539.5V542.4M537.9 536.9V539.9M539 534.6V538.2M539.9 531.3V535.8M541.1 528.5V531.3M541.7 528V530.5M542.3 525.9V528.6M542.9 524.5V526.9M544.1 521.7V523.7M545.4 519.3V522.5M546.1 517.4V520.8M547.4 516.1V518.5M548.2 515.6V518.5M549.1 513.7V517.7M549.8 514V516.8M550.3 514.3V517M550.9 513.7V516.1M551.7 512.2V515.6M552.7 512.3V516.3M553.7 511.8V515.5M554.1 512.5V514.8M555.4 513.4V516.2M556.4 514.4V516.7M557.2 513.7V517M558.4 515.3V519.1M559.5 516.8V520.7M560.4 518.1V520.2M561 518.4V521.8M561.5 519.7V522.5M561.9 520.5V522.9M563.3 521.4V525.5M563.9 522.3V525.9M564.7 524V527.6M565.2 524.9V528.9M565.7 526.9V530M566.7 528.3V530.6M567.8 529.9V533.3M568.8 531.9V534.7M569.7 534.7V537.4M570.4 536V538.6M571 536.2V539.4M572.1 538.6V542M573 539.2V543.1M573.5 541.1V543.5M574.4 542.2V545.5M575.4 544.5V547.5M576.5 545.3V549.1M576.9 546V549.6M578.2 548.3V551.9M579.2 548.6V552.7M580.4 551.1V554.3M581.6 552.5V556M582.5 553.9V556.7M583.3 554.5V557.2M584.5 555.6V558.8M585.5 557.3V560.7M586 557.2V560.6M587.2 558.6V563.1M588 561.1V562.7M589.1 560.9V565.3M590.2 563V566.4M591.1 563.2V565.9M592.3 564.6V567.4M593.4 565.1V568.4M594.7 564.6V567.7M595.8 564.7V569.3M596.8 566.2V568.1M597.8 565.3V569M598.2 566.3V569.5M598.7 566V568.6M599.5 565.2V569.7M600.3 566.7V568.6M600.7 566.1V569.7M601.6 566.6V568.7M602.1 565.8V569M603.3 565.9V569.3M604.3 567.1V569M605 567.1V570.2M605.8 566.5V569.7M607 566.4V569.8M608.1 567V569.9M609.2 565.8V569M609.9 566.5V569.9M611 567.2V568.9M611.8 565.7V570.1" stroke="#ff33ff" stroke-width="0.8" fill="none"/>
<polyline points="480,564 481.2,569.9 482.4,574.3 483.6,577.5 484.8,580 486.1,581 487.3,581 488.5,581 489.7,581 490.9,580.8 492.1,579.9 493.3,578.8 494.5,577.8 495.7,577.1 497,576.4 498.2,575.8 499.4,575.3 500.6,575 501.8,575.1 503,575.4 504.2,575.9 505.4,576.6 506.6,577.3 507.9,578.1 509.1,579.2 510.3,580.3 511.5,581.3 512.7,581.8 513.9,582.2 515.1,582.4 516.3,582.5 517.5,582.3 518.8,581.9 520,581.3 521.2,580.5 522.4,579.7 523.6,578.2 524.8,576 526,573.3 527.2,570.2 528.4,566.9 529.7,563.6 530.9,560.4 532.1,557.1 533.3,553.5 534.5,549.6 535.7,545.7 536.9,541.9 538.1,538.4 539.3,535.1 540.6,531.9 541.8,528.6 543,525.5 544.2,522.6 545.4,520.2 546.6,518.4 547.8,517.2 549,516.1 550.2,515.2 551.4,514.5 552.7,514.1 553.9,514 555.1,514.4 556.3,515.2 557.5,516.3 558.7,517.5 559.9,518.8 561.1,520.2 562.3,521.7 563.6,523.7 564.8,525.9 566,528.3 567.2,530.7 568.4,533.2 569.6,535.6 570.8,537.7 572,539.7 573.2,541.7 574.5,543.7 575.7,545.7 576.9,547.6 578.1,549.4 579.3,551.2 580.5,552.9 581.7,554.5 582.9,555.9 584.1,557.3 585.4,558.8 586.6,560.3 587.8,561.7 589,563 590.2,564.2 591.4,565.3 592.6,566.1 593.8,566.7 595,567 596.3,567.1 597.5,567.3 598.7,567.4 599.9,567.5 601.1,567.6 602.3,567.7 603.5,567.7 604.7,567.8 605.9,567.9 607.2,567.9 608.4,568 609.6,568 610.8,568 612,568" fill="none" stroke="#ff33ff" stroke-width="4.6" stroke-linejoin="round" stroke-linecap="round"/>
<polygon points="603,549.6 603.9,549.3 604.7,549 605.6,548.7 606.5,548.4 607.4,548.1 608.2,547.8 609.1,547.5 610,547.2 610.9,546.9 611.7,546.6 612.6,546.3 613.5,546 614.4,545.6 615.2,545.3 616.1,545 617,544.7 617.8,544.5 618.7,544.3 619.6,544.1 620.5,543.9 621.3,543.8 622.2,543.8 623.1,543.7 624,543.8 624.8,543.8 625.7,543.9 626.6,544.1 627.5,544.2 628.3,544.4 629.2,544.7 630.1,544.9 630.9,545.2 631.8,545.6 632.7,545.9 633.6,546.3 634.4,546.7 635.3,547.1 636.2,547.6 637.1,548.1 637.9,548.6 638.8,549.1 639.7,549.6 640.6,550.2 641.4,550.7 642.3,551.3 643.2,551.9 644.1,552.6 644.9,553.3 645.8,554 646.7,554.8 647.5,555.6 648.4,556.4 649.3,557.3 650.2,558.3 651,559.3 651.9,560.4 652.8,561.6 653.7,562.8 654.5,564.2 655.4,565.6 656.3,567 657.2,568.6 658,570.1 658.9,571.7 659.8,573.4 660.6,575 661.5,576.6 662.4,578.2 663.3,579.7 664.1,581.2 665,582.6 665.9,583.9 666.8,585.1 667.6,586.2 668.5,587.1 669.4,588 670.3,588.7 671.1,589.4 672,590 664,606 663.2,604.6 662.5,603 661.7,601.2 660.9,599.2 660.1,596.9 659.4,594.4 658.6,591.8 657.8,589.2 657.1,586.6 656.3,584 655.5,581.5 654.7,579.2 654,577.1 653.2,575.2 652.4,573.5 651.6,571.9 650.9,570.5 650.1,569.2 649.3,568.1 648.6,567.1 647.8,566.2 647,565.5 646.2,564.8 645.5,564.2 644.7,563.7 643.9,563.2 643.2,562.8 642.4,562.5 641.6,562.1 640.8,561.8 640.1,561.5 639.3,561.2 638.5,560.9 637.7,560.6 637,560.4 636.2,560.1 635.4,559.8 634.7,559.5 633.9,559.2 633.1,558.9 632.3,558.7 631.6,558.4 630.8,558.1 630,557.8 629.3,557.6 628.5,557.3 627.7,557.1 626.9,556.8 626.2,556.6 625.4,556.3 624.6,556.1 623.8,555.8 623.1,555.6 622.3,555.4 621.5,555.2 620.8,555 620,554.8 619.2,554.6 618.4,554.4 617.7,554.3 616.9,554.1 616.1,554 615.4,553.8 614.6,553.7 613.8,553.6 613,553.6 612.3,553.5 611.5,553.5 610.7,553.5 609.9,553.5 609.2,553.5 608.4,553.6 607.6,553.6 606.9,553.7 606.1,553.8 605.3,553.9 604.5,554 603.8,554.1 603,554.2" fill="#33962d"/>
<path d="M480 559.1V561.2M480.8 564.5V567.2M481.7 569.5V572.9M482.4 572.1V575.5M483.2 573.6V577.8M484 576.2V579.2M484.7 577.9V581.3M485.2 578.3V581.1M486.4 579.6V582M487.2 579.1V582.6M488.2 579.6V582.9M489.4 579.7V581.5M490.4 578V581.4M490.9 578.9V581.3M491.7 578.4V581.5M492.2 577.9V581.6M492.9 576.8V580.1M493.8 577.1V579.9M494.9 575.9V579.1M495.6 574.4V577.8M496.7 575.3V578.1M497.2 573.9V576.6M498.2 573.7V576.8M499.2 573.8V576.7M500 573.8V577M501.3 573.7V576.1M502.3 573.6V576.5M502.8 573.8V575.6M503.8 572.9V576.7M504.6 574.4V576.6M505.3 574.2V577.8M506 575V578.6M506.6 574.5V578.7M507.4 575V579.5M508 576V579.2M509.2 577.9V580.4M509.7 577.3V580.3M510.6 578.2V582.2M511.4 579.4V582.9M512.6 579.8V583.5M513.9 580.5V583.8M514.3 580.3V582.6M515.3 579.9V583.8M516.2 581.2V582.9M517.5 579.8V583.1M517.9 579.8V583.6M518.5 579.4V582.6M519.5 578.6V582.4M520.8 577.1V581M521.7 576.5V579.7M522.3 575.4V578.3M523.6 572.7V574.9M524 571.4V574.7M524.5 569.1V573.1M525.2 567.9V570.2M526.1 565.4V567.4M527 562.8V564.7M527.9 560.3V563.4M528.9 556.1V559.3M529.7 553V555.6M530.7 548.2V552M531.8 543.8V547.6M532.5 540.9V544.1M533.6 536.6V539.4M534.5 532.3V534.9M535 529.8V533.2M536.3 524.3V527.4M537.3 519.6V523.9M538.5 513.4V518M539.6 508.8V511.4M540.8 503.6V506.2M541.8 499.4V501.4M542.9 494.9V498.3M544 490.3V494M544.5 489.6V493.2M545.1 487V490.5M546.2 483.4V487.1M547.2 481.9V484M547.7 480.8V483.1M549 479.2V482.2M549.4 477.3V481.5M550.1 477.3V481M551.3 477.2V480.5M552.4 475.3V478.4M553.7 475.1V478.1M554.8 475.1V478.5M555.9 476.2V478.3M556.6 475.6V478.8M557.3 476.7V479.9M558.5 477.6V480.5M559.3 478.2V482.3M560.5 479.8V482.7M561.7 482V485.3M562.4 483.1V484.8M563.2 484.3V487.6M564.4 486.9V490.6M565.7 490.2V492.6M566.2 491.6V494.1M567.6 495V497.3M568.8 497.9V501.4M570 501.1V504.6M571 504.4V506M572.1 507.7V510.4M572.9 508.3V511.4M573.3 509.7V513M574.4 514.1V516.8M575 515.2V518.7M576 517.2V520.6M576.9 519.9V524M577.9 523.5V525.8M578.3 524.1V527.6M579.1 525.8V529.5M580.1 528.9V532.2M581.2 530V534.3M582.5 534.2V536M582.9 534.6V536.9M584 537.4V540.3M584.7 538V540.4M585.3 539.7V542.2M585.7 540.3V542.6M587 541.7V545M587.7 543.6V545.1M588.6 543.3V547.5M589.3 545.3V548.9M589.9 545.1V548.8M591 547V549.3M591.5 546.9V550.8M592.5 547.4V551.9M593.3 547.8V551.7M594.3 549.5V552.4M594.9 549.9V552.4M595.4 548.6V553.3M596.5 550.3V552.8M597.3 549.3V553.5M598 549.5V552.7M598.7 551V552.9M599.8 551.1V553.1M600.9 551.1V554.3M601.5 550V553.3M602.4 550.7V553.6M603.2 550.5V553.5M603.7 550.2V553M604.6 550.5V552.7M605.3 550V552.5M605.9 549.4V553.1M606.3 549.6V553.5M607.3 550.6V553.8M607.7 549.5V552.8M608.9 549.4V552.5M610 549.8V552.6M611.2 548.8V551.8M612 548.5V551.7M613 547.6V551.3M613.5 547.2V550.9" stroke="#33962d" stroke-width="0.8" fill="none"/>
<polyline points="480,560 481.2,568.2 482.5,573.9 483.7,577.2 484.9,579.7 486.1,580.5 487.4,580.5 488.6,580.5 489.8,580.5 491.1,580.2 492.3,579.3 493.5,578.1 494.8,577.1 496,576.5 497.2,575.8 498.4,575.1 499.7,574.7 500.9,574.5 502.1,574.6 503.4,575 504.6,575.6 505.8,576.3 507,577 508.3,577.9 509.5,579.1 510.7,580.2 512,581 513.2,581.4 514.4,581.8 515.7,582 516.9,581.9 518.1,581.3 519.3,580.5 520.6,579.5 521.8,577.6 523,575 524.3,571.9 525.5,568.4 526.7,564.8 527.9,561.1 529.2,556.7 530.4,551.8 531.6,546.6 532.9,541.3 534.1,535.9 535.3,530.6 536.6,525 537.8,519.1 539,513 540.2,507.2 541.5,501.8 542.7,497 543.9,492.9 545.2,488.8 546.4,485.1 547.6,482.1 548.8,480.1 550.1,479.1 551.3,478.2 552.5,477.5 553.8,477.1 555,477 556.2,477.5 557.4,478.3 558.7,479.4 559.9,480.8 561.1,482.2 562.4,484 563.6,486.4 564.8,489.2 566.1,492.3 567.3,495.6 568.5,498.8 569.7,501.9 571,505.2 572.2,508.7 573.4,512.2 574.7,515.8 575.9,519.1 577.1,522.3 578.3,525.4 579.6,528.4 580.8,531.4 582,534.2 583.3,536.8 584.5,539.2 585.7,541.2 587,543.1 588.2,545 589.4,546.7 590.6,548.2 591.9,549.3 593.1,550 594.3,550.5 595.6,551 596.8,551.4 598,551.7 599.2,551.9 600.5,552 601.7,552 602.9,551.9 604.2,551.9 605.4,551.7 606.6,551.5 607.9,551.3 609.1,551 610.3,550.6 611.5,550.1 612.8,549.6 614,549" fill="none" stroke="#33962d" stroke-width="4.6" stroke-linejoin="round" stroke-linecap="round"/>
<polygon points="610,534 610.8,533.8 611.6,533.6 612.4,533.4 613.1,533.2 613.9,533 614.7,532.8 615.5,532.6 616.3,532.4 617.1,532.3 617.8,532.1 618.6,532 619.4,531.8 620.2,531.7 621,531.7 621.8,531.6 622.6,531.5 623.3,531.5 624.1,531.5 624.9,531.5 625.7,531.5 626.5,531.6 627.3,531.7 628.1,531.7 628.8,531.8 629.6,531.9 630.4,532 631.2,532.1 632,532.2 632.8,532.3 633.5,532.3 634.3,532.4 635.1,532.5 635.9,532.5 636.7,532.5 637.5,532.5 638.3,532.5 639,532.4 639.8,532.3 640.6,532.2 641.4,532.1 642.2,531.9 643,531.7 643.7,531.5 644.5,531.3 645.3,531 646.1,530.8 646.9,530.5 647.7,530.3 648.5,530 649.2,529.7 650,529.5 650.8,529.2 651.6,529 652.4,528.7 653.2,528.5 653.9,528.1 654.7,527.8 655.5,527.3 656.3,526.8 657.1,526.3 657.9,525.6 658.7,524.8 659.4,523.9 660.2,522.8 661,521.5 661.8,520.1 662.6,518.5 663.4,516.6 664.2,514.4 664.9,511.9 665.7,509.1 666.5,505.9 667.3,502.6 668.1,499.6 668.9,497.4 669.6,496.2 670.4,495.7 671.2,495.7 672,496 672,606 671.2,605.4 670.4,604.7 669.6,604 668.9,603.1 668.1,602.1 667.3,600.9 666.5,599.5 665.7,598 664.9,596.3 664.2,594.6 663.4,592.8 662.6,590.9 661.8,589.1 661,587.3 660.2,585.5 659.4,583.8 658.7,582.2 657.9,580.6 657.1,579.2 656.3,577.7 655.5,576.3 654.7,575 653.9,573.6 653.2,572.2 652.4,570.9 651.6,569.5 650.8,568.1 650,566.6 649.2,565.2 648.5,563.6 647.7,562.1 646.9,560.5 646.1,558.9 645.3,557.4 644.5,555.8 643.7,554.4 643,552.9 642.2,551.6 641.4,550.3 640.6,549.1 639.8,548 639,547 638.3,546.1 637.5,545.3 636.7,544.6 635.9,544 635.1,543.5 634.3,543.1 633.5,542.7 632.8,542.4 632,542.2 631.2,542 630.4,541.8 629.6,541.7 628.8,541.6 628.1,541.6 627.3,541.6 626.5,541.5 625.7,541.5 624.9,541.5 624.1,541.5 623.3,541.5 622.6,541.5 621.8,541.4 621,541.3 620.2,541.3 619.4,541.2 618.6,541.1 617.8,541 617.1,540.8 616.3,540.7 615.5,540.6 614.7,540.4 613.9,540.3 613.1,540.1 612.4,540 611.6,539.8 610.8,539.7 610,539.5" fill="#f0882e"/>
<path d="M480 564.8V568.3M481.1 570.3V573.7M482.1 574V576.7M483.1 576.1V580.1M483.6 577V579.8M484.4 579.7V583M485.2 580.7V583.1M486.1 581.5V584.5M487 581.8V583.7M487.6 581.9V584.7M488.5 580.8V584.5M489.6 580.8V585.1M490.7 580.4V584.2M491.2 580.6V583.5M492 579.9V582.7M492.7 578.9V583.3M493.8 579V581.5M495 576.9V581.1M496.3 576.2V580.6M497.5 576.3V580.1M498.1 575.8V579.4M498.9 575.9V579M499.8 575.1V578.9M500.7 575.2V578.8M501.9 574.8V579.1M503 574.7V578.3M503.5 576.3V579.3M504 576.7V579.9M505 577.2V579.7M505.8 577.7V580.1M506.5 576.9V580.5M507.7 578.4V581.5M508.9 578.3V581.9M510.2 581.1V584.4M511.3 581.6V584.9M511.8 581V584M512.5 582.4V585.4M513.8 582.9V586.3M514.4 582.8V585.8M514.9 582.8V586.4M515.7 582.8V586M516.7 581.9V585.5M517.8 581.9V585.4M518.2 581.1V583.8M518.6 580.1V583.5M519.7 578.4V582.8M520.8 576.2V580.6M522.1 573.4V577.2M523 569.1V572.6M523.6 567.9V571.3M524.7 562.9V566.3M525.5 560.9V564.4M526.1 558.2V561.7M526.7 556.7V559.4M527.3 554.2V557.8M528.6 548.3V552.1M529.8 543.6V547.3M530.6 540.3V544.2M531.6 535.8V539.3M532.1 533.5V536M533.4 526.1V529.6M534 524.3V526.6M534.8 518.9V522.4M535.7 515.3V517.9M536.8 508.7V511.6M537.3 504.8V508.5M538.2 499.1V502.4M538.8 496.5V500.6M539.5 493.2V496.1M540.3 487.5V490.7M540.9 484.9V488.7M542.1 478V481.3M542.9 475V478.5M543.7 472.3V474.1M544.4 468.9V470.7M545.3 465.2V468.2M546 461.6V465.1M546.6 459.1V463.6M547.5 456.4V459.3M548.8 453.5V455.3M549.9 450V453.9M550.5 449.8V451.8M551.1 448.2V451.4M551.5 447.1V451.1M552.6 444.6V449M553.3 445.3V448.2M554.1 443.1V446.5M555.4 442.6V445.9M556.2 443V447M557.1 444.8V446.7M558.1 444.4V448.6M558.7 445.5V447.9M559.8 446.1V450.6M560.7 448.6V451.3M561.5 449.3V453.1M562.8 453V456M563.7 456.3V458.5M564.7 460.1V462.2M565.5 463.2V465.6M566.3 465V468.5M567.3 470.2V472.9M568.3 473.2V476.3M569.4 478.1V480.8M570.1 480.7V483.1M570.9 483.9V486M571.5 486.2V489.2M572.3 488.5V492.2M573.4 492.3V495.8M574.3 495.6V499M574.8 498.4V500.3M575.2 498.3V501.6M576.1 502V504.8M577 505.1V509.1M577.6 506.3V509.6M578.1 509.7V512.6M578.9 510.9V514.7M579.4 513.4V515.9M580.7 516.1V520.1M581.7 519.3V523.4M582.5 521.2V525.3M583.1 523.3V526.5M583.7 523.7V527.8M584.3 525.1V527.9M585.2 525.9V530.4M585.8 528.2V531.2M586.2 529.1V531.7M587.3 530.2V533.1M587.8 531.7V534M588.4 532V534.9M589.1 532.6V536.6M589.8 534.3V537.1M590.4 534.1V537.6M591.1 534.1V537.1M592.1 535.3V538.6M593.5 535.6V538.8M594.3 536.4V538.7M594.7 536.9V539.8M595.5 536.6V540.1M596.8 537.4V540.4M597.6 536.6V540.3M598.8 537.9V540.1M599.5 537V540.5M600.5 536.9V540M601.2 536.5V540.8M602 536.2V540.1M602.8 537.5V539.5M603.4 537.4V540.5M603.8 536V540.4M604.4 536.1V539.8M605 535.5V538.5M606.1 535.6V539.4M606.7 535.7V539.7M607.4 535V539.3M607.9 535.7V538.6M608.4 535.2V538M609.1 535V538.6M609.8 535.5V538.4M611.1 534.2V537.6M612 534.6V538.8M613.3 535V537.7M613.9 535.2V537.2M615.3 534.4V537.2M615.9 535V538" stroke="#f0882e" stroke-width="0.8" fill="none"/>
<polyline points="480,567.2 481.2,572.3 482.5,576.2 483.7,579.4 485,581.9 486.2,582.7 487.5,582.7 488.7,582.7 490,582.7 491.2,582.3 492.5,581.3 493.7,580.1 495,579.2 496.2,578.5 497.5,577.8 498.7,577.2 500,576.8 501.2,576.7 502.5,576.9 503.7,577.4 505,578 506.2,578.7 507.4,579.5 508.7,580.5 509.9,581.7 511.2,582.8 512.4,583.4 513.7,583.8 514.9,584.1 516.2,584.2 517.4,583.6 518.7,582.3 519.9,580.6 521.2,578 522.4,573.9 523.7,569 524.9,564.3 526.2,559.9 527.4,555.3 528.7,550.5 529.9,545.4 531.2,539.7 532.4,533.6 533.7,527.1 534.9,520.5 536.1,513.8 537.4,506.6 538.6,499.2 539.9,492 541.1,485.1 542.4,478.8 543.6,473.2 544.9,467.9 546.1,462.8 547.4,458.4 548.6,454.9 549.9,452.1 551.1,449.5 552.4,447.3 553.6,445.7 554.9,445 556.1,445.2 557.4,446 558.6,447.1 559.9,448.5 561.1,450.1 562.3,452.8 563.6,456.9 564.8,461.7 566.1,466.6 567.3,471.2 568.6,475.8 569.8,480.6 571.1,485.5 572.3,490.3 573.6,495 574.8,499.4 576.1,503.6 577.3,507.8 578.6,512 579.8,515.9 581.1,519.4 582.3,522.5 583.6,525.1 584.8,527.5 586.1,529.8 587.3,531.9 588.6,533.6 589.8,535.1 591,536 592.3,536.8 593.5,537.4 594.8,538 596,538.5 597.3,538.8 598.5,539 599.8,539 601,538.8 602.3,538.5 603.5,538.2 604.8,537.8 606,537.4 607.3,537.1 608.5,536.9 609.8,536.7 611,536.6 612.3,536.4 613.5,536.2 614.8,536.1 616,536" fill="none" stroke="#f0882e" stroke-width="4.8" stroke-linejoin="round" stroke-linecap="round"/>
<path d="M666.4 519.3V531.3M652.3 508.5V520.5M650.2 511.4V523.4M669.5 524V536M651.1 516.9V528.9M652.6 511.1V523.1M667.5 506.7V518.7M659.4 517.8V529.8M654.5 527.3V539.3M660.5 511.7V523.7M659.2 515.8V527.8M655.6 517.8V529.8M660.3 522.6V534.6M668 503.7V515.7M660.6 516.4V528.4M660.4 515.3V527.3M653.5 501V513M667.5 515.3V527.3M662.2 527.9V539.9M656.5 524.8V536.8M662.7 519.8V531.8M670 504.8V516.8M666.1 513.8V525.8M669.6 506.9V518.9M654.2 514.4V526.4M666.2 511.3V523.3M664.4 523.9V535.9M653.6 501.2V513.2M650.7 513.9V525.9M652.4 508.7V520.7M667.2 516.9V528.9M666 509.7V521.7M654.2 525.5V537.5M653.2 507.8V519.8M667.3 520.7V532.7M657.2 501V513M654.3 504.9V516.9M662.9 505.9V517.9M650.2 511.1V523.1M669.1 519.2V531.2" stroke="#f0882e" stroke-width="0.8" fill="none"/>
<line x1="480.6" y1="512" x2="480.6" y2="560" stroke="#000" stroke-width="1.2"/>
<line x1="479.5" y1="512" x2="482" y2="512" stroke="#000" stroke-width="0.8"/>
<path d="M668.5 426V602" stroke="#ff33ff" stroke-width="1.4" fill="none"/>
<path d="M670 426V602" stroke="#ff33ff" stroke-width="1.0" fill="none"/>
<path d="M666.8 452V560" stroke="#ff1f1f" stroke-width="1.0" fill="none"/>
<path d="M665.5 452H668" stroke="#ff1f1f" stroke-width="0.8" fill="none"/>
<path d="M665.5 456V570" stroke="#1f1fff" stroke-width="1.0" fill="none"/>
<path d="M664 456H667M663.5 480V590M662 500H665" stroke="#1f1fff" stroke-width="0.8" fill="none"/>
<path d="M669.5 470V600" stroke="#33962d" stroke-width="1.2" fill="none"/>
</g>
<line x1="479.4" y1="426.6" x2="670.3" y2="426.6" stroke="#5a5a5a" stroke-width="1"/>
<line x1="670.3" y1="426.6" x2="670.3" y2="602.4" stroke="#5a5a5a" stroke-width="1"/>
<line x1="479.4" y1="426.6" x2="479.4" y2="602.4" stroke="#222" stroke-width="1.1"/>
<line x1="478.9" y1="602.4" x2="670.3" y2="602.4" stroke="#222" stroke-width="1.1"/>
<line x1="475.4" y1="426.6" x2="479.4" y2="426.6" stroke="#222" stroke-width="0.9"/>
<line x1="475.4" y1="514.5" x2="479.4" y2="514.5" stroke="#222" stroke-width="0.9"/>
<line x1="475.4" y1="602.4" x2="479.4" y2="602.4" stroke="#222" stroke-width="0.9"/>
<line x1="479.4" y1="602.4" x2="479.4" y2="606.4" stroke="#222" stroke-width="0.9"/>
<line x1="530.3" y1="602.4" x2="530.3" y2="606.4" stroke="#222" stroke-width="0.9"/>
<line x1="581.2" y1="602.4" x2="581.2" y2="606.4" stroke="#222" stroke-width="0.9"/>
<line x1="632.1" y1="602.4" x2="632.1" y2="606.4" stroke="#222" stroke-width="0.9"/>
<line x1="504.8" y1="602.4" x2="504.8" y2="604.9" stroke="#222" stroke-width="0.9"/>
<line x1="555.8" y1="602.4" x2="555.8" y2="604.9" stroke="#222" stroke-width="0.9"/>
<line x1="606.6" y1="602.4" x2="606.6" y2="604.9" stroke="#222" stroke-width="0.9"/>
<line x1="657.5" y1="602.4" x2="657.5" y2="604.9" stroke="#222" stroke-width="0.9"/>
<text x="457.6" y="436.5" font-size="13.6" text-anchor="middle" fill="#1e1e1e">I</text>
<text x="469" y="429.8" font-size="13.6" text-anchor="middle" fill="#1e1e1e">4</text>
<text x="470" y="606.9" font-size="13.6" text-anchor="middle" fill="#1e1e1e">0</text>
<text x="479.4" y="620" font-size="13.6" text-anchor="middle" fill="#1e1e1e">0</text>
<text x="530.3" y="620" font-size="13.6" text-anchor="middle" fill="#1e1e1e">20</text>
<text x="581.2" y="620" font-size="13.6" text-anchor="middle" fill="#1e1e1e">40</text>
<text x="632.1" y="620" font-size="13.6" text-anchor="middle" fill="#1e1e1e">60</text>
<text x="462.5" y="508.8" font-size="12.5" text-anchor="middle" fill="#1e1e1e" transform="rotate(-90 462.5 508.8)">(<tspan font-style="italic">q</tspan>R<tspan dy="3" font-size="8.5">g</tspan><tspan dy="-3">)</tspan><tspan dy="-5" font-size="8.5">2</tspan><tspan dy="5">*</tspan><tspan font-style="italic">I</tspan>(<tspan font-style="italic">q</tspan>)/<tspan font-style="italic">I</tspan>(0)</text>
<text x="573" y="631" font-size="13" text-anchor="middle" fill="#1e1e1e"><tspan font-style="italic">q</tspan>R<tspan dy="3" font-size="8.5">g</tspan></text>
<line x1="129.7" y1="644" x2="129.7" y2="710.2" stroke="#333" stroke-width="0.5"/>
<line x1="129.7" y1="710.2" x2="216.9" y2="710.2" stroke="#333" stroke-width="0.5"/>
<line x1="128.5" y1="649.9" x2="129.7" y2="649.9" stroke="#333" stroke-width="0.4"/>
<text x="127.9" y="651.3" font-size="4.2" text-anchor="end" fill="#1e1e1e" style="stroke:none">10</text>
<line x1="128.5" y1="661.2" x2="129.7" y2="661.2" stroke="#333" stroke-width="0.4"/>
<text x="127.9" y="662.6" font-size="4.2" text-anchor="end" fill="#1e1e1e" style="stroke:none">9</text>
<line x1="128.5" y1="673.3" x2="129.7" y2="673.3" stroke="#333" stroke-width="0.4"/>
<text x="127.9" y="674.7" font-size="4.2" text-anchor="end" fill="#1e1e1e" style="stroke:none">8</text>
<line x1="128.5" y1="684.5" x2="129.7" y2="684.5" stroke="#333" stroke-width="0.4"/>
<text x="127.9" y="685.9" font-size="4.2" text-anchor="end" fill="#1e1e1e" style="stroke:none">7</text>
<line x1="128.5" y1="695.9" x2="129.7" y2="695.9" stroke="#333" stroke-width="0.4"/>
<text x="127.9" y="697.3" font-size="4.2" text-anchor="end" fill="#1e1e1e" style="stroke:none">6</text>
<line x1="128.5" y1="707.4" x2="129.7" y2="707.4" stroke="#333" stroke-width="0.4"/>
<text x="127.9" y="708.8" font-size="4.2" text-anchor="end" fill="#1e1e1e" style="stroke:none">5</text>
<line x1="173.7" y1="710.2" x2="173.7" y2="711.4" stroke="#333" stroke-width="0.4"/>
<text x="173.7" y="715.8" font-size="4.2" text-anchor="middle" fill="#1e1e1e" style="stroke:none">1E-4</text>
<line x1="198.8" y1="710.2" x2="198.8" y2="711.4" stroke="#333" stroke-width="0.4"/>
<text x="198.8" y="715.8" font-size="4.2" text-anchor="middle" fill="#1e1e1e" style="stroke:none">2E-4</text>
<line x1="216.9" y1="710.2" x2="216.9" y2="711.4" stroke="#333" stroke-width="0.4"/>
<text x="216.9" y="715.8" font-size="4.2" text-anchor="middle" fill="#1e1e1e" style="stroke:none">3E-4</text>
<text x="173.3" y="722.4" font-size="4.2" text-anchor="middle" fill="#1e1e1e" style="stroke:none">Log(<tspan font-style="italic">q</tspan><tspan dy="-1.5" font-size="3">2</tspan><tspan dy="1.5">)</tspan></text>
<text x="121.2" y="677.1" font-size="4.2" text-anchor="middle" fill="#1e1e1e" transform="rotate(-90 121.2 677.1)" style="stroke:none">ln (I(<tspan font-style="italic">q</tspan>))</text>
<path d="M133.1 648a1.35 1.35 0 1 0 2.7 0a1.35 1.35 0 1 0-2.7 0M138.1 650.2a1.35 1.35 0 1 0 2.7 0a1.35 1.35 0 1 0-2.7 0M142.7 652.3a1.35 1.35 0 1 0 2.7 0a1.35 1.35 0 1 0-2.7 0M147.1 654.3a1.35 1.35 0 1 0 2.7 0a1.35 1.35 0 1 0-2.7 0M151.3 656.2a1.35 1.35 0 1 0 2.7 0a1.35 1.35 0 1 0-2.7 0M155.2 658a1.35 1.35 0 1 0 2.7 0a1.35 1.35 0 1 0-2.7 0M158.9 659.7a1.35 1.35 0 1 0 2.7 0a1.35 1.35 0 1 0-2.7 0M162.5 661.3a1.35 1.35 0 1 0 2.7 0a1.35 1.35 0 1 0-2.7 0M165.9 662.9a1.35 1.35 0 1 0 2.7 0a1.35 1.35 0 1 0-2.7 0M169.1 664.3a1.35 1.35 0 1 0 2.7 0a1.35 1.35 0 1 0-2.7 0M172.3 665.8a1.35 1.35 0 1 0 2.7 0a1.35 1.35 0 1 0-2.7 0M175.3 667.1a1.35 1.35 0 1 0 2.7 0a1.35 1.35 0 1 0-2.7 0M178.2 668.4a1.35 1.35 0 1 0 2.7 0a1.35 1.35 0 1 0-2.7 0M180.9 669.7a1.35 1.35 0 1 0 2.7 0a1.35 1.35 0 1 0-2.7 0M183.6 670.9a1.35 1.35 0 1 0 2.7 0a1.35 1.35 0 1 0-2.7 0M186.2 672.1a1.35 1.35 0 1 0 2.7 0a1.35 1.35 0 1 0-2.7 0M188.7 673.2a1.35 1.35 0 1 0 2.7 0a1.35 1.35 0 1 0-2.7 0M191.2 674.3a1.35 1.35 0 1 0 2.7 0a1.35 1.35 0 1 0-2.7 0M193.5 675.4a1.35 1.35 0 1 0 2.7 0a1.35 1.35 0 1 0-2.7 0M195.8 676.4a1.35 1.35 0 1 0 2.7 0a1.35 1.35 0 1 0-2.7 0M198 677.4a1.35 1.35 0 1 0 2.7 0a1.35 1.35 0 1 0-2.7 0M200.2 678.4a1.35 1.35 0 1 0 2.7 0a1.35 1.35 0 1 0-2.7 0M202.3 679.4a1.35 1.35 0 1 0 2.7 0a1.35 1.35 0 1 0-2.7 0M204.3 680.3a1.35 1.35 0 1 0 2.7 0a1.35 1.35 0 1 0-2.7 0M206.3 681.2a1.35 1.35 0 1 0 2.7 0a1.35 1.35 0 1 0-2.7 0M208.3 682.1a1.35 1.35 0 1 0 2.7 0a1.35 1.35 0 1 0-2.7 0M210.2 682.9a1.35 1.35 0 1 0 2.7 0a1.35 1.35 0 1 0-2.7 0M212 683.8a1.35 1.35 0 1 0 2.7 0a1.35 1.35 0 1 0-2.7 0M213.8 684.6a1.35 1.35 0 1 0 2.7 0a1.35 1.35 0 1 0-2.7 0" fill="none" stroke="#000" stroke-width="1.5"/>
<path d="M133.1 673a1.35 1.35 0 1 0 2.7 0a1.35 1.35 0 1 0-2.7 0M138.1 675a1.35 1.35 0 1 0 2.7 0a1.35 1.35 0 1 0-2.7 0M142.7 676.8a1.35 1.35 0 1 0 2.7 0a1.35 1.35 0 1 0-2.7 0M147.1 678.5a1.35 1.35 0 1 0 2.7 0a1.35 1.35 0 1 0-2.7 0M151.3 680.2a1.35 1.35 0 1 0 2.7 0a1.35 1.35 0 1 0-2.7 0M155.2 681.7a1.35 1.35 0 1 0 2.7 0a1.35 1.35 0 1 0-2.7 0M158.9 683.2a1.35 1.35 0 1 0 2.7 0a1.35 1.35 0 1 0-2.7 0M162.5 684.6a1.35 1.35 0 1 0 2.7 0a1.35 1.35 0 1 0-2.7 0M165.9 686a1.35 1.35 0 1 0 2.7 0a1.35 1.35 0 1 0-2.7 0M169.1 687.3a1.35 1.35 0 1 0 2.7 0a1.35 1.35 0 1 0-2.7 0M172.3 688.5a1.35 1.35 0 1 0 2.7 0a1.35 1.35 0 1 0-2.7 0M175.3 689.7a1.35 1.35 0 1 0 2.7 0a1.35 1.35 0 1 0-2.7 0M178.2 690.9a1.35 1.35 0 1 0 2.7 0a1.35 1.35 0 1 0-2.7 0M180.9 692a1.35 1.35 0 1 0 2.7 0a1.35 1.35 0 1 0-2.7 0M183.6 693a1.35 1.35 0 1 0 2.7 0a1.35 1.35 0 1 0-2.7 0M186.2 694.1a1.35 1.35 0 1 0 2.7 0a1.35 1.35 0 1 0-2.7 0M188.7 695.1a1.35 1.35 0 1 0 2.7 0a1.35 1.35 0 1 0-2.7 0M191.2 696a1.35 1.35 0 1 0 2.7 0a1.35 1.35 0 1 0-2.7 0M193.5 697a1.35 1.35 0 1 0 2.7 0a1.35 1.35 0 1 0-2.7 0M195.8 697.9a1.35 1.35 0 1 0 2.7 0a1.35 1.35 0 1 0-2.7 0M198 698.7a1.35 1.35 0 1 0 2.7 0a1.35 1.35 0 1 0-2.7 0M200.2 699.6a1.35 1.35 0 1 0 2.7 0a1.35 1.35 0 1 0-2.7 0M202.3 700.4a1.35 1.35 0 1 0 2.7 0a1.35 1.35 0 1 0-2.7 0M204.3 701.2a1.35 1.35 0 1 0 2.7 0a1.35 1.35 0 1 0-2.7 0M206.3 702a1.35 1.35 0 1 0 2.7 0a1.35 1.35 0 1 0-2.7 0M208.3 702.8a1.35 1.35 0 1 0 2.7 0a1.35 1.35 0 1 0-2.7 0M210.2 703.6a1.35 1.35 0 1 0 2.7 0a1.35 1.35 0 1 0-2.7 0M212 704.3a1.35 1.35 0 1 0 2.7 0a1.35 1.35 0 1 0-2.7 0M213.8 705a1.35 1.35 0 1 0 2.7 0a1.35 1.35 0 1 0-2.7 0" fill="none" stroke="#ff1f1f" stroke-width="1.5"/>
<path d="M133.1 673.5a1.35 1.35 0 1 0 2.7 0a1.35 1.35 0 1 0-2.7 0M138.1 675.4a1.35 1.35 0 1 0 2.7 0a1.35 1.35 0 1 0-2.7 0M142.7 677.1a1.35 1.35 0 1 0 2.7 0a1.35 1.35 0 1 0-2.7 0M147.1 678.8a1.35 1.35 0 1 0 2.7 0a1.35 1.35 0 1 0-2.7 0M151.3 680.3a1.35 1.35 0 1 0 2.7 0a1.35 1.35 0 1 0-2.7 0M155.2 681.8a1.35 1.35 0 1 0 2.7 0a1.35 1.35 0 1 0-2.7 0M158.9 683.2a1.35 1.35 0 1 0 2.7 0a1.35 1.35 0 1 0-2.7 0M162.5 684.6a1.35 1.35 0 1 0 2.7 0a1.35 1.35 0 1 0-2.7 0M165.9 685.9a1.35 1.35 0 1 0 2.7 0a1.35 1.35 0 1 0-2.7 0M169.1 687.1a1.35 1.35 0 1 0 2.7 0a1.35 1.35 0 1 0-2.7 0M172.3 688.3a1.35 1.35 0 1 0 2.7 0a1.35 1.35 0 1 0-2.7 0M175.3 689.4a1.35 1.35 0 1 0 2.7 0a1.35 1.35 0 1 0-2.7 0M178.2 690.5a1.35 1.35 0 1 0 2.7 0a1.35 1.35 0 1 0-2.7 0M180.9 691.6a1.35 1.35 0 1 0 2.7 0a1.35 1.35 0 1 0-2.7 0M183.6 692.6a1.35 1.35 0 1 0 2.7 0a1.35 1.35 0 1 0-2.7 0M186.2 693.6a1.35 1.35 0 1 0 2.7 0a1.35 1.35 0 1 0-2.7 0M188.7 694.5a1.35 1.35 0 1 0 2.7 0a1.35 1.35 0 1 0-2.7 0M191.2 695.4a1.35 1.35 0 1 0 2.7 0a1.35 1.35 0 1 0-2.7 0M193.5 696.3a1.35 1.35 0 1 0 2.7 0a1.35 1.35 0 1 0-2.7 0M195.8 697.2a1.35 1.35 0 1 0 2.7 0a1.35 1.35 0 1 0-2.7 0M198 698a1.35 1.35 0 1 0 2.7 0a1.35 1.35 0 1 0-2.7 0M200.2 698.9a1.35 1.35 0 1 0 2.7 0a1.35 1.35 0 1 0-2.7 0M202.3 699.6a1.35 1.35 0 1 0 2.7 0a1.35 1.35 0 1 0-2.7 0M204.3 700.4a1.35 1.35 0 1 0 2.7 0a1.35 1.35 0 1 0-2.7 0M206.3 701.2a1.35 1.35 0 1 0 2.7 0a1.35 1.35 0 1 0-2.7 0M208.3 701.9a1.35 1.35 0 1 0 2.7 0a1.35 1.35 0 1 0-2.7 0M210.2 702.6a1.35 1.35 0 1 0 2.7 0a1.35 1.35 0 1 0-2.7 0M212 703.3a1.35 1.35 0 1 0 2.7 0a1.35 1.35 0 1 0-2.7 0M213.8 704a1.35 1.35 0 1 0 2.7 0a1.35 1.35 0 1 0-2.7 0" fill="none" stroke="#1f1fff" stroke-width="1.5"/>
<path d="M133.1 672a1.35 1.35 0 1 0 2.7 0a1.35 1.35 0 1 0-2.7 0M138.1 673.9a1.35 1.35 0 1 0 2.7 0a1.35 1.35 0 1 0-2.7 0M142.7 675.7a1.35 1.35 0 1 0 2.7 0a1.35 1.35 0 1 0-2.7 0M147.1 677.4a1.35 1.35 0 1 0 2.7 0a1.35 1.35 0 1 0-2.7 0M151.3 679a1.35 1.35 0 1 0 2.7 0a1.35 1.35 0 1 0-2.7 0M155.2 680.5a1.35 1.35 0 1 0 2.7 0a1.35 1.35 0 1 0-2.7 0M158.9 681.9a1.35 1.35 0 1 0 2.7 0a1.35 1.35 0 1 0-2.7 0M162.5 683.3a1.35 1.35 0 1 0 2.7 0a1.35 1.35 0 1 0-2.7 0M165.9 684.6a1.35 1.35 0 1 0 2.7 0a1.35 1.35 0 1 0-2.7 0M169.1 685.8a1.35 1.35 0 1 0 2.7 0a1.35 1.35 0 1 0-2.7 0M172.3 687a1.35 1.35 0 1 0 2.7 0a1.35 1.35 0 1 0-2.7 0M175.3 688.2a1.35 1.35 0 1 0 2.7 0a1.35 1.35 0 1 0-2.7 0M178.2 689.3a1.35 1.35 0 1 0 2.7 0a1.35 1.35 0 1 0-2.7 0M180.9 690.4a1.35 1.35 0 1 0 2.7 0a1.35 1.35 0 1 0-2.7 0M183.6 691.4a1.35 1.35 0 1 0 2.7 0a1.35 1.35 0 1 0-2.7 0M186.2 692.4a1.35 1.35 0 1 0 2.7 0a1.35 1.35 0 1 0-2.7 0M188.7 693.4a1.35 1.35 0 1 0 2.7 0a1.35 1.35 0 1 0-2.7 0M191.2 694.3a1.35 1.35 0 1 0 2.7 0a1.35 1.35 0 1 0-2.7 0M193.5 695.2a1.35 1.35 0 1 0 2.7 0a1.35 1.35 0 1 0-2.7 0M195.8 696.1a1.35 1.35 0 1 0 2.7 0a1.35 1.35 0 1 0-2.7 0M198 696.9a1.35 1.35 0 1 0 2.7 0a1.35 1.35 0 1 0-2.7 0M200.2 697.8a1.35 1.35 0 1 0 2.7 0a1.35 1.35 0 1 0-2.7 0M202.3 698.6a1.35 1.35 0 1 0 2.7 0a1.35 1.35 0 1 0-2.7 0M204.3 699.4a1.35 1.35 0 1 0 2.7 0a1.35 1.35 0 1 0-2.7 0M206.3 700.1a1.35 1.35 0 1 0 2.7 0a1.35 1.35 0 1 0-2.7 0M208.3 700.9a1.35 1.35 0 1 0 2.7 0a1.35 1.35 0 1 0-2.7 0M210.2 701.6a1.35 1.35 0 1 0 2.7 0a1.35 1.35 0 1 0-2.7 0M212 702.3a1.35 1.35 0 1 0 2.7 0a1.35 1.35 0 1 0-2.7 0M213.8 703a1.35 1.35 0 1 0 2.7 0a1.35 1.35 0 1 0-2.7 0" fill="none" stroke="#ff33ff" stroke-width="1.5"/>
<path d="M133.1 674a1.35 1.35 0 1 0 2.7 0a1.35 1.35 0 1 0-2.7 0M138.1 675.9a1.35 1.35 0 1 0 2.7 0a1.35 1.35 0 1 0-2.7 0M142.7 677.6a1.35 1.35 0 1 0 2.7 0a1.35 1.35 0 1 0-2.7 0M147.1 679.3a1.35 1.35 0 1 0 2.7 0a1.35 1.35 0 1 0-2.7 0M151.3 680.8a1.35 1.35 0 1 0 2.7 0a1.35 1.35 0 1 0-2.7 0M155.2 682.3a1.35 1.35 0 1 0 2.7 0a1.35 1.35 0 1 0-2.7 0M158.9 683.7a1.35 1.35 0 1 0 2.7 0a1.35 1.35 0 1 0-2.7 0M162.5 685.1a1.35 1.35 0 1 0 2.7 0a1.35 1.35 0 1 0-2.7 0M165.9 686.4a1.35 1.35 0 1 0 2.7 0a1.35 1.35 0 1 0-2.7 0M169.1 687.6a1.35 1.35 0 1 0 2.7 0a1.35 1.35 0 1 0-2.7 0M172.3 688.8a1.35 1.35 0 1 0 2.7 0a1.35 1.35 0 1 0-2.7 0M175.3 689.9a1.35 1.35 0 1 0 2.7 0a1.35 1.35 0 1 0-2.7 0M178.2 691a1.35 1.35 0 1 0 2.7 0a1.35 1.35 0 1 0-2.7 0M180.9 692.1a1.35 1.35 0 1 0 2.7 0a1.35 1.35 0 1 0-2.7 0M183.6 693.1a1.35 1.35 0 1 0 2.7 0a1.35 1.35 0 1 0-2.7 0M186.2 694.1a1.35 1.35 0 1 0 2.7 0a1.35 1.35 0 1 0-2.7 0M188.7 695a1.35 1.35 0 1 0 2.7 0a1.35 1.35 0 1 0-2.7 0M191.2 695.9a1.35 1.35 0 1 0 2.7 0a1.35 1.35 0 1 0-2.7 0M193.5 696.8a1.35 1.35 0 1 0 2.7 0a1.35 1.35 0 1 0-2.7 0M195.8 697.7a1.35 1.35 0 1 0 2.7 0a1.35 1.35 0 1 0-2.7 0M198 698.5a1.35 1.35 0 1 0 2.7 0a1.35 1.35 0 1 0-2.7 0M200.2 699.4a1.35 1.35 0 1 0 2.7 0a1.35 1.35 0 1 0-2.7 0M202.3 700.1a1.35 1.35 0 1 0 2.7 0a1.35 1.35 0 1 0-2.7 0M204.3 700.9a1.35 1.35 0 1 0 2.7 0a1.35 1.35 0 1 0-2.7 0M206.3 701.7a1.35 1.35 0 1 0 2.7 0a1.35 1.35 0 1 0-2.7 0M208.3 702.4a1.35 1.35 0 1 0 2.7 0a1.35 1.35 0 1 0-2.7 0M210.2 703.1a1.35 1.35 0 1 0 2.7 0a1.35 1.35 0 1 0-2.7 0M212 703.8a1.35 1.35 0 1 0 2.7 0a1.35 1.35 0 1 0-2.7 0M213.8 704.5a1.35 1.35 0 1 0 2.7 0a1.35 1.35 0 1 0-2.7 0" fill="none" stroke="#33962d" stroke-width="1.5"/>
<path d="M133.1 677a1.35 1.35 0 1 0 2.7 0a1.35 1.35 0 1 0-2.7 0M138.1 678.9a1.35 1.35 0 1 0 2.7 0a1.35 1.35 0 1 0-2.7 0M142.7 680.6a1.35 1.35 0 1 0 2.7 0a1.35 1.35 0 1 0-2.7 0M147.1 682.3a1.35 1.35 0 1 0 2.7 0a1.35 1.35 0 1 0-2.7 0M151.3 683.8a1.35 1.35 0 1 0 2.7 0a1.35 1.35 0 1 0-2.7 0M155.2 685.3a1.35 1.35 0 1 0 2.7 0a1.35 1.35 0 1 0-2.7 0M158.9 686.7a1.35 1.35 0 1 0 2.7 0a1.35 1.35 0 1 0-2.7 0M162.5 688.1a1.35 1.35 0 1 0 2.7 0a1.35 1.35 0 1 0-2.7 0M165.9 689.4a1.35 1.35 0 1 0 2.7 0a1.35 1.35 0 1 0-2.7 0M169.1 690.6a1.35 1.35 0 1 0 2.7 0a1.35 1.35 0 1 0-2.7 0M172.3 691.8a1.35 1.35 0 1 0 2.7 0a1.35 1.35 0 1 0-2.7 0M175.3 692.9a1.35 1.35 0 1 0 2.7 0a1.35 1.35 0 1 0-2.7 0M178.2 694a1.35 1.35 0 1 0 2.7 0a1.35 1.35 0 1 0-2.7 0M180.9 695.1a1.35 1.35 0 1 0 2.7 0a1.35 1.35 0 1 0-2.7 0M183.6 696.1a1.35 1.35 0 1 0 2.7 0a1.35 1.35 0 1 0-2.7 0M186.2 697.1a1.35 1.35 0 1 0 2.7 0a1.35 1.35 0 1 0-2.7 0M188.7 698a1.35 1.35 0 1 0 2.7 0a1.35 1.35 0 1 0-2.7 0M191.2 698.9a1.35 1.35 0 1 0 2.7 0a1.35 1.35 0 1 0-2.7 0M193.5 699.8a1.35 1.35 0 1 0 2.7 0a1.35 1.35 0 1 0-2.7 0M195.8 700.7a1.35 1.35 0 1 0 2.7 0a1.35 1.35 0 1 0-2.7 0M198 701.5a1.35 1.35 0 1 0 2.7 0a1.35 1.35 0 1 0-2.7 0M200.2 702.4a1.35 1.35 0 1 0 2.7 0a1.35 1.35 0 1 0-2.7 0M202.3 703.1a1.35 1.35 0 1 0 2.7 0a1.35 1.35 0 1 0-2.7 0M204.3 703.9a1.35 1.35 0 1 0 2.7 0a1.35 1.35 0 1 0-2.7 0M206.3 704.7a1.35 1.35 0 1 0 2.7 0a1.35 1.35 0 1 0-2.7 0M208.3 705.4a1.35 1.35 0 1 0 2.7 0a1.35 1.35 0 1 0-2.7 0M210.2 706.1a1.35 1.35 0 1 0 2.7 0a1.35 1.35 0 1 0-2.7 0M212 706.8a1.35 1.35 0 1 0 2.7 0a1.35 1.35 0 1 0-2.7 0M213.8 707.5a1.35 1.35 0 1 0 2.7 0a1.35 1.35 0 1 0-2.7 0" fill="none" stroke="#f0882e" stroke-width="1.5"/>
<polyline points="40.6,645.7 42.3,647.2 43.9,648.9 45.6,650.5 47.2,652.2 48.9,653.9 50.5,655.6 52.2,657.3 53.8,659.1 55.5,660.8 57.2,662.6 58.8,664.3 60.5,666.1 62.1,667.9 63.8,669.7 65.4,671.4 67.1,673.2 68.7,674.9 70.4,676.6 72,678.4 73.7,680.1 75.4,681.7 77,683.4 78.7,685 80.3,686.6 82,688.1 83.6,689.7 85.3,691.1 86.9,692.6 88.6,694 90.3,695.3 91.9,696.7 93.6,697.9 95.2,699.2 96.9,700.4 98.5,701.5 100.2,702.6 101.8,703.8 103.5,704.8 105.1,705.9 106.8,706.9 108.5,707.9 110.1,708.9 111.8,709.9 113.4,710.9 115.1,711.9 116.7,712.8 118.4,713.8 120,714.7 121.7,715.7 123.4,716.6 125,717.6 126.7,718.6 128.3,719.5 130,720.5 131.6,721.5 133.3,722.6 134.9,723.6 136.6,724.6 138.2,725.7 139.9,726.8 141.6,727.9 143.2,728.9 144.9,730 146.5,731.1 148.2,732.2 149.8,733.4 151.5,734.5 153.1,735.6 154.8,736.7 156.5,737.9 158.1,739 159.8,740.1 161.4,741.2 163.1,742.4 164.7,743.5 166.4,744.6 168,745.7 169.7,746.9 171.3,748 173,749.1 174.7,750.2 176.3,751.2 178,752.3 179.6,753.4 181.3,754.5 182.9,755.5 184.6,756.5 186.2,757.5 187.9,758.6 189.6,759.5 191.2,760.5 192.9,761.5 194.5,762.4 196.2,763.3 197.8,764.2 199.5,765.1 201.1,766 202.8,766.8 204.4,767.6 206.1,768.4 207.8,769.2 209.4,769.9 211.1,770.6 212.7,771.3 214.4,772 216,772.6 217.7,773.2 219.3,773.8 221,774.3" fill="none" stroke="#000" stroke-width="2.0" stroke-linejoin="round" stroke-linecap="round"/>
<polyline points="40.6,657.4 42.2,658.3 43.8,659.2 45.4,660.2 47,661.1 48.6,662.2 50.3,663.2 51.9,664.3 53.5,665.5 55.1,666.6 56.7,667.8 58.3,669 59.9,670.2 61.5,671.4 63.1,672.6 64.7,673.9 66.3,675.1 68,676.3 69.6,677.6 71.2,678.8 72.8,680 74.4,681.3 76,682.5 77.6,683.7 79.2,684.8 80.8,686 82.4,687.1 84,688.2 85.7,689.3 87.3,690.4 88.9,691.5 90.5,692.5 92.1,693.5 93.7,694.6 95.3,695.6 96.9,696.6 98.5,697.6 100.1,698.6 101.7,699.5 103.4,700.5 105,701.5 106.6,702.5 108.2,703.5 109.8,704.5 111.4,705.5 113,706.5 114.6,707.6 116.2,708.6 117.8,709.6 119.4,710.7 121.1,711.7 122.7,712.8 124.3,713.8 125.9,714.9 127.5,715.9 129.1,717 130.7,718 132.3,719.1 133.9,720.1 135.5,721.2 137.2,722.2 138.8,723.2 140.4,724.3 142,725.3 143.6,726.3 145.2,727.3 146.8,728.3 148.4,729.3 150,730.3 151.6,731.2 153.2,732.2 154.9,733.1 156.5,734 158.1,734.9 159.7,735.8 161.3,736.7 162.9,737.6 164.5,738.5 166.1,739.3 167.7,740.2 169.3,741 170.9,741.9 172.6,742.7 174.2,743.6 175.8,744.5 177.4,745.4 179,746.3 180.6,747.3 182.2,748.3 183.8,749.3 185.4,750.3 187,751.4 188.6,752.5 190.3,753.7 191.9,754.9 193.5,756.1 195.1,757.4 196.7,758.6 198.3,759.8 199.9,761.1 201.5,762.3 203.1,763.5 204.7,764.7 206.3,765.8 208,766.9 209.6,767.9 211.2,768.8 212.8,769.7 214.4,770.5 216,771.2" fill="none" stroke="#ff1f1f" stroke-width="2.0" stroke-linejoin="round" stroke-linecap="round"/>
<polyline points="40.6,655.5 42.3,656.3 43.9,657.2 45.6,658.1 47.3,659.1 48.9,660.1 50.6,661.2 52.2,662.3 53.9,663.5 55.6,664.7 57.2,666 58.9,667.2 60.6,668.5 62.2,669.9 63.9,671.2 65.6,672.6 67.2,673.9 68.9,675.3 70.6,676.6 72.2,677.9 73.9,679.3 75.5,680.6 77.2,681.9 78.9,683.1 80.5,684.4 82.2,685.6 83.9,686.8 85.5,687.9 87.2,689 88.9,690.1 90.5,691.2 92.2,692.2 93.9,693.2 95.5,694.3 97.2,695.3 98.8,696.3 100.5,697.3 102.2,698.3 103.8,699.3 105.5,700.3 107.2,701.4 108.8,702.4 110.5,703.5 112.2,704.5 113.8,705.6 115.5,706.7 117.2,707.8 118.8,708.9 120.5,710.1 122.1,711.2 123.8,712.4 125.5,713.5 127.1,714.6 128.8,715.8 130.5,716.9 132.1,718.1 133.8,719.2 135.5,720.3 137.1,721.5 138.8,722.6 140.5,723.7 142.1,724.7 143.8,725.8 145.4,726.8 147.1,727.9 148.8,728.9 150.4,729.8 152.1,730.8 153.8,731.7 155.4,732.6 157.1,733.5 158.8,734.3 160.4,735.1 162.1,735.9 163.8,736.6 165.4,737.3 167.1,738 168.7,738.6 170.4,739.2 172.1,739.8 173.7,740.4 175.4,741 177.1,741.7 178.7,742.5 180.4,743.4 182.1,744.4 183.7,745.5 185.4,746.7 187.1,748.1 188.7,749.7 190.4,751.5 192,753.3 193.7,755.3 195.4,757.3 197,759.2 198.7,761 200.4,762.6 202,764.1 203.7,765.2 205.4,766.1 207,766.8 208.7,767.6 210.4,768.5 212,769.6 213.7,771.2 215.3,773.2 217,775.9 218.7,779.4 220.3,783.8 222,814.3" fill="none" stroke="#1f1fff" stroke-width="2.0" stroke-linejoin="round" stroke-linecap="round"/>
<polyline points="40.6,652.9 42.3,653.5 43.9,654.2 45.6,655.1 47.2,656 48.9,657 50.6,658 52.2,659.1 53.9,660.3 55.6,661.6 57.2,662.8 58.9,664.2 60.5,665.5 62.2,666.9 63.9,668.3 65.5,669.7 67.2,671.1 68.9,672.6 70.5,674 72.2,675.4 73.8,676.7 75.5,678.1 77.2,679.4 78.8,680.7 80.5,681.9 82.2,683.1 83.8,684.2 85.5,685.3 87.1,686.3 88.8,687.3 90.5,688.3 92.1,689.3 93.8,690.2 95.5,691.1 97.1,692 98.8,693 100.4,693.9 102.1,694.8 103.8,695.8 105.4,696.8 107.1,697.7 108.8,698.7 110.4,699.8 112.1,700.8 113.7,701.9 115.4,702.9 117.1,704 118.7,705.1 120.4,706.2 122.1,707.4 123.7,708.5 125.4,709.6 127,710.8 128.7,712 130.4,713.1 132,714.3 133.7,715.5 135.4,716.7 137,717.9 138.7,719.1 140.3,720.3 142,721.5 143.7,722.8 145.3,724 147,725.2 148.7,726.4 150.3,727.6 152,728.8 153.6,729.9 155.3,730.9 157,731.9 158.6,732.8 160.3,733.6 162,734.3 163.6,734.8 165.3,735.3 166.9,735.6 168.6,735.8 170.3,736 171.9,736.2 173.6,736.6 175.3,737.2 176.9,738.1 178.6,739.1 180.2,740.4 181.9,741.8 183.6,743.3 185.2,744.9 186.9,746.6 188.6,748.3 190.2,750.1 191.9,751.9 193.5,753.6 195.2,755.3 196.9,756.8 198.5,758.4 200.2,759.8 201.9,761.2 203.5,762.6 205.2,764 206.8,765.4 208.5,766.9 210.2,768.4 211.8,770 213.5,771.6 215.2,773.1 216.8,774.4 218.5,775.6 220.1,784 221.8,813.2" fill="none" stroke="#ff33ff" stroke-width="2.0" stroke-linejoin="round" stroke-linecap="round"/>
<polyline points="40.6,654.6 42.3,655.4 44,656.3 45.7,657.2 47.4,658.2 49.1,659.2 50.7,660.3 52.4,661.4 54.1,662.6 55.8,663.8 57.5,665.1 59.2,666.3 60.9,667.6 62.6,669 64.3,670.3 66,671.7 67.7,673 69.3,674.4 71,675.7 72.7,677.1 74.4,678.4 76.1,679.7 77.8,681 79.5,682.3 81.2,683.6 82.9,684.8 84.6,686 86.3,687.1 87.9,688.2 89.6,689.3 91.3,690.4 93,691.5 94.7,692.5 96.4,693.5 98.1,694.5 99.8,695.5 101.5,696.5 103.2,697.5 104.9,698.5 106.5,699.5 108.2,700.4 109.9,701.4 111.6,702.4 113.3,703.4 115,704.4 116.7,705.4 118.4,706.4 120.1,707.5 121.8,708.5 123.5,709.6 125.1,710.7 126.8,711.9 128.5,713 130.2,714.2 131.9,715.4 133.6,716.5 135.3,717.7 137,718.9 138.7,720 140.4,721.2 142,722.3 143.7,723.4 145.4,724.4 147.1,725.5 148.8,726.4 150.5,727.4 152.2,728.2 153.9,729.1 155.6,729.8 157.3,730.5 159,731.2 160.6,731.7 162.3,732.2 164,732.6 165.7,733.1 167.4,733.5 169.1,733.9 170.8,734.4 172.5,734.9 174.2,735.5 175.9,736.1 177.6,736.9 179.2,737.8 180.9,738.8 182.6,740 184.3,741.3 186,742.8 187.7,744.3 189.4,746 191.1,747.7 192.8,749.4 194.5,751.2 196.2,752.9 197.8,754.7 199.5,756.4 201.2,758 202.9,759.5 204.6,760.9 206.3,762.1 208,763.1 209.7,763.8 211.4,764.3 213.1,764.5 214.8,764.3 216.4,763.8 218.1,762.9 219.8,761.6 221.5,759.8 223.2,757.6 224.9,754.8" fill="none" stroke="#33962d" stroke-width="2.0" stroke-linejoin="round" stroke-linecap="round"/>
<polyline points="40.6,656.5 42.3,657.6 44,658.7 45.6,659.8 47.3,660.9 49,662.1 50.7,663.2 52.3,664.4 54,665.6 55.7,666.8 57.4,668 59,669.3 60.7,670.5 62.4,671.8 64.1,673 65.8,674.3 67.4,675.6 69.1,676.8 70.8,678.1 72.5,679.4 74.1,680.6 75.8,681.9 77.5,683.2 79.2,684.4 80.8,685.7 82.5,687 84.2,688.2 85.9,689.4 87.6,690.7 89.2,691.9 90.9,693.1 92.6,694.2 94.3,695.4 95.9,696.6 97.6,697.7 99.3,698.8 101,699.9 102.7,701 104.3,702.1 106,703.1 107.7,704.2 109.4,705.2 111,706.3 112.7,707.3 114.4,708.3 116.1,709.3 117.7,710.3 119.4,711.3 121.1,712.3 122.8,713.3 124.5,714.3 126.1,715.3 127.8,716.3 129.5,717.3 131.2,718.3 132.8,719.3 134.5,720.3 136.2,721.3 137.9,722.2 139.5,723.2 141.2,724 142.9,724.9 144.6,725.7 146.3,726.4 147.9,727 149.6,727.6 151.3,728.1 153,728.5 154.6,728.8 156.3,729.1 158,729.2 159.7,729.4 161.3,729.5 163,729.6 164.7,729.8 166.4,729.9 168.1,730.1 169.7,730.4 171.4,730.7 173.1,731 174.8,731.5 176.4,732.1 178.1,732.8 179.8,733.6 181.5,734.5 183.2,735.5 184.8,736.6 186.5,737.8 188.2,739.1 189.9,740.5 191.5,741.9 193.2,743.5 194.9,745.2 196.6,746.9 198.2,748.7 199.9,750.6 201.6,752.5 203.3,754.3 205,756.1 206.6,757.8 208.3,759.4 210,760.9 211.7,762.2 213.3,763.2 215,764 216.7,764.6 218.4,764.8 220,764.8 221.7,764.3 223.4,763.5" fill="none" stroke="#f0882e" stroke-width="2.0" stroke-linejoin="round" stroke-linecap="round"/>
<polygon points="214,761 219,763.5 222,762 223.5,760 223.5,770 221.5,771 216,768" fill="#f0882e"/>
<polygon points="212,768.5 217,768 220,766 223,762 226.3,761 226.3,807 223.3,808 222.8,786 220.5,778 215,775.5 212,773.5" fill="#000"/>
<path d="M225 751V763" stroke="#33962d" stroke-width="1.6" fill="none"/>
<path d="M220.6 778V814" stroke="#ff33ff" stroke-width="1.4" fill="none"/>
<path d="M219.8 780V800" stroke="#1f1fff" stroke-width="1.0" fill="none"/>
<path d="M221.9 768V807" stroke="#f0882e" stroke-width="1.6" fill="none"/>
<line x1="40.3" y1="740.6" x2="64.8" y2="740.6" stroke="#000" stroke-width="1.7"/>
<text x="67.3" y="744.2" font-size="10.4" text-anchor="start" fill="#1e1e1e" textLength="32" lengthAdjust="spacingAndGlyphs">MFGM</text>
<line x1="40.3" y1="753.6" x2="64.8" y2="753.6" stroke="#ff1f1f" stroke-width="1.7"/>
<text x="67.3" y="757.2" font-size="10.4" text-anchor="start" fill="#1e1e1e" textLength="100.5" lengthAdjust="spacingAndGlyphs">MFGM-0.2 mM DTAB</text>
<line x1="40.3" y1="766.5" x2="64.8" y2="766.5" stroke="#1f1fff" stroke-width="1.7"/>
<text x="67.3" y="770.1" font-size="10.4" text-anchor="start" fill="#1e1e1e" textLength="100.5" lengthAdjust="spacingAndGlyphs">MFGM-0.4 mM DTAB</text>
<line x1="40.3" y1="779.5" x2="64.8" y2="779.5" stroke="#ff33ff" stroke-width="1.7"/>
<text x="67.3" y="783.1" font-size="10.4" text-anchor="start" fill="#1e1e1e" textLength="100.5" lengthAdjust="spacingAndGlyphs">MFGM-0.6 mM DTAB</text>
<line x1="40.3" y1="792.4" x2="64.8" y2="792.4" stroke="#33962d" stroke-width="1.7"/>
<text x="67.3" y="796" font-size="10.4" text-anchor="start" fill="#1e1e1e" textLength="100.5" lengthAdjust="spacingAndGlyphs">MFGM-0.8 mM DTAB</text>
<line x1="40.3" y1="805.4" x2="64.8" y2="805.4" stroke="#f0882e" stroke-width="1.7"/>
<text x="67.3" y="809" font-size="10.4" text-anchor="start" fill="#1e1e1e" textLength="91" lengthAdjust="spacingAndGlyphs">MFGM-1 mM DTAB</text>
<line x1="37.3" y1="637.8" x2="227.4" y2="637.8" stroke="#5a5a5a" stroke-width="1"/>
<line x1="227.4" y1="637.8" x2="227.4" y2="814.1" stroke="#5a5a5a" stroke-width="1"/>
<line x1="37.3" y1="637.8" x2="37.3" y2="814.1" stroke="#222" stroke-width="1.1"/>
<line x1="36.8" y1="814.1" x2="227.4" y2="814.1" stroke="#222" stroke-width="1.1"/>
<line x1="33.3" y1="814" x2="37.3" y2="814" stroke="#222" stroke-width="0.8"/>
<line x1="35" y1="805.2" x2="37.3" y2="805.2" stroke="#222" stroke-width="0.8"/>
<line x1="35" y1="800" x2="37.3" y2="800" stroke="#222" stroke-width="0.8"/>
<line x1="35" y1="796.3" x2="37.3" y2="796.3" stroke="#222" stroke-width="0.8"/>
<line x1="35" y1="793.4" x2="37.3" y2="793.4" stroke="#222" stroke-width="0.8"/>
<line x1="35" y1="791.1" x2="37.3" y2="791.1" stroke="#222" stroke-width="0.8"/>
<line x1="35" y1="789.1" x2="37.3" y2="789.1" stroke="#222" stroke-width="0.8"/>
<line x1="35" y1="787.4" x2="37.3" y2="787.4" stroke="#222" stroke-width="0.8"/>
<line x1="35" y1="785.9" x2="37.3" y2="785.9" stroke="#222" stroke-width="0.8"/>
<line x1="33.3" y1="784.5" x2="37.3" y2="784.5" stroke="#222" stroke-width="0.8"/>
<line x1="35" y1="775.6" x2="37.3" y2="775.6" stroke="#222" stroke-width="0.8"/>
<line x1="35" y1="770.4" x2="37.3" y2="770.4" stroke="#222" stroke-width="0.8"/>
<line x1="35" y1="766.7" x2="37.3" y2="766.7" stroke="#222" stroke-width="0.8"/>
<line x1="35" y1="763.8" x2="37.3" y2="763.8" stroke="#222" stroke-width="0.8"/>
<line x1="35" y1="761.5" x2="37.3" y2="761.5" stroke="#222" stroke-width="0.8"/>
<line x1="35" y1="759.5" x2="37.3" y2="759.5" stroke="#222" stroke-width="0.8"/>
<line x1="35" y1="757.8" x2="37.3" y2="757.8" stroke="#222" stroke-width="0.8"/>
<line x1="35" y1="756.3" x2="37.3" y2="756.3" stroke="#222" stroke-width="0.8"/>
<line x1="33.3" y1="754.9" x2="37.3" y2="754.9" stroke="#222" stroke-width="0.8"/>
<line x1="35" y1="746.1" x2="37.3" y2="746.1" stroke="#222" stroke-width="0.8"/>
<line x1="35" y1="740.9" x2="37.3" y2="740.9" stroke="#222" stroke-width="0.8"/>
<line x1="35" y1="737.2" x2="37.3" y2="737.2" stroke="#222" stroke-width="0.8"/>
<line x1="35" y1="734.3" x2="37.3" y2="734.3" stroke="#222" stroke-width="0.8"/>
<line x1="35" y1="732" x2="37.3" y2="732" stroke="#222" stroke-width="0.8"/>
<line x1="35" y1="730" x2="37.3" y2="730" stroke="#222" stroke-width="0.8"/>
<line x1="35" y1="728.3" x2="37.3" y2="728.3" stroke="#222" stroke-width="0.8"/>
<line x1="35" y1="726.8" x2="37.3" y2="726.8" stroke="#222" stroke-width="0.8"/>
<line x1="33.3" y1="725.4" x2="37.3" y2="725.4" stroke="#222" stroke-width="0.8"/>
<line x1="35" y1="716.5" x2="37.3" y2="716.5" stroke="#222" stroke-width="0.8"/>
<line x1="35" y1="711.3" x2="37.3" y2="711.3" stroke="#222" stroke-width="0.8"/>
<line x1="35" y1="707.6" x2="37.3" y2="707.6" stroke="#222" stroke-width="0.8"/>
<line x1="35" y1="704.7" x2="37.3" y2="704.7" stroke="#222" stroke-width="0.8"/>
<line x1="35" y1="702.4" x2="37.3" y2="702.4" stroke="#222" stroke-width="0.8"/>
<line x1="35" y1="700.4" x2="37.3" y2="700.4" stroke="#222" stroke-width="0.8"/>
<line x1="35" y1="698.7" x2="37.3" y2="698.7" stroke="#222" stroke-width="0.8"/>
<line x1="35" y1="697.2" x2="37.3" y2="697.2" stroke="#222" stroke-width="0.8"/>
<line x1="33.3" y1="695.8" x2="37.3" y2="695.8" stroke="#222" stroke-width="0.8"/>
<line x1="35" y1="687" x2="37.3" y2="687" stroke="#222" stroke-width="0.8"/>
<line x1="35" y1="681.8" x2="37.3" y2="681.8" stroke="#222" stroke-width="0.8"/>
<line x1="35" y1="678.1" x2="37.3" y2="678.1" stroke="#222" stroke-width="0.8"/>
<line x1="35" y1="675.2" x2="37.3" y2="675.2" stroke="#222" stroke-width="0.8"/>
<line x1="35" y1="672.9" x2="37.3" y2="672.9" stroke="#222" stroke-width="0.8"/>
<line x1="35" y1="670.9" x2="37.3" y2="670.9" stroke="#222" stroke-width="0.8"/>
<line x1="35" y1="669.2" x2="37.3" y2="669.2" stroke="#222" stroke-width="0.8"/>
<line x1="35" y1="667.7" x2="37.3" y2="667.7" stroke="#222" stroke-width="0.8"/>
<line x1="33.3" y1="666.3" x2="37.3" y2="666.3" stroke="#222" stroke-width="0.8"/>
<line x1="35" y1="657.4" x2="37.3" y2="657.4" stroke="#222" stroke-width="0.8"/>
<line x1="35" y1="652.2" x2="37.3" y2="652.2" stroke="#222" stroke-width="0.8"/>
<line x1="35" y1="648.5" x2="37.3" y2="648.5" stroke="#222" stroke-width="0.8"/>
<line x1="35" y1="645.6" x2="37.3" y2="645.6" stroke="#222" stroke-width="0.8"/>
<line x1="35" y1="643.3" x2="37.3" y2="643.3" stroke="#222" stroke-width="0.8"/>
<line x1="35" y1="641.3" x2="37.3" y2="641.3" stroke="#222" stroke-width="0.8"/>
<line x1="35" y1="639.6" x2="37.3" y2="639.6" stroke="#222" stroke-width="0.8"/>
<line x1="35" y1="638.1" x2="37.3" y2="638.1" stroke="#222" stroke-width="0.8"/>
<line x1="40.5" y1="814.1" x2="40.5" y2="816.4" stroke="#222" stroke-width="0.8"/>
<line x1="47.1" y1="814.1" x2="47.1" y2="816.4" stroke="#222" stroke-width="0.8"/>
<line x1="52.8" y1="814.1" x2="52.8" y2="816.4" stroke="#222" stroke-width="0.8"/>
<line x1="57.9" y1="814.1" x2="57.9" y2="816.4" stroke="#222" stroke-width="0.8"/>
<line x1="62.4" y1="814.1" x2="62.4" y2="818.1" stroke="#222" stroke-width="0.8"/>
<line x1="92.1" y1="814.1" x2="92.1" y2="816.4" stroke="#222" stroke-width="0.8"/>
<line x1="109.5" y1="814.1" x2="109.5" y2="816.4" stroke="#222" stroke-width="0.8"/>
<line x1="121.9" y1="814.1" x2="121.9" y2="816.4" stroke="#222" stroke-width="0.8"/>
<line x1="131.5" y1="814.1" x2="131.5" y2="816.4" stroke="#222" stroke-width="0.8"/>
<line x1="139.3" y1="814.1" x2="139.3" y2="816.4" stroke="#222" stroke-width="0.8"/>
<line x1="145.9" y1="814.1" x2="145.9" y2="816.4" stroke="#222" stroke-width="0.8"/>
<line x1="151.6" y1="814.1" x2="151.6" y2="816.4" stroke="#222" stroke-width="0.8"/>
<line x1="156.7" y1="814.1" x2="156.7" y2="816.4" stroke="#222" stroke-width="0.8"/>
<line x1="161.2" y1="814.1" x2="161.2" y2="818.1" stroke="#222" stroke-width="0.8"/>
<line x1="190.9" y1="814.1" x2="190.9" y2="816.4" stroke="#222" stroke-width="0.8"/>
<line x1="208.3" y1="814.1" x2="208.3" y2="816.4" stroke="#222" stroke-width="0.8"/>
<line x1="220.7" y1="814.1" x2="220.7" y2="816.4" stroke="#222" stroke-width="0.8"/>
<text x="19.3" y="652.5" font-size="13.6" text-anchor="middle" fill="#1e1e1e">J</text>
<text x="15.5" y="670.9" font-size="13.6" text-anchor="middle" fill="#1e1e1e">1000</text>
<text x="16.3" y="818.7" font-size="13.6" text-anchor="middle" fill="#1e1e1e">0.01</text>
<text x="62.4" y="831.1" font-size="13.6" text-anchor="middle" fill="#1e1e1e">0.01</text>
<text x="161.2" y="831.1" font-size="13.6" text-anchor="middle" fill="#1e1e1e">0.1</text>
<text x="24.5" y="729" font-size="13" text-anchor="middle" fill="#1e1e1e" transform="rotate(-90 24.5 729)">Log <tspan font-style="italic">I</tspan>(<tspan font-style="italic">q</tspan>) (a.u.)</text>
<text x="124" y="843.1" font-size="13" text-anchor="middle" fill="#1e1e1e"><tspan font-style="italic">q</tspan> (Å<tspan dy="-5" font-size="8.5">-1</tspan><tspan dy="5">)</tspan></text>
<path d="M255.3 810.5V818M259.3 807.9V815.4M263.4 800.2V807.7M267.4 788.6V796.1M271.5 774V781.5M275.5 757.6V765.1M279.6 740.4V747.9M283.6 723.1V730.6M287.7 706.5V714M291.7 691V698.5M295.8 677.1V684.6M299.8 665V672.5M303.9 655V662.5M307.9 647.2V654.7M312 641.7V649.2M316 638.3V645.8M320.1 637.1V644.6M324.1 637.9V645.4M328.2 640.6V648.1M332.2 645.1V652.6M336.3 651.2V658.7M340.3 658.5V666M344.4 667V674.5M348.4 676.3V683.8M352.5 686.4V693.9M356.5 696.8V704.3M360.6 707.5V715M364.6 718.3V725.8M368.7 728.9V736.4M372.7 739.3V746.8M376.8 749.2V756.7M380.8 758.5V766M384.9 767.2V774.7M388.9 775.2V782.7M393 782.3V789.8M397 788.7V796.2M401.1 794.1V801.6M405.1 798.7V806.2M409.2 802.4V809.9M413.2 805.3V812.8M417.3 807.5V815M421.3 808.9V816.4M425.4 809.9V817.4M429.4 810.3V817.8M433.5 810.4V817.9" stroke="#000" stroke-width="0.6" fill="none" opacity="0.55"/>
<polyline points="255.3,814.2 257.3,813.6 259.3,811.6 261.4,808.4 263.4,804 265.4,798.6 267.4,792.3 269.5,785.3 271.5,777.7 273.5,769.7 275.5,761.4 277.6,752.8 279.6,744.1 281.6,735.5 283.6,726.9 285.7,718.4 287.7,710.2 289.7,702.3 291.7,694.7 293.8,687.6 295.8,680.8 297.8,674.5 299.8,668.8 301.9,663.5 303.9,658.8 305.9,654.6 307.9,651 310,647.9 312,645.4 314,643.4 316,642 318.1,641.2 320.1,640.8 322.1,641 324.1,641.6 326.2,642.8 328.2,644.4 330.2,646.4 332.2,648.9 334.3,651.7 336.3,654.9 338.3,658.4 340.3,662.3 342.4,666.4 344.4,670.7 346.4,675.3 348.4,680.1 350.5,685 352.5,690.1 354.5,695.3 356.5,700.6 358.6,705.9 360.6,711.3 362.6,716.7 364.6,722 366.7,727.4 368.7,732.7 370.7,737.9 372.7,743 374.8,748 376.8,752.9 378.8,757.7 380.8,762.3 382.9,766.7 384.9,771 386.9,775.1 388.9,778.9 391,782.6 393,786.1 395,789.4 397,792.4 399.1,795.2 401.1,797.8 403.1,800.2 405.1,802.4 407.2,804.4 409.2,806.1 411.2,807.7 413.2,809.1 415.3,810.2 417.3,811.2 419.3,812 421.3,812.7 423.4,813.2 425.4,813.6 427.4,813.9 429.4,814.1 431.5,814.2 433.5,814.2 435.5,814.2" fill="none" stroke="#000" stroke-width="2.9" stroke-linejoin="round" stroke-linecap="round"/>
<path d="M255.3 810.5V818M259.1 808.8V816.3M262.9 803.9V811.4M266.6 796.4V803.9M270.4 787V794.5M274.2 776.4V783.9M278 765.3V772.8M281.8 754.2V761.7M285.5 743.4V750.9M289.3 733.4V740.9M293.1 724.3V731.8M296.9 716.4V723.9M300.7 709.9V717.4M304.4 704.8V712.3M308.2 701.1V708.6M312 698.8V706.3M315.8 697.9V705.4M319.6 698.3V705.8M323.3 700V707.5M327.1 702.8V710.3M330.9 706.7V714.2M334.7 711.4V718.9M338.5 716.9V724.4M342.2 722.9V730.4M346 729.4V736.9M349.8 736.2V743.7M353.6 743.2V750.7M357.4 750.2V757.7M361.1 757.1V764.6M364.9 763.9V771.4M368.7 770.4V777.9M372.5 776.5V784M376.3 782.2V789.7M380 787.4V794.9M383.8 792.1V799.6M387.6 796.2V803.7M391.4 799.7V807.2M395.2 802.7V810.2M398.9 805.2V812.7M402.7 807.1V814.6M406.5 808.5V816M410.3 809.5V817M414.1 810.1V817.6M417.8 810.4V817.9M421.6 810.4V817.9" stroke="#ff1f1f" stroke-width="0.6" fill="none" opacity="0.55"/>
<polyline points="255.3,814.2 257.2,813.8 259.1,812.5 261,810.5 262.9,807.6 264.7,804.2 266.6,800.1 268.5,795.6 270.4,790.7 272.3,785.6 274.2,780.2 276.1,774.7 278,769.1 279.9,763.5 281.8,757.9 283.6,752.5 285.5,747.1 287.4,742 289.3,737.1 291.2,732.4 293.1,728.1 295,724 296.9,720.2 298.8,716.8 300.7,713.7 302.5,710.9 304.4,708.5 306.3,706.5 308.2,704.8 310.1,703.5 312,702.5 313.9,701.9 315.8,701.6 317.7,701.7 319.6,702 321.4,702.7 323.3,703.7 325.2,705 327.1,706.6 329,708.4 330.9,710.4 332.8,712.7 334.7,715.2 336.6,717.8 338.5,720.6 340.3,723.6 342.2,726.7 344.1,729.9 346,733.2 347.9,736.6 349.8,740 351.7,743.5 353.6,747 355.5,750.5 357.4,754 359.2,757.4 361.1,760.9 363,764.3 364.9,767.6 366.8,770.9 368.7,774.1 370.6,777.2 372.5,780.2 374.4,783.1 376.3,785.9 378.1,788.6 380,791.1 381.9,793.5 383.8,795.8 385.7,797.9 387.6,799.9 389.5,801.8 391.4,803.5 393.3,805.1 395.2,806.5 397,807.8 398.9,808.9 400.8,809.9 402.7,810.8 404.6,811.6 406.5,812.2 408.4,812.8 410.3,813.2 412.2,813.6 414.1,813.8 415.9,814 417.8,814.1 419.7,814.2 421.6,814.2 423.5,814.2" fill="none" stroke="#ff1f1f" stroke-width="2.9" stroke-linejoin="round" stroke-linecap="round"/>
<path d="M255.3 810.5V818M259.2 808.3V815.8M263 801.9V809.4M266.9 792.1V799.6M270.7 779.9V787.4M274.6 766.4V773.9M278.5 752.2V759.7M282.3 738V745.5M286.2 724.4V731.9M290 711.9V719.4M293.9 700.8V708.3M297.7 691.3V698.8M301.6 683.6V691.1M305.5 677.7V685.2M309.3 673.7V681.2M313.2 671.5V679M317 671.1V678.6M320.9 672.3V679.8M324.8 675V682.5M328.6 679V686.5M332.5 684.1V691.6M336.3 690.3V697.8M340.2 697.2V704.7M344 704.8V712.3M347.9 712.9V720.4M351.8 721.2V728.7M355.6 729.8V737.3M359.5 738.3V745.8M363.3 746.7V754.2M367.2 754.8V762.3M371.1 762.6V770.1M374.9 770V777.5M378.8 776.8V784.3M382.6 783V790.5M386.5 788.6V796.1M390.3 793.5V801M394.2 797.7V805.2M398.1 801.3V808.8M401.9 804.2V811.7M405.8 806.5V814M409.6 808.1V815.6M413.5 809.3V816.8M417.4 810V817.5M421.2 810.3V817.8M425.1 810.4V817.9" stroke="#1f1fff" stroke-width="0.6" fill="none" opacity="0.55"/>
<polyline points="255.3,814.2 257.2,813.7 259.2,812 261.1,809.3 263,805.6 264.9,801.1 266.9,795.8 268.8,790 270.7,783.7 272.7,777 274.6,770.1 276.5,763 278.5,755.9 280.4,748.8 282.3,741.7 284.2,734.9 286.2,728.2 288.1,721.8 290,715.7 292,709.9 293.9,704.5 295.8,699.6 297.7,695 299.7,690.9 301.6,687.3 303.5,684.1 305.5,681.4 307.4,679.2 309.3,677.4 311.2,676.1 313.2,675.3 315.1,674.8 317,674.9 319,675.3 320.9,676.1 322.8,677.2 324.8,678.8 326.7,680.6 328.6,682.7 330.5,685.2 332.5,687.9 334.4,690.8 336.3,694 338.3,697.4 340.2,701 342.1,704.7 344,708.6 346,712.5 347.9,716.6 349.8,720.8 351.8,725 353.7,729.2 355.6,733.5 357.5,737.8 359.5,742 361.4,746.3 363.3,750.4 365.3,754.5 367.2,758.6 369.1,762.5 371.1,766.4 373,770.1 374.9,773.7 376.8,777.2 378.8,780.5 380.7,783.7 382.6,786.7 384.6,789.6 386.5,792.3 388.4,794.9 390.3,797.2 392.3,799.5 394.2,801.5 396.1,803.4 398.1,805 400,806.6 401.9,807.9 403.8,809.2 405.8,810.2 407.7,811.1 409.6,811.9 411.6,812.5 413.5,813 415.4,813.4 417.4,813.7 419.3,814 421.2,814.1 423.1,814.2 425.1,814.2 427,814.2" fill="none" stroke="#1f1fff" stroke-width="2.9" stroke-linejoin="round" stroke-linecap="round"/>
<path d="M255.3 810.5V818M259.2 807.6V815.1M263 799.1V806.6M266.9 786.3V793.8M270.7 770.6V778.1M274.6 753.1V760.6M278.5 735V742.5M282.3 717.1V724.6M286.2 700.3V707.8M290 685V692.5M293.9 671.7V679.2M297.7 660.6V668.1M301.6 651.9V659.4M305.5 645.7V653.2M309.3 642V649.5M313.2 640.7V648.2M317 641.4V648.9M320.9 644V651.5M324.8 648.1V655.6M328.6 653.7V661.2M332.5 660.5V668M336.3 668.3V675.8M340.2 677V684.5M344 686.4V693.9M347.9 696.2V703.7M351.8 706.2V713.7M355.6 716.4V723.9M359.5 726.5V734M363.3 736.4V743.9M367.2 746V753.5M371.1 755.1V762.6M374.9 763.7V771.2M378.8 771.6V779.1M382.6 778.8V786.3M386.5 785.3V792.8M390.3 791V798.5M394.2 795.8V803.3M398.1 799.9V807.4M401.9 803.3V810.8M405.8 805.9V813.4M409.6 807.8V815.3M413.5 809.1V816.6M417.4 809.9V817.4M421.2 810.3V817.8M425.1 810.4V817.9" stroke="#ff33ff" stroke-width="0.6" fill="none" opacity="0.55"/>
<polyline points="255.3,814.2 257.2,813.5 259.2,811.3 261.1,807.7 263,802.9 264.9,796.9 266.9,790.1 268.8,782.5 270.7,774.3 272.7,765.7 274.6,756.8 276.5,747.8 278.5,738.7 280.4,729.7 282.3,720.9 284.2,712.3 286.2,704 288.1,696.2 290,688.7 292,681.8 293.9,675.4 295.8,669.6 297.7,664.3 299.7,659.7 301.6,655.7 303.5,652.2 305.5,649.5 307.4,647.3 309.3,645.7 311.2,644.8 313.2,644.4 315.1,644.6 317,645.2 319,646.2 320.9,647.7 322.8,649.6 324.8,651.9 326.7,654.5 328.6,657.4 330.5,660.7 332.5,664.2 334.4,668 336.3,672.1 338.3,676.3 340.2,680.8 342.1,685.4 344,690.1 346,695 347.9,699.9 349.8,704.9 351.8,710 353.7,715.1 355.6,720.2 357.5,725.2 359.5,730.3 361.4,735.3 363.3,740.2 365.3,745 367.2,749.7 369.1,754.4 371.1,758.9 373,763.2 374.9,767.4 376.8,771.5 378.8,775.3 380.7,779 382.6,782.6 384.6,785.9 386.5,789 388.4,792 390.3,794.7 392.3,797.2 394.2,799.6 396.1,801.7 398.1,803.7 400,805.4 401.9,807 403.8,808.4 405.8,809.6 407.7,810.7 409.6,811.5 411.6,812.3 413.5,812.9 415.4,813.3 417.4,813.7 419.3,813.9 421.2,814.1 423.1,814.2 425.1,814.2 427,814.2" fill="none" stroke="#ff33ff" stroke-width="2.9" stroke-linejoin="round" stroke-linecap="round"/>
<path d="M255.3 810.5V818M259.2 808V815.5M263.1 800.6V808.1M267 789.4V796.9M270.9 775.5V783M274.8 760.1V767.6M278.7 743.9V751.4M282.6 727.9V735.4M286.5 712.6V720.1M290.4 698.5V706M294.3 686.1V693.6M298.2 675.5V683M302.1 667V674.5M306 660.7V668.2M309.9 656.5V664M313.9 654.3V661.8M317.8 654.2V661.7M321.7 655.9V663.4M325.6 659.1V666.6M329.5 663.8V671.3M333.4 669.7V677.2M337.3 676.7V684.2M341.2 684.6V692.1M345.1 693.1V700.6M349 702.2V709.7M352.9 711.5V719M356.8 721V728.5M360.7 730.5V738M364.6 739.9V747.4M368.5 748.9V756.4M372.4 757.6V765.1M376.3 765.7V773.2M380.2 773.2V780.7M384.1 780.1V787.6M388 786.3V793.8M391.9 791.7V799.2M395.8 796.4V803.9M399.7 800.3V807.8M403.6 803.5V811M407.5 806V813.5M411.4 807.9V815.4M415.3 809.2V816.7M419.2 809.9V817.4M423.1 810.3V817.8M427 810.4V817.9" stroke="#33962d" stroke-width="0.6" fill="none" opacity="0.55"/>
<polyline points="255.3,814.2 257.3,813.6 259.2,811.7 261.2,808.6 263.1,804.4 265.1,799.2 267,793.2 269,786.5 270.9,779.3 272.9,771.7 274.8,763.8 276.8,755.8 278.7,747.7 280.7,739.6 282.6,731.6 284.6,723.9 286.5,716.3 288.5,709.1 290.4,702.3 292.4,695.8 294.3,689.8 296.3,684.3 298.2,679.3 300.2,674.8 302.1,670.8 304.1,667.3 306,664.4 308,662 309.9,660.2 311.9,658.9 313.9,658.1 315.8,657.8 317.8,658 319.7,658.6 321.7,659.6 323.6,661.1 325.6,662.9 327.5,665 329.5,667.6 331.4,670.4 333.4,673.5 335.3,676.8 337.3,680.5 339.2,684.3 341.2,688.3 343.1,692.5 345.1,696.9 347,701.3 349,705.9 350.9,710.6 352.9,715.3 354.8,720 356.8,724.8 358.7,729.5 360.7,734.3 362.6,739 364.6,743.6 366.5,748.2 368.5,752.7 370.4,757 372.4,761.3 374.4,765.4 376.3,769.4 378.3,773.3 380.2,777 382.2,780.5 384.1,783.9 386.1,787 388,790 390,792.9 391.9,795.5 393.9,797.9 395.8,800.2 397.8,802.2 399.7,804.1 401.7,805.8 403.6,807.3 405.6,808.6 407.5,809.8 409.5,810.8 411.4,811.6 413.4,812.3 415.3,812.9 417.3,813.4 419.2,813.7 421.2,813.9 423.1,814.1 425.1,814.2 427,814.2 429,814.2" fill="none" stroke="#33962d" stroke-width="2.9" stroke-linejoin="round" stroke-linecap="round"/>
<path d="M255.3 810.5V818M259.1 808.6V816.1M262.9 803V810.5M266.7 794.5V802M270.5 783.9V791.4M274.3 772V779.5M278 759.5V767M281.8 747V754.5M285.6 734.9V742.4M289.4 723.7V731.2M293.2 713.7V721.2M297 705V712.5M300.8 697.9V705.4M304.6 692.3V699.8M308.4 688.4V695.9M312.2 686.1V693.6M316 685.4V692.9M319.7 686.1V693.6M323.5 688.2V695.7M327.3 691.5V699M331.1 695.9V703.4M334.9 701.3V708.8M338.7 707.4V714.9M342.5 714.2V721.7M346.3 721.4V728.9M350.1 728.9V736.4M353.9 736.6V744.1M357.7 744.4V751.9M361.4 752V759.5M365.2 759.4V766.9M369 766.6V774.1M372.8 773.3V780.8M376.6 779.5V787M380.4 785.2V792.7M384.2 790.3V797.8M388 794.9V802.4M391.8 798.7V806.2M395.6 802V809.5M399.4 804.7V812.2M403.1 806.8V814.3M406.9 808.3V815.8M410.7 809.4V816.9M414.5 810V817.5M418.3 810.3V817.8M422.1 810.4V817.9" stroke="#f0882e" stroke-width="0.6" fill="none" opacity="0.55"/>
<polyline points="255.3,814.2 257.2,813.7 259.1,812.3 261,810 262.9,806.8 264.8,802.8 266.7,798.2 268.6,793.2 270.5,787.6 272.4,781.8 274.3,775.7 276.2,769.5 278,763.2 279.9,756.9 281.8,750.7 283.7,744.6 285.6,738.7 287.5,732.9 289.4,727.5 291.3,722.3 293.2,717.4 295.1,712.9 297,708.8 298.9,705 300.8,701.6 302.7,698.7 304.6,696.1 306.5,693.9 308.4,692.2 310.3,690.8 312.2,689.9 314.1,689.3 316,689.1 317.9,689.3 319.7,689.8 321.6,690.7 323.5,691.9 325.4,693.4 327.3,695.2 329.2,697.3 331.1,699.6 333,702.2 334.9,705 336.8,708 338.7,711.2 340.6,714.5 342.5,717.9 344.4,721.5 346.3,725.2 348.2,728.9 350.1,732.7 352,736.5 353.9,740.4 355.8,744.3 357.7,748.1 359.6,752 361.4,755.8 363.3,759.5 365.2,763.2 367.1,766.8 369,770.3 370.9,773.7 372.8,777 374.7,780.2 376.6,783.3 378.5,786.2 380.4,789 382.3,791.6 384.2,794.1 386.1,796.4 388,798.6 389.9,800.6 391.8,802.5 393.7,804.2 395.6,805.8 397.5,807.2 399.4,808.4 401.3,809.5 403.1,810.5 405,811.4 406.9,812.1 408.8,812.7 410.7,813.1 412.6,813.5 414.5,813.8 416.4,814 418.3,814.1 420.2,814.2 422.1,814.2 424,814.2" fill="none" stroke="#f0882e" stroke-width="2.9" stroke-linejoin="round" stroke-linecap="round"/>
<line x1="255.3" y1="638" x2="446.2" y2="638" stroke="#5a5a5a" stroke-width="1"/>
<line x1="446.2" y1="638" x2="446.2" y2="814.2" stroke="#5a5a5a" stroke-width="1"/>
<line x1="255.3" y1="638" x2="255.3" y2="814.2" stroke="#222" stroke-width="1.1"/>
<line x1="254.8" y1="814.2" x2="446.2" y2="814.2" stroke="#222" stroke-width="1.1"/>
<line x1="251.3" y1="696.1" x2="255.3" y2="696.1" stroke="#222" stroke-width="0.9"/>
<line x1="251.3" y1="755.2" x2="255.3" y2="755.2" stroke="#222" stroke-width="0.9"/>
<line x1="251.3" y1="814.2" x2="255.3" y2="814.2" stroke="#222" stroke-width="0.9"/>
<line x1="255.3" y1="814.2" x2="255.3" y2="818.2" stroke="#222" stroke-width="0.9"/>
<line x1="303" y1="814.2" x2="303" y2="818.2" stroke="#222" stroke-width="0.9"/>
<line x1="350.8" y1="814.2" x2="350.8" y2="818.2" stroke="#222" stroke-width="0.9"/>
<line x1="398.5" y1="814.2" x2="398.5" y2="818.2" stroke="#222" stroke-width="0.9"/>
<line x1="446.2" y1="814.2" x2="446.2" y2="818.2" stroke="#222" stroke-width="0.9"/>
<line x1="279.2" y1="814.2" x2="279.2" y2="816.7" stroke="#222" stroke-width="0.9"/>
<line x1="326.9" y1="814.2" x2="326.9" y2="816.7" stroke="#222" stroke-width="0.9"/>
<line x1="374.6" y1="814.2" x2="374.6" y2="816.7" stroke="#222" stroke-width="0.9"/>
<line x1="422.3" y1="814.2" x2="422.3" y2="816.7" stroke="#222" stroke-width="0.9"/>
<text x="241.7" y="650.5" font-size="13.6" text-anchor="middle" fill="#1e1e1e">K</text>
<text x="238" y="700.6" font-size="13.6" text-anchor="middle" fill="#1e1e1e">0.6</text>
<text x="238" y="818.7" font-size="13.6" text-anchor="middle" fill="#1e1e1e">0.0</text>
<text x="255.3" y="831.7" font-size="13.6" text-anchor="middle" fill="#1e1e1e">0</text>
<text x="303" y="831.7" font-size="13.6" text-anchor="middle" fill="#1e1e1e">200</text>
<text x="350.8" y="831.7" font-size="13.6" text-anchor="middle" fill="#1e1e1e">400</text>
<text x="398.5" y="831.7" font-size="13.6" text-anchor="middle" fill="#1e1e1e">600</text>
<text x="446.2" y="831.7" font-size="13.6" text-anchor="middle" fill="#1e1e1e">800</text>
<text x="247" y="730" font-size="13" text-anchor="middle" fill="#1e1e1e" transform="rotate(-90 247 730)"><tspan font-style="italic">p</tspan>(r)</text>
<text x="349.5" y="842.5" font-size="13" text-anchor="middle" fill="#1e1e1e"><tspan font-style="italic">r</tspan>(Å)</text>
<clipPath id="clipL"><rect x="479.3" y="638" width="191" height="175.6"/></clipPath>
<g clip-path="url(#clipL)">
<path d="M480.8 659.1V663.6M481.7 679.6V683.8M482.1 689.5V693.4M482.8 703.3V705.7M483.8 721.8V723.4M484.5 726.2V730.1M485.5 729.8V733.6M486.5 731.7V734.8M487.5 731.7V734.9M487.8 732.2V736.2M488.9 732.1V735.7M489.9 733.1V736M490.4 733V736.9M491.3 733.3V736.9M491.9 734.8V737.5M493 734.8V738.5M493.7 734.9V738.3M494.8 735.1V738.8M495.6 736V738.4M496.3 735.8V739.1M497.4 737.1V740.2M498.5 738.3V740.3M499.4 738.6V741M500.4 739.1V742M501.2 739.9V742.2M502.3 739.5V742.5M502.9 739.7V743.1M503.8 740.9V743.8M504.5 739.9V743.4M505.5 741.8V744.1M506.2 740.4V743.7M506.9 740.6V744.3M507.3 741.7V744.7M507.8 740.7V744.8M508.5 740.7V744M509 740.6V744.9M509.5 741.2V744.5M510 739.8V743.4M510.9 739.7V743.3M511.6 740.8V742.7M512.2 740V743.6M513.3 738.7V741.9M514.3 738.2V742.7M514.9 738.6V740.9M515.4 738V740.7M516.4 736.7V740.5M517.3 736.6V739.5M517.7 735.5V739.7M518.2 735V739.3M518.8 734.5V738.5M519.9 733.2V735.3M520.2 730.9V735.4M521 730.3V733.9M521.5 728.4V732.2M522.5 726.5V729.7M523.5 722.7V726.6M524.3 721.9V724.5M525 719.7V723.4M525.8 717.9V721.4M526.9 714V717M527.3 712.8V716.6M528 711.1V714.7M528.8 709.5V713M529.3 707.4V711.9M530.2 706.8V709.5M530.7 704.8V707.5M531.1 704.3V706.9M531.7 702V705.4M532.1 701.1V705M533.1 699V701.5M534.2 695.5V699.5M535.1 695V697M535.8 693.8V696.6M536.6 693.2V696.4M537.1 692.8V695.2M537.9 692V694.5M538.4 693V695.8M539.5 692.1V696M540.3 693.9V697.1M541.1 693.3V698.2M542.2 695.5V699.1M542.7 695.9V699.4M543.8 697.1V700.2M544.7 698.4V701.3M545.2 698.8V701.6M546.2 699.7V702.3M546.9 699.9V703.3M547.3 700V703M548.3 701.2V704.8M549.1 702.3V705.3M550.2 703.1V706.2M550.9 702.3V705.5M551.9 703.3V707.8M552.8 705.6V708.7M553.8 705.5V708.5M554.8 707.4V709.2M555.9 708.1V710.5M556.8 708.6V711.7M557.2 709.1V711.7M557.7 709.9V712.2M558.8 710.6V714M559.8 710.6V714.4M560.7 712V715.7M561.7 713.1V716.1M562.3 714.2V716.5M563.4 713.8V717.2M563.9 714.6V717.6M564.8 716.5V719.1M565.5 715.9V719.8M566.1 717V719.9M566.7 716.3V719.9M567.5 717.1V720.1M567.9 717.4V721.4M568.9 717.8V721M569.7 717.6V721.8M570.8 718.3V721.8M571.3 717.4V722M572.1 718.2V720.9M573 717.8V721.7M573.4 718.1V721.1M574 717.8V721.4M574.6 718.6V721.7M575 718.4V720.9M576.1 718.6V721.3M576.8 718.2V721.6M577.9 719V722.3M578.6 719V722.4M579.1 719.3V722.2M579.7 719.3V721.6M580.6 720V721.9M581.7 718.6V722.4M582.3 719.3V722.5M583.2 719.7V721.9" stroke="#ff1f1f" stroke-width="0.8" fill="none"/>
<path d="M486.6 732.2H489M488.7 733.1H491.1M492.5 734.9H494.9M495.1 735.8H497.5M499.2 739.1H501.6M501.1 739.5H503.5M506.1 741.7H508.5M506.6 740.7H509M513.1 738.2H515.5M514.2 738H516.6M519.8 730.3H522.2M521.3 726.5H523.7M523.1 721.9H525.5M523.8 719.7H526.2M526.1 712.8H528.5M527.6 709.5H530M528.1 707.4H530.5M529 706.8H531.4M529.5 704.8H531.9M529.9 704.3H532.3M534.6 693.8H537M535.4 693.2H537.8M535.9 692.8H538.3M537.2 693H539.6M539.1 693.9H541.5M539.9 693.3H542.3M542.6 697.1H545M543.5 698.4H545.9M544 698.8H546.4M545 699.7H547.4M550.7 703.3H553.1M553.6 707.4H556M555.6 708.6H558M556 709.1H558.4M560.5 713.1H562.9M561.1 714.2H563.5M563.6 716.5H566M564.3 715.9H566.7M565.5 716.3H567.9M571.8 717.8H574.2M572.8 717.8H575.2M574.9 718.6H577.3M575.6 718.2H578M578.5 719.3H580.9M581.1 719.3H583.5M582 719.7H584.4" stroke="#ff1f1f" stroke-width="0.6" fill="none"/>
<path d="M480.8 648.5V651.7M481.3 659V662.5M482.4 688V691.8M483.1 697.7V699.8M483.6 703.5V708M484.3 710.8V714.3M485 714.9V717.9M485.5 718.7V721.1M486.3 720.4V725.1M487.5 724V728.1M488.2 725.3V728.7M489 727.2V730.7M490 728.7V732.7M491.1 729.9V733.5M492 730.1V735M492.7 730.2V734.9M493.6 731.2V736.1M494.1 732.4V735.4M494.6 732.6V736.6M495.1 733.7V736.1M495.5 734.3V736.7M496.4 734.9V738.3M497.6 735.2V739.2M498.4 737.5V740.6M499.2 736.9V740.9M500.3 738.3V742.4M500.6 738.9V742.8M501.1 740V743.4M502.1 741.4V744.6M503.1 742V744.8M503.8 743.3V745.4M504.3 742.2V746.8M504.8 743.8V747M505.2 742.7V747M506.1 743.2V748.1M506.7 744.2V748.2M507.3 743.1V746.5M508 742.2V747.4M509.1 743.1V746.7M510 743.4V747.3M510.5 742.7V745.5M511.5 741.3V746.9M512.3 742V744.8M513.3 741.4V744.8M514.3 739.6V743.3M514.8 739.8V743.5M515.9 738.1V742.8M516.4 739.1V743.2M517.3 737.2V741.7M518.3 736V741.1M519.2 735.8V738.3M519.8 734.5V738M520.2 733.5V737.5M521 730.3V734.2M521.4 730.9V734.4M522.5 728.2V730.9M523 726.8V729.4M523.8 724.3V727.1M524.8 722.3V725.8M525.7 719.9V724.2M526.3 718.7V722.4M527 715.9V720.2M527.9 714.5V718M529 711.5V715.1M529.9 708V712.9M530.9 706.6V709.9M532.1 702.9V706M533.2 700.5V702.9M533.7 699.3V701.9M534.2 698.3V702M534.6 697.1V699.3M535.8 695.7V697.5M536.1 695.1V698M536.9 694.2V697.5M538 692.9V697.5M538.5 693.2V697.5M539.5 694V698.2M540.2 695.9V698.3M540.8 696.4V700.1M541.7 696.1V699.9M542.4 697.4V702.3M543.2 699.2V703.3M543.7 699.7V703.3M544.4 699.8V703.8M545.5 701.8V705.1M546 701.8V705.4M546.8 703.1V706M547.3 702.7V707.3M548.2 704.1V706.9M548.6 705V708.1M549.7 704.4V709.6M550.8 705.1V710.4M551.7 706.9V709.1M552.3 705.7V709.8M553 706.8V710.7M554 706.7V711.6M554.9 707.7V712.1M555.6 709V713.5M556.3 710.1V713.8M557.1 710V713.1M557.8 709.9V714.1M558.1 710.7V713.8M559.2 712.8V715.6M560.3 712V716M560.8 714.3V716.8M561.2 712.7V718M562.1 715.1V718.2M563.1 714.8V720.2M563.9 715.9V720.2M564.4 716.2V720.2M564.8 717.5V722.5M565.7 717.5V722.5M566.3 719.4V722.1M567.2 720V722.8M568.3 720.1V724.9M568.8 721.5V726.2M569.4 721.9V725.4M570.1 723.2V726.4M570.7 723.7V727.1M571.6 723.1V727.5M572.6 723.7V727.6M573.7 725.1V728.1M574.9 725.9V729.9M575.6 727.1V730.1M576.1 726V731.8M577.3 728.2V731M578.1 728.6V731M578.9 728.6V731.5M579.5 729.2V732.1M580 728.2V733.8M580.7 729.9V733.7M581.2 730.2V734M581.6 729.7V733.8M582.2 729.5V733.3M583.2 731.1V733.4M583.9 731.4V734.1M584.5 731.6V735.3M585.5 731.3V734.7" stroke="#1f1fff" stroke-width="0.8" fill="none"/>
<path d="M480.1 659H482.5M481.9 697.7H484.3M483.1 710.8H485.5M485.1 720.4H487.5M486.3 724H488.7M487 725.3H489.4M489.9 729.9H492.3M493.9 733.7H496.3M496.4 735.2H498.8M497.2 737.5H499.6M499.9 740H502.3M502.6 743.3H505M504 742.7H506.4M506.8 742.2H509.2M507.9 743.1H510.3M511.1 742H513.5M512.1 741.4H514.5M513.1 739.6H515.5M513.6 739.8H516M514.7 738.1H517.1M518 735.8H520.4M518.6 734.5H521M520.2 730.9H522.6M521.3 728.2H523.7M521.8 726.8H524.2M526.7 714.5H529.1M527.8 711.5H530.2M534.6 695.7H537M537.3 693.2H539.7M539 695.9H541.4M539.6 696.4H542M541.2 697.4H543.6M542.5 699.7H544.9M544.8 701.8H547.2M549.6 705.1H552M550.5 706.9H552.9M554.4 709H556.8M558 712.8H560.4M559.1 712H561.5M560.9 715.1H563.3M563.6 717.5H566M567.1 720.1H569.5M568.9 723.2H571.3M569.5 723.7H571.9M573.7 725.9H576.1M574.4 727.1H576.8M574.9 726H577.3M576.9 728.6H579.3M582 731.1H584.4" stroke="#1f1fff" stroke-width="0.6" fill="none"/>
<path d="M480.8 651.2V655.3M481.3 664.9V669.2M481.8 676.6V680.9M482.2 688.1V691.3M483.1 700.5V705.4M484.2 711.2V715.3M485.1 714.8V718.7M486.1 718.4V723.9M486.5 719.6V723.6M487.5 721.9V725.9M488.6 723.6V727.8M489.4 724.3V729.5M490.4 725.5V731.1M490.8 726.9V729.7M491.4 728V731.9M492.2 728.1V732.3M493.2 728.5V732.2M494.1 730.1V734.4M494.6 731.1V733.4M495.5 731.9V734.8M496.4 732.3V735.8M497.3 732.8V737.6M498 733V737M498.6 735.5V738.6M499.3 736.4V739.1M499.7 735.6V739.4M500.4 735.7V739.6M501.4 737.2V742.4M502.3 738.8V742.7M503 739.5V743.7M504.1 739.3V742.9M504.5 741V745M505.5 740.4V743.9M506.1 739.7V744.6M506.5 740.2V745.3M507.4 740V744.3M508.4 740.3V745.6M508.8 740.5V745.1M509.6 739.4V743.7M510.2 741V743.9M510.7 740V743.8M511.2 739.6V744.4M511.8 738.6V743.7M512.9 738.6V743.6M513.9 738.4V742.2M514.9 737.3V740.7M516 735.9V739.8M517 736.5V738.6M517.5 735.3V739.6M518.7 733.2V736.1M519.2 732.1V735.2M519.6 730.5V734.5M520.7 728.9V732.5M521.1 726.4V730.8M522 724.6V727.7M522.4 723.4V727.4M523.1 721.3V724.6M523.8 719.4V721.8M524.9 714.7V719.9M525.6 713.9V718.2M526.4 711.5V714.7M527.3 708.4V712.8M528.1 706.1V708.3M529.2 700.2V704.2M530.3 698.4V702.3M531.1 696.3V699.1M531.8 693V697.7M532.8 691V695.6M533.8 691.1V694.8M534.9 690.4V693.3M535.6 689.2V693.7M536.5 688.7V693M536.9 688.8V693.3M537.4 689.2V693.3M538.2 687.7V692.8M538.9 688.7V693.1M540 688.9V691.6M541.1 688.4V693M541.6 687.8V691.5M542.7 687.8V692.2M543.7 687.8V692.1M544.2 688.8V692.3M544.9 689.5V693.4M545.2 688.3V692.8M546.2 689.4V692.1M546.9 690.4V693.6M548 690.2V694.4M548.5 690.1V693.3M549.6 691.8V694.6M550.2 691V695.5M550.9 691.3V694.9M551.4 692.1V696.6M552 691.4V695.5M553.1 692.4V696.1M553.5 692.7V697.8M553.9 693.1V698.3M554.5 695.1V698.7M555.6 695.4V700.4M556.7 696.1V700.3M557.8 698.3V702.4M558.7 700.3V702.8M559.6 700.9V704.3M560.4 702.5V706.4M560.9 703.2V707M561.9 704.3V707.1M562.6 704.8V709.5M563.2 705.2V709.6M563.9 706.9V710.1M564.5 709V711.4M565.3 709.2V713.2M566.2 711.7V715.1M567.3 713V717M567.7 713.3V716.5M568.2 714.1V717.6M568.6 715.3V719.5M569.8 716V720.7M570.6 717.7V723.1M571.1 718.3V722.9M572.3 719.8V724.7M572.8 722.2V725.2M573.7 723.3V727.3M574.8 724.8V728M575.4 725.9V730.6M576.2 727.2V730.6M577.2 728.3V732.5M577.8 730.8V734.3M578.7 731.2V734.9M579.3 732.6V735.8M579.9 733.1V737.4M580.9 736.4V738.7M582 736.8V741.2M582.5 738.6V741.8M583 739.6V743.7M584 740.4V744.4M584.8 742V746.7M585.7 743.4V747M586.6 746.2V748.3M587.3 745.9V750.1M587.7 746.8V750.1M588.6 747.8V751.8M589.2 748.3V752.7M590.2 751.7V755.6M590.6 750.4V755.8M591.2 751.1V755.9M591.9 753.4V757.7M592.9 754.8V756.9M593.5 754V758.6M594.4 754.5V759M595.4 756.3V760.9" stroke="#ff33ff" stroke-width="0.8" fill="none"/>
<path d="M480.6 676.6H483M483 711.2H485.4M483.9 714.8H486.3M484.9 718.4H487.3M487.4 723.6H489.8M492.9 730.1H495.3M498.1 736.4H500.5M499.2 735.7H501.6M501.1 738.8H503.5M501.8 739.5H504.2M502.9 739.3H505.3M505.3 740.2H507.7M506.2 740H508.6M507.6 740.5H510M508.4 739.4H510.8M510 739.6H512.4M510.6 738.6H513M511.7 738.6H514.1M514.8 735.9H517.2M515.8 736.5H518.2M521.2 723.4H523.6M524.4 713.9H526.8M525.2 711.5H527.6M529.1 698.4H531.5M535.7 688.8H538.1M537 687.7H539.4M539.9 688.4H542.3M549.7 691.3H552.1M550.8 691.4H553.2M553.3 695.1H555.7M554.4 695.4H556.8M555.5 696.1H557.9M557.5 700.3H559.9M562 705.2H564.4M562.7 706.9H565.1M565 711.7H567.4M566.5 713.3H568.9M571.1 719.8H573.5M573.6 724.8H576M576.6 730.8H579M578.7 733.1H581.1M579.7 736.4H582.1M581.3 738.6H583.7M581.8 739.6H584.2M585.4 746.2H587.8M586.1 745.9H588.5M588 748.3H590.4M589.4 750.4H591.8M590 751.1H592.4M591.7 754.8H594.1M592.3 754H594.7M593.2 754.5H595.6" stroke="#ff33ff" stroke-width="0.6" fill="none"/>
<path d="M481 719V722.3M481.4 723V727.2M482.5 734.8V737.5M483.2 740.6V744.8M484.2 747.1V751.8M485.4 750.6V752.6M486.4 750V754.2M487.2 751.4V756.1M487.8 752.2V754.7M488.6 752.4V756.3M489.5 752.3V755.3M490 753.6V757.3M490.9 754V756.7M491.3 752.4V757.7M491.9 754V756.6M492.8 752.9V758M493.3 752.9V756.7M493.7 754.7V757.4M494.8 754.1V757.2M495.9 755.5V758M497 754.5V759M497.9 756.6V759.3M498.9 755.9V760.6M499.5 756V761.2M499.9 756.4V760.4M500.5 757.5V761.2M501.5 756.7V761.5M502 758V762.5M502.9 758.6V762.5M503.7 758.8V762.7M504.5 759.5V761.7M505.5 759.6V763.5M506 758.3V762.5M506.9 758V763.4M507.3 758.4V761.3M507.7 757.5V762.6M508.2 757.9V761M509 757.3V762.8M510.1 757.8V761.5M510.9 757.2V761.4M511.5 757.5V760.7M512.5 756.8V759.1M513.1 755V759.6M513.8 756.1V759.2M514.6 754.3V758.5M515.1 754.3V757.6M515.9 753.1V757.3M516.5 753.4V757.3M517.1 751.8V755.8M518 751.2V753.7M518.7 748.1V752.7M519.1 748.6V752M519.8 745.3V748.9M520.5 743V747.2M521.1 741.8V747M522.2 738V742.5M523.3 734.8V740.1M523.7 734.5V738.4M524.8 730.9V735.4M525.3 729.7V734M526 727V731M526.8 724.3V727.7M527.6 722.5V727.1M528.4 720.4V724.1M529.5 715.9V718.5M530.7 712.3V716.3M531.2 709.3V712.8M531.6 708.7V711.8M532.6 704.5V709.4M533.3 703.2V707.7M534 701.6V704.7M534.5 699.6V705.3M535.6 697.9V702.4M536.5 696.6V699.3M537.5 693.2V697.6M537.9 694V697.7M539 690.4V694.6M540 689.7V692.6M540.4 688.4V693.4M541.2 687.5V692.4M542.2 685.8V690.2M543.3 686.5V690.4M543.7 685.7V689.7M544.6 685.6V689.6M545.2 683.6V688M545.9 684.4V687M546.7 683.7V687.3M547.3 683.5V687.9M548.1 683.7V685.9M549.2 682.9V686.3M549.7 683.4V686.3M550.6 681.4V686.1M551.6 681.4V686.6M552.2 683.3V685.8M552.7 681.7V686.1M553.6 683.9V687.3M554.1 682.2V686.5M555.1 683.9V688.2M555.6 683V688.8M556.6 684.4V688.5M557.2 685.6V689.4M558.2 686.7V689.4M559.2 685.7V690.5M560.4 687V692.4M561.2 689.5V692.3M561.9 689.1V694.4M562.3 690.3V694.2M563.2 691.7V694.7M563.7 691.7V696.5M564.1 694.3V696.8M564.5 694.8V698.6M565.6 696.8V700M566.5 697.6V702.7M567 698.9V702.8M567.8 699.8V704.9M568.5 702V704.5M569.5 703.5V707.3M570.7 703.7V708.9M571 705.5V709.2M571.5 706.4V710.5M571.9 705.9V711M572.3 707V711.4M573.1 708.7V712.7M573.6 710.4V713.8M574.7 711.9V714M575.7 711.8V716.1M576.5 714.8V718.9M577.2 714.2V719.1M577.7 716.2V720.7M578.4 718.4V720.7M579 717.8V723.2M579.4 720.1V722.9M579.8 719.4V724.5M580.3 721.6V724.3M581.1 723.1V725.7M581.9 724.6V729M582.9 726.3V730M584 728.1V732.7M584.5 729.4V732.4M584.9 728.2V732.2M585.4 729.1V734.6M586.4 731.7V734.8M586.8 732.3V736.1M587.4 732.4V735.7M588 733.5V737.2M589.1 734.7V737.5M589.9 735.8V739M590.2 736.6V738.9M591.2 737.4V740.9M591.6 737.1V742" stroke="#33962d" stroke-width="0.8" fill="none"/>
<path d="M480.2 723H482.6M483 747.1H485.4M486 751.4H488.4M487.4 752.4H489.8M489.7 754H492.1M492.1 752.9H494.5M495.8 754.5H498.2M497.7 755.9H500.1M498.3 756H500.7M499.3 757.5H501.7M500.3 756.7H502.7M505.7 758H508.1M506.1 758.4H508.5M507 757.9H509.4M508.9 757.8H511.3M510.3 757.5H512.7M513.4 754.3H515.8M514.7 753.1H517.1M515.3 753.4H517.7M519.3 743H521.7M522.1 734.8H524.5M524.8 727H527.2M527.2 720.4H529.6M529.5 712.3H531.9M531.4 704.5H533.8M533.3 699.6H535.7M536.3 693.2H538.7M538.8 689.7H541.2M540 687.5H542.4M544.7 684.4H547.1M548.5 683.4H550.9M551 683.3H553.4M553.9 683.9H556.3M557 686.7H559.4M558 685.7H560.4M559.2 687H561.6M560.7 689.1H563.1M562.9 694.3H565.3M565.8 698.9H568.2M566.6 699.8H569M568.3 703.5H570.7M570.7 705.9H573.1M571.1 707H573.5M571.9 708.7H574.3M573.5 711.9H575.9M575.3 714.8H577.7M579.1 721.6H581.5M582.8 728.1H585.2M583.3 729.4H585.7M585.2 731.7H587.6M585.6 732.3H588M589 736.6H591.4" stroke="#33962d" stroke-width="0.6" fill="none"/>
<path d="M481 688.6V692.9M482.1 704.1V709.3M482.9 720.3V723.4M483.6 732.6V737.5M484.6 752.7V758.1M485.4 768.8V770.9M486.6 780.1V784.2M487.6 783.3V786.7M488.8 785.7V788.8M489.9 787.5V790.7M490.7 786.8V791.4M491.1 788V790.9M492.1 788.2V790.8M492.6 787.3V791M493.7 787.7V791.4M494.6 788.7V792.8M495.2 788.2V791.7M495.6 787.4V792.2M496.4 787.7V791.8M497 788.2V792M497.5 787.3V792.7M498.6 789V793M499.5 787.5V792.4M500.4 787.2V792.9M501.2 787.6V792.3M502.2 788V791.6M502.8 788.8V791.4M503.5 787.8V791.6M504.5 787.3V790.2M505.1 785.9V790.9M505.6 785.6V791.5M506.4 786.3V789.7M506.9 785.3V790.4M507.6 786.1V789.7M508.3 785.1V788.2M508.7 783.6V789.1M509.4 783.5V787.7M509.8 784.1V787.7M510.3 783V786.8M510.8 783.1V785.9M511.3 780.9V785.2M512.3 779.1V783.6M513.4 777.9V781.1M514 776.9V780.5M514.8 775.1V778.4M515.6 772.5V776M516.3 771.8V775.5M516.9 770V773.1M517.9 766.6V771.6M518.3 765.1V770.8M519.2 763.1V767.2M519.6 762.9V766.4M520.6 759.3V761.4M521.1 756.7V759.9M521.6 755.3V759M522.6 751.8V753.7M523.1 748.3V753.5M524.1 745.4V748.8M525.3 740.2V743.4M526 737.8V739.8M526.6 734.3V737.5M527.5 730.1V735.2M527.8 730.1V732.4M528.4 727.2V730.1M529 724.2V727.5M529.6 720.5V725.3M530 719.8V721.9M531 714.3V717.6M532 710.3V713.9M532.9 705.9V710.4M533.8 702.6V706.2M534.4 699.4V704.2M535.3 696.3V699.5M535.7 695.9V698.6M536.5 691.9V695.5M536.8 690.3V695.7M537.6 688.6V691M538.1 685.6V690.8M538.6 685.3V689.3M539.5 681.4V684.6M540.2 678.9V683.7M541 676.7V681.2M541.6 675.4V677.9M542.8 671.2V676.6M543.8 669.6V674M544.9 666.6V670.8M545.7 666V668.5M546.4 663.6V666.6M547.5 662V664.4M548.4 659.7V663.2M549.1 659.9V662.1M550.2 657.8V662.1M551.3 656.9V661.2M551.9 657.6V662.5M552.7 658.7V661.6M553.7 658.2V661.9M554.8 659.9V663M555.4 659.9V662.5M556.1 659.9V663M556.4 659.6V664.7M556.9 660.9V664.9M557.5 661.7V665.3M558.5 661.1V665.7M559.1 663.6V666.2M560 663.3V668.1M560.5 665.2V668.4M561.2 666.1V669.8M562 667.2V670.4M562.8 667.1V671.2M563.9 670.7V674.2M564.5 671.4V673.6M565.5 672.3V676.2M566.5 674V679.8M567.5 677.2V680.9M568 678.9V682.4M568.4 680.1V684.4M569.1 680.8V686.2M570.3 684.4V689.7M570.8 687.6V691.6M571.9 690.1V693.4M572.8 694.3V698.7M573.8 697.9V701.6M574.9 699.9V705.5M575.6 702.8V707.6M576.2 704.4V709.8M576.7 705.5V711.4M577.8 708.6V712.7M578.7 712.9V717.2M579.4 714.1V718.2M580 715.9V720.1M580.7 717.8V721.2M581.2 719V724M581.8 720.1V724.5M582.9 723.2V727.3M583.8 726.9V729.9M584.7 729.7V732.7M585.6 730.4V734.8M586.6 733.4V737.7M587.4 735.4V738.8M587.7 736V740.3M588.7 739.1V741.7M589.4 741V744M589.8 740.7V745.3M590.6 741.9V746M591.2 744.4V749.2M591.8 745.2V748.9M592.9 749.3V753.2M594.1 752.1V755M594.8 753.1V757.5M596 755.8V760.7M596.6 758.7V761.9M597.1 760V763.6M597.6 761.4V764M598.8 762.9V768.4M599.8 765.8V769.9M600.3 766.8V770.4M601.4 767.6V771.7M602.2 770.7V773.6M603 770.7V773.9M603.7 772V776.7" stroke="#f0882e" stroke-width="0.8" fill="none"/>
<path d="M480.9 704.1H483.3M482.4 732.6H484.8M483.4 752.7H485.8M484.2 768.8H486.6M486.4 783.3H488.8M487.6 785.7H490M488.7 787.5H491.1M492.5 787.7H494.9M496.3 787.3H498.7M502.3 787.8H504.7M505.7 785.3H508.1M506.4 786.1H508.8M508.2 783.5H510.6M509.1 783H511.5M510.1 780.9H512.5M512.2 777.9H514.6M518 763.1H520.4M519.4 759.3H521.8M521.9 748.3H524.3M522.9 745.4H525.3M524.1 740.2H526.5M524.8 737.8H527.2M526.3 730.1H528.7M526.6 730.1H529M527.2 727.2H529.6M527.8 724.2H530.2M528.4 720.5H530.8M528.8 719.8H531.2M534.1 696.3H536.5M535.6 690.3H538M536.4 688.6H538.8M536.9 685.6H539.3M537.4 685.3H539.8M539.8 676.7H542.2M541.6 671.2H544M550.1 656.9H552.5M551.5 658.7H553.9M555.2 659.6H557.6M558.8 663.3H561.2M560 666.1H562.4M561.6 667.1H564M563.3 671.4H565.7M565.3 674H567.7M566.3 677.2H568.7M567.9 680.8H570.3M570.7 690.1H573.1M572.6 697.9H575M575 704.4H577.4M576.6 708.6H579M580.6 720.1H583M582.6 726.9H585M583.5 729.7H585.9M585.4 733.4H587.8M586.5 736H588.9M588.2 741H590.6M588.6 740.7H591M590 744.4H592.4M594.8 755.8H597.2M595.4 758.7H597.8M595.9 760H598.3M597.6 762.9H600M599.1 766.8H601.5M600.2 767.6H602.6" stroke="#f0882e" stroke-width="0.6" fill="none"/>
<polyline points="480.8,661.4 482.4,698.4 484,726.2 485.6,731.9 487.3,733.4 488.9,734.5 490.5,735.2 492.1,735.8 493.7,736.4 495.3,737.2 497,738.2 498.6,739.2 500.2,740.3 501.8,741.2 503.4,742 505,742.6 506.7,742.8 508.3,742.7 509.9,742.3 511.5,741.7 513.1,741 514.7,740 516.4,739 518,737.5 519.6,734.8 521.2,731.1 522.8,727 524.4,722.7 526.1,718.6 527.7,714.1 529.3,709.7 530.9,705.8 532.5,701.5 534.1,697.6 535.8,694.7 537.4,693.6 539,694.1 540.6,695.2 542.2,696.8 543.8,698.5 545.5,700.1 547.1,701.5 548.7,702.8 550.3,704.2 551.9,705.6 553.5,707 555.2,708.4 556.8,709.8 558.4,711.2 560,712.8 561.6,714.4 563.2,716 564.9,717.4 566.5,718.5 568.1,719.1 569.7,719.4 571.3,719.7 572.9,719.9 574.6,720.1 576.2,720.3 577.8,720.5 579.4,720.7 581,720.9 582.6,721 584.3,721.2" fill="none" stroke="#ff1f1f" stroke-width="4.2" stroke-linejoin="round" stroke-linecap="round"/>
<polyline points="480.8,649.6 482.4,691.4 484.1,710.5 485.7,721.2 487.3,725.9 489,728.7 490.6,730.8 492.2,732.4 493.9,733.9 495.5,735.6 497.1,737.4 498.8,739.3 500.4,741.2 502.1,742.8 503.7,744.2 505.3,745 507,745.3 508.6,745.1 510.2,744.6 511.9,743.8 513.5,742.7 515.1,741.5 516.8,740.2 518.4,738.3 520,735.3 521.7,731.6 523.3,727.5 524.9,723.4 526.6,719.2 528.2,714.7 529.8,710.4 531.5,706.2 533.1,701.9 534.8,698.1 536.4,695.7 538,695.4 539.7,696.5 541.3,698.3 542.9,700.5 544.6,702.5 546.2,704.1 547.8,705.4 549.5,706.5 551.1,707.6 552.7,708.7 554.4,709.8 556,711 557.6,712.2 559.3,713.7 560.9,715.4 562.5,717.1 564.2,718.9 565.8,720.6 567.4,722.1 569.1,723.5 570.7,724.8 572.4,726.1 574,727.3 575.6,728.5 577.3,729.5 578.9,730.5 580.5,731.3 582.2,732 583.8,732.6 585.4,733.2" fill="none" stroke="#1f1fff" stroke-width="4.2" stroke-linejoin="round" stroke-linecap="round"/>
<polyline points="480.8,653 482.5,696.9 484.2,712.9 485.9,720.7 487.6,724.5 489.2,727 490.9,728.9 492.6,730.4 494.3,731.9 496,733.7 497.7,735.6 499.4,737.5 501.1,739.4 502.8,741 504.5,742.1 506.1,742.7 507.8,742.7 509.5,742.4 511.2,741.7 512.9,740.8 514.6,739.6 516.3,738.3 518,736.5 519.7,733 521.4,728.3 523,723.1 524.7,717.9 526.4,713 528.1,707.1 529.8,701.1 531.5,695.9 533.2,692.6 534.9,691.6 536.6,691.1 538.3,690.7 539.9,690.4 541.6,690.2 543.3,690.3 545,690.6 546.7,691.3 548.4,692.2 550.1,693.1 551.8,694.2 553.5,695.5 555.2,697.1 556.8,699 558.5,701 560.2,703.2 561.9,705.7 563.6,708.5 565.3,711.5 567,714.4 568.7,717.1 570.4,719.7 572.1,722.4 573.7,725 575.4,727.8 577.1,730.6 578.8,733.7 580.5,736.9 582.2,740 583.9,743 585.6,745.7 587.3,748.3 589,750.8 590.6,753.1 592.3,755.2 594,757 595.7,758.7" fill="none" stroke="#ff33ff" stroke-width="4.2" stroke-linejoin="round" stroke-linecap="round"/>
<polyline points="481,720.7 482.6,737.8 484.3,750 485.9,752.4 487.6,753.5 489.2,754.3 490.9,754.9 492.5,755.4 494.1,755.9 495.8,756.7 497.4,757.6 499.1,758.5 500.7,759.4 502.3,760.1 504,760.5 505.6,760.6 507.3,760.4 508.9,759.9 510.6,759.2 512.2,758.3 513.8,757.3 515.5,756.2 517.1,754 518.8,750.6 520.4,746.2 522.1,741.3 523.7,736.3 525.3,731.4 527,726.3 528.6,720.7 530.3,714.8 531.9,709.3 533.6,704.6 535.2,700.8 536.8,697.2 538.5,693.9 540.1,691.1 541.8,689.1 543.4,687.7 545,686.6 546.7,685.6 548.3,684.8 550,684.4 551.6,684.3 553.3,684.7 554.9,685.5 556.5,686.4 558.2,687.6 559.8,688.9 561.5,690.8 563.1,693.5 564.8,696.6 566.4,699.7 568,702.5 569.7,705.1 571.3,707.7 573,710.3 574.6,712.9 576.2,715.6 577.9,718.5 579.5,721.6 581.2,724.7 582.8,727.7 584.5,730.4 586.1,732.7 587.7,734.8 589.4,736.8 591,738.6 592.7,740.4" fill="none" stroke="#33962d" stroke-width="4.2" stroke-linejoin="round" stroke-linecap="round"/>
<polyline points="481,690 482.7,716.9 484.4,751.6 486,780.5 487.7,786 489.4,788.2 491.1,789.3 492.8,789.6 494.4,789.8 496.1,790 497.8,790.1 499.5,790.2 501.1,790.1 502.8,789.7 504.5,789.1 506.2,788.2 507.9,787.2 509.5,785.9 511.2,783.7 512.9,780.8 514.6,777.2 516.3,773.4 517.9,769.2 519.6,763.9 521.3,757.9 523,751.3 524.7,744.5 526.3,737.7 528,730.2 529.7,722.4 531.4,714.6 533,707.2 534.7,700.6 536.4,694.2 538.1,688.1 539.8,682.4 541.4,677.4 543.1,673.3 544.8,669.1 546.5,665.2 548.2,662 549.8,660.1 551.5,659.7 553.2,660.2 554.9,661.1 556.6,662.3 558.2,663.7 559.9,665.3 561.6,667.5 563.3,670.3 564.9,673.7 566.6,677.4 568.3,681.3 570,686.1 571.7,691.6 573.3,697.4 575,703.2 576.7,708.4 578.4,713.3 580.1,718.1 581.7,722.7 583.4,727.3 585.1,731.6 586.8,735.8 588.4,739.8 590.1,743.8 591.8,747.7 593.5,751.8 595.2,756.2 596.8,760.7 598.5,764.9 600.2,768.4 601.9,771.3 603.6,773.9" fill="none" stroke="#f0882e" stroke-width="4.2" stroke-linejoin="round" stroke-linecap="round"/>
<polyline points="481.5,630 483.2,707.5 485,749.9 486.7,788.2 488.5,800.5 490.2,801 492,801.3 493.7,801.3 495.5,801.2 497.2,801 499,800.8 500.7,800.6 502.5,800.5 504.2,800.3 506,800.1 507.7,799.9 509.5,799.7 511.2,799.6 513,799.6 514.7,799.7 516.5,799.9 518.2,800.1 519.9,800.3 521.7,800.5 523.4,800.7 525.2,800.9 526.9,801.1 528.7,801.3 530.4,801.5 532.2,801.8 533.9,802 535.7,802.3 537.4,802.6 539.2,802.8 540.9,803 542.7,803.3 544.4,803.5 546.2,803.9 547.9,804.4 549.7,805 551.4,805.6 553.2,806.2 554.9,806.8 556.7,807.3 558.4,807.8 560.1,808.3 561.9,808.7 563.6,809.1 565.4,809.3 567.1,809.6 568.9,809.8 570.6,810 572.4,810.1 574.1,810.3 575.9,810.4 577.6,810.5 579.4,810.6 581.1,810.6 582.9,810.5 584.6,810.5 586.4,810.4 588.1,810.3 589.9,810.2 591.6,810 593.4,809.9 595.1,809.8 596.8,809.6 598.6,809.4 600.3,809.2 602.1,808.9 603.8,808.7 605.6,808.4 607.3,808.1 609.1,807.8 610.8,807.5 612.6,807.2 614.3,806.8 616.1,806.4 617.8,806 619.6,805.6 621.3,805.1 623.1,804.6 624.8,804 626.6,803.3 628.3,802.6 630.1,802 631.8,801.3 633.6,800.6 635.3,799.9 637,799.2 638.8,798.5 640.5,797.8 642.3,797.1 644,796.4 645.8,795.7 647.5,795 649.3,794.3 651,793.6 652.8,792.9 654.5,792.2 656.3,791.5 658,790.7 659.8,790 661.5,789.2 663.3,788.4 665,787.6 666.8,786.7 668.5,785.8 670.3,784.9 672,784" fill="none" stroke="#000" stroke-width="2.4" stroke-linejoin="round" stroke-linecap="round"/>
<polygon points="595,811 602.7,809 620.2,800 637.7,793 655.2,786 671,778 671,814 595,814" fill="#000"/>
<polygon points="582,716.5 583.2,716.7 584.5,717 585.7,717.2 586.9,717.4 588.2,717.6 589.4,717.8 590.7,718 591.9,718.2 593.1,718.4 594.4,718.6 595.6,718.8 596.8,719 598.1,719.2 599.3,719.3 600.6,719.4 601.8,719.5 603,719.4 604.3,719.1 605.5,718.7 606.7,718.2 608,717.7 609.2,717.3 610.5,717 611.7,716.9 612.9,716.8 614.2,716.8 615.4,716.7 616.6,716.7 617.9,716.6 619.1,716.6 620.4,716.5 621.6,716.3 622.8,716.2 624.1,716 625.3,715.8 626.5,715.6 627.8,715.4 629,715.2 630.3,715 631.5,714.8 632.7,714.6 634,714.4 635.2,714.2 636.4,713.9 637.7,713.7 638.9,713.3 640.2,712.9 641.4,712.4 642.6,711.6 643.9,710.5 645.1,709.2 646.3,707.5 647.6,704.6 648.8,700.4 650.1,694.7 651.3,684.8 652.5,670.7 653.8,655 655,636 656,636 654.7,684.1 653.5,704.7 652.2,713.3 651,718.7 649.7,722.8 648.5,726.3 647.2,729.1 646,731 644.7,732.5 643.5,733.7 642.2,734.7 640.9,735.5 639.7,736.1 638.4,736.7 637.2,737.1 635.9,737.5 634.7,737.9 633.4,738.2 632.2,738.5 630.9,738.8 629.7,739.1 628.4,739.3 627.2,739.6 625.9,739.8 624.6,740.1 623.4,740.3 622.1,740.4 620.9,740.5 619.6,740.5 618.4,740.5 617.1,740.4 615.9,740.4 614.6,740.3 613.4,740.2 612.1,740.1 610.8,740 609.6,739.9 608.3,739.6 607.1,739.4 605.8,739.1 604.6,738.7 603.3,738.3 602.1,737.9 600.8,737.3 599.6,736.7 598.3,735.9 597.1,735.1 595.8,734.3 594.5,733.4 593.3,732.6 592,731.7 590.8,730.9 589.5,730 588.3,729 587,728.1 585.8,727.1 584.5,726.1 583.3,725.1 582,724" fill="#ff1f1f"/>
<polygon points="584,728 585.2,728.6 586.4,729.2 587.7,729.8 588.9,730.4 590.1,731 591.3,731.6 592.5,732.3 593.8,732.9 595,733.6 596.2,734.4 597.4,735.2 598.6,736 599.9,736.8 601.1,737.5 602.3,738 603.5,738.4 604.7,738.8 606,739.1 607.2,739.4 608.4,739.7 609.6,739.9 610.8,740 612.1,740.1 613.3,740.2 614.5,740.3 615.7,740.4 616.9,740.4 618.2,740.5 619.4,740.5 620.6,740.5 621.8,740.4 623.1,740.3 624.3,740.1 625.5,739.9 626.7,739.7 627.9,739.4 629.2,739.2 630.4,738.9 631.6,738.7 632.8,738.4 634,738.1 635.3,737.8 636.5,737.4 637.7,736.9 638.9,736.5 640.1,735.9 641.4,735.3 642.6,734.4 643.8,733.4 645,732.2 646.2,730.7 647.5,728.6 648.7,725.8 649.9,722.3 651.1,718.2 652.3,712.7 653.6,704.2 654.8,683 656,636 658,636 656.7,683.1 655.5,706.1 654.2,717.6 653,725.3 651.7,731.2 650.5,736.5 649.2,740.7 648,743 646.7,744.1 645.5,744.9 644.2,745.6 642.9,746.1 641.7,746.5 640.4,746.9 639.2,747.2 637.9,747.5 636.7,747.8 635.4,748.1 634.2,748.3 632.9,748.5 631.7,748.7 630.4,748.9 629.2,749.2 627.9,749.4 626.6,749.6 625.4,749.9 624.1,750.1 622.9,750.3 621.6,750.4 620.4,750.5 619.1,750.5 617.9,750.4 616.6,750.2 615.4,750 614.1,749.7 612.8,749.5 611.6,749.2 610.3,748.9 609.1,748.6 607.8,748.2 606.6,747.8 605.3,747.3 604.1,746.8 602.8,746.2 601.6,745.6 600.3,744.8 599.1,743.9 597.8,742.9 596.5,741.9 595.3,741 594,740.1 592.8,739.3 591.5,738.5 590.3,737.7 589,736.9 587.8,736.2 586.5,735.4 585.3,734.7 584,734" fill="#1f1fff"/>
<polygon points="590,737 591.2,737.9 592.3,738.8 593.5,739.7 594.6,740.5 595.8,741.4 596.9,742.3 598.1,743.2 599.2,744.1 600.4,744.9 601.5,745.5 602.7,746.1 603.8,746.7 605,747.1 606.1,747.6 607.3,748 608.4,748.4 609.6,748.7 610.7,749 611.9,749.3 613.1,749.5 614.2,749.8 615.4,750 616.5,750.2 617.7,750.4 618.8,750.5 620,750.5 621.1,750.5 622.3,750.4 623.4,750.2 624.6,750 625.7,749.8 626.9,749.6 628,749.4 629.2,749.1 630.3,748.9 631.5,748.7 632.6,748.6 633.8,748.4 634.9,748.2 636.1,747.9 637.3,747.7 638.4,747.4 639.6,747.1 640.7,746.8 641.9,746.4 643,746.1 644.2,745.6 645.3,745 646.5,744.3 647.6,743.3 648.8,741.8 649.9,738.5 651.1,734 652.2,728.9 653.4,723.1 654.5,715.2 655.7,703.8 656.8,679.9 658,636 661,636 659.8,677 658.6,711.1 657.4,740 656.2,751.2 655,758.1 653.8,762.4 652.6,764.6 651.4,766 650.2,767.1 649,767.8 647.8,768 646.6,768 645.4,768 644.2,768 642.9,768 641.7,768 640.5,768 639.3,768 638.1,768 636.9,768 635.7,768 634.5,768 633.3,768 632.1,768 630.9,768 629.7,768 628.5,768 627.3,767.9 626.1,767.8 624.9,767.7 623.7,767.5 622.5,767.3 621.3,767.2 620.1,767 618.9,766.8 617.7,766.6 616.5,766.4 615.3,766.2 614.1,765.9 612.9,765.6 611.7,765.3 610.5,764.9 609.3,764.5 608.1,764 606.8,763.4 605.6,762.8 604.4,762.2 603.2,761.5 602,760.8 600.8,760.1 599.6,759.5 598.4,758.8 597.2,757.9 596,756.9 594.8,755.7 593.6,754.2 592.4,751.1 591.2,746.8 590,742" fill="#33962d"/>
<polygon points="594,754 595,755 596,756 597,756.9 598,757.8 599,758.6 600,759.4 601,760.1 602,760.8 603,761.4 604,761.9 605,762.5 606,763 607,763.5 608,764 609,764.4 610,764.7 611,765.1 612,765.3 613,765.6 614,765.9 615,766.1 616,766.3 617,766.5 618,766.7 619,766.9 620,767 621,767.1 622,767.3 623,767.4 624,767.6 625,767.7 626,767.8 627,767.9 628,767.9 629,768 630,768 631,768 632,768 633,768 634,768 635,768 636,768 637,768 638,768 639,768 640,768 641,768 642,768 643,768 644,768 645,768 646,768 647,768 648,768 649,767.8 650,767.1 651,766.2 652,765.1 653,764 653,772 652,773.1 651,774.1 650,774.9 649,775.6 648,776 647,776.2 646,776.4 645,776.6 644,776.7 643,776.8 642,776.9 641,777 640,777 639,777 638,777 637,777 636,777 635,777 634,777 633,777 632,777 631,777 630,777 629,777 628,776.9 627,776.9 626,776.8 625,776.7 624,776.6 623,776.4 622,776.3 621,776.1 620,776 619,775.9 618,775.7 617,775.5 616,775.3 615,775.1 614,774.9 613,774.6 612,774.3 611,774.1 610,773.7 609,773.4 608,773 607,772.6 606,772.1 605,771.6 604,771 603,770.4 602,769.7 601,768.8 600,767.8 599,766.6 598,765.3 597,763.9 596,762.3 595,760.7 594,759" fill="#ff33ff"/>
<polygon points="602,766 603.1,767.3 604.1,768.6 605.2,769.7 606.2,770.8 607.3,771.8 608.4,772.7 609.4,773.4 610.5,773.9 611.5,774.2 612.6,774.6 613.7,774.9 614.7,775.1 615.8,775.3 616.8,775.5 617.9,775.7 618.9,775.9 620,776 621.1,776.1 622.1,776.3 623.2,776.4 624.2,776.6 625.3,776.7 626.4,776.8 627.4,776.9 628.5,777 629.5,777 630.6,777 631.7,777 632.7,777 633.8,777 634.8,777 635.9,777 637,777 638,777 639.1,777 640.1,777 641.2,777 642.3,776.9 643.3,776.8 644.4,776.7 645.4,776.5 646.5,776.3 647.6,776.1 648.6,775.8 649.7,775.3 650.7,774.5 651.8,773.4 652.8,772.2 653.9,770.5 655,768 656,764.4 657.1,759.5 658.1,747.4 659.2,730.4 660.3,717.3 661.3,707.2 662.4,703.5 663.4,702.4 664.5,702 665.8,702 664.7,751.6 663.6,774.5 662.6,783.8 661.5,787.1 660.4,788.8 659.3,789.8 658.2,790.4 657.1,790.8 656.1,791.2 655,791.5 653.9,791.8 652.8,792.1 651.7,792.5 650.7,792.9 649.6,793.3 648.5,793.7 647.4,794.1 646.3,794.5 645.3,794.8 644.2,795.2 643.1,795.5 642,795.8 640.9,796.2 639.8,796.5 638.8,796.7 637.7,796.9 636.6,797 635.5,797 634.4,797 633.4,797 632.3,797 631.2,797 630.1,797 629,797 628,797 626.9,796.9 625.8,796.7 624.7,796.4 623.6,796 622.5,795.5 621.5,795 620.4,794.5 619.3,794 618.2,793.6 617.1,793.2 616.1,792.8 615,792.4 613.9,792 612.8,791.5 611.7,791 610.7,790.4 609.6,789.7 608.5,788.9 607.4,787.9 606.3,786.2 605.2,783.4 604.2,779.9 603.1,776 602,772" fill="#f0882e"/>
<path d="M614.6 713.2V718.8M633.7 700.5V716.3M644 699.1V711.7M613 710.5V718.9M604.1 715.7V720.9M615.3 709.8V718.8M615.9 712.7V718.7M615.8 707.6V718.7M614.2 709.1V718.8M631.8 701.7V716.6M605.7 707.5V720.4M593 712.5V720.4M606.3 705.7V720.3M589.6 708.8V719.8M631.2 706.1V716.8M606.8 705.3V720.1M616 703.1V718.7M609.7 713.1V719.3M630 711.8V717M639.4 702.6V715.1M586.7 706V719.3M630.2 707.1V717M611.2 710.5V719M617.3 711.3V718.6M623.6 706.6V718M646.2 699.6V709.3M625.9 707V717.6M628.3 709.7V717.3M598 714.5V721M596.5 709.6V720.8" stroke="#ff1f1f" stroke-width="1.0" fill="none"/>
<path d="M613.2 713.2H616M632.3 700.5H635.1M642.6 699.1H645.4M611.6 710.5H614.4M602.7 715.7H605.5M613.9 709.8H616.7M614.5 712.7H617.3M614.4 707.6H617.2M612.8 709.1H615.6M630.4 701.7H633.2M604.3 707.5H607.1M591.6 712.5H594.4M604.9 705.7H607.7M588.2 708.8H591M629.8 706.1H632.6M605.4 705.3H608.2M614.6 703.1H617.4M608.3 713.1H611.1M628.6 711.8H631.4M638 702.6H640.8M585.3 706H588.1M628.8 707.1H631.6M609.8 710.5H612.6M615.9 711.3H618.7M622.2 706.6H625M644.8 699.6H647.6M624.5 707H627.3M626.9 709.7H629.7M596.6 714.5H599.4M595.1 709.6H597.9" stroke="#ff1f1f" stroke-width="0.8" fill="none"/>
<path d="M606.8 745.8V750M647.3 765.6V770.1M651.4 762.6V769.1M638.8 769.7V773.4M610.3 749.5V751.7M614.3 748.1V753.4M611.9 786.8V790.6" stroke="#1f1fff" stroke-width="0.7" fill="none"/>
<path d="M637.6 774.1V780.4M633 766.8V773.2M644.5 756.7V763.5M641.3 783.7V786.5M640.7 765.9V772.6M640.6 757.8V762.5M625.1 781.4V783.6M606.7 755.3V757.8M651.5 766.6V771.1M642 769.1V774.5M606.5 751.1V755.7M646.7 742V747.4M649.2 771.9V778.2M618.9 780.5V785.9M623.1 750.4V755.4" stroke="#fff" stroke-width="0.7" fill="none"/>
<path d="M615.8 783.2V785.3M621.7 746.6V751.7M649.3 762.9V766.8M640.9 750V756.1M631 759.4V763.6M640.8 778V781.4M608.7 759.5V764.8M627.3 747.7V754M646.6 780.1V784.9M608.2 748.2V755M621.7 757.2V763.5M647.2 767.2V769.3" stroke="#ff33ff" stroke-width="0.7" fill="none"/>
<path d="M628.3 752.1V754.9M622.1 777V783M609.7 767.9V773.7M623.1 783.5V786M608.4 788.3V792M623.1 759.7V766.5M644.6 786.7V792.7M645 778.6V784.2M618.6 785.8V788.5M629.5 766.5V769.2M633.4 750.3V753" stroke="#f0882e" stroke-width="0.7" fill="none"/>
<path d="M636.2 767V769.5M639.7 770.7V773.7M644.8 775.2V780.1M615.1 742.3V748M624.3 788.1V790.9" stroke="#33962d" stroke-width="0.7" fill="none"/>
<path d="M627.8 790.3V800.2M658.2 773.1V793.4M664.7 775.3V790.4M563 805.7V809.6M594.5 806.7V810.9M607.5 803.1V808.2M644.4 785.3V798.1M644 783.8V797.7M635.5 787.3V799.4M585.5 807.7V810M574.4 807.2V810.6M566.9 807.1V809M631.5 790.6V803.3M579.2 808.2V810M563.7 806.3V809.2M601 807.6V810.7M639.2 783.3V799.2M572.2 807V809.2M623.4 792.5V801.9M599.5 807.8V810.5M583.7 807.6V810.5M613.8 800V805.1M606.5 805.4V809.9M595.4 806.9V810.9M588 807.7V809.6M659.5 773.8V791M619.9 795.9V802.5M596.3 807.3V810M619.3 798.5V804.7M614.3 798.7V808M625.3 792V804.1M645.9 785.8V797.5M660.2 777.7V790.5M658.2 779.5V795.3M594.2 807.7V811.6M568.7 806.5V810.1M571.5 807.3V809.8M634.7 790V801.9M572.3 807.5V810.4M585.1 807.4V810.2M582.1 807.6V811M639.8 784.5V800M616.9 795.9V807.5M633 791.4V798.7M659.3 774.7V789.7M569.2 806.6V809.6M577.3 808.1V810.4M636.8 785.3V800.5M646 782V793M565.9 807.2V809.7M593.7 807.5V810.7M638.1 786.8V800.2M636.3 786.9V796.6M589.2 807.6V810.9M609.1 802.5V807.7M667.3 766.4V791.3M618.6 796.3V805.3M587.6 807.9V810.6M591 807.8V810.7M588.2 807.7V810.2M601 807V811.3M635.6 788.6V799.8M623.6 793.6V804.7M652.3 782.4V796.1M569.1 807.3V809.4M650.3 779.5V797.9M568.7 806.5V809.2M612.5 800.9V809.2M661.1 774.6V793.8M601.4 806.9V812.3M577.3 808V809.6M601.8 807.7V811.2M577 807.9V810.3M609.2 801.6V807.8M601.8 807.5V812.4M667.2 770.6V787.2M628 789.7V804.5M668 774.2V790.4M578.8 807V809.8M582.7 807.6V810.3M664.1 769.3V793.8M640.7 787V800.2M640.4 782.5V798.3M579.9 807.6V810.7M651.8 778.8V794.2M662.2 773.9V793.8M562.2 806.4V809.1M585.7 807.4V810.3M654.7 777.8V790.1M619.7 796.5V803.9M645.1 783.2V795.9M617.9 797.7V804.2M659.4 773.1V789.3M582.2 807.5V810M579.8 807.7V810M626 791.7V803.2M592.7 807V810.7M619.4 796.5V804.6M623.3 795.9V802.4M593.5 807.7V811.2M653.6 781.4V797.8M661 772.8V788.5M654.5 781.9V796.8M641.8 783.2V798.4M637.6 787.6V797.1M659.9 774.3V790.3M611.1 801.4V807.5M632 791.9V802.1M581.3 808V810.2M667.6 770.2V787.5M644.9 782.9V798.8M656.5 773.9V792M597.9 807.8V810M601.5 807.2V810.9M610.6 801.1V808.8M657.3 772.9V792.8M576.3 806.9V810.7M614.7 799.8V807.7M595.6 807.2V811.4M605 803.8V809.2M619.1 795.9V803.5M638.2 788.6V798.1M634.3 790.4V802.7M656.8 778.7V796.3M656.1 775.4V793M618.1 798.6V805.4M649.8 784.7V793.6M612.8 799.3V805.6M603.4 806.6V811M645 785.7V798.1M662.5 778.1V792.5M586.7 808.4V810.2M576.2 807.8V810.6M621.3 796.1V801.6M583.7 807V810.4M584.2 808.1V810.5M663.1 775.2V786.3M601.2 807.2V810.2M567.7 806.4V810.1M611.7 802.1V807.2M630.9 789V799.1M650.1 784.2V795.7M613.6 801V805.4M603.9 807V809.7M667.3 770.6V789.4M652.6 783.2V790.8M625.3 793.9V803.6M637.2 785.3V799.8M620.6 793.7V805.2M574 807.6V810.3M565.5 807.1V809.7M572.7 807.1V809.4M567.7 806.4V809M647.4 779.2V796.2M654.4 777.9V795.4M560.2 806.7V809.3M644.3 784.9V796.6M664.8 774.1V786.1M582.7 807.9V811M632.4 788.7V800.3" stroke="#000" stroke-width="0.8" fill="none"/>
<path d="M660 636V760" stroke="#33962d" stroke-width="2.2" fill="none"/>
<path d="M643.5 648V710M646.5 650V710" stroke="#ff1f1f" stroke-width="1.0" fill="none"/>
<path d="M642 648H645M645 650H648" stroke="#ff1f1f" stroke-width="0.8" fill="none"/>
<path d="M664 700V790" stroke="#f0882e" stroke-width="1.4" fill="none"/>
<path d="M662.5 701H665.5" stroke="#f0882e" stroke-width="0.8" fill="none"/>
</g>
<line x1="479.3" y1="638" x2="670.3" y2="638" stroke="#5a5a5a" stroke-width="1"/>
<line x1="670.3" y1="638" x2="670.3" y2="813.6" stroke="#5a5a5a" stroke-width="1"/>
<line x1="479.3" y1="638" x2="479.3" y2="813.6" stroke="#222" stroke-width="1.1"/>
<line x1="478.8" y1="813.6" x2="670.3" y2="813.6" stroke="#222" stroke-width="1.1"/>
<line x1="475.3" y1="678.4" x2="479.3" y2="678.4" stroke="#222" stroke-width="0.9"/>
<line x1="475.3" y1="761.9" x2="479.3" y2="761.9" stroke="#222" stroke-width="0.9"/>
<line x1="479.3" y1="813.6" x2="479.3" y2="817.6" stroke="#222" stroke-width="0.9"/>
<line x1="530.2" y1="813.6" x2="530.2" y2="817.6" stroke="#222" stroke-width="0.9"/>
<line x1="581.1" y1="813.6" x2="581.1" y2="817.6" stroke="#222" stroke-width="0.9"/>
<line x1="632" y1="813.6" x2="632" y2="817.6" stroke="#222" stroke-width="0.9"/>
<line x1="504.8" y1="813.6" x2="504.8" y2="816.1" stroke="#222" stroke-width="0.9"/>
<line x1="555.6" y1="813.6" x2="555.6" y2="816.1" stroke="#222" stroke-width="0.9"/>
<line x1="606.5" y1="813.6" x2="606.5" y2="816.1" stroke="#222" stroke-width="0.9"/>
<line x1="657.5" y1="813.6" x2="657.5" y2="816.1" stroke="#222" stroke-width="0.9"/>
<text x="466.7" y="651.2" font-size="13.6" text-anchor="middle" fill="#1e1e1e">L</text>
<text x="463.5" y="683.1" font-size="13.6" text-anchor="middle" fill="#1e1e1e">1.6</text>
<text x="479.3" y="831" font-size="13.6" text-anchor="middle" fill="#1e1e1e">0</text>
<text x="530.2" y="831" font-size="13.6" text-anchor="middle" fill="#1e1e1e">20</text>
<text x="581.1" y="831" font-size="13.6" text-anchor="middle" fill="#1e1e1e">40</text>
<text x="632" y="831" font-size="13.6" text-anchor="middle" fill="#1e1e1e">60</text>
<text x="467" y="732.3" font-size="12.5" text-anchor="middle" fill="#1e1e1e" transform="rotate(-90 467 732.3)">(<tspan font-style="italic">q</tspan>R<tspan dy="3" font-size="8.5">g</tspan><tspan dy="-3">)</tspan><tspan dy="-5" font-size="8.5">2</tspan><tspan dy="5">*</tspan><tspan font-style="italic">I</tspan>(<tspan font-style="italic">q</tspan>)/<tspan font-style="italic">I</tspan>(0)</text>
<text x="573" y="842" font-size="13" text-anchor="middle" fill="#1e1e1e"><tspan font-style="italic">q</tspan>R<tspan dy="3" font-size="8.5">g</tspan></text>
<line x1="129.8" y1="850.5" x2="129.8" y2="917.8" stroke="#333" stroke-width="0.5"/>
<line x1="129.8" y1="917.8" x2="219" y2="917.8" stroke="#333" stroke-width="0.5"/>
<line x1="128.6" y1="856.8" x2="129.8" y2="856.8" stroke="#333" stroke-width="0.4"/>
<text x="128" y="858.2" font-size="4.2" text-anchor="end" fill="#1e1e1e" style="stroke:none">10</text>
<line x1="128.6" y1="869.8" x2="129.8" y2="869.8" stroke="#333" stroke-width="0.4"/>
<text x="128" y="871.2" font-size="4.2" text-anchor="end" fill="#1e1e1e" style="stroke:none">9</text>
<line x1="128.6" y1="882.7" x2="129.8" y2="882.7" stroke="#333" stroke-width="0.4"/>
<text x="128" y="884.1" font-size="4.2" text-anchor="end" fill="#1e1e1e" style="stroke:none">8</text>
<line x1="128.6" y1="896.1" x2="129.8" y2="896.1" stroke="#333" stroke-width="0.4"/>
<text x="128" y="897.5" font-size="4.2" text-anchor="end" fill="#1e1e1e" style="stroke:none">7</text>
<line x1="128.6" y1="908.3" x2="129.8" y2="908.3" stroke="#333" stroke-width="0.4"/>
<text x="128" y="909.7" font-size="4.2" text-anchor="end" fill="#1e1e1e" style="stroke:none">6</text>
<line x1="174.8" y1="917.8" x2="174.8" y2="919" stroke="#333" stroke-width="0.4"/>
<text x="174.8" y="923.4" font-size="4.2" text-anchor="middle" fill="#1e1e1e" style="stroke:none">1E-4</text>
<line x1="200.5" y1="917.8" x2="200.5" y2="919" stroke="#333" stroke-width="0.4"/>
<text x="200.5" y="923.4" font-size="4.2" text-anchor="middle" fill="#1e1e1e" style="stroke:none">2E-4</text>
<line x1="219" y1="917.8" x2="219" y2="919" stroke="#333" stroke-width="0.4"/>
<text x="219" y="923.4" font-size="4.2" text-anchor="middle" fill="#1e1e1e" style="stroke:none">3E-4</text>
<text x="174.4" y="930" font-size="4.2" text-anchor="middle" fill="#1e1e1e" style="stroke:none">Log(<tspan font-style="italic">q</tspan><tspan dy="-1.5" font-size="3">2</tspan><tspan dy="1.5">)</tspan></text>
<text x="121.3" y="884.1" font-size="4.2" text-anchor="middle" fill="#1e1e1e" transform="rotate(-90 121.3 884.1)" style="stroke:none">ln (I(<tspan font-style="italic">q</tspan>))</text>
<path d="M133.4 855.8a1.35 1.35 0 1 0 2.7 0a1.35 1.35 0 1 0-2.7 0M138.4 858.3a1.35 1.35 0 1 0 2.7 0a1.35 1.35 0 1 0-2.7 0M143.2 860.7a1.35 1.35 0 1 0 2.7 0a1.35 1.35 0 1 0-2.7 0M147.6 862.9a1.35 1.35 0 1 0 2.7 0a1.35 1.35 0 1 0-2.7 0M151.9 865a1.35 1.35 0 1 0 2.7 0a1.35 1.35 0 1 0-2.7 0M155.9 867a1.35 1.35 0 1 0 2.7 0a1.35 1.35 0 1 0-2.7 0M159.7 868.9a1.35 1.35 0 1 0 2.7 0a1.35 1.35 0 1 0-2.7 0M163.4 870.7a1.35 1.35 0 1 0 2.7 0a1.35 1.35 0 1 0-2.7 0M166.8 872.4a1.35 1.35 0 1 0 2.7 0a1.35 1.35 0 1 0-2.7 0M170.2 874.1a1.35 1.35 0 1 0 2.7 0a1.35 1.35 0 1 0-2.7 0M173.4 875.7a1.35 1.35 0 1 0 2.7 0a1.35 1.35 0 1 0-2.7 0M176.4 877.2a1.35 1.35 0 1 0 2.7 0a1.35 1.35 0 1 0-2.7 0M179.4 878.7a1.35 1.35 0 1 0 2.7 0a1.35 1.35 0 1 0-2.7 0M182.3 880.1a1.35 1.35 0 1 0 2.7 0a1.35 1.35 0 1 0-2.7 0M185 881.5a1.35 1.35 0 1 0 2.7 0a1.35 1.35 0 1 0-2.7 0M187.7 882.8a1.35 1.35 0 1 0 2.7 0a1.35 1.35 0 1 0-2.7 0M190.2 884.1a1.35 1.35 0 1 0 2.7 0a1.35 1.35 0 1 0-2.7 0M192.7 885.3a1.35 1.35 0 1 0 2.7 0a1.35 1.35 0 1 0-2.7 0M195.1 886.5a1.35 1.35 0 1 0 2.7 0a1.35 1.35 0 1 0-2.7 0M197.5 887.7a1.35 1.35 0 1 0 2.7 0a1.35 1.35 0 1 0-2.7 0M199.7 888.8a1.35 1.35 0 1 0 2.7 0a1.35 1.35 0 1 0-2.7 0M201.9 889.9a1.35 1.35 0 1 0 2.7 0a1.35 1.35 0 1 0-2.7 0M204.1 890.9a1.35 1.35 0 1 0 2.7 0a1.35 1.35 0 1 0-2.7 0M206.2 892a1.35 1.35 0 1 0 2.7 0a1.35 1.35 0 1 0-2.7 0M208.2 893a1.35 1.35 0 1 0 2.7 0a1.35 1.35 0 1 0-2.7 0M210.2 894a1.35 1.35 0 1 0 2.7 0a1.35 1.35 0 1 0-2.7 0M212.1 894.9a1.35 1.35 0 1 0 2.7 0a1.35 1.35 0 1 0-2.7 0M214 895.9a1.35 1.35 0 1 0 2.7 0a1.35 1.35 0 1 0-2.7 0M215.9 896.8a1.35 1.35 0 1 0 2.7 0a1.35 1.35 0 1 0-2.7 0" fill="none" stroke="#000" stroke-width="1.5"/>
<path d="M133.4 869.5a1.35 1.35 0 1 0 2.7 0a1.35 1.35 0 1 0-2.7 0M138.4 872a1.35 1.35 0 1 0 2.7 0a1.35 1.35 0 1 0-2.7 0M143.2 874.4a1.35 1.35 0 1 0 2.7 0a1.35 1.35 0 1 0-2.7 0M147.6 876.6a1.35 1.35 0 1 0 2.7 0a1.35 1.35 0 1 0-2.7 0M151.9 878.7a1.35 1.35 0 1 0 2.7 0a1.35 1.35 0 1 0-2.7 0M155.9 880.7a1.35 1.35 0 1 0 2.7 0a1.35 1.35 0 1 0-2.7 0M159.7 882.6a1.35 1.35 0 1 0 2.7 0a1.35 1.35 0 1 0-2.7 0M163.4 884.4a1.35 1.35 0 1 0 2.7 0a1.35 1.35 0 1 0-2.7 0M166.8 886.1a1.35 1.35 0 1 0 2.7 0a1.35 1.35 0 1 0-2.7 0M170.2 887.8a1.35 1.35 0 1 0 2.7 0a1.35 1.35 0 1 0-2.7 0M173.4 889.4a1.35 1.35 0 1 0 2.7 0a1.35 1.35 0 1 0-2.7 0M176.4 890.9a1.35 1.35 0 1 0 2.7 0a1.35 1.35 0 1 0-2.7 0M179.4 892.4a1.35 1.35 0 1 0 2.7 0a1.35 1.35 0 1 0-2.7 0M182.3 893.8a1.35 1.35 0 1 0 2.7 0a1.35 1.35 0 1 0-2.7 0M185 895.2a1.35 1.35 0 1 0 2.7 0a1.35 1.35 0 1 0-2.7 0M187.7 896.5a1.35 1.35 0 1 0 2.7 0a1.35 1.35 0 1 0-2.7 0M190.2 897.8a1.35 1.35 0 1 0 2.7 0a1.35 1.35 0 1 0-2.7 0M192.7 899a1.35 1.35 0 1 0 2.7 0a1.35 1.35 0 1 0-2.7 0M195.1 900.2a1.35 1.35 0 1 0 2.7 0a1.35 1.35 0 1 0-2.7 0M197.5 901.4a1.35 1.35 0 1 0 2.7 0a1.35 1.35 0 1 0-2.7 0M199.7 902.5a1.35 1.35 0 1 0 2.7 0a1.35 1.35 0 1 0-2.7 0M201.9 903.6a1.35 1.35 0 1 0 2.7 0a1.35 1.35 0 1 0-2.7 0M204.1 904.6a1.35 1.35 0 1 0 2.7 0a1.35 1.35 0 1 0-2.7 0M206.2 905.7a1.35 1.35 0 1 0 2.7 0a1.35 1.35 0 1 0-2.7 0M208.2 906.7a1.35 1.35 0 1 0 2.7 0a1.35 1.35 0 1 0-2.7 0M210.2 907.7a1.35 1.35 0 1 0 2.7 0a1.35 1.35 0 1 0-2.7 0M212.1 908.6a1.35 1.35 0 1 0 2.7 0a1.35 1.35 0 1 0-2.7 0M214 909.6a1.35 1.35 0 1 0 2.7 0a1.35 1.35 0 1 0-2.7 0M215.9 910.5a1.35 1.35 0 1 0 2.7 0a1.35 1.35 0 1 0-2.7 0" fill="none" stroke="#ff1f1f" stroke-width="1.5"/>
<path d="M133.4 869.5a1.35 1.35 0 1 0 2.7 0a1.35 1.35 0 1 0-2.7 0M138.4 872a1.35 1.35 0 1 0 2.7 0a1.35 1.35 0 1 0-2.7 0M143.2 874.4a1.35 1.35 0 1 0 2.7 0a1.35 1.35 0 1 0-2.7 0M147.6 876.6a1.35 1.35 0 1 0 2.7 0a1.35 1.35 0 1 0-2.7 0M151.9 878.7a1.35 1.35 0 1 0 2.7 0a1.35 1.35 0 1 0-2.7 0M155.9 880.7a1.35 1.35 0 1 0 2.7 0a1.35 1.35 0 1 0-2.7 0M159.7 882.6a1.35 1.35 0 1 0 2.7 0a1.35 1.35 0 1 0-2.7 0M163.4 884.4a1.35 1.35 0 1 0 2.7 0a1.35 1.35 0 1 0-2.7 0M166.8 886.1a1.35 1.35 0 1 0 2.7 0a1.35 1.35 0 1 0-2.7 0M170.2 887.8a1.35 1.35 0 1 0 2.7 0a1.35 1.35 0 1 0-2.7 0M173.4 889.4a1.35 1.35 0 1 0 2.7 0a1.35 1.35 0 1 0-2.7 0M176.4 890.9a1.35 1.35 0 1 0 2.7 0a1.35 1.35 0 1 0-2.7 0M179.4 892.4a1.35 1.35 0 1 0 2.7 0a1.35 1.35 0 1 0-2.7 0M182.3 893.8a1.35 1.35 0 1 0 2.7 0a1.35 1.35 0 1 0-2.7 0M185 895.2a1.35 1.35 0 1 0 2.7 0a1.35 1.35 0 1 0-2.7 0M187.7 896.5a1.35 1.35 0 1 0 2.7 0a1.35 1.35 0 1 0-2.7 0M190.2 897.8a1.35 1.35 0 1 0 2.7 0a1.35 1.35 0 1 0-2.7 0M192.7 899a1.35 1.35 0 1 0 2.7 0a1.35 1.35 0 1 0-2.7 0M195.1 900.2a1.35 1.35 0 1 0 2.7 0a1.35 1.35 0 1 0-2.7 0M197.5 901.4a1.35 1.35 0 1 0 2.7 0a1.35 1.35 0 1 0-2.7 0M199.7 902.5a1.35 1.35 0 1 0 2.7 0a1.35 1.35 0 1 0-2.7 0M201.9 903.6a1.35 1.35 0 1 0 2.7 0a1.35 1.35 0 1 0-2.7 0M204.1 904.6a1.35 1.35 0 1 0 2.7 0a1.35 1.35 0 1 0-2.7 0M206.2 905.7a1.35 1.35 0 1 0 2.7 0a1.35 1.35 0 1 0-2.7 0M208.2 906.7a1.35 1.35 0 1 0 2.7 0a1.35 1.35 0 1 0-2.7 0M210.2 907.7a1.35 1.35 0 1 0 2.7 0a1.35 1.35 0 1 0-2.7 0M212.1 908.6a1.35 1.35 0 1 0 2.7 0a1.35 1.35 0 1 0-2.7 0M214 909.6a1.35 1.35 0 1 0 2.7 0a1.35 1.35 0 1 0-2.7 0M215.9 910.5a1.35 1.35 0 1 0 2.7 0a1.35 1.35 0 1 0-2.7 0" fill="none" stroke="#1f1fff" stroke-width="1.5"/>
<path d="M133.4 869.5a1.35 1.35 0 1 0 2.7 0a1.35 1.35 0 1 0-2.7 0M138.4 872a1.35 1.35 0 1 0 2.7 0a1.35 1.35 0 1 0-2.7 0M143.2 874.3a1.35 1.35 0 1 0 2.7 0a1.35 1.35 0 1 0-2.7 0M147.6 876.6a1.35 1.35 0 1 0 2.7 0a1.35 1.35 0 1 0-2.7 0M151.9 878.7a1.35 1.35 0 1 0 2.7 0a1.35 1.35 0 1 0-2.7 0M155.9 880.6a1.35 1.35 0 1 0 2.7 0a1.35 1.35 0 1 0-2.7 0M159.7 882.5a1.35 1.35 0 1 0 2.7 0a1.35 1.35 0 1 0-2.7 0M163.4 884.3a1.35 1.35 0 1 0 2.7 0a1.35 1.35 0 1 0-2.7 0M166.8 886.1a1.35 1.35 0 1 0 2.7 0a1.35 1.35 0 1 0-2.7 0M170.2 887.7a1.35 1.35 0 1 0 2.7 0a1.35 1.35 0 1 0-2.7 0M173.4 889.3a1.35 1.35 0 1 0 2.7 0a1.35 1.35 0 1 0-2.7 0M176.4 890.8a1.35 1.35 0 1 0 2.7 0a1.35 1.35 0 1 0-2.7 0M179.4 892.3a1.35 1.35 0 1 0 2.7 0a1.35 1.35 0 1 0-2.7 0M182.3 893.7a1.35 1.35 0 1 0 2.7 0a1.35 1.35 0 1 0-2.7 0M185 895a1.35 1.35 0 1 0 2.7 0a1.35 1.35 0 1 0-2.7 0M187.7 896.4a1.35 1.35 0 1 0 2.7 0a1.35 1.35 0 1 0-2.7 0M190.2 897.6a1.35 1.35 0 1 0 2.7 0a1.35 1.35 0 1 0-2.7 0M192.7 898.9a1.35 1.35 0 1 0 2.7 0a1.35 1.35 0 1 0-2.7 0M195.1 900a1.35 1.35 0 1 0 2.7 0a1.35 1.35 0 1 0-2.7 0M197.5 901.2a1.35 1.35 0 1 0 2.7 0a1.35 1.35 0 1 0-2.7 0M199.7 902.3a1.35 1.35 0 1 0 2.7 0a1.35 1.35 0 1 0-2.7 0M201.9 903.4a1.35 1.35 0 1 0 2.7 0a1.35 1.35 0 1 0-2.7 0M204.1 904.5a1.35 1.35 0 1 0 2.7 0a1.35 1.35 0 1 0-2.7 0M206.2 905.5a1.35 1.35 0 1 0 2.7 0a1.35 1.35 0 1 0-2.7 0M208.2 906.5a1.35 1.35 0 1 0 2.7 0a1.35 1.35 0 1 0-2.7 0M210.2 907.5a1.35 1.35 0 1 0 2.7 0a1.35 1.35 0 1 0-2.7 0M212.1 908.5a1.35 1.35 0 1 0 2.7 0a1.35 1.35 0 1 0-2.7 0M214 909.4a1.35 1.35 0 1 0 2.7 0a1.35 1.35 0 1 0-2.7 0M215.9 910.3a1.35 1.35 0 1 0 2.7 0a1.35 1.35 0 1 0-2.7 0" fill="none" stroke="#ff33ff" stroke-width="1.5"/>
<path d="M133.4 869.8a1.35 1.35 0 1 0 2.7 0a1.35 1.35 0 1 0-2.7 0M138.4 872.3a1.35 1.35 0 1 0 2.7 0a1.35 1.35 0 1 0-2.7 0M143.2 874.6a1.35 1.35 0 1 0 2.7 0a1.35 1.35 0 1 0-2.7 0M147.6 876.8a1.35 1.35 0 1 0 2.7 0a1.35 1.35 0 1 0-2.7 0M151.9 878.8a1.35 1.35 0 1 0 2.7 0a1.35 1.35 0 1 0-2.7 0M155.9 880.8a1.35 1.35 0 1 0 2.7 0a1.35 1.35 0 1 0-2.7 0M159.7 882.7a1.35 1.35 0 1 0 2.7 0a1.35 1.35 0 1 0-2.7 0M163.4 884.5a1.35 1.35 0 1 0 2.7 0a1.35 1.35 0 1 0-2.7 0M166.8 886.2a1.35 1.35 0 1 0 2.7 0a1.35 1.35 0 1 0-2.7 0M170.2 887.8a1.35 1.35 0 1 0 2.7 0a1.35 1.35 0 1 0-2.7 0M173.4 889.3a1.35 1.35 0 1 0 2.7 0a1.35 1.35 0 1 0-2.7 0M176.4 890.8a1.35 1.35 0 1 0 2.7 0a1.35 1.35 0 1 0-2.7 0M179.4 892.3a1.35 1.35 0 1 0 2.7 0a1.35 1.35 0 1 0-2.7 0M182.3 893.7a1.35 1.35 0 1 0 2.7 0a1.35 1.35 0 1 0-2.7 0M185 895a1.35 1.35 0 1 0 2.7 0a1.35 1.35 0 1 0-2.7 0M187.7 896.3a1.35 1.35 0 1 0 2.7 0a1.35 1.35 0 1 0-2.7 0M190.2 897.6a1.35 1.35 0 1 0 2.7 0a1.35 1.35 0 1 0-2.7 0M192.7 898.8a1.35 1.35 0 1 0 2.7 0a1.35 1.35 0 1 0-2.7 0M195.1 900a1.35 1.35 0 1 0 2.7 0a1.35 1.35 0 1 0-2.7 0M197.5 901.1a1.35 1.35 0 1 0 2.7 0a1.35 1.35 0 1 0-2.7 0M199.7 902.2a1.35 1.35 0 1 0 2.7 0a1.35 1.35 0 1 0-2.7 0M201.9 903.3a1.35 1.35 0 1 0 2.7 0a1.35 1.35 0 1 0-2.7 0M204.1 904.3a1.35 1.35 0 1 0 2.7 0a1.35 1.35 0 1 0-2.7 0M206.2 905.4a1.35 1.35 0 1 0 2.7 0a1.35 1.35 0 1 0-2.7 0M208.2 906.4a1.35 1.35 0 1 0 2.7 0a1.35 1.35 0 1 0-2.7 0M210.2 907.3a1.35 1.35 0 1 0 2.7 0a1.35 1.35 0 1 0-2.7 0M212.1 908.3a1.35 1.35 0 1 0 2.7 0a1.35 1.35 0 1 0-2.7 0M214 909.2a1.35 1.35 0 1 0 2.7 0a1.35 1.35 0 1 0-2.7 0M215.9 910.1a1.35 1.35 0 1 0 2.7 0a1.35 1.35 0 1 0-2.7 0" fill="none" stroke="#33962d" stroke-width="1.5"/>
<path d="M133.4 871.5a1.35 1.35 0 1 0 2.7 0a1.35 1.35 0 1 0-2.7 0M138.4 874.1a1.35 1.35 0 1 0 2.7 0a1.35 1.35 0 1 0-2.7 0M143.2 876.5a1.35 1.35 0 1 0 2.7 0a1.35 1.35 0 1 0-2.7 0M147.6 878.8a1.35 1.35 0 1 0 2.7 0a1.35 1.35 0 1 0-2.7 0M151.9 880.9a1.35 1.35 0 1 0 2.7 0a1.35 1.35 0 1 0-2.7 0M155.9 883a1.35 1.35 0 1 0 2.7 0a1.35 1.35 0 1 0-2.7 0M159.7 885a1.35 1.35 0 1 0 2.7 0a1.35 1.35 0 1 0-2.7 0M163.4 886.8a1.35 1.35 0 1 0 2.7 0a1.35 1.35 0 1 0-2.7 0M166.8 888.6a1.35 1.35 0 1 0 2.7 0a1.35 1.35 0 1 0-2.7 0M170.2 890.3a1.35 1.35 0 1 0 2.7 0a1.35 1.35 0 1 0-2.7 0M173.4 891.9a1.35 1.35 0 1 0 2.7 0a1.35 1.35 0 1 0-2.7 0M176.4 893.5a1.35 1.35 0 1 0 2.7 0a1.35 1.35 0 1 0-2.7 0M179.4 895a1.35 1.35 0 1 0 2.7 0a1.35 1.35 0 1 0-2.7 0M182.3 896.5a1.35 1.35 0 1 0 2.7 0a1.35 1.35 0 1 0-2.7 0M185 897.9a1.35 1.35 0 1 0 2.7 0a1.35 1.35 0 1 0-2.7 0M187.7 899.2a1.35 1.35 0 1 0 2.7 0a1.35 1.35 0 1 0-2.7 0M190.2 900.5a1.35 1.35 0 1 0 2.7 0a1.35 1.35 0 1 0-2.7 0M192.7 901.8a1.35 1.35 0 1 0 2.7 0a1.35 1.35 0 1 0-2.7 0M195.1 903a1.35 1.35 0 1 0 2.7 0a1.35 1.35 0 1 0-2.7 0M197.5 904.2a1.35 1.35 0 1 0 2.7 0a1.35 1.35 0 1 0-2.7 0M199.7 905.4a1.35 1.35 0 1 0 2.7 0a1.35 1.35 0 1 0-2.7 0M201.9 906.5a1.35 1.35 0 1 0 2.7 0a1.35 1.35 0 1 0-2.7 0M204.1 907.6a1.35 1.35 0 1 0 2.7 0a1.35 1.35 0 1 0-2.7 0M206.2 908.7a1.35 1.35 0 1 0 2.7 0a1.35 1.35 0 1 0-2.7 0M208.2 909.7a1.35 1.35 0 1 0 2.7 0a1.35 1.35 0 1 0-2.7 0M210.2 910.7a1.35 1.35 0 1 0 2.7 0a1.35 1.35 0 1 0-2.7 0M212.1 911.7a1.35 1.35 0 1 0 2.7 0a1.35 1.35 0 1 0-2.7 0M214 912.7a1.35 1.35 0 1 0 2.7 0a1.35 1.35 0 1 0-2.7 0M215.9 913.6a1.35 1.35 0 1 0 2.7 0a1.35 1.35 0 1 0-2.7 0" fill="none" stroke="#f0882e" stroke-width="1.5"/>
<polyline points="41.3,848.6 43,850 44.6,851.5 46.3,853 48,854.5 49.6,856 51.3,857.6 53,859.2 54.6,860.8 56.3,862.4 58,864 59.6,865.6 61.3,867.2 62.9,868.9 64.6,870.5 66.3,872.1 67.9,873.8 69.6,875.4 71.3,877 72.9,878.6 74.6,880.2 76.3,881.7 77.9,883.3 79.6,884.8 81.3,886.3 82.9,887.7 84.6,889.1 86.3,890.6 87.9,891.9 89.6,893.3 91.3,894.6 92.9,895.9 94.6,897.2 96.2,898.4 97.9,899.6 99.6,900.8 101.2,902 102.9,903.1 104.6,904.2 106.2,905.3 107.9,906.3 109.6,907.4 111.2,908.4 112.9,909.4 114.6,910.3 116.2,911.2 117.9,912.2 119.6,913 121.2,913.9 122.9,914.8 124.6,915.7 126.2,916.5 127.9,917.4 129.6,918.2 131.2,919.1 132.9,919.9 134.5,920.8 136.2,921.7 137.9,922.5 139.5,923.4 141.2,924.3 142.9,925.2 144.5,926.1 146.2,927.1 147.9,928.1 149.5,929.1 151.2,930.1 152.9,931.1 154.5,932.2 156.2,933.3 157.9,934.5 159.5,935.7 161.2,936.9 162.9,938.2 164.5,939.5 166.2,940.8 167.9,942.2 169.5,943.6 171.2,945 172.8,946.4 174.5,947.8 176.2,949.2 177.8,950.6 179.5,952 181.2,953.4 182.8,954.8 184.5,956.2 186.2,957.6 187.8,958.9 189.5,960.2 191.2,961.4 192.8,962.7 194.5,963.8 196.2,965 197.8,966 199.5,967 201.2,968 202.8,968.9 204.5,969.7 206.1,970.5 207.8,971.1 209.5,971.7 211.1,972.2 212.8,972.6 214.5,972.9 216.1,973.1 217.8,973.2 219.5,973.2 221.1,973.1 222.8,972.9" fill="none" stroke="#ff1f1f" stroke-width="2.0" stroke-linejoin="round" stroke-linecap="round"/>
<polyline points="41.3,848.6 43,850 44.6,851.5 46.3,853 48,854.5 49.6,856 51.3,857.6 53,859.2 54.6,860.8 56.3,862.4 58,864 59.6,865.6 61.3,867.2 62.9,868.9 64.6,870.5 66.3,872.1 67.9,873.8 69.6,875.4 71.3,877 72.9,878.6 74.6,880.2 76.3,881.7 77.9,883.3 79.6,884.8 81.3,886.3 82.9,887.7 84.6,889.1 86.3,890.6 87.9,891.9 89.6,893.3 91.3,894.6 92.9,895.9 94.6,897.2 96.2,898.4 97.9,899.6 99.6,900.8 101.2,902 102.9,903.1 104.6,904.2 106.2,905.3 107.9,906.3 109.6,907.4 111.2,908.4 112.9,909.4 114.6,910.3 116.2,911.2 117.9,912.2 119.6,913 121.2,913.9 122.9,914.8 124.6,915.7 126.2,916.5 127.9,917.4 129.6,918.2 131.2,919.1 132.9,919.9 134.5,920.8 136.2,921.7 137.9,922.5 139.5,923.4 141.2,924.3 142.9,925.2 144.5,926.1 146.2,927.1 147.9,928.1 149.5,929.1 151.2,930.1 152.9,931.1 154.5,932.2 156.2,933.3 157.9,934.5 159.5,935.7 161.2,936.9 162.9,938.2 164.5,939.5 166.2,940.8 167.9,942.2 169.5,943.6 171.2,945 172.8,946.4 174.5,947.8 176.2,949.2 177.8,950.6 179.5,952 181.2,953.4 182.8,954.8 184.5,956.2 186.2,957.6 187.8,958.9 189.5,960.2 191.2,961.4 192.8,962.7 194.5,963.8 196.2,965 197.8,966 199.5,967 201.2,968 202.8,968.9 204.5,969.7 206.1,970.5 207.8,971.1 209.5,971.7 211.1,972.2 212.8,972.6 214.5,972.9 216.1,973.1 217.8,973.2 219.5,973.2 221.1,973.1 222.8,972.9" fill="none" stroke="#1f1fff" stroke-width="2.0" stroke-linejoin="round" stroke-linecap="round"/>
<polyline points="41.3,848.7 43,850.1 44.6,851.5 46.3,853 48,854.5 49.6,856 51.3,857.5 53,859.1 54.6,860.7 56.3,862.3 58,863.9 59.6,865.5 61.3,867.1 62.9,868.8 64.6,870.4 66.3,872.1 67.9,873.7 69.6,875.3 71.3,876.9 72.9,878.5 74.6,880.1 76.3,881.7 77.9,883.2 79.6,884.8 81.3,886.2 82.9,887.7 84.6,889.2 86.3,890.6 87.9,891.9 89.6,893.3 91.3,894.6 92.9,895.9 94.6,897.2 96.2,898.4 97.9,899.7 99.6,900.8 101.2,902 102.9,903.1 104.6,904.3 106.2,905.3 107.9,906.4 109.6,907.4 111.2,908.4 112.9,909.4 114.6,910.4 116.2,911.3 117.9,912.2 119.6,913.2 121.2,914 122.9,914.9 124.6,915.8 126.2,916.7 127.9,917.5 129.6,918.4 131.2,919.2 132.9,920.1 134.5,920.9 136.2,921.8 137.9,922.7 139.5,923.5 141.2,924.4 142.9,925.3 144.5,926.2 146.2,927.2 147.9,928.1 149.5,929.1 151.2,930.1 152.9,931.1 154.5,932.1 156.2,933.2 157.9,934.3 159.5,935.4 161.2,936.6 162.9,937.8 164.5,939.1 166.2,940.3 167.9,941.6 169.5,942.9 171.2,944.3 172.8,945.6 174.5,947 176.2,948.4 177.8,949.9 179.5,951.3 181.2,952.7 182.8,954.1 184.5,955.6 186.2,957 187.8,958.3 189.5,959.7 191.2,961 192.8,962.3 194.5,963.5 196.2,964.7 197.8,965.9 199.5,966.9 201.2,967.9 202.8,968.9 204.5,969.7 206.1,970.5 207.8,971.1 209.5,971.7 211.1,972.2 212.8,972.6 214.5,972.8 216.1,972.9 217.8,972.9 219.5,972.8 221.1,972.5 222.8,972.1" fill="none" stroke="#ff33ff" stroke-width="2.0" stroke-linejoin="round" stroke-linecap="round"/>
<polyline points="41.3,848.9 43,850.2 44.6,851.5 46.3,852.8 48,854.3 49.6,855.7 51.3,857.2 53,858.8 54.6,860.3 56.3,861.9 58,863.6 59.6,865.2 61.3,866.9 62.9,868.6 64.6,870.2 66.3,871.9 67.9,873.6 69.6,875.3 71.3,876.9 72.9,878.6 74.6,880.2 76.3,881.8 77.9,883.4 79.6,885 81.3,886.5 82.9,888 84.6,889.4 86.3,890.8 87.9,892.2 89.6,893.5 91.3,894.8 92.9,896.1 94.6,897.3 96.2,898.5 97.9,899.7 99.6,900.9 101.2,902 102.9,903.1 104.6,904.2 106.2,905.3 107.9,906.3 109.6,907.4 111.2,908.4 112.9,909.3 114.6,910.3 116.2,911.3 117.9,912.2 119.6,913.1 121.2,914 122.9,914.9 124.6,915.8 126.2,916.7 127.9,917.6 129.6,918.5 131.2,919.3 132.9,920.2 134.5,921.1 136.2,922 137.9,922.8 139.5,923.7 141.2,924.6 142.9,925.5 144.5,926.4 146.2,927.3 147.9,928.2 149.5,929.2 151.2,930.1 152.9,931.1 154.5,932 156.2,933 157.9,934.1 159.5,935.1 161.2,936.2 162.9,937.2 164.5,938.4 166.2,939.5 167.9,940.7 169.5,941.9 171.2,943.1 172.8,944.4 174.5,945.8 176.2,947.2 177.8,948.6 179.5,950.1 181.2,951.6 182.8,953.2 184.5,954.7 186.2,956.3 187.8,957.8 189.5,959.3 191.2,960.7 192.8,962.1 194.5,963.4 196.2,964.6 197.8,965.7 199.5,966.8 201.2,967.7 202.8,968.6 204.5,969.4 206.1,970.1 207.8,970.7 209.5,971.2 211.1,971.6 212.8,971.9 214.5,972.2 216.1,972.3 217.8,972.3 219.5,972.1 221.1,971.9 222.8,971.6" fill="none" stroke="#33962d" stroke-width="2.0" stroke-linejoin="round" stroke-linecap="round"/>
<polyline points="41.3,849 43,850.2 44.6,851.5 46.3,852.8 48,854.2 49.6,855.7 51.3,857.2 53,858.7 54.6,860.3 56.3,861.9 58,863.5 59.6,865.2 61.3,866.9 62.9,868.5 64.6,870.2 66.3,871.9 67.9,873.6 69.6,875.3 71.3,877 72.9,878.6 74.6,880.3 76.3,881.9 77.9,883.5 79.6,885 81.3,886.5 82.9,888 84.6,889.5 86.3,890.9 87.9,892.2 89.6,893.5 91.3,894.8 92.9,896.1 94.6,897.3 96.2,898.5 97.9,899.7 99.6,900.9 101.2,902 102.9,903.1 104.6,904.2 106.2,905.2 107.9,906.3 109.6,907.3 111.2,908.3 112.9,909.3 114.6,910.3 116.2,911.2 117.9,912.2 119.6,913.1 121.2,914 122.9,914.9 124.6,915.8 126.2,916.7 127.9,917.6 129.6,918.5 131.2,919.4 132.9,920.3 134.5,921.2 136.2,922 137.9,922.9 139.5,923.8 141.2,924.7 142.9,925.6 144.5,926.5 146.2,927.4 147.9,928.3 149.5,929.2 151.2,930.1 152.9,931.1 154.5,932 156.2,933 157.9,934 159.5,935 161.2,936 162.9,937 164.5,938.1 166.2,939.2 167.9,940.3 169.5,941.4 171.2,942.6 172.8,943.9 174.5,945.2 176.2,946.5 177.8,947.9 179.5,949.3 181.2,950.8 182.8,952.4 184.5,954 186.2,955.6 187.8,957.2 189.5,958.8 191.2,960.3 192.8,961.7 194.5,963 196.2,964.3 197.8,965.4 199.5,966.4 201.2,967.3 202.8,968.2 204.5,968.9 206.1,969.6 207.8,970.1 209.5,970.6 211.1,971 212.8,971.3 214.5,971.5 216.1,971.6 217.8,971.6 219.5,971.6 221.1,971.4 222.8,971.2" fill="none" stroke="#f0882e" stroke-width="2.0" stroke-linejoin="round" stroke-linecap="round"/>
<polyline points="41.3,850.5 43,852 44.6,853.5 46.3,855 48,856.6 49.6,858.1 51.3,859.7 53,861.3 54.6,862.9 56.3,864.6 58,866.2 59.6,867.8 61.3,869.5 62.9,871.1 64.6,872.7 66.3,874.3 67.9,876 69.6,877.6 71.3,879.2 72.9,880.8 74.6,882.3 76.3,883.9 77.9,885.4 79.6,886.9 81.3,888.4 82.9,889.8 84.6,891.2 86.3,892.6 87.9,894 89.6,895.3 91.3,896.6 92.9,897.9 94.6,899.2 96.2,900.4 97.9,901.7 99.6,902.8 101.2,904 102.9,905.1 104.6,906.3 106.2,907.3 107.9,908.4 109.6,909.4 111.2,910.5 112.9,911.5 114.6,912.4 116.2,913.4 117.9,914.3 119.6,915.2 121.2,916.1 122.9,917 124.6,917.9 126.2,918.8 127.9,919.7 129.6,920.6 131.2,921.4 132.9,922.3 134.5,923.2 136.2,924.1 137.9,925 139.5,925.9 141.2,926.8 142.9,927.7 144.5,928.6 146.2,929.6 147.9,930.6 149.5,931.6 151.2,932.6 152.9,933.6 154.5,934.7 156.2,935.8 157.9,936.9 159.5,938.1 161.2,939.3 162.9,940.5 164.5,941.8 166.2,943.1 167.9,944.4 169.5,945.7 171.2,947 172.8,948.4 174.5,949.7 176.2,951.1 177.8,952.5 179.5,953.8 181.2,955.2 182.8,956.5 184.5,957.8 186.2,959.1 187.8,960.3 189.5,961.6 191.2,962.8 192.8,963.9 194.5,965.1 196.2,966.1 197.8,967.2 199.5,968.2 201.2,969.1 202.8,969.9 204.5,970.7 206.1,971.5 207.8,972.1 209.5,972.7 211.1,973.2 212.8,973.7 214.5,974 216.1,974.2 217.8,974.4 219.5,974.4 221.1,974.4 222.8,974.2" fill="none" stroke="#000" stroke-width="2.0" stroke-linejoin="round" stroke-linecap="round"/>
<polygon points="208,970.5 214,970 220,968 223,962 226.3,960 226.3,999 224,999 222.5,985 219,980 214,978 208,976" fill="#000"/>
<path d="M195.6 965.3V967.1M203 968.1V972M212.7 972V974.7M190.7 962V963.2M185.5 957.8V959.1M207.4 968.8V974.2M211.9 970.1V974.2M213.5 971.7V975M187.8 960V960.9M194.2 963.9V966.7M209.6 971V974.9M213.2 971.8V974.5M205.8 968.3V972M203.7 968.2V971.8M193.1 963.7V965.1M193.6 963V965.2M186 958.6V959.5M201.8 967.4V971.5M201.1 967.4V970M202 968.6V970.6M186 958.1V959.5M191.7 962.1V964.2M212.5 970.4V975.4M201.9 967.7V971M212.3 971.7V974.6M212.4 970.1V974.7M202.1 968.4V970.3M196.4 964.8V967.5M191.4 961.9V963.9M201.8 968.5V971.6M212.6 969.8V974.1M194.3 964.3V966.3M190.7 962.2V963.5M204.7 968.7V971.6M188.7 960.5V961.6M195.3 965.2V967.5M203 967.4V971M213.1 971.3V975.9M191.1 962.4V963.9M209.1 970.6V974.2M193.7 963.4V965.7M187.9 959.4V961.4M211.6 971.6V974.9M198 966.1V969.2M211.4 971.3V975.6M199.7 966.2V969.8M190.8 961.3V963.8M188.9 960.4V962M192.9 962.8V965.8M207.5 968.9V973.7M201.3 967.7V969.8M188.8 960.1V961.6M194.9 964.6V966.5M211.7 971.6V975.2M207.6 969.2V972.9M187.1 958.9V960.7M194 963.7V966.4M191.7 962.5V964.2M203.7 969.2V972.6M210.6 970.4V975.3M193.4 963.1V965.1M206.8 970V972.9M202.8 968.3V971.1M187.6 959.8V960.8M202.6 967.3V971M211.4 970.6V974.4M185.2 957.7V959.3M186.7 958.4V960.4M198.6 966V968.4M187.7 959.5V961.3M189.2 960.7V962.1M198.7 967.1V968.9M188.5 959.9V962.2M203 968.7V971.2M187.1 959.2V960.6M203.3 968.2V971.2M211.8 969.9V974.7M207.3 969.4V972.7M199.9 967.3V970.1M194.3 963.9V966.7" stroke="#000" stroke-width="0.7" fill="none"/>
<path d="M224.5 958V966" stroke="#ff1f1f" stroke-width="1.4" fill="none"/>
<path d="M221.5 978V992" stroke="#1f1fff" stroke-width="1.3" fill="none"/>
<path d="M225.6 985V1020" stroke="#f0882e" stroke-width="1.4" fill="none"/>
<line x1="45.5" y1="946.2" x2="70" y2="946.2" stroke="#000" stroke-width="1.7"/>
<text x="72.5" y="949.8" font-size="10.4" text-anchor="start" fill="#1e1e1e" textLength="32" lengthAdjust="spacingAndGlyphs">MFGM</text>
<line x1="45.5" y1="959.2" x2="70" y2="959.2" stroke="#ff1f1f" stroke-width="1.7"/>
<text x="72.5" y="962.8" font-size="10.4" text-anchor="start" fill="#1e1e1e" textLength="100.5" lengthAdjust="spacingAndGlyphs">MFGM-0.2 mM PS20</text>
<line x1="45.5" y1="972.1" x2="70" y2="972.1" stroke="#1f1fff" stroke-width="1.7"/>
<text x="72.5" y="975.7" font-size="10.4" text-anchor="start" fill="#1e1e1e" textLength="100.5" lengthAdjust="spacingAndGlyphs">MFGM-0.4 mM PS20</text>
<line x1="45.5" y1="985.1" x2="70" y2="985.1" stroke="#ff33ff" stroke-width="1.7"/>
<text x="72.5" y="988.7" font-size="10.4" text-anchor="start" fill="#1e1e1e" textLength="100.5" lengthAdjust="spacingAndGlyphs">MFGM-0.6 mM PS20</text>
<line x1="45.5" y1="998" x2="70" y2="998" stroke="#33962d" stroke-width="1.7"/>
<text x="72.5" y="1001.6" font-size="10.4" text-anchor="start" fill="#1e1e1e" textLength="100.5" lengthAdjust="spacingAndGlyphs">MFGM-0.8 mM PS20</text>
<line x1="45.5" y1="1011" x2="70" y2="1011" stroke="#f0882e" stroke-width="1.7"/>
<text x="72.5" y="1014.6" font-size="10.4" text-anchor="start" fill="#1e1e1e" textLength="91" lengthAdjust="spacingAndGlyphs">MFGM-1 mM PS20</text>
<line x1="37.2" y1="848" x2="227.7" y2="848" stroke="#5a5a5a" stroke-width="1"/>
<line x1="227.7" y1="848" x2="227.7" y2="1024.4" stroke="#5a5a5a" stroke-width="1"/>
<line x1="37.2" y1="848" x2="37.2" y2="1024.4" stroke="#222" stroke-width="1.1"/>
<line x1="36.7" y1="1024.4" x2="227.7" y2="1024.4" stroke="#222" stroke-width="1.1"/>
<line x1="33.2" y1="1024.4" x2="37.2" y2="1024.4" stroke="#222" stroke-width="0.8"/>
<line x1="34.9" y1="1015.5" x2="37.2" y2="1015.5" stroke="#222" stroke-width="0.8"/>
<line x1="34.9" y1="1010.4" x2="37.2" y2="1010.4" stroke="#222" stroke-width="0.8"/>
<line x1="34.9" y1="1006.7" x2="37.2" y2="1006.7" stroke="#222" stroke-width="0.8"/>
<line x1="34.9" y1="1003.8" x2="37.2" y2="1003.8" stroke="#222" stroke-width="0.8"/>
<line x1="34.9" y1="1001.5" x2="37.2" y2="1001.5" stroke="#222" stroke-width="0.8"/>
<line x1="34.9" y1="999.5" x2="37.2" y2="999.5" stroke="#222" stroke-width="0.8"/>
<line x1="34.9" y1="997.8" x2="37.2" y2="997.8" stroke="#222" stroke-width="0.8"/>
<line x1="34.9" y1="996.3" x2="37.2" y2="996.3" stroke="#222" stroke-width="0.8"/>
<line x1="33.2" y1="995" x2="37.2" y2="995" stroke="#222" stroke-width="0.8"/>
<line x1="34.9" y1="986.1" x2="37.2" y2="986.1" stroke="#222" stroke-width="0.8"/>
<line x1="34.9" y1="980.9" x2="37.2" y2="980.9" stroke="#222" stroke-width="0.8"/>
<line x1="34.9" y1="977.2" x2="37.2" y2="977.2" stroke="#222" stroke-width="0.8"/>
<line x1="34.9" y1="974.4" x2="37.2" y2="974.4" stroke="#222" stroke-width="0.8"/>
<line x1="34.9" y1="972.1" x2="37.2" y2="972.1" stroke="#222" stroke-width="0.8"/>
<line x1="34.9" y1="970.1" x2="37.2" y2="970.1" stroke="#222" stroke-width="0.8"/>
<line x1="34.9" y1="968.4" x2="37.2" y2="968.4" stroke="#222" stroke-width="0.8"/>
<line x1="34.9" y1="966.9" x2="37.2" y2="966.9" stroke="#222" stroke-width="0.8"/>
<line x1="33.2" y1="965.5" x2="37.2" y2="965.5" stroke="#222" stroke-width="0.8"/>
<line x1="34.9" y1="956.7" x2="37.2" y2="956.7" stroke="#222" stroke-width="0.8"/>
<line x1="34.9" y1="951.5" x2="37.2" y2="951.5" stroke="#222" stroke-width="0.8"/>
<line x1="34.9" y1="947.8" x2="37.2" y2="947.8" stroke="#222" stroke-width="0.8"/>
<line x1="34.9" y1="944.9" x2="37.2" y2="944.9" stroke="#222" stroke-width="0.8"/>
<line x1="34.9" y1="942.6" x2="37.2" y2="942.6" stroke="#222" stroke-width="0.8"/>
<line x1="34.9" y1="940.6" x2="37.2" y2="940.6" stroke="#222" stroke-width="0.8"/>
<line x1="34.9" y1="938.9" x2="37.2" y2="938.9" stroke="#222" stroke-width="0.8"/>
<line x1="34.9" y1="937.4" x2="37.2" y2="937.4" stroke="#222" stroke-width="0.8"/>
<line x1="33.2" y1="936.1" x2="37.2" y2="936.1" stroke="#222" stroke-width="0.8"/>
<line x1="34.9" y1="927.2" x2="37.2" y2="927.2" stroke="#222" stroke-width="0.8"/>
<line x1="34.9" y1="922" x2="37.2" y2="922" stroke="#222" stroke-width="0.8"/>
<line x1="34.9" y1="918.4" x2="37.2" y2="918.4" stroke="#222" stroke-width="0.8"/>
<line x1="34.9" y1="915.5" x2="37.2" y2="915.5" stroke="#222" stroke-width="0.8"/>
<line x1="34.9" y1="913.2" x2="37.2" y2="913.2" stroke="#222" stroke-width="0.8"/>
<line x1="34.9" y1="911.2" x2="37.2" y2="911.2" stroke="#222" stroke-width="0.8"/>
<line x1="34.9" y1="909.5" x2="37.2" y2="909.5" stroke="#222" stroke-width="0.8"/>
<line x1="34.9" y1="908" x2="37.2" y2="908" stroke="#222" stroke-width="0.8"/>
<line x1="33.2" y1="906.6" x2="37.2" y2="906.6" stroke="#222" stroke-width="0.8"/>
<line x1="34.9" y1="897.8" x2="37.2" y2="897.8" stroke="#222" stroke-width="0.8"/>
<line x1="34.9" y1="892.6" x2="37.2" y2="892.6" stroke="#222" stroke-width="0.8"/>
<line x1="34.9" y1="888.9" x2="37.2" y2="888.9" stroke="#222" stroke-width="0.8"/>
<line x1="34.9" y1="886.1" x2="37.2" y2="886.1" stroke="#222" stroke-width="0.8"/>
<line x1="34.9" y1="883.7" x2="37.2" y2="883.7" stroke="#222" stroke-width="0.8"/>
<line x1="34.9" y1="881.8" x2="37.2" y2="881.8" stroke="#222" stroke-width="0.8"/>
<line x1="34.9" y1="880.1" x2="37.2" y2="880.1" stroke="#222" stroke-width="0.8"/>
<line x1="34.9" y1="878.5" x2="37.2" y2="878.5" stroke="#222" stroke-width="0.8"/>
<line x1="33.2" y1="877.2" x2="37.2" y2="877.2" stroke="#222" stroke-width="0.8"/>
<line x1="34.9" y1="868.3" x2="37.2" y2="868.3" stroke="#222" stroke-width="0.8"/>
<line x1="34.9" y1="863.2" x2="37.2" y2="863.2" stroke="#222" stroke-width="0.8"/>
<line x1="34.9" y1="859.5" x2="37.2" y2="859.5" stroke="#222" stroke-width="0.8"/>
<line x1="34.9" y1="856.6" x2="37.2" y2="856.6" stroke="#222" stroke-width="0.8"/>
<line x1="34.9" y1="854.3" x2="37.2" y2="854.3" stroke="#222" stroke-width="0.8"/>
<line x1="34.9" y1="852.3" x2="37.2" y2="852.3" stroke="#222" stroke-width="0.8"/>
<line x1="34.9" y1="850.6" x2="37.2" y2="850.6" stroke="#222" stroke-width="0.8"/>
<line x1="34.9" y1="849.1" x2="37.2" y2="849.1" stroke="#222" stroke-width="0.8"/>
<line x1="40.5" y1="1024.4" x2="40.5" y2="1026.7" stroke="#222" stroke-width="0.8"/>
<line x1="47.1" y1="1024.4" x2="47.1" y2="1026.7" stroke="#222" stroke-width="0.8"/>
<line x1="52.8" y1="1024.4" x2="52.8" y2="1026.7" stroke="#222" stroke-width="0.8"/>
<line x1="57.9" y1="1024.4" x2="57.9" y2="1026.7" stroke="#222" stroke-width="0.8"/>
<line x1="62.4" y1="1024.4" x2="62.4" y2="1028.4" stroke="#222" stroke-width="0.8"/>
<line x1="92.1" y1="1024.4" x2="92.1" y2="1026.7" stroke="#222" stroke-width="0.8"/>
<line x1="109.5" y1="1024.4" x2="109.5" y2="1026.7" stroke="#222" stroke-width="0.8"/>
<line x1="121.9" y1="1024.4" x2="121.9" y2="1026.7" stroke="#222" stroke-width="0.8"/>
<line x1="131.5" y1="1024.4" x2="131.5" y2="1026.7" stroke="#222" stroke-width="0.8"/>
<line x1="139.3" y1="1024.4" x2="139.3" y2="1026.7" stroke="#222" stroke-width="0.8"/>
<line x1="145.9" y1="1024.4" x2="145.9" y2="1026.7" stroke="#222" stroke-width="0.8"/>
<line x1="151.6" y1="1024.4" x2="151.6" y2="1026.7" stroke="#222" stroke-width="0.8"/>
<line x1="156.7" y1="1024.4" x2="156.7" y2="1026.7" stroke="#222" stroke-width="0.8"/>
<line x1="161.2" y1="1024.4" x2="161.2" y2="1028.4" stroke="#222" stroke-width="0.8"/>
<line x1="190.9" y1="1024.4" x2="190.9" y2="1026.7" stroke="#222" stroke-width="0.8"/>
<line x1="208.3" y1="1024.4" x2="208.3" y2="1026.7" stroke="#222" stroke-width="0.8"/>
<line x1="220.7" y1="1024.4" x2="220.7" y2="1026.7" stroke="#222" stroke-width="0.8"/>
<text x="22.8" y="861" font-size="13.6" text-anchor="middle" fill="#1e1e1e">M</text>
<text x="15.5" y="881.8" font-size="13.6" text-anchor="middle" fill="#1e1e1e">1000</text>
<text x="16.3" y="1029" font-size="13.6" text-anchor="middle" fill="#1e1e1e">0.01</text>
<text x="62.4" y="1041.4" font-size="13.6" text-anchor="middle" fill="#1e1e1e">0.01</text>
<text x="161.2" y="1041.4" font-size="13.6" text-anchor="middle" fill="#1e1e1e">0.1</text>
<text x="24.5" y="936.2" font-size="13" text-anchor="middle" fill="#1e1e1e" transform="rotate(-90 24.5 936.2)">Log <tspan font-style="italic">I</tspan>(<tspan font-style="italic">q</tspan>) (a.u.)</text>
<text x="124" y="1053.4" font-size="13" text-anchor="middle" fill="#1e1e1e"><tspan font-style="italic">q</tspan> (Å<tspan dy="-5" font-size="8.5">-1</tspan><tspan dy="5">)</tspan></text>
<path d="M255.2 1020.5V1028M259.4 1018.2V1025.7M263.5 1011.4V1018.9M267.7 1001.1V1008.6M271.8 988.4V995.9M276 974.2V981.7M280.1 959.4V966.9M284.3 944.7V952.2M288.4 930.8V938.3M292.6 918.1V925.6M296.7 906.9V914.4M300.9 897.5V905M305 890V897.5M309.2 884.5V892M313.3 881V888.5M317.5 879.4V886.9M321.6 879.6V887.1M325.8 881.3V888.8M330 884.5V892M334.1 888.9V896.4M338.3 894.3V901.8M342.4 900.8V908.3M346.6 907.9V915.4M350.7 915.7V923.2M354.9 923.8V931.3M359 932.3V939.8M363.2 940.8V948.3M367.3 949.3V956.8M371.5 957.7V965.2M375.6 965.8V973.3M379.8 973.5V981M383.9 980.7V988.2M388.1 987.5V995M392.2 993.6V1001.1M396.4 999.1V1006.6M400.5 1003.9V1011.4M404.7 1008.1V1015.6M408.9 1011.6V1019.1M413 1014.4V1021.9M417.2 1016.6V1024.1M421.3 1018.3V1025.8M425.5 1019.4V1026.9M429.6 1020.1V1027.6M433.8 1020.4V1027.9M437.9 1020.5V1028" stroke="#000" stroke-width="0.6" fill="none" opacity="0.55"/>
<polyline points="255.2,1024.3 257.3,1023.7 259.4,1022 261.4,1019.1 263.5,1015.2 265.6,1010.4 267.7,1004.9 269.7,998.7 271.8,992.1 273.9,985.1 276,977.9 278,970.5 280.1,963.1 282.2,955.7 284.3,948.5 286.3,941.4 288.4,934.6 290.5,928.1 292.6,921.9 294.7,916.1 296.7,910.7 298.8,905.7 300.9,901.3 303,897.3 305,893.8 307.1,890.8 309.2,888.2 311.3,886.2 313.3,884.7 315.4,883.7 317.5,883.1 319.6,883 321.6,883.3 323.7,884 325.8,885.1 327.9,886.5 330,888.2 332,890.3 334.1,892.6 336.2,895.2 338.3,898.1 340.3,901.2 342.4,904.5 344.5,908 346.6,911.7 348.6,915.5 350.7,919.4 352.8,923.4 354.9,927.6 356.9,931.8 359,936 361.1,940.3 363.2,944.5 365.2,948.8 367.3,953.1 369.4,957.3 371.5,961.4 373.6,965.5 375.6,969.5 377.7,973.4 379.8,977.2 381.9,980.9 383.9,984.5 386,987.9 388.1,991.2 390.2,994.3 392.2,997.3 394.3,1000.2 396.4,1002.8 398.5,1005.3 400.5,1007.7 402.6,1009.8 404.7,1011.8 406.8,1013.7 408.9,1015.3 410.9,1016.8 413,1018.2 415.1,1019.4 417.2,1020.4 419.2,1021.3 421.3,1022 423.4,1022.7 425.5,1023.2 427.5,1023.6 429.6,1023.8 431.7,1024.1 433.8,1024.2 435.8,1024.3 437.9,1024.3 440,1024.3" fill="none" stroke="#000" stroke-width="2.9" stroke-linejoin="round" stroke-linecap="round"/>
<path d="M255.2 1020.5V1028M259.4 1018.2V1025.7M263.6 1011.4V1018.9M267.8 1001V1008.5M272 988.2V995.7M276.2 973.9V981.4M280.4 959.1V966.6M284.6 944.3V951.8M288.8 930.3V937.8M293 917.5V925M297.2 906.1V913.6M301.4 896.6V904.1M305.6 889V896.5M309.8 883.3V890.8M314 879.7V887.2M318.2 878V885.5M322.4 878.1V885.6M326.6 879.8V887.3M330.8 882.9V890.4M335 887.3V894.8M339.2 892.8V900.3M343.4 899.3V906.8M347.6 906.5V914M351.7 914.3V921.8M355.9 922.6V930.1M360.1 931.1V938.6M364.3 939.7V947.2M368.5 948.3V955.8M372.7 956.8V964.3M376.9 965V972.5M381.1 972.8V980.3M385.3 980.2V987.7M389.5 987V994.5M393.7 993.2V1000.7M397.9 998.8V1006.3M402.1 1003.7V1011.2M406.3 1007.9V1015.4M410.5 1011.4V1018.9M414.7 1014.3V1021.8M418.9 1016.6V1024.1M423.1 1018.2V1025.7M427.3 1019.4V1026.9M431.5 1020.1V1027.6M435.7 1020.4V1027.9M439.9 1020.5V1028" stroke="#ff1f1f" stroke-width="0.6" fill="none" opacity="0.55"/>
<polyline points="255.2,1024.3 257.3,1023.7 259.4,1022 261.5,1019.1 263.6,1015.2 265.7,1010.4 267.8,1004.8 269.9,998.6 272,992 274.1,985 276.2,977.7 278.3,970.3 280.4,962.8 282.5,955.4 284.6,948.1 286.7,940.9 288.8,934 290.9,927.5 293,921.2 295.1,915.3 297.2,909.9 299.3,904.9 301.4,900.4 303.5,896.3 305.6,892.7 307.7,889.7 309.8,887.1 311.9,885 314,883.4 316.1,882.4 318.2,881.8 320.3,881.6 322.4,881.9 324.5,882.5 326.6,883.6 328.7,885 330.8,886.7 332.9,888.7 335,891.1 337.1,893.7 339.2,896.6 341.3,899.7 343.4,903 345.5,906.6 347.6,910.3 349.6,914.1 351.7,918.1 353.8,922.2 355.9,926.3 358,930.6 360.1,934.8 362.2,939.2 364.3,943.5 366.4,947.8 368.5,952.1 370.6,956.4 372.7,960.6 374.8,964.7 376.9,968.8 379,972.7 381.1,976.6 383.2,980.3 385.3,983.9 387.4,987.4 389.5,990.7 391.6,993.9 393.7,996.9 395.8,999.8 397.9,1002.5 400,1005.1 402.1,1007.4 404.2,1009.6 406.3,1011.7 408.4,1013.5 410.5,1015.2 412.6,1016.7 414.7,1018.1 416.8,1019.3 418.9,1020.3 421,1021.2 423.1,1022 425.2,1022.6 427.3,1023.1 429.4,1023.5 431.5,1023.8 433.6,1024.1 435.7,1024.2 437.8,1024.3 439.9,1024.3 442,1024.3" fill="none" stroke="#ff1f1f" stroke-width="2.9" stroke-linejoin="round" stroke-linecap="round"/>
<path d="M255.2 1020.5V1028M259.4 1018.2V1025.7M263.6 1011.1V1018.6M267.9 1000.5V1008M272.1 987.3V994.8M276.3 972.6V980.1M280.5 957.4V964.9M284.7 942.3V949.8M289 927.9V935.4M293.2 914.8V922.3M297.4 903.3V910.8M301.6 893.7V901.2M305.8 886V893.5M310.1 880.3V887.8M314.3 876.7V884.2M318.5 875.2V882.7M322.7 875.4V882.9M326.9 877.3V884.8M331.2 880.5V888M335.4 885.1V892.6M339.6 890.8V898.3M343.8 897.4V904.9M348 904.8V912.3M352.3 912.7V920.2M356.5 921.1V928.6M360.7 929.8V937.3M364.9 938.6V946.1M369.1 947.4V954.9M373.4 956V963.5M377.6 964.3V971.8M381.8 972.2V979.7M386 979.7V987.2M390.2 986.6V994.1M394.5 992.9V1000.4M398.7 998.5V1006M402.9 1003.5V1011M407.1 1007.8V1015.3M411.3 1011.3V1018.8M415.6 1014.3V1021.8M419.8 1016.5V1024M424 1018.2V1025.7M428.2 1019.4V1026.9M432.4 1020.1V1027.6M436.7 1020.4V1027.9M440.9 1020.5V1028" stroke="#1f1fff" stroke-width="0.6" fill="none" opacity="0.55"/>
<polyline points="255.2,1024.3 257.3,1023.7 259.4,1021.9 261.5,1018.9 263.6,1014.9 265.8,1009.9 267.9,1004.2 270,997.9 272.1,991 274.2,983.8 276.3,976.4 278.4,968.8 280.5,961.1 282.6,953.5 284.7,946 286.9,938.7 289,931.7 291.1,925 293.2,918.6 295.3,912.6 297.4,907.1 299.5,902 301.6,897.4 303.7,893.3 305.8,889.7 308,886.6 310.1,884.1 312.2,882 314.3,880.5 316.4,879.4 318.5,878.9 320.6,878.8 322.7,879.2 324.8,879.9 326.9,881 329.1,882.5 331.2,884.3 333.3,886.4 335.4,888.8 337.5,891.6 339.6,894.5 341.7,897.7 343.8,901.1 345.9,904.7 348,908.5 350.2,912.4 352.3,916.5 354.4,920.6 356.5,924.9 358.6,929.2 360.7,933.6 362.8,938 364.9,942.4 367,946.7 369.1,951.1 371.3,955.4 373.4,959.7 375.5,963.9 377.6,968 379.7,972 381.8,975.9 383.9,979.7 386,983.4 388.1,986.9 390.2,990.3 392.4,993.5 394.5,996.6 396.6,999.5 398.7,1002.3 400.8,1004.8 402.9,1007.2 405,1009.4 407.1,1011.5 409.2,1013.4 411.3,1015.1 413.5,1016.6 415.6,1018 417.7,1019.2 419.8,1020.3 421.9,1021.2 424,1022 426.1,1022.6 428.2,1023.1 430.3,1023.5 432.4,1023.8 434.6,1024.1 436.7,1024.2 438.8,1024.3 440.9,1024.3 443,1024.3" fill="none" stroke="#1f1fff" stroke-width="2.9" stroke-linejoin="round" stroke-linecap="round"/>
<path d="M255.2 1020.5V1028M259.5 1018V1025.5M263.7 1010.6V1018.1M268 999.3V1006.8M272.2 985.3V992.8M276.5 969.8V977.3M280.7 953.7V961.2M285 937.8V945.3M289.2 922.7V930.2M293.5 909V916.5M297.7 897V904.5M302 886.9V894.4M306.2 879V886.5M310.5 873.2V880.7M314.8 869.6V877.1M319 868.1V875.6M323.3 868.6V876.1M327.5 870.6V878.1M331.8 874.2V881.7M336 879V886.5M340.3 885.1V892.6M344.5 892V899.5M348.8 899.8V907.3M353 908.2V915.7M357.3 917V924.5M361.5 926.1V933.6M365.8 935.2V942.7M370.1 944.4V951.9M374.3 953.3V960.8M378.6 962V969.5M382.8 970.3V977.8M387.1 978V985.5M391.3 985.2V992.7M395.6 991.8V999.3M399.8 997.6V1005.1M404.1 1002.8V1010.3M408.3 1007.3V1014.8M412.6 1011V1018.5M416.8 1014V1021.5M421.1 1016.4V1023.9M425.4 1018.1V1025.6M429.6 1019.3V1026.8M433.9 1020.1V1027.6M438.1 1020.4V1027.9M442.4 1020.5V1028" stroke="#ff33ff" stroke-width="0.6" fill="none" opacity="0.55"/>
<polyline points="255.2,1024.3 257.3,1023.7 259.5,1021.8 261.6,1018.6 263.7,1014.3 265.8,1009.1 268,1003 270.1,996.3 272.2,989.1 274.3,981.4 276.5,973.6 278.6,965.5 280.7,957.5 282.9,949.4 285,941.6 287.1,933.9 289.2,926.5 291.4,919.4 293.5,912.8 295.6,906.5 297.7,900.7 299.9,895.4 302,890.7 304.1,886.4 306.2,882.7 308.4,879.5 310.5,876.9 312.6,874.9 314.8,873.3 316.9,872.3 319,871.9 321.1,871.9 323.3,872.3 325.4,873.1 327.5,874.4 329.6,876 331.8,877.9 333.9,880.2 336,882.8 338.2,885.7 340.3,888.8 342.4,892.2 344.5,895.8 346.7,899.6 348.8,903.5 350.9,907.7 353,911.9 355.2,916.3 357.3,920.7 359.4,925.2 361.5,929.8 363.7,934.4 365.8,939 367.9,943.6 370.1,948.1 372.2,952.6 374.3,957.1 376.4,961.5 378.6,965.8 380.7,969.9 382.8,974 384.9,978 387.1,981.8 389.2,985.4 391.3,989 393.5,992.3 395.6,995.5 397.7,998.5 399.8,1001.4 402,1004.1 404.1,1006.6 406.2,1008.9 408.3,1011 410.5,1013 412.6,1014.7 414.7,1016.3 416.8,1017.8 419,1019 421.1,1020.1 423.2,1021.1 425.4,1021.9 427.5,1022.5 429.6,1023.1 431.7,1023.5 433.9,1023.8 436,1024 438.1,1024.2 440.2,1024.3 442.4,1024.3 444.5,1024.3" fill="none" stroke="#ff33ff" stroke-width="2.9" stroke-linejoin="round" stroke-linecap="round"/>
<path d="M255.2 1020.5V1028M259.4 1017.9V1025.4M263.7 1010.2V1017.7M267.9 998.6V1006.1M272.2 984.2V991.7M276.4 968.2V975.7M280.7 951.5V959M284.9 935.1V942.6M289.1 919.5V927M293.4 905.3V912.8M297.6 892.9V900.4M301.9 882.5V890M306.1 874.2V881.7M310.4 868.2V875.7M314.6 864.5V872M318.8 862.9V870.4M323.1 863.3V870.8M327.3 865.5V873M331.6 869.1V876.6M335.8 874.1V881.6M340.1 880.3V887.8M344.3 887.5V895M348.5 895.6V903.1M352.8 904.2V911.7M357 913.3V920.8M361.3 922.7V930.2M365.5 932.2V939.7M369.8 941.7V949.2M374 951V958.5M378.2 959.9V967.4M382.5 968.5V976M386.7 976.5V984M391 984V991.5M395.2 990.7V998.2M399.5 996.8V1004.3M403.7 1002.2V1009.7M407.9 1006.8V1014.3M412.2 1010.6V1018.1M416.4 1013.8V1021.3M420.7 1016.2V1023.7M424.9 1018V1025.5M429.2 1019.3V1026.8M433.4 1020.1V1027.6M437.6 1020.4V1027.9M441.9 1020.5V1028" stroke="#33962d" stroke-width="0.6" fill="none" opacity="0.55"/>
<polyline points="255.2,1024.3 257.3,1023.7 259.4,1021.7 261.6,1018.4 263.7,1014 265.8,1008.6 267.9,1002.3 270,995.4 272.2,987.9 274.3,980.1 276.4,971.9 278.5,963.6 280.7,955.3 282.8,947 284.9,938.9 287,930.9 289.1,923.3 291.3,916 293.4,909.1 295.5,902.6 297.6,896.6 299.7,891.2 301.9,886.2 304,881.8 306.1,878 308.2,874.7 310.4,872 312.5,869.8 314.6,868.2 316.7,867.2 318.8,866.7 321,866.7 323.1,867.1 325.2,868 327.3,869.2 329.4,870.9 331.6,872.9 333.7,875.2 335.8,877.9 337.9,880.8 340.1,884.1 342.2,887.6 344.3,891.3 346.4,895.2 348.5,899.3 350.7,903.6 352.8,908 354.9,912.5 357,917.1 359.1,921.8 361.3,926.5 363.4,931.2 365.5,936 367.6,940.7 369.8,945.4 371.9,950.1 374,954.7 376.1,959.2 378.2,963.7 380.4,968 382.5,972.2 384.6,976.3 386.7,980.3 388.8,984.1 391,987.7 393.1,991.2 395.2,994.5 397.3,997.6 399.5,1000.6 401.6,1003.3 403.7,1005.9 405.8,1008.3 407.9,1010.5 410.1,1012.6 412.2,1014.4 414.3,1016 416.4,1017.5 418.5,1018.8 420.7,1020 422.8,1021 424.9,1021.8 427,1022.5 429.2,1023 431.3,1023.5 433.4,1023.8 435.5,1024 437.6,1024.2 439.8,1024.3 441.9,1024.3 444,1024.3" fill="none" stroke="#33962d" stroke-width="2.9" stroke-linejoin="round" stroke-linecap="round"/>
<path d="M255.2 1020.5V1028M259.4 1017.8V1025.3M263.7 1009.9V1017.4M267.9 997.9V1005.4M272.2 983V990.5M276.4 966.4V973.9M280.7 949.3V956.8M284.9 932.3V939.8M289.2 916.2V923.7M293.4 901.5V909M297.7 888.7V896.2M301.9 877.9V885.4M306.2 869.3V876.8M310.4 863.1V870.6M314.7 859.2V866.7M318.9 857.6V865.1M323.2 858.1V865.6M327.4 860.2V867.7M331.6 864V871.5M335.9 869.2V876.7M340.1 875.6V883.1M344.4 883V890.5M348.6 891.3V898.8M352.9 900.3V907.8M357.1 909.7V917.2M361.4 919.4V926.9M365.6 929.2V936.7M369.9 939V946.5M374.1 948.6V956.1M378.4 957.9V965.4M382.6 966.7V974.2M386.9 975V982.5M391.1 982.7V990.2M395.4 989.7V997.2M399.6 996V1003.5M403.9 1001.5V1009M408.1 1006.3V1013.8M412.3 1010.3V1017.8M416.6 1013.5V1021M420.8 1016.1V1023.6M425.1 1018V1025.5M429.3 1019.2V1026.7M433.6 1020V1027.5M437.8 1020.4V1027.9M442.1 1020.5V1028" stroke="#f0882e" stroke-width="0.6" fill="none" opacity="0.55"/>
<polyline points="255.2,1024.3 257.3,1023.6 259.4,1021.6 261.6,1018.2 263.7,1013.7 265.8,1008.1 267.9,1001.6 270.1,994.4 272.2,986.7 274.3,978.6 276.4,970.2 278.6,961.6 280.7,953 282.8,944.5 284.9,936 287.1,927.8 289.2,920 291.3,912.4 293.4,905.3 295.5,898.6 297.7,892.4 299.8,886.7 301.9,881.6 304,877.1 306.2,873.1 308.3,869.7 310.4,866.9 312.5,864.7 314.7,863 316.8,861.9 318.9,861.4 321,861.4 323.2,861.8 325.3,862.7 327.4,864 329.5,865.7 331.6,867.7 333.8,870.2 335.9,872.9 338,876 340.1,879.3 342.3,882.9 344.4,886.8 346.5,890.8 348.6,895.1 350.8,899.5 352.9,904 355,908.7 357.1,913.4 359.3,918.3 361.4,923.1 363.5,928 365.6,933 367.8,937.9 369.9,942.7 372,947.6 374.1,952.3 376.2,957 378.4,961.6 380.5,966.1 382.6,970.4 384.7,974.7 386.9,978.8 389,982.7 391.1,986.5 393.2,990 395.4,993.5 397.5,996.7 399.6,999.8 401.7,1002.6 403.9,1005.3 406,1007.8 408.1,1010.1 410.2,1012.1 412.3,1014.1 414.5,1015.8 416.6,1017.3 418.7,1018.7 420.8,1019.8 423,1020.8 425.1,1021.7 427.2,1022.4 429.3,1023 431.5,1023.4 433.6,1023.8 435.7,1024 437.8,1024.2 440,1024.3 442.1,1024.3 444.2,1024.3" fill="none" stroke="#f0882e" stroke-width="2.9" stroke-linejoin="round" stroke-linecap="round"/>
<line x1="255.2" y1="847.8" x2="446" y2="847.8" stroke="#5a5a5a" stroke-width="1"/>
<line x1="446" y1="847.8" x2="446" y2="1024.5" stroke="#5a5a5a" stroke-width="1"/>
<line x1="255.2" y1="847.8" x2="255.2" y2="1024.5" stroke="#222" stroke-width="1.1"/>
<line x1="254.7" y1="1024.5" x2="446" y2="1024.5" stroke="#222" stroke-width="1.1"/>
<line x1="251.2" y1="864.5" x2="255.2" y2="864.5" stroke="#222" stroke-width="0.9"/>
<line x1="251.2" y1="944.4" x2="255.2" y2="944.4" stroke="#222" stroke-width="0.9"/>
<line x1="251.2" y1="1024.3" x2="255.2" y2="1024.3" stroke="#222" stroke-width="0.9"/>
<line x1="255.2" y1="1024.5" x2="255.2" y2="1028.5" stroke="#222" stroke-width="0.9"/>
<line x1="302.9" y1="1024.5" x2="302.9" y2="1028.5" stroke="#222" stroke-width="0.9"/>
<line x1="350.6" y1="1024.5" x2="350.6" y2="1028.5" stroke="#222" stroke-width="0.9"/>
<line x1="398.3" y1="1024.5" x2="398.3" y2="1028.5" stroke="#222" stroke-width="0.9"/>
<line x1="446" y1="1024.5" x2="446" y2="1028.5" stroke="#222" stroke-width="0.9"/>
<line x1="279.1" y1="1024.5" x2="279.1" y2="1027" stroke="#222" stroke-width="0.9"/>
<line x1="326.8" y1="1024.5" x2="326.8" y2="1027" stroke="#222" stroke-width="0.9"/>
<line x1="374.5" y1="1024.5" x2="374.5" y2="1027" stroke="#222" stroke-width="0.9"/>
<line x1="422.2" y1="1024.5" x2="422.2" y2="1027" stroke="#222" stroke-width="0.9"/>
<text x="237.5" y="858.5" font-size="13.6" text-anchor="middle" fill="#1e1e1e">N</text>
<text x="244.5" y="869" font-size="13.6" text-anchor="middle" fill="#1e1e1e">1</text>
<text x="247" y="1028.8" font-size="13.6" text-anchor="middle" fill="#1e1e1e">0</text>
<text x="255.2" y="1042" font-size="13.6" text-anchor="middle" fill="#1e1e1e">0</text>
<text x="302.9" y="1042" font-size="13.6" text-anchor="middle" fill="#1e1e1e">200</text>
<text x="350.6" y="1042" font-size="13.6" text-anchor="middle" fill="#1e1e1e">400</text>
<text x="398.3" y="1042" font-size="13.6" text-anchor="middle" fill="#1e1e1e">600</text>
<text x="446" y="1042" font-size="13.6" text-anchor="middle" fill="#1e1e1e">800</text>
<text x="247" y="939.9" font-size="13" text-anchor="middle" fill="#1e1e1e" transform="rotate(-90 247 939.9)"><tspan font-style="italic">p</tspan>(r)</text>
<text x="349.5" y="1054.7" font-size="13" text-anchor="middle" fill="#1e1e1e"><tspan font-style="italic">r</tspan>(Å)</text>
<clipPath id="clipO"><rect x="479.1" y="847.8" width="190.3" height="176.4"/></clipPath>
<g clip-path="url(#clipO)">
<polygon points="548,985 560,998 575,1002 590,997 600,990 620,976 640,950 655,928 664,905 670,880 670,1025 582,1025 570,1021 560,1013 550,996" fill="#000"/>
<polygon points="560,952 575,968 590,970 598,966 611,952 628,937 640,912 645,897 650,876 655,858 660,846 671,846 671,880 664,905 655,928 640,948 620,975 600,988 585,990 570,986 558,968" fill="#f0882e"/>
<polygon points="556,962 566,978 578,988 596,990 600,988 585,995 570,995 558,985 552,968" fill="#33962d"/>
<path d="M657.4 1001.4V1005.5M653 1018.1V1024M610.6 1012.4V1016.6M595.2 996.9V1002.9M645.6 1001.3V1014.4M634.8 1012.7V1024M616.3 1012.4V1024M605.5 995.1V1010.3M596.3 1001.1V1016.7M624.3 1000.8V1009.2M656.6 1008V1017.3M641.4 995.7V1011.1M655.8 1003.9V1016.6M660.9 1012.1V1024M659.2 999.4V1004.3M636.2 1020.3V1024M594.8 997.3V1005.1M653.4 1014.6V1023.3M587 1020.6V1024M642.2 1013.9V1020.6" stroke="#fff" stroke-width="1.2" fill="none"/>
<path d="M660.2 1007.9V1017M623.2 1021.4V1024M591.4 1011.7V1020.6M636.3 1014.5V1020.1M597.4 1004.8V1013.7M663.3 1009.4V1013.5M624.1 1016.1V1024M604 995.4V1008M607.3 1001.4V1013.7M641.7 998.2V1013.9M618.6 1009.9V1016.8M634.2 1000.7V1015.8M642.9 1021V1024M633.3 1011.4V1015M631.9 1014.6V1024" stroke="#fff" stroke-width="0.8" fill="none"/>
<path d="M625.7 1011.9V1023.8M647.2 1017.9V1024M601.8 1019.4V1024M591.8 1015.6V1024M647.2 1002.4V1007.1M667.2 1018.2V1024M626.7 1002.7V1009.9M658.6 1017.7V1023.7" stroke="#c8c8ff" stroke-width="1.2" fill="none"/>
<path d="M606.4 1017.9V1022.7M650.2 1008.8V1019.4M605.8 1015.7V1021.2M617.5 1011.5V1014.6M618 1010.8V1020.6M667.5 1004.9V1011.1M614.3 1016.6V1024M589.7 998.4V1009.7M666.7 998.9V1011.4M648.9 1014.7V1024M609.4 1001.1V1013.7M588.5 1012.3V1017.1M609.9 1013V1024M639 1022V1024M664.3 1019.5V1024M642.9 1017.9V1024M626.2 1017.1V1024M664 1012.7V1024M662.4 1007.1V1013.5M597.2 1007.2V1017M639.3 998.6V1009.4M659.3 1014.1V1024" stroke="#1f1fff" stroke-width="0.8" fill="none"/>
<path d="M637.8 1014V1024M628 1003.7V1007.5M645.5 1001.8V1005.5M656.5 1017.7V1024M646.5 1005.4V1014.5M637 1015V1019.7M591.2 1005.7V1019.6M661.1 1004V1013.9M635 1002.7V1006.4M638.5 1008.1V1016.3M593.6 1018.3V1024M622.4 1020.6V1024M596.9 1002.8V1013.9M660.1 1009.8V1018.7M630.6 1017.8V1024M611.7 1006.2V1010.4M621.4 1020.6V1024M596.6 1009.7V1013.8M636.6 1011.5V1018.3M610.6 1009V1019.4M597.7 1014V1024M635.1 1009V1014.2M625.1 1004.1V1013.6M638.1 1005.2V1010.1" stroke="#1f1fff" stroke-width="1.2" fill="none"/>
<path d="M658.1 1008.3V1022.6M599.1 1011.7V1015.1M590.7 1004.1V1008.8M642.6 1020V1024M641.7 996.6V1010.6" stroke="#c8c8ff" stroke-width="0.8" fill="none"/>
<path d="M614.9 1021.5V1024M623.7 1008.1V1016.2M592.7 1011.4V1024M661.6 1004.4V1017.5M640.3 1021.5V1024M667.5 1000.1V1005.4M605.8 1015.6V1024M658.6 1017V1023.7M599.1 1000.7V1013.3" stroke="#6666ff" stroke-width="0.8" fill="none"/>
<path d="M640.9 1003.6V1016.3M613.3 1016.6V1024M647.3 997.5V1002.3M612.9 1007.1V1010.5M617 1012.8V1018.1M655 1000.2V1013M606.2 1007.1V1014.6" stroke="#6666ff" stroke-width="1.2" fill="none"/>
<path d="M612.5 946V950.6M594.9 964.6V971.8M643.1 892.2V898.1M656.7 844.9V852.8M578.7 967.8V972.2M562.9 951.3V955.8M628.5 930.4V940.4M604.4 955.3V960.4M654.5 852.7V859.6M580.1 966.7V971.4M661.3 839.7V848.3M619.1 939.5V947.5M627.9 930.3V935.1M583.3 967.8V974.8M601 958.7V967.2M668 838.2V847.9M643.1 893.9V900.1M610 947.8V953.1M588.6 963.9V972.1M565.2 956V965.1M638.6 908V915.1M629.5 924.3V931.7M639.9 905.8V910.4M639.6 903V911.5M560.3 951.1V956.8M560.2 952.9V957.5M565.7 957V963.3M618.4 939.6V946M578.6 968.5V976.7M577.9 965.5V970.9M646.5 883.5V889.5M609.4 944.9V953.7M597.4 962.3V967.5M606.4 949.4V958.6M650.8 861.7V868.4M619.8 938.3V948.1M581.8 966.3V972.9M593.3 964.6V971.2M583.4 964.4V972.2M661.1 841.9V846.9M603.9 955.3V965.1M582.2 966.6V973.7M645.3 885.9V893.6M634.4 914.2V918.9M647.2 878.6V886.4M646 886.2V892.9M621.5 937.7V944.8M593.3 963.2V970.2M654.2 853.5V863.2M621 938.7V948.6M632.6 921.2V927.1M573.6 963V972.2M611.1 945.6V952M579.3 968.9V977.7M601.9 957.2V965.9M575.3 961.2V966.1M571.8 960.4V966.1M665.3 839V847.3M639.2 906.2V912.5M652.7 859.8V866.5M593.7 963.9V972.6M577 963.1V967.6M616.6 941.7V949.9M663.1 842.5V851.9M638.3 909V916.5M570.6 960.6V969.3M626 932.7V939.7M595.4 964.3V969.4M576.9 965.5V970.2M588 963.5V973.4M648.6 871.3V875.9M665.4 838.8V844.4M566 956.1V964.8M571.9 960.9V966.6M648.9 873.3V879.3M661.4 839.4V848.7M591.4 966.7V975M666.1 839.9V848.1M651 864V872.2M567 958.4V967.7" stroke="#ff33ff" stroke-width="0.8" fill="none"/>
<path d="M611.3 946H613.7M593.7 964.6H596.1M641.9 892.2H644.3M655.5 844.9H657.9M577.5 967.8H579.9M561.7 951.3H564.1M627.3 930.4H629.7M603.2 955.3H605.6M653.3 852.7H655.7M578.9 966.7H581.3M660.1 839.7H662.5M617.9 939.5H620.3M626.7 930.3H629.1M582.1 967.8H584.5M599.8 958.7H602.2M666.8 838.2H669.2M641.9 893.9H644.3M608.8 947.8H611.2M587.4 963.9H589.8M564 956H566.4M637.4 908H639.8M628.3 924.3H630.7M638.7 905.8H641.1M638.4 903H640.8M559.1 951.1H561.5M559 952.9H561.4M564.5 957H566.9M617.2 939.6H619.6M577.4 968.5H579.8M576.7 965.5H579.1M645.3 883.5H647.7M608.2 944.9H610.6M596.2 962.3H598.6M605.2 949.4H607.6M649.6 861.7H652M618.6 938.3H621M580.6 966.3H583M592.1 964.6H594.5M582.2 964.4H584.6M659.9 841.9H662.3M602.7 955.3H605.1M581 966.6H583.4M644.1 885.9H646.5M633.2 914.2H635.6M646 878.6H648.4M644.8 886.2H647.2M620.3 937.7H622.7M592.1 963.2H594.5M653 853.5H655.4M619.8 938.7H622.2M631.4 921.2H633.8M572.4 963H574.8M609.9 945.6H612.3M578.1 968.9H580.5M600.7 957.2H603.1M574.1 961.2H576.5M570.6 960.4H573M664.1 839H666.5M638 906.2H640.4M651.5 859.8H653.9M592.5 963.9H594.9M575.8 963.1H578.2M615.4 941.7H617.8M661.9 842.5H664.3M637.1 909H639.5M569.4 960.6H571.8M624.8 932.7H627.2M594.2 964.3H596.6M575.7 965.5H578.1M586.8 963.5H589.2M647.4 871.3H649.8M664.2 838.8H666.6M564.8 956.1H567.2M570.7 960.9H573.1M647.7 873.3H650.1M660.2 839.4H662.6M590.2 966.7H592.6M664.9 839.9H667.3M649.8 864H652.2M565.8 958.4H568.2" stroke="#ff33ff" stroke-width="0.6" fill="none"/>
<path d="M562.4 989.7V1000.6M568.2 993.6V1002.2M629 959V966.3M610.2 971V984.9M631.9 950.1V962.5M560.7 987V1000.2M644.2 935V945.8M645.3 939V944.3M606.3 980.4V987.6M663.3 897.7V908.8M597.9 980.8V993.5M591.6 986.9V997.9M588.9 991.9V999.4M631.1 957.3V963.6M577.4 994V1003.2M627 961.2V968.9M602.9 976.8V990M572.9 993.1V1003.4M572.6 989.8V1003.4M567.7 994.8V1002.1M619.2 968V978.5M594 984.2V996.2M626.1 959.7V970M658.4 916.1V921.4M583.1 993.2V1001.3M575.1 998.4V1004M614.7 974.6V981.7M581.3 994.6V1001.9M651.4 924.5V935.2M617.1 972V980M620.9 970V976.9M642.6 941.5V948.2M616.4 974.7V980.5M664.6 893.5V904.7M573.2 992.2V1003.5M632.7 949.4V961.5M665.5 888.1V900.6M588.8 989V999.4M571.8 996V1003.2M562.9 989.4V1000.8M625.6 957.5V970.7M562.8 991.4V1000.8M580.7 991.1V1002.1M629.4 954.7V965.8M605.6 979V988.1M608 980.2V986.4M572.5 997.9V1003.3M651.8 929.2V934.7M625.4 964.6V971M599.2 979.5V992.5M568.8 994.4V1002.3M661.6 902.4V913.2M569.3 995V1002.5M574.4 994.5V1003.8M588.2 987.8V999.6M576.4 997.3V1003.5M607.5 977.9V986.7M623.5 961.6V973.5M570.1 995.4V1002.7M657.2 914.3V924.4M633.8 952.8V960M562.3 989.3V1000.6M604.1 981.1V989.2M667.7 885.6V891.5M560.2 991.6V1000.1M571.9 996.4V1003.2M665.2 896.5V902.1M647 931.2V941.7M647.1 935.4V941.6M580.7 991.1V1002.1" stroke="#000" stroke-width="0.9" fill="none"/>
<path d="M561.1 989.7H563.7M566.9 993.6H569.5M627.7 959H630.3M608.9 971H611.5M630.6 950.1H633.2M559.4 987H562M642.9 935H645.5M644 939H646.6M605 980.4H607.6M662 897.7H664.6M596.6 980.8H599.2M590.3 986.9H592.9M587.6 991.9H590.2M629.8 957.3H632.4M576.1 994H578.7M625.7 961.2H628.3M601.6 976.8H604.2M571.6 993.1H574.2M571.3 989.8H573.9M566.4 994.8H569M617.9 968H620.5M592.7 984.2H595.3M624.8 959.7H627.4M657.1 916.1H659.7M581.8 993.2H584.4M573.8 998.4H576.4M613.4 974.6H616M580 994.6H582.6M650.1 924.5H652.7M615.8 972H618.4M619.6 970H622.2M641.3 941.5H643.9M615.1 974.7H617.7M663.3 893.5H665.9M571.9 992.2H574.5M631.4 949.4H634M664.2 888.1H666.8M587.5 989H590.1M570.5 996H573.1M561.6 989.4H564.2M624.3 957.5H626.9M561.5 991.4H564.1M579.4 991.1H582M628.1 954.7H630.7M604.3 979H606.9M606.7 980.2H609.3M571.2 997.9H573.8M650.5 929.2H653.1M624.1 964.6H626.7M597.9 979.5H600.5M567.5 994.4H570.1M660.3 902.4H662.9M568 995H570.6M573.1 994.5H575.7M586.9 987.8H589.5M575.1 997.3H577.7M606.2 977.9H608.8M622.2 961.6H624.8M568.8 995.4H571.4M655.9 914.3H658.5M632.5 952.8H635.1M561 989.3H563.6M602.8 981.1H605.4M666.4 885.6H669M558.9 991.6H561.5M570.6 996.4H573.2M663.9 896.5H666.5M645.7 931.2H648.3M645.8 935.4H648.4M579.4 991.1H582" stroke="#000" stroke-width="0.7" fill="none"/>
<path d="M485.4 838.8V843.2M486.1 878.6V882.8M487.1 917.7V924.3M487.5 933.7V937.7M488.4 953.4V957.6M489.2 965V970.4M489.7 969.6V973.9M490.2 970.9V976.1M491.2 971.4V976.4M491.9 971.4V975.7M492.5 970.2V976.6M493.1 970.3V975.6M493.9 971.8V975.2M494.2 969.8V975.5M495 970.1V974.5M495.6 967.9V972.1M496.2 967.3V971.2M497.1 967.7V972.7M497.5 967.5V972.6M498.1 967.9V972.8M498.9 966.7V972.9M499.6 966.8V972.2M500.3 969.2V973.2M500.7 968.5V972.5M501.7 967.5V974.3M502.7 969.2V973.8M503.3 968.9V972.5M503.6 967.8V972.4M504.2 968.5V973.9M505 968V972.3M505.5 968.1V973.8M506.4 966.5V973M507.2 967.3V971.9M508.1 966.6V969.7M509 966.8V969.6M509.9 965.4V970M510.6 965.3V968.9M511.2 964.2V969M512 963V967.7M512.7 963.1V968M513.4 963V968.7M514 962.5V967.7M515 963.5V966.3M515.4 963.3V967.3M516.3 963.5V967.5M517.3 961.5V966.5M518.1 962V967.3M518.9 962.1V967.1M519.7 962.4V966.7M520.5 962.3V966.4M521.5 962.1V968.6M521.8 964.3V967.5M522.3 964.2V968.3M523 963.1V969.1M523.3 964.8V968.3M524.2 965.2V968.8M524.7 966.3V970.5M525 964.5V969M525.5 965.2V971M526.3 967.6V970.5M527.1 967.1V973M527.8 968.2V973.8M528.3 968.8V974.1M528.9 970.9V973.2M529.4 971.3V973.5M530.1 970.3V975.2M531.1 971.1V976.9M531.9 973.2V976.3M532.4 972.3V976.4M533.2 973.8V977M534.1 973.9V977.4M535.1 973.1V977.5M535.5 973.4V977.7M536.1 975.4V978.3M536.8 975.3V978.6M537.8 974.4V979.3M538.8 974V979.3M539.2 976.4V979.2M539.6 975.4V979.9M540.3 976.3V980.3M540.8 975V979.2M541.7 976.9V981.1M542.2 975.2V981M543 976.3V980.3M543.8 977.1V982.3M544.1 976.8V983.1M544.7 978.4V982.8M545.3 979.2V984.3M546.2 980.9V984.4M546.9 981.7V987.3M547.4 984.6V989.2M548 986.2V989M548.3 986V990.1M548.9 988.7V991.7M549.3 989V992M549.9 990.6V993.2M550.9 992.9V995.5M551.4 993.5V997.1M551.8 993V998M552.4 994.6V999.3M553.4 995.7V1000.8M554.2 995.8V1002.3M554.6 996.8V1002.9M555.3 998.7V1003.1M556.2 998.7V1004M557.1 1000.1V1003.3M557.8 999V1003.5M558.4 999.8V1004.3M558.9 1001.1V1006.5M559.9 1001.5V1005.8M560.5 1002.4V1007.2M561.3 1002.2V1006M562.1 1004V1007M562.4 1003.2V1008.5M562.7 1002.7V1009.4M563.4 1004V1009.8M564 1004.3V1008.2M564.9 1005.6V1011.2M565.7 1005.8V1011.7M566.3 1007.9V1011.3M566.7 1007.4V1012M567.3 1007.1V1011.1M567.9 1008.5V1011.9M568.3 1008.2V1014.2M568.7 1008.2V1013.1M569.4 1008.2V1013.6M570.1 1009V1014.7M570.5 1009.7V1014.5M571.2 1010.5V1015.5M571.7 1009.5V1016.2M572.4 1011.7V1015.5M573.4 1010.5V1015.6M574.1 1012.5V1017.4M574.7 1012.4V1015.4M575.5 1012.2V1016.3M576.4 1012.9V1017.3M577.3 1012.3V1018.3M577.7 1013.9V1017.8M578.1 1013.1V1018.7M578.8 1013V1018M579.5 1014.4V1017M580.1 1012.9V1018.1M581.1 1013.9V1016.9M581.9 1012.4V1018.9M582.9 1014.1V1018.3M583.4 1012.7V1018.8M584.3 1014V1018.5M585.1 1013.8V1019.4M586 1012.6V1019.4M586.4 1012.7V1018M587.4 1013.5V1018.2M587.7 1014.8V1017.2" stroke="#000" stroke-width="0.8" fill="none"/>
<path d="M487.2 953.4H489.6M488 965H490.4M489 970.9H491.4M490.7 971.4H493.1M494.4 967.9H496.8M495 967.3H497.4M496.3 967.5H498.7M497.7 966.7H500.1M498.4 966.8H500.8M500.5 967.5H502.9M503 968.5H505.4M503.8 968H506.2M505.2 966.5H507.6M508.7 965.4H511.1M510 964.2H512.4M510.8 963H513.2M512.2 963H514.6M512.8 962.5H515.2M515.1 963.5H517.5M516.9 962H519.3M520.6 964.3H523M521.8 963.1H524.2M524.3 965.2H526.7M525.1 967.6H527.5M531.2 972.3H533.6M532 973.8H534.4M532.9 973.9H535.3M533.9 973.1H536.3M534.3 973.4H536.7M534.9 975.4H537.3M538 976.4H540.4M538.4 975.4H540.8M541 975.2H543.4M541.8 976.3H544.2M546.2 984.6H548.6M547.7 988.7H550.1M550.2 993.5H552.6M550.6 993H553M553 995.8H555.4M555.9 1000.1H558.3M558.7 1001.5H561.1M560.9 1004H563.3M566.7 1008.5H569.1M568.2 1008.2H570.6M569.3 1009.7H571.7M570.5 1009.5H572.9M572.2 1010.5H574.6M573.5 1012.4H575.9M578.3 1014.4H580.7M581.7 1014.1H584.1M586.2 1013.5H588.6M586.5 1014.8H588.9" stroke="#000" stroke-width="0.6" fill="none"/>
<path d="M485.6 838.4V841.1M486.1 856.3V860.1M486.5 868.7V872.3M486.9 881.1V884.1M487.3 893.5V896.8M487.8 905.5V909.3M488.4 918.8V922.5M488.8 927.6V931.4M489.2 934.7V938.7M489.5 938.6V942.5M490.5 943.1V947.1M491.3 944.8V948.9M491.8 944.8V947.8M492.4 944.4V949.6M493.2 945.3V948.9M493.9 944.6V950.4M494.6 945.9V950.4M495.3 946.4V950.7M496.3 946.1V949.1M497.1 945.7V949.1M498.1 945.4V949.4M498.4 946V951M498.9 945.5V949.4M499.3 946.9V950.3M500.2 947V950.9M500.7 946V950M501.4 946V950.7M502 947V949.4M503 945.3V950.5M503.5 946V949.5M504.5 946.5V950.2M505.4 946.5V951.1M505.9 945.7V949.7M507 947.3V949.6M507.5 945.4V949.7M508 945.9V949.5M508.8 946V949.9M509.8 945.8V949M510.4 945.7V949.4M511 944.9V949.2M511.9 945.6V949.3M512.3 943.8V947.5M513 944.9V947.3M513.9 943.8V947.6M514.6 944.2V946.6M515.5 943.1V947.4M515.9 943.5V945.5M516.9 942.2V945.4M517.7 941.4V944.4M518 939.5V943.6M519 938.6V943.5M519.7 939.3V943.1M520.6 937.6V941.8M521.2 937V939.6M522.1 935.8V937.8M523 933.7V938.5M523.9 931.6V936.9M524.4 932V936.5M525.4 930.3V934.3M526.2 931.6V934.8M527 930.1V933M527.9 929V934.2M528.8 928.3V933.8M529.2 927.7V933.4M530.2 928.1V930.9M531.2 928.3V932.4M531.6 926.3V931M532.1 927.2V930.8M533 926.1V931.4M533.4 926.9V930.5M534.3 927.6V930.8M534.8 927.9V931.3M535.7 927.4V931.9M536.7 928V930.4M537.7 927.5V931.1M538.1 927.7V931M539 926.5V931.9M539.5 926.7V931.2M539.8 928.5V931.8M540.8 928V932.1M541.8 928.8V932.9M542.2 928.7V931.4M542.5 928.8V933.2M543.3 929.6V933.6M544.2 928.5V933.6M545.1 930.5V933.4M545.8 930.8V935.5M546.1 931.4V934.7M547.1 931.7V935.9M547.8 932.6V937.5M548.2 934.2V938.1M548.7 935.3V938.8M549.2 937.2V942M550.2 941.8V945.7M551.1 947.3V949.8M551.8 950.2V954M552.5 953.3V957.5M553 953.5V957.9M553.8 956.8V960.6M554.8 961.3V964.5M555.2 960.9V966M555.7 963.8V966.5M556.6 966.5V970.3M557.3 967V971.1M557.8 968.4V972.3M558.8 972.7V974.9M559.3 973.7V978.2M560.2 975.5V978.9M561.1 977.4V982.2M561.7 978.1V983M562.4 979.7V983.2M562.8 981.4V986M563.9 982.1V987.2M564.5 984.4V987.6M565 984.9V989.3M565.6 985.4V989.5M566.1 987V991.4M567 988.7V991.7M567.5 988.9V993M568.1 990.6V994.8M568.8 990.4V995.6M569.3 990.9V995.9M570.3 993.9V996.4M571.2 994.6V997.8M571.7 995.1V998.1M572.6 994.5V998.3M573.4 996.8V999.9M573.9 996.6V999.9M574.9 996.1V1001.5M575.9 997.6V1001.6M576.4 999V1002.7M577.4 997.8V1002.9M577.9 999.3V1003.2M578.5 999.5V1002.9M578.9 1000.5V1003.3M579.5 1000.4V1003.4" stroke="#1f1fff" stroke-width="0.8" fill="none"/>
<path d="M484.4 838.4H486.8M485.3 868.7H487.7M486.1 893.5H488.5M490.6 944.8H493M494.1 946.4H496.5M496.9 945.4H499.3M498.1 946.9H500.5M504.7 945.7H507.1M508.6 945.8H511M510.7 945.6H513.1M511.8 944.9H514.2M520 937H522.4M525.8 930.1H528.2M530.4 926.3H532.8M532.2 926.9H534.6M538.6 928.5H541M541 928.7H543.4M543.9 930.5H546.3M547 934.2H549.4M549 941.8H551.4M551.8 953.5H554.2M553.6 961.3H556M554 960.9H556.4M558.1 973.7H560.5M560.5 978.1H562.9M565.8 988.7H568.2M567.6 990.4H570M568.1 990.9H570.5M571.4 994.5H573.8M572.2 996.8H574.6M573.7 996.1H576.1M577.7 1000.5H580.1" stroke="#1f1fff" stroke-width="0.6" fill="none"/>
<path d="M490 945.6V948.6M490.4 945.4V949.4M491.3 945.5V948.1M491.8 945V948M492.2 945.6V948.7M493.2 945V947.8M493.6 944.9V948.3M494.2 943.7V947.5M494.7 944.5V948.3M495.3 944.6V947.1M495.9 944.7V948.1M496.3 944.5V948M497.3 945V947.5M498.1 943.8V947.3M498.6 944.2V947.4M499.4 945.5V948.9M500.2 945.8V949M500.6 945V949.4M501.2 945.2V949.3M501.6 946.6V950M502.2 945.9V949.7M502.8 945.6V949.7M503.2 947.3V950.6M503.6 947V950.2M504.4 946.5V950.1M505.2 947.8V950.9M505.7 947.6V949.8M506.4 948V951.5M507.1 947.3V950.2M507.5 946.6V951.3M508.1 946.3V950.2M508.7 946.3V950.3M509.4 946.9V949.6M509.8 946.8V949.2M510.1 946.5V950.1M510.6 946.6V948.9M511.1 946.6V949.8M511.6 945.1V949.3M512 945.7V948.6M512.5 946.1V948.4M513.4 945.4V947.9M514.3 945V948.2M514.8 944.7V948M515.2 944.5V947.4M516.2 943.1V946.3M516.9 942.9V945.4M517.6 941.5V945.3M518.5 941.4V944.2M518.8 941.2V943.6M519.6 939.8V944.2M520.1 939.9V943.9M520.5 940.4V943.7M520.9 940.4V942.7M521.6 939.5V943.7M522.3 938.7V942.4M522.7 939.5V942.5M523.4 939V942.5M524 938.6V941.8M524.9 938.1V940.8M525.2 938.3V941.1M525.6 937.8V940.5M526.1 938V941.3M526.6 938.4V941.9M527 938.6V941.6M527.4 936.8V940.4M528.4 937.9V940.8M529.1 937.3V940.4M529.6 937.2V940.5M530.4 937.7V939.5M530.9 936.7V940.8M531.7 936.7V939.5M532.5 936.8V939.6M532.9 936.4V939.7M533.8 936.7V940M534.5 937V939.6M535.3 936V939.9M536.2 936.9V940.7M536.7 937V941M537.7 936.7V941.4M538.1 936.6V941.1M539 937V941M539.5 937.6V941M540.2 937.4V942M541.1 939.1V942.5M542.1 939.1V942.6M542.8 938.5V942.9M543.1 939.9V941.7M544.2 939V943.2M545.1 939.9V943.2M545.6 939.8V943M546.3 940.9V943.2M546.8 940.2V943.4M547.6 940.7V943.4M548 941.2V943.7M548.5 941.6V945.9M549.4 944.5V947.3M550.1 946V949.3M550.7 947.4V951.5" stroke="#ff1f1f" stroke-width="0.8" fill="none"/>
<path d="M489.2 945.4H491.6M493.5 944.5H495.9M495.1 944.5H497.5M496.1 945H498.5M499 945.8H501.4M499.4 945H501.8M504 947.8H506.4M504.5 947.6H506.9M506.3 946.6H508.7M508.9 946.5H511.3M509.4 946.6H511.8M509.9 946.6H512.3M512.2 945.4H514.6M514 944.5H516.4M515 943.1H517.4M516.4 941.5H518.8M517.6 941.2H520M521.5 939.5H523.9M523.7 938.1H526.1M525.4 938.4H527.8M526.2 936.8H528.6M527.2 937.9H529.6M536.9 936.6H539.3M539.9 939.1H542.3M541.9 939.9H544.3M543 939H545.4M546.8 941.2H549.2M548.2 944.5H550.6M548.9 946H551.3" stroke="#ff1f1f" stroke-width="0.6" fill="none"/>
<path d="M485.6 837.3V841.8M486.5 869.9V875.3M487.2 887.4V893.3M488.1 911.6V917.1M488.5 923.7V927.3M488.9 933V937.7M489.4 942V945.5M489.9 951.3V956.4M490.6 957.1V960.6M491.4 956.9V961.1M492.3 955.8V959.9M492.8 956.3V961.1M493.4 953.9V959.9M494 952.5V957.6M494.5 953.3V957M495.3 951.2V955.9M496 950.2V955.4M496.5 951.3V954.3M496.9 949.8V955.7M497.6 951.5V954.5M498.5 950.2V955.4M499.5 952.3V956.1M500 953.5V956.5M500.6 952.8V957.5M501.1 953.5V957M501.8 953.6V957.5M502.6 955.5V960.2M503.5 956.1V961M504 956.3V960.4M504.9 955.4V959.8M505.5 956V961.4M506.2 956.3V960M506.6 955.3V961.2M507.6 956.5V959.7M508 955V960.4M508.9 955.3V960.2M509.5 954V959.9M510.1 953.9V958.1M510.5 955V958.7M511 954.6V958.7M511.8 953.3V957.9M512.2 952.2V955.9M513.2 952.4V955.1M514.1 950.3V955.9M514.7 950.5V953.3M515.7 949.2V952.5M516.5 948.7V951.9M517.2 947V950M517.8 946.8V949.3M518.6 943.3V948.7M519.1 942.5V946.8M520.1 941.6V946M521.1 940V944.7M521.7 938.6V942.6M522.7 935.5V939.6M523.4 935.5V937.7M524.1 933.2V936.2M524.8 930.2V933.2M525.4 927.3V932.3M526.4 925.3V930.2M527.1 923.1V928.4M528 922.8V926.6M528.5 921.1V926.3M529.2 919.6V925M529.8 919.1V924.9M530.7 919.6V923M531.2 919.5V923.5M531.8 919.5V924.2M532.1 918.7V922.3M532.6 919.7V923.4M533.1 918.7V922.2M533.8 917.1V921.1M534.6 917V921.6M535.5 918V921.2M535.8 918.1V921.8M536.8 918.5V921.1M537.3 916.4V921.2M538 918.1V922.6M538.4 916.8V920.9M539 918.3V921.7M540 918.4V920.7M540.8 917.8V922.6M541.8 918V922.1M542.6 917.6V921.4M543.1 918.8V922.5M544 919.2V921.6M544.4 918.8V923.7M545.3 919V922.1M546.3 919.8V924.7M546.7 919.8V924.9M547.2 921.6V925.5M547.7 922.9V926.7M548.2 924V927.8M549 925.5V931.4M549.6 929.2V933.5M550 930.6V934.5M550.9 933.3V936.6M551.7 935.1V939.4M552.1 937.5V940.7M552.6 937.6V941.7M553.1 940.8V945.4M553.9 944.7V948.5M554.9 948.8V951.6M555.3 950V953.3M555.8 951.2V955M556.5 953.4V958.9M557 956.4V961.2M557.6 957.4V961.8M558 958.6V962.9M558.9 960.6V965.2M559.7 964.9V967.1M560.2 965.8V969.6M560.8 966.9V972.1M561.2 967.6V971.3M561.8 969.1V973.8M562.6 971.1V976.1M563.5 973.9V977.6M564 975.4V978.4M564.8 977V979.5M565.7 978V983M566.2 977.5V982M566.8 978.5V982.9M567.6 979.8V985.8M568.4 981.7V986.2M569 982.4V986.1M569.7 982.4V987.1M570.7 985.7V988.7M571.7 985.3V989.2M572.1 986.5V991.2M572.5 987.5V990M573.3 986.2V992.3M573.9 987.2V990.8M574.6 987.9V991.5M575.2 988.3V992.8M575.7 988.2V992.7M576.1 988.2V992.7M577.1 989.3V991.9M577.8 987.8V992.6M578.7 988.8V993M579.2 988.2V993.3M579.7 989.6V991.9M580.5 987.5V992M581.1 987.8V992.7M582 988.9V992.1M582.5 988.2V991.8M583.5 988.3V993.4M583.9 988.3V992.2M584.7 988.6V993.1M585.6 988.5V992.7M586.4 987.9V992.2M587.1 989.6V992.2M588 987.9V993.2M588.9 987.8V992.6M589.5 989.1V993.4M590.5 988.5V992.3M591.4 988.3V991.7M592.1 988.7V993.4M593.1 987.6V991.3M593.8 988.8V991.9M594.6 987.7V993.1M595 987.8V993.1M595.5 988.7V992.1M596.4 987.3V991.1M597.3 987.9V992.5M597.8 988.4V990.5M598.3 988.3V991.6M598.7 987.9V991.7M599.1 987.9V991M599.7 987.4V990.2" stroke="#33962d" stroke-width="0.8" fill="none"/>
<path d="M486.9 911.6H489.3M492.2 953.9H494.6M494.1 951.2H496.5M499.4 952.8H501.8M503.7 955.4H506.1M504.3 956H506.7M510.6 953.3H513M514.5 949.2H516.9M518.9 941.6H521.3M521.5 935.5H523.9M523.6 930.2H526M524.2 927.3H526.6M528 919.6H530.4M528.6 919.1H531M534.3 918H536.7M535.6 918.5H538M538.8 918.4H541.2M542.8 919.2H545.2M543.2 918.8H545.6M550.9 937.5H553.3M551.4 937.6H553.8M554.6 951.2H557M555.8 956.4H558.2M556.4 957.4H558.8M560 967.6H562.4M565.6 978.5H568M567.2 981.7H569.6M570.9 986.5H573.3M574 988.3H576.4M576.6 987.8H579M578 988.2H580.4M578.5 989.6H580.9M582.3 988.3H584.7M588.3 989.1H590.7M590.2 988.3H592.6M595.2 987.3H597.6" stroke="#33962d" stroke-width="0.6" fill="none"/>
<path d="M485.6 837.1V842M486 852.4V857.3M486.8 877.4V881.3M487.8 903.7V908.2M488.2 914.8V917.7M488.6 921.9V926.1M489.2 932.8V938.2M489.9 938.1V942.4M490.3 938V944.3M491.3 938.4V942.4M491.7 938.6V944.3M492.1 937.4V943.8M492.8 938.6V941.7M493.7 937.8V941.5M494.1 937.8V943.2M494.7 936.7V940.9M495.5 936.4V942M495.9 937.3V942.1M496.6 937.2V940.5M497.2 937.9V940.5M497.8 936.6V941.5M498.3 936.3V942.8M498.9 937.9V941.1M499.5 936.4V942M500.3 937.5V941.4M501.2 938.6V944.2M502.1 938.8V943.3M502.5 939.3V944.9M503.5 939.6V945.4M504.3 939.7V943.9M505 940.3V945.2M505.6 941.2V945.7M506.6 941.9V945.1M507 942V946M507.3 940.5V945.4M507.7 941.5V945.3M508.7 940.5V944.4M509.1 940.9V946.1M509.4 941.2V944.2M510.1 939.3V943.4M510.5 938.5V943.2M511.2 940V944.6M511.7 938.5V942.9M512.7 938.9V942.5M513.7 937.9V940.9M514.1 935.8V940.9M515.2 937V939.6M516.1 933.7V938.4M516.8 934.7V937.8M517.1 931.6V937M518.1 931.7V935.5M518.5 930.6V934.8M519.3 927.7V931.2M520.2 924.5V929.9M520.8 924.4V928.9M521.4 921.2V925.6M521.8 921.5V926.8M522.6 920.8V923.3M523.3 917.3V923.7M524.1 917.9V922.2M524.8 916.8V919.2M525.4 914.6V918.5M526.3 913.2V917.2M526.7 913.7V917.7M527.6 910.6V915.4M528.4 910.6V916.3M529.2 909.8V913.8M529.6 910.8V914.5M530 910.8V915.3M530.6 909.8V913.5M531.3 909.3V913.3M532 909.1V912.5M532.4 909.3V913.8M532.8 907.6V912.1M533.7 907.6V912.2M534.4 908.7V911.2M535.3 907.8V912.8M536.2 908.2V912.3M537.2 905.8V912.5M538 907.9V911.6M538.5 906.7V911.4M539.4 906.7V912M540.1 908.2V912.7M540.6 908.1V912.6M541.1 907.8V912M541.7 906.5V912.2M542.3 906.5V911.5M543 907.8V912.7M543.4 906.7V912.7M544.3 907.4V913.8M545 908.8V913.1M545.7 909.3V912.3M546.2 909.8V913.6M547.1 911.4V915.2M547.8 913.9V918.2M548.2 914.4V920.1M548.9 918.3V923.6M549.4 920.1V923.6M550.3 923V926.9M550.9 927.2V930M551.3 928.5V932.4M552.2 931.8V936M553 936.3V941.4M554 939.5V945.4M554.8 943.1V947.6M555.8 946.4V950.1M556.3 948.1V950.9M557.1 949.1V953M557.6 949.3V954.3M557.9 950.2V955.7M558.8 952.8V958.3M559.4 955.1V958.5M559.8 954.5V958.9M560.4 956V960.5M561.2 958.8V961.4M562 959.8V964.3M563 960.4V963.6M564 961.4V964.8M564.9 961.1V965.3M565.3 960.6V966.9M565.7 963V966.5M566.3 963.3V967.1M566.7 963.3V967.2M567.7 963.9V967.4M568.3 963V968.6M568.9 964.5V967.9M569.5 964V968.4M570 965.1V967.6M570.7 965.1V968.6M571.4 964.4V969.6M571.7 964.5V968.7M572.4 964.3V968.5M573.4 963.8V969.7M574.4 964.9V968.4M574.7 965V968.1M575.6 964.4V969M576.3 963.8V970.2M577.1 964.7V968.2M577.8 965.3V969.4M578.7 963.2V968.1M579.4 964.4V970.1M580.4 964.3V967.9M580.8 964.7V969.7M581.2 964.6V969.6M581.6 964.9V967.3M582.5 964.1V967.4M583 962.7V968.7M583.4 964.1V967.8M584 962.4V967.4M585 963V967.7M585.9 963.3V967.3M586.8 962.6V967.5M587.6 961.7V965.5M587.9 962.6V965.7" stroke="#ff33ff" stroke-width="0.8" fill="none"/>
<path d="M487.4 921.9H489.8M488.7 938.1H491.1M492.9 937.8H495.3M494.3 936.4H496.7M496.6 936.6H499M497.7 937.9H500.1M501.3 939.3H503.7M502.3 939.6H504.7M503.8 940.3H506.2M504.4 941.2H506.8M505.4 941.9H507.8M505.8 942H508.2M508.2 941.2H510.6M510 940H512.4M517.3 930.6H519.7M520.6 921.5H523M521.4 920.8H523.8M522.9 917.9H525.3M525.1 913.2H527.5M528 909.8H530.4M528.4 910.8H530.8M530.1 909.3H532.5M531.6 907.6H534M538.2 906.7H540.6M538.9 908.2H541.3M541.1 906.5H543.5M542.2 906.7H544.6M543.8 908.8H546.2M544.5 909.3H546.9M545 909.8H547.4M551 931.8H553.4M556.4 949.3H558.8M558.6 954.5H561M560.8 959.8H563.2M564.1 960.6H566.5M565.1 963.3H567.5M568.3 964H570.7M569.5 965.1H571.9M570.2 964.4H572.6M570.5 964.5H572.9M573.2 964.9H575.6M576.6 965.3H579M578.2 964.4H580.6M580.4 964.9H582.8M581.8 962.7H584.2M582.8 962.4H585.2M583.8 963H586.2M584.7 963.3H587.1M585.6 962.6H588M586.4 961.7H588.8" stroke="#ff33ff" stroke-width="0.6" fill="none"/>
<path d="M485.6 837V841.9M486 851.8V856.1M486.3 864V868.1M486.7 875.6V879.8M487.2 889V891.6M488.1 914.3V919.7M488.8 930.5V935.4M489.2 938.1V945M489.8 948V951.6M490.4 951V954.2M490.7 949.4V954.6M491.4 949.6V956.4M492.3 949.6V954.9M492.6 950.4V955.5M493.3 947.7V952.7M494.3 945.1V951.7M495.2 942.8V946.9M495.5 941V946.3M496.1 942.3V945M497.1 940.9V946M497.6 942.2V945.2M498.2 941.6V947.2M498.8 943.3V949M499.5 943.7V949.3M500.3 946V949M500.7 944.7V951M501.7 948.1V951.3M502.7 949.4V953.9M503.2 950.2V957.1M503.6 952V956.5M504.2 955.2V959.1M504.7 954.5V960.4M505.3 957.8V961.8M506.2 959.3V962.7M507 958.6V965M507.8 958.9V963.8M508.2 957.6V963.4M508.9 958.7V963M509.8 958.3V963.5M510.7 958.1V961.9M511.2 955.6V961.4M511.8 956.2V961M512.2 956.2V961.6M513.1 954.5V960.5M513.6 952.9V958.8M514.6 949V954.1M515 948.9V953.3M515.4 947.8V952.9M516.2 945.3V951.3M517 941.6V947.6M518 938.3V942.7M518.9 934.3V939.4M519.9 931.6V936.5M520.9 926.9V930.2M521.4 922.8V929.1M521.8 920.9V927.7M522.2 920.3V925.4M523.1 915.8V918.5M523.8 909.9V915M524.5 906.4V910.3M525 903V907.8M525.5 899V904.1M526.5 894.3V898.6M527.5 887.9V893.1M528.1 884.5V891.8M528.7 884V888.3M529.2 880.7V888M529.9 878.2V883.3M530.7 877.8V881M531.1 875.3V880.3M531.6 873.1V878.6M532 871.8V878.2M532.4 871.9V878M532.8 872.7V875.7M533.5 870.9V875.4M534 870.5V873.4M534.7 867.3V874.9M535.4 867.7V871.3M536 866.2V871.2M536.7 866.7V870.6M537.5 864.9V871.2M538.4 867.6V871.6M539 867V872.5M539.8 869.5V875.1M540.4 869.2V874.7M541.4 870.3V876.9M541.9 872.6V877.8M542.7 872.3V879.3M543.4 873.9V878.7M544 873.4V879.3M544.7 874.1V879.6M545.6 876.3V881.7M546.6 876.7V881.9M547.3 879.2V882.5M548.3 880.5V885.9M548.9 884.1V890.5M549.5 887V894.6M550 890.9V896.8M550.9 898.9V903.5M551.3 900.3V906.7M552.1 907.7V912.8M552.9 914.9V919.2M553.5 917.7V923.2M554.5 925V930.3M555.4 928.7V936.1M556.4 934.4V938.2M556.9 937.3V941.1M557.6 939.8V944.7M558.5 943.1V948.9M559.5 945.7V952.4M560 947V951.2M561 951.3V955.4M561.7 952.8V957.9M562.6 954.7V957.6M563.4 955V961.3M564.4 956.3V963M565.1 957.1V962.5M565.7 957.4V964M566.4 959.1V965.2M567.4 961.1V964.9M568.4 960.9V967.1M568.8 961.4V968.3M569.6 962.3V969.6M570.7 963.5V968.9M571.1 964.7V969.8M571.5 965.1V970.7M572.4 965.7V971M573.4 966.2V970.3M573.7 965.2V972.1M574.3 967.7V971.7M575 966.8V972.8M575.6 968.6V972.7M576.5 968.6V972.9M576.8 968.9V974.2M577.3 968.2V972.8M577.9 967.6V973.9M578.3 969.7V973M578.7 967.9V974.3M579.4 967.7V974.7M579.7 969.9V974.1M580.5 968.8V973.4M581.6 970V974.9M582.6 968.9V975.8M583 969.5V973.4M583.8 970V975.6M584.2 969.4V975.3M584.7 970.4V974.1M585.6 969.6V975.7M586.4 970.5V974.1M586.8 968.7V975.3M587.2 969.6V975.8M587.6 969.7V974.6M588.5 970.8V973.6M589.3 968.7V974.5M589.6 969.8V973.8M590 970.4V974.2M590.7 969.5V975M591.4 968.7V975.1M592.2 968.5V974.7M593 970.7V974" stroke="#f0882e" stroke-width="0.8" fill="none"/>
<path d="M484.8 851.8H487.2M485.1 864H487.5M487.6 930.5H490M489.2 951H491.6M489.5 949.4H491.9M490.2 949.6H492.6M491.4 950.4H493.8M492.1 947.7H494.5M494 942.8H496.4M494.9 942.3H497.3M497.6 943.3H500M499.5 944.7H501.9M502 950.2H504.4M503.5 954.5H505.9M515 945.3H517.4M519.7 926.9H522.1M520.2 922.8H522.6M525.3 894.3H527.7M529.9 875.3H532.3M530.8 871.8H533.2M531.2 871.9H533.6M533.5 867.3H535.9M534.8 866.2H537.2M537.2 867.6H539.6M540.2 870.3H542.6M541.5 872.3H543.9M542.2 873.9H544.6M547.7 884.1H550.1M550.1 900.3H552.5M550.9 907.7H553.3M554.2 928.7H556.6M557.3 943.1H559.7M570.3 965.1H572.7M573.8 966.8H576.2M574.4 968.6H576.8M575.3 968.6H577.7M576.1 968.2H578.5M577.1 969.7H579.5M578.2 967.7H580.6M580.4 970H582.8M583 969.4H585.4M583.5 970.4H585.9M585.2 970.5H587.6M588.4 969.8H590.8M590.2 968.7H592.6M591 968.5H593.4" stroke="#f0882e" stroke-width="0.6" fill="none"/>
<polyline points="485.4,840 486.3,894.1 487.3,928.9 488.2,952.2 489.2,968.3 490.1,973.7 491.1,973.7 492,973.7 492.9,973.7 493.9,973.3 494.8,971.8 495.8,970.2 496.7,969.5 497.7,969.6 498.6,969.9 499.5,970.2 500.5,970.5 501.4,970.9 502.4,971.1 503.3,971.2 504.3,971.1 505.2,970.7 506.1,970.2 507.1,969.5 508,968.7 509,967.9 509.9,967.2 510.9,966.6 511.8,966.1 512.8,965.8 513.7,965.5 514.6,965.2 515.6,964.9 516.5,964.6 517.5,964.5 518.4,964.4 519.4,964.5 520.3,964.8 521.2,965.2 522.2,965.8 523.1,966.4 524.1,967.1 525,967.9 526,969 526.9,970.1 527.8,971.1 528.8,972 529.7,972.7 530.7,973.4 531.6,974 532.6,974.6 533.5,975.2 534.4,975.7 535.4,976.2 536.3,976.6 537.3,976.9 538.2,977.2 539.2,977.5 540.1,977.8 541,978.1 542,978.6 542.9,979.1 543.9,979.9 544.8,980.9 545.8,982.1 546.7,984 547.6,986.6 548.6,989.3 549.5,991.4 550.5,993.2 551.4,995 552.4,996.5 553.3,998 554.2,999.1 555.2,1000.1 556.1,1001 557.1,1001.8 558,1002.5 559,1003.2 559.9,1003.9 560.8,1004.5 561.8,1005.2 562.7,1005.9 563.7,1006.7 564.6,1007.5 565.6,1008.4 566.5,1009.3 567.5,1010.1 568.4,1010.9 569.3,1011.6 570.3,1012.2 571.2,1012.7 572.2,1013.1 573.1,1013.6 574.1,1014 575,1014.3 575.9,1014.7 576.9,1014.9 577.8,1015.2 578.8,1015.4 579.7,1015.5 580.7,1015.6 581.6,1015.7 582.5,1015.8 583.5,1015.8 584.4,1015.9 585.4,1015.9 586.3,1016 587.3,1016 588.2,1016" fill="none" stroke="#000" stroke-width="3.2" stroke-linejoin="round" stroke-linecap="round"/>
<polyline points="485.6,840 486.5,870.6 487.3,895.9 488.2,916.8 489.1,935.3 489.9,944.8 490.8,946 491.7,946.8 492.5,947.3 493.4,947.5 494.3,947.6 495.1,947.7 496,947.8 496.9,947.9 497.7,948 498.6,948 499.5,948.1 500.3,948.1 501.2,948.2 502.1,948.2 502.9,948.2 503.8,948.3 504.7,948.3 505.5,948.3 506.4,948.3 507.3,948.3 508.1,948.2 509,948 509.8,947.7 510.7,947.4 511.6,947 512.4,946.5 513.3,946.1 514.2,945.6 515,945 515.9,944.5 516.8,943.7 517.6,942.8 518.5,941.7 519.4,940.6 520.2,939.4 521.1,938.1 522,936.9 522.8,935.8 523.7,934.8 524.6,933.9 525.4,933.1 526.3,932.5 527.2,931.9 528,931.3 528.9,930.7 529.8,930.2 530.6,929.7 531.5,929.3 532.4,929 533.2,928.8 534.1,928.8 535,928.8 535.8,928.9 536.7,929 537.6,929.2 538.4,929.4 539.3,929.6 540.2,929.8 541,930.1 541.9,930.3 542.8,930.6 543.6,931 544.5,931.6 545.4,932.3 546.2,933.1 547.1,934.2 548,935.5 548.8,938.2 549.7,941.9 550.6,946 551.4,950.2 552.3,954 553.2,957 554,959.9 554.9,962.7 555.8,965.4 556.6,968 557.5,970.4 558.3,972.8 559.2,974.9 560.1,977 560.9,979 561.8,980.9 562.7,982.8 563.5,984.5 564.4,986.1 565.3,987.7 566.1,989.1 567,990.4 567.9,991.6 568.7,992.9 569.6,994 570.5,995 571.3,996 572.2,996.9 573.1,997.6 573.9,998.4 574.8,999 575.7,999.7 576.5,1000.3 577.4,1000.8 578.3,1001.3 579.1,1001.7 580,1002" fill="none" stroke="#1f1fff" stroke-width="4.2" stroke-linejoin="round" stroke-linecap="round"/>
<polyline points="490,947 490.6,946.8 491.1,946.7 491.7,946.5 492.2,946.4 492.8,946.3 493.4,946.2 493.9,946.1 494.5,946.1 495,946.1 495.6,946 496.2,946 496.7,946 497.3,946 497.8,946.1 498.4,946.2 499,946.4 499.5,946.6 500.1,946.8 500.6,947.1 501.2,947.3 501.8,947.6 502.3,947.9 502.9,948.2 503.4,948.4 504,948.6 504.6,948.8 505.1,948.9 505.7,949 506.2,949 506.8,949 507.3,948.9 507.9,948.8 508.5,948.7 509,948.5 509.6,948.4 510.1,948.2 510.7,948 511.3,947.7 511.8,947.5 512.4,947.3 512.9,947 513.5,946.7 514.1,946.5 514.6,946.2 515.2,945.9 515.7,945.5 516.3,945.1 516.9,944.6 517.4,944.1 518,943.6 518.5,943.1 519.1,942.6 519.7,942.2 520.2,941.9 520.8,941.6 521.3,941.3 521.9,941.1 522.5,940.8 523,940.6 523.6,940.4 524.1,940.2 524.7,940 525.3,939.9 525.8,939.7 526.4,939.6 526.9,939.4 527.5,939.2 528.1,939.1 528.6,938.9 529.2,938.8 529.7,938.7 530.3,938.5 530.9,938.4 531.4,938.3 532,938.2 532.5,938.2 533.1,938.1 533.7,938.1 534.2,938.1 534.8,938.2 535.3,938.2 535.9,938.3 536.4,938.5 537,938.7 537.6,938.8 538.1,939.1 538.7,939.3 539.2,939.5 539.8,939.7 540.4,939.9 540.9,940.2 541.5,940.4 542,940.6 542.6,940.8 543.2,940.9 543.7,941.1 544.3,941.2 544.8,941.3 545.4,941.5 546,941.7 546.5,941.9 547.1,942.2 547.6,942.5 548.2,943.1 548.8,944.1 549.3,945.4 549.9,946.8 550.4,948.4 551,950" fill="none" stroke="#ff1f1f" stroke-width="3.2" stroke-linejoin="round" stroke-linecap="round"/>
<polyline points="485.6,840 486.5,873.3 487.5,899.6 488.4,921.6 489.4,938.3 490.3,941.5 491.2,941.2 492.2,940.8 493.1,940.3 494.1,939.8 495,939.4 496,939.1 496.9,939 497.8,939.2 498.8,939.5 499.7,939.9 500.7,940.5 501.6,941 502.5,941.6 503.5,942.2 504.4,942.6 505.4,943 506.3,943.2 507.2,943.2 508.2,943 509.1,942.7 510.1,942.3 511,941.7 512,941 512.9,940.3 513.8,939.5 514.8,938.6 515.7,937.6 516.7,936.1 517.6,934 518.5,931.6 519.5,929.1 520.4,926.6 521.4,924.4 522.3,922.5 523.3,920.8 524.2,919 525.1,917.4 526.1,915.8 527,914.5 528,913.4 528.9,912.6 529.8,912 530.8,911.5 531.7,911 532.7,910.5 533.6,910.1 534.5,909.7 535.5,909.5 536.4,909.3 537.4,909.3 538.3,909.3 539.3,909.4 540.2,909.5 541.1,909.6 542.1,909.8 543,910 544,910.3 544.9,910.6 545.8,911 546.8,912.6 547.7,915.6 548.7,919.2 549.6,922.7 550.5,926.8 551.5,931.2 552.4,935.8 553.4,939.9 554.3,943.2 555.3,946.1 556.2,948.8 557.1,951.4 558.1,953.8 559,956.1 560,958 560.9,959.7 561.8,961 562.8,962 563.7,962.7 564.7,963.4 565.6,964.1 566.6,964.7 567.5,965.3 568.4,965.8 569.4,966.2 570.3,966.5 571.3,966.7 572.2,966.9 573.1,966.9 574.1,966.9 575,966.9 576,966.9 576.9,966.8 577.8,966.8 578.8,966.7 579.7,966.6 580.7,966.5 581.6,966.3 582.6,966.1 583.5,965.8 584.4,965.5 585.4,965.1 586.3,964.7 587.3,964.2 588.2,963.6" fill="none" stroke="#ff33ff" stroke-width="4.5" stroke-linejoin="round" stroke-linecap="round"/>
<polyline points="485.6,840 486.6,876.1 487.7,904.9 488.7,931.5 489.8,952.9 490.8,960.2 491.9,959.4 492.9,957.7 494,955.7 495,953.8 496.1,952.7 497.1,952.6 498.2,953.1 499.2,953.9 500.3,954.9 501.3,956 502.4,957.1 503.4,957.9 504.5,958.4 505.5,958.5 506.6,958.3 507.6,957.9 508.7,957.3 509.7,956.6 510.8,955.8 511.8,954.9 512.9,954 513.9,953.1 515,952 516,950.6 517.1,949 518.1,947.3 519.2,945.4 520.2,943.4 521.3,941.4 522.3,939.3 523.4,936.7 524.4,933.5 525.5,930.2 526.5,927.1 527.6,924.6 528.6,923 529.7,922.3 530.7,921.6 531.8,921 532.8,920.5 533.9,920.1 534.9,919.8 536,919.6 537,919.5 538.1,919.5 539.1,919.6 540.2,919.7 541.2,919.9 542.3,920.1 543.3,920.4 544.4,920.7 545.4,921.1 546.5,921.8 547.5,923.9 548.6,926.9 549.6,930.5 550.7,934 551.7,937.4 552.8,941.3 553.8,945.6 554.9,949.9 555.9,954.1 557,957.9 558,961.1 559.1,964.2 560.1,967.2 561.2,970.1 562.2,972.7 563.3,975.2 564.3,977.4 565.4,979.4 566.4,981 567.5,982.5 568.5,984 569.6,985.4 570.6,986.7 571.7,987.9 572.7,989 573.8,989.8 574.8,990.4 575.9,990.7 576.9,990.7 578,990.7 579,990.7 580.1,990.7 581.1,990.7 582.2,990.7 583.2,990.7 584.3,990.7 585.3,990.7 586.4,990.7 587.4,990.7 588.5,990.7 589.5,990.7 590.6,990.6 591.6,990.5 592.7,990.4 593.7,990.2 594.8,990.1 595.8,989.9 596.9,989.7 597.9,989.4 599,989.2 600,989" fill="none" stroke="#33962d" stroke-width="4.5" stroke-linejoin="round" stroke-linecap="round"/>
<polyline points="485.6,840 486.6,873.6 487.6,902 488.6,929.5 489.6,949.4 490.5,952.7 491.5,953.4 492.5,952.5 493.5,950.1 494.5,947.1 495.5,944.5 496.5,943.2 497.5,943.5 498.4,944.5 499.4,946 500.4,947.7 501.4,949.5 502.4,951.5 503.4,954.3 504.4,957.4 505.4,960.1 506.3,961.7 507.3,961.8 508.3,961.5 509.3,960.9 510.3,960.1 511.3,959.1 512.3,958 513.3,956.2 514.3,953.7 515.2,950.7 516.2,947.5 517.2,944.2 518.2,940.6 519.2,936.5 520.2,932.2 521.2,927.5 522.2,922.6 523.1,917 524.1,910.6 525.1,904.1 526.1,898 527.1,892.8 528.1,888.6 529.1,884.7 530.1,881.1 531.1,878.1 532,875.7 533,873.8 534,872 535,870.4 536,869.2 537,868.6 538,868.8 539,869.9 539.9,871.4 540.9,873.2 541.9,874.8 542.9,875.9 543.9,876.8 544.9,877.5 545.9,878.3 546.9,879.5 547.8,881.4 548.8,886.2 549.8,893.1 550.8,900.2 551.8,907.5 552.8,915.5 553.8,923 554.8,928.9 555.8,934 556.7,938.6 557.7,942.7 558.7,946.2 559.7,949.1 560.7,951.7 561.7,954.1 562.7,956.2 563.7,958.1 564.6,959.8 565.6,961.3 566.6,962.6 567.6,963.8 568.6,965 569.6,966 570.6,967 571.6,967.8 572.6,968.4 573.5,968.9 574.5,969.4 575.5,969.9 576.5,970.3 577.5,970.8 578.5,971.1 579.5,971.4 580.5,971.7 581.4,971.9 582.4,972 583.4,972 584.4,972 585.4,972 586.4,972 587.4,972 588.4,972 589.3,972 590.3,972 591.3,972 592.3,972 593.3,972" fill="none" stroke="#f0882e" stroke-width="5.5" stroke-linejoin="round" stroke-linecap="round"/>
<polyline points="485.4,848 486.2,880 486.8,910 487.8,945 489,968 490,974" fill="none" stroke="#000" stroke-width="2.4" stroke-linejoin="round" stroke-linecap="round"/>
</g>
<line x1="479.1" y1="847.8" x2="669.4" y2="847.8" stroke="#5a5a5a" stroke-width="1"/>
<line x1="669.4" y1="847.8" x2="669.4" y2="1024.2" stroke="#5a5a5a" stroke-width="1"/>
<line x1="479.1" y1="847.8" x2="479.1" y2="1024.2" stroke="#222" stroke-width="1.1"/>
<line x1="478.6" y1="1024.2" x2="669.4" y2="1024.2" stroke="#222" stroke-width="1.1"/>
<line x1="475.1" y1="892.6" x2="479.1" y2="892.6" stroke="#222" stroke-width="0.9"/>
<line x1="475.1" y1="958.4" x2="479.1" y2="958.4" stroke="#222" stroke-width="0.9"/>
<line x1="475.1" y1="1024.2" x2="479.1" y2="1024.2" stroke="#222" stroke-width="0.9"/>
<line x1="479.1" y1="1024.2" x2="479.1" y2="1028.2" stroke="#222" stroke-width="0.9"/>
<line x1="530" y1="1024.2" x2="530" y2="1028.2" stroke="#222" stroke-width="0.9"/>
<line x1="580.9" y1="1024.2" x2="580.9" y2="1028.2" stroke="#222" stroke-width="0.9"/>
<line x1="631.8" y1="1024.2" x2="631.8" y2="1028.2" stroke="#222" stroke-width="0.9"/>
<line x1="504.6" y1="1024.2" x2="504.6" y2="1026.7" stroke="#222" stroke-width="0.9"/>
<line x1="555.5" y1="1024.2" x2="555.5" y2="1026.7" stroke="#222" stroke-width="0.9"/>
<line x1="606.4" y1="1024.2" x2="606.4" y2="1026.7" stroke="#222" stroke-width="0.9"/>
<line x1="657.2" y1="1024.2" x2="657.2" y2="1026.7" stroke="#222" stroke-width="0.9"/>
<text x="465.3" y="861.5" font-size="13.6" text-anchor="middle" fill="#1e1e1e">O</text>
<text x="461" y="897.1" font-size="13.6" text-anchor="middle" fill="#1e1e1e">0.6</text>
<text x="461" y="1028.7" font-size="13.6" text-anchor="middle" fill="#1e1e1e">0.3</text>
<text x="479.1" y="1042" font-size="13.6" text-anchor="middle" fill="#1e1e1e">0</text>
<text x="530" y="1042" font-size="13.6" text-anchor="middle" fill="#1e1e1e">20</text>
<text x="580.9" y="1042" font-size="13.6" text-anchor="middle" fill="#1e1e1e">40</text>
<text x="631.8" y="1042" font-size="13.6" text-anchor="middle" fill="#1e1e1e">60</text>
<text x="467.5" y="944" font-size="12.5" text-anchor="middle" fill="#1e1e1e" transform="rotate(-90 467.5 944)">(<tspan font-style="italic">q</tspan>R<tspan dy="3" font-size="8.5">g</tspan><tspan dy="-3">)</tspan><tspan dy="-5" font-size="8.5">2</tspan><tspan dy="5">*</tspan><tspan font-style="italic">I</tspan>(<tspan font-style="italic">q</tspan>)/<tspan font-style="italic">I</tspan>(0)</text>
<text x="573" y="1054" font-size="13" text-anchor="middle" fill="#1e1e1e"><tspan font-style="italic">q</tspan>R<tspan dy="3" font-size="8.5">g</tspan></text>
</svg></body></html>
